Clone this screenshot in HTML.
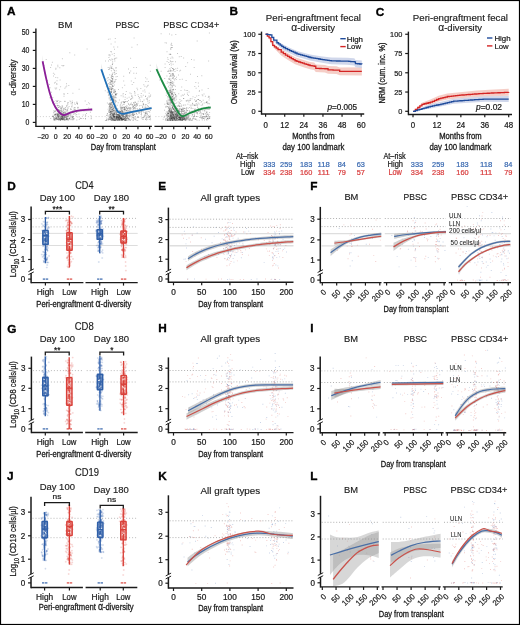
<!DOCTYPE html>
<html><head><meta charset="utf-8"><style>
html,body{margin:0;padding:0;background:#fff;width:520px;height:625px;overflow:hidden}
svg{display:block;will-change:transform}
text{font-family:"Liberation Sans", sans-serif}
</style></head><body>
<svg xmlns="http://www.w3.org/2000/svg" width="520" height="625" viewBox="0 0 520 625">
<rect x="0.5" y="0.5" width="519" height="624" fill="none" stroke="#000" stroke-width="1.2"/>
<text x="6.90" y="15.20" font-size="11.8" font-weight="bold" fill="#000" stroke="#000" stroke-width="0.35">A</text>
<text x="229.50" y="15.20" font-size="11.8" font-weight="bold" fill="#000" stroke="#000" stroke-width="0.35">B</text>
<text x="375.70" y="15.90" font-size="11.8" font-weight="bold" fill="#000" stroke="#000" stroke-width="0.35">C</text>
<text x="7.30" y="190.00" font-size="11.8" font-weight="bold" fill="#000" stroke="#000" stroke-width="0.35">D</text>
<text x="158.30" y="189.60" font-size="11.8" font-weight="bold" fill="#000" stroke="#000" stroke-width="0.35">E</text>
<text x="310.20" y="189.60" font-size="11.8" font-weight="bold" fill="#000" stroke="#000" stroke-width="0.35">F</text>
<text x="7.30" y="332.50" font-size="11.8" font-weight="bold" fill="#000" stroke="#000" stroke-width="0.35">G</text>
<text x="158.30" y="332.20" font-size="11.8" font-weight="bold" fill="#000" stroke="#000" stroke-width="0.35">H</text>
<text x="310.30" y="332.20" font-size="11.8" font-weight="bold" fill="#000" stroke="#000" stroke-width="0.35">I</text>
<text x="7.10" y="479.80" font-size="11.8" font-weight="bold" fill="#000" stroke="#000" stroke-width="0.35">J</text>
<text x="158.30" y="479.60" font-size="11.8" font-weight="bold" fill="#000" stroke="#000" stroke-width="0.35">K</text>
<text x="310.30" y="479.60" font-size="11.8" font-weight="bold" fill="#000" stroke="#000" stroke-width="0.35">L</text>
<line x1="35.90" y1="28.50" x2="35.90" y2="127.10" stroke="#1a1a1a" stroke-width="1.4"/>
<line x1="32.80" y1="122.40" x2="35.90" y2="122.40" stroke="#1a1a1a" stroke-width="1.2"/>
<text x="29.40" y="125.35" font-size="8.3" text-anchor="end" fill="#1a1a1a" textLength="3.85" lengthAdjust="spacingAndGlyphs" stroke="#1a1a1a" stroke-width="0.22">0</text>
<line x1="32.80" y1="104.40" x2="35.90" y2="104.40" stroke="#1a1a1a" stroke-width="1.2"/>
<text x="29.40" y="107.35" font-size="8.3" text-anchor="end" fill="#1a1a1a" textLength="7.7" lengthAdjust="spacingAndGlyphs" stroke="#1a1a1a" stroke-width="0.22">10</text>
<line x1="32.80" y1="86.40" x2="35.90" y2="86.40" stroke="#1a1a1a" stroke-width="1.2"/>
<text x="29.40" y="89.35" font-size="8.3" text-anchor="end" fill="#1a1a1a" textLength="7.7" lengthAdjust="spacingAndGlyphs" stroke="#1a1a1a" stroke-width="0.22">20</text>
<line x1="32.80" y1="68.40" x2="35.90" y2="68.40" stroke="#1a1a1a" stroke-width="1.2"/>
<text x="29.40" y="71.35" font-size="8.3" text-anchor="end" fill="#1a1a1a" textLength="7.7" lengthAdjust="spacingAndGlyphs" stroke="#1a1a1a" stroke-width="0.22">30</text>
<line x1="32.80" y1="50.40" x2="35.90" y2="50.40" stroke="#1a1a1a" stroke-width="1.2"/>
<text x="29.40" y="53.35" font-size="8.3" text-anchor="end" fill="#1a1a1a" textLength="7.7" lengthAdjust="spacingAndGlyphs" stroke="#1a1a1a" stroke-width="0.22">40</text>
<line x1="32.80" y1="32.40" x2="35.90" y2="32.40" stroke="#1a1a1a" stroke-width="1.2"/>
<text x="29.40" y="35.35" font-size="8.3" text-anchor="end" fill="#1a1a1a" textLength="7.7" lengthAdjust="spacingAndGlyphs" stroke="#1a1a1a" stroke-width="0.22">50</text>
<text x="16.40" y="77.50" font-size="8.6" text-anchor="middle" fill="#1a1a1a" textLength="36" lengthAdjust="spacingAndGlyphs" stroke="#1a1a1a" stroke-width="0.22" transform="rotate(-90 16.40 77.50)"><tspan font-family="Liberation Sans">α</tspan>-diversity</text>
<text x="65.20" y="27.90" font-size="9.6" text-anchor="middle" fill="#1a1a1a" textLength="14.3" lengthAdjust="spacingAndGlyphs" stroke="#1a1a1a" stroke-width="0.15">BM</text>
<line x1="36.90" y1="116.60" x2="92.70" y2="116.60" stroke="#c4c4c4" stroke-width="0.8" stroke-dasharray="1,2"/>
<path fill="#2a2a2a" fill-opacity="0.26" d="M68.1 114.4h1v1h-1zM61.6 117.0h1v1h-1zM59.5 109.9h1v1h-1zM57.3 64.7h1v1h-1zM77.5 107.2h1v1h-1zM73.5 107.8h1v1h-1zM61.0 116.2h1v1h-1zM72.6 116.5h1v1h-1zM76.2 113.9h1v1h-1zM64.8 112.8h1v1h-1zM77.3 116.6h1v1h-1zM63.0 112.4h1v1h-1zM57.7 114.0h1v1h-1zM57.4 115.5h1v1h-1zM51.9 61.8h1v1h-1zM57.8 116.0h1v1h-1zM58.3 111.1h1v1h-1zM61.8 118.6h1v1h-1zM72.6 118.6h1v1h-1zM61.6 115.5h1v1h-1z"/>
<path fill="#2a2a2a" fill-opacity="0.26" d="M88.2 107.6h1v1h-1zM61.0 112.2h1v1h-1zM61.8 116.6h1v1h-1zM66.0 83.2h1v1h-1zM63.1 114.3h1v1h-1zM63.1 116.7h1v1h-1zM62.8 119.0h1v1h-1zM79.8 109.2h1v1h-1zM77.0 103.8h1v1h-1zM43.4 65.0h1v1h-1zM69.4 115.2h1v1h-1zM55.8 107.3h1v1h-1zM66.2 105.0h1v1h-1zM51.9 115.7h1v1h-1zM85.2 115.3h1v1h-1zM66.1 118.6h1v1h-1zM68.7 117.8h1v1h-1zM73.5 112.8h1v1h-1zM62.9 114.7h1v1h-1zM63.3 112.8h1v1h-1z"/>
<path fill="#2a2a2a" fill-opacity="0.26" d="M66.2 106.0h1v1h-1zM58.8 113.1h1v1h-1zM63.3 108.5h1v1h-1zM64.3 117.0h1v1h-1zM60.3 106.9h1v1h-1zM65.3 119.4h1v1h-1zM56.3 101.2h1v1h-1zM53.6 118.8h1v1h-1zM61.5 114.3h1v1h-1zM65.0 109.1h1v1h-1zM86.6 48.4h1v1h-1zM66.9 118.3h1v1h-1zM73.9 106.9h1v1h-1zM57.4 114.7h1v1h-1zM59.1 111.3h1v1h-1zM77.3 107.4h1v1h-1zM59.5 118.0h1v1h-1zM59.2 116.8h1v1h-1zM57.4 66.3h1v1h-1zM56.8 117.0h1v1h-1z"/>
<path fill="#2a2a2a" fill-opacity="0.26" d="M52.6 103.3h1v1h-1zM60.8 111.4h1v1h-1zM80.3 118.1h1v1h-1zM61.5 111.1h1v1h-1zM71.8 103.5h1v1h-1zM57.0 113.8h1v1h-1zM68.4 112.3h1v1h-1zM70.5 119.3h1v1h-1zM54.8 119.4h1v1h-1zM56.0 117.3h1v1h-1zM85.0 118.2h1v1h-1zM59.0 109.7h1v1h-1zM64.9 112.6h1v1h-1zM64.5 115.0h1v1h-1zM65.0 113.6h1v1h-1zM56.7 114.8h1v1h-1zM53.8 111.3h1v1h-1zM53.2 111.7h1v1h-1zM45.7 59.0h1v1h-1zM59.3 114.8h1v1h-1z"/>
<path fill="#2a2a2a" fill-opacity="0.26" d="M61.7 117.7h1v1h-1zM55.3 88.6h1v1h-1zM66.1 118.2h1v1h-1zM55.4 67.7h1v1h-1zM66.8 116.4h1v1h-1zM60.7 117.7h1v1h-1zM54.2 114.1h1v1h-1zM63.7 111.6h1v1h-1zM62.1 114.5h1v1h-1zM61.3 112.4h1v1h-1zM60.6 109.7h1v1h-1zM60.5 118.3h1v1h-1zM60.5 107.9h1v1h-1zM57.5 115.5h1v1h-1zM61.6 117.8h1v1h-1zM90.8 117.6h1v1h-1zM59.4 119.4h1v1h-1zM62.3 118.6h1v1h-1zM56.5 116.0h1v1h-1zM55.6 118.3h1v1h-1z"/>
<path fill="#2a2a2a" fill-opacity="0.26" d="M62.9 113.4h1v1h-1zM57.7 119.3h1v1h-1zM61.2 109.2h1v1h-1zM64.5 108.5h1v1h-1zM72.5 115.9h1v1h-1zM57.8 111.4h1v1h-1zM64.4 113.8h1v1h-1zM64.3 100.8h1v1h-1zM56.6 109.0h1v1h-1zM63.7 108.2h1v1h-1zM63.6 94.1h1v1h-1zM79.5 117.4h1v1h-1zM67.5 113.7h1v1h-1zM64.3 114.0h1v1h-1zM71.9 101.9h1v1h-1zM53.5 109.9h1v1h-1zM60.8 118.9h1v1h-1zM62.2 117.8h1v1h-1zM60.8 109.2h1v1h-1zM58.9 105.9h1v1h-1z"/>
<path fill="#2a2a2a" fill-opacity="0.26" d="M64.5 111.3h1v1h-1zM57.8 113.8h1v1h-1zM58.2 118.1h1v1h-1zM61.0 118.1h1v1h-1zM62.4 110.6h1v1h-1zM64.1 119.3h1v1h-1zM72.0 117.0h1v1h-1zM60.4 114.4h1v1h-1zM63.6 117.2h1v1h-1zM48.9 83.9h1v1h-1zM71.6 102.3h1v1h-1zM67.8 102.1h1v1h-1zM77.5 106.8h1v1h-1zM65.8 117.7h1v1h-1zM56.5 118.6h1v1h-1zM70.2 101.2h1v1h-1zM60.4 114.8h1v1h-1zM63.0 115.1h1v1h-1zM62.6 65.6h1v1h-1zM69.5 100.5h1v1h-1z"/>
<path fill="#2a2a2a" fill-opacity="0.26" d="M62.0 113.2h1v1h-1zM70.0 108.3h1v1h-1zM53.5 118.8h1v1h-1zM52.6 115.9h1v1h-1zM89.1 103.2h1v1h-1zM63.9 118.6h1v1h-1zM61.8 116.5h1v1h-1zM80.7 118.1h1v1h-1zM57.7 115.7h1v1h-1zM62.5 114.3h1v1h-1zM60.3 106.0h1v1h-1zM67.5 118.7h1v1h-1zM62.1 116.9h1v1h-1zM66.2 85.6h1v1h-1zM71.8 100.5h1v1h-1zM57.5 100.1h1v1h-1zM59.4 115.3h1v1h-1zM64.6 116.0h1v1h-1zM66.1 115.9h1v1h-1zM61.4 119.0h1v1h-1z"/>
<path fill="#2a2a2a" fill-opacity="0.26" d="M54.6 116.9h1v1h-1zM62.8 112.4h1v1h-1zM65.3 116.8h1v1h-1zM74.2 54.5h1v1h-1zM61.5 64.9h1v1h-1zM60.4 117.9h1v1h-1zM76.9 102.9h1v1h-1zM69.4 118.4h1v1h-1zM60.2 108.2h1v1h-1zM61.4 114.3h1v1h-1zM59.2 118.1h1v1h-1zM88.1 102.2h1v1h-1zM62.8 118.7h1v1h-1zM66.2 116.6h1v1h-1zM64.3 117.2h1v1h-1zM57.3 105.1h1v1h-1zM84.9 114.2h1v1h-1zM56.3 117.6h1v1h-1zM56.9 111.1h1v1h-1zM82.8 117.9h1v1h-1z"/>
<path fill="#2a2a2a" fill-opacity="0.26" d="M52.3 96.9h1v1h-1zM57.6 115.8h1v1h-1zM70.9 108.8h1v1h-1zM50.2 117.9h1v1h-1zM62.0 105.7h1v1h-1zM60.4 113.7h1v1h-1zM58.9 115.5h1v1h-1zM74.6 104.1h1v1h-1zM58.5 104.9h1v1h-1zM75.3 114.5h1v1h-1zM86.0 112.9h1v1h-1zM61.2 118.6h1v1h-1zM62.9 117.9h1v1h-1zM74.2 109.0h1v1h-1zM55.4 112.8h1v1h-1zM52.9 72.8h1v1h-1zM58.3 119.2h1v1h-1zM63.5 95.8h1v1h-1zM59.4 119.1h1v1h-1zM67.2 92.9h1v1h-1z"/>
<path fill="#2a2a2a" fill-opacity="0.26" d="M58.3 109.8h1v1h-1zM89.9 111.8h1v1h-1zM56.1 119.2h1v1h-1zM64.4 87.8h1v1h-1zM55.1 113.8h1v1h-1zM62.0 118.8h1v1h-1zM58.0 110.8h1v1h-1zM72.2 117.6h1v1h-1zM66.5 118.4h1v1h-1zM72.4 92.8h1v1h-1zM64.5 101.0h1v1h-1zM69.6 112.6h1v1h-1zM57.4 105.1h1v1h-1zM57.4 106.5h1v1h-1zM65.0 115.2h1v1h-1zM57.5 110.3h1v1h-1zM58.5 116.4h1v1h-1zM60.2 119.7h1v1h-1zM61.0 118.9h1v1h-1zM52.7 114.8h1v1h-1z"/>
<path fill="#2a2a2a" fill-opacity="0.26" d="M61.9 118.6h1v1h-1zM54.8 117.7h1v1h-1zM56.8 108.5h1v1h-1zM55.9 114.4h1v1h-1zM60.5 109.9h1v1h-1zM60.5 117.7h1v1h-1zM57.8 117.2h1v1h-1zM65.3 86.5h1v1h-1zM57.8 112.7h1v1h-1zM61.0 116.2h1v1h-1zM62.2 116.0h1v1h-1zM57.3 114.7h1v1h-1zM52.8 116.0h1v1h-1zM67.5 103.6h1v1h-1zM53.0 75.6h1v1h-1zM90.4 115.3h1v1h-1zM67.0 102.5h1v1h-1zM55.7 117.7h1v1h-1zM49.5 97.3h1v1h-1zM61.9 58.2h1v1h-1z"/>
<path fill="#2a2a2a" fill-opacity="0.26" d="M68.6 113.0h1v1h-1zM55.7 117.8h1v1h-1zM70.0 114.5h1v1h-1zM50.1 67.0h1v1h-1zM58.6 118.5h1v1h-1zM56.2 117.1h1v1h-1zM66.5 118.5h1v1h-1zM63.1 115.9h1v1h-1zM76.3 101.5h1v1h-1zM63.2 118.5h1v1h-1zM68.0 115.7h1v1h-1zM71.3 106.4h1v1h-1zM71.2 106.1h1v1h-1zM65.9 113.6h1v1h-1zM57.8 109.2h1v1h-1zM72.1 118.8h1v1h-1zM57.5 117.4h1v1h-1zM63.3 109.6h1v1h-1zM61.6 117.9h1v1h-1zM61.4 118.0h1v1h-1z"/>
<path fill="#2a2a2a" fill-opacity="0.26" d="M57.4 118.4h1v1h-1zM69.0 112.9h1v1h-1zM54.5 111.0h1v1h-1zM56.8 108.9h1v1h-1zM53.4 112.4h1v1h-1zM72.5 116.4h1v1h-1zM57.5 115.5h1v1h-1zM55.6 99.9h1v1h-1zM66.4 117.6h1v1h-1zM53.8 117.9h1v1h-1zM84.7 100.4h1v1h-1zM55.1 106.7h1v1h-1zM55.3 68.7h1v1h-1zM53.0 117.5h1v1h-1zM64.8 113.8h1v1h-1zM85.0 118.2h1v1h-1zM78.6 88.8h1v1h-1zM60.8 113.9h1v1h-1zM60.9 117.3h1v1h-1zM59.4 113.0h1v1h-1z"/>
<path fill="#2a2a2a" fill-opacity="0.26" d="M54.4 114.0h1v1h-1zM59.7 116.2h1v1h-1zM71.2 116.3h1v1h-1zM61.9 116.7h1v1h-1zM58.2 113.3h1v1h-1zM63.7 117.9h1v1h-1zM73.2 109.4h1v1h-1zM64.0 118.1h1v1h-1zM66.7 118.7h1v1h-1zM64.3 116.1h1v1h-1zM57.0 119.0h1v1h-1zM69.3 118.7h1v1h-1zM63.4 114.8h1v1h-1zM68.3 85.0h1v1h-1zM68.6 117.7h1v1h-1zM63.5 93.0h1v1h-1zM67.2 110.5h1v1h-1zM53.5 100.9h1v1h-1zM62.6 116.3h1v1h-1zM56.4 114.0h1v1h-1z"/>
<path fill="#2a2a2a" fill-opacity="0.26" d="M66.9 114.4h1v1h-1zM68.6 113.4h1v1h-1zM60.9 108.0h1v1h-1zM61.8 115.7h1v1h-1zM62.6 118.2h1v1h-1zM70.3 108.9h1v1h-1zM60.3 116.4h1v1h-1zM63.6 114.2h1v1h-1zM78.5 110.6h1v1h-1zM60.6 117.7h1v1h-1zM53.9 119.6h1v1h-1zM61.9 116.6h1v1h-1zM65.6 119.1h1v1h-1zM67.7 118.8h1v1h-1zM62.0 119.1h1v1h-1zM72.4 119.5h1v1h-1zM57.8 108.9h1v1h-1zM74.1 110.6h1v1h-1zM73.7 110.6h1v1h-1zM65.6 114.8h1v1h-1z"/>
<path fill="#2a2a2a" fill-opacity="0.26" d="M70.6 103.2h1v1h-1zM50.9 91.8h1v1h-1zM66.2 119.3h1v1h-1zM53.3 117.6h1v1h-1zM55.3 113.9h1v1h-1zM62.2 116.4h1v1h-1zM67.6 119.7h1v1h-1zM58.3 107.0h1v1h-1zM57.4 113.6h1v1h-1zM59.3 67.2h1v1h-1zM57.6 115.8h1v1h-1zM54.0 82.6h1v1h-1zM62.4 116.8h1v1h-1zM60.4 119.2h1v1h-1zM57.5 118.6h1v1h-1zM65.4 116.5h1v1h-1zM76.2 102.7h1v1h-1zM56.5 101.0h1v1h-1zM76.3 119.5h1v1h-1zM58.1 119.2h1v1h-1z"/>
<path fill="#2a2a2a" fill-opacity="0.26" d="M60.3 100.9h1v1h-1zM68.8 118.1h1v1h-1zM60.6 115.8h1v1h-1zM65.7 110.8h1v1h-1zM65.3 112.2h1v1h-1zM62.2 106.8h1v1h-1zM59.8 116.4h1v1h-1zM73.4 118.8h1v1h-1zM65.1 107.0h1v1h-1zM74.8 107.3h1v1h-1zM55.2 110.1h1v1h-1zM62.2 112.9h1v1h-1zM74.6 109.0h1v1h-1zM68.6 105.9h1v1h-1zM66.9 107.6h1v1h-1zM64.7 107.3h1v1h-1zM57.0 100.8h1v1h-1zM59.2 100.7h1v1h-1zM64.9 114.4h1v1h-1zM56.5 108.9h1v1h-1z"/>
<path fill="#2a2a2a" fill-opacity="0.26" d="M54.6 114.5h1v1h-1zM66.7 108.9h1v1h-1zM55.4 102.8h1v1h-1zM60.8 114.3h1v1h-1zM56.4 113.1h1v1h-1zM66.2 115.2h1v1h-1zM54.2 119.7h1v1h-1zM58.1 114.6h1v1h-1zM76.1 111.4h1v1h-1zM66.1 117.6h1v1h-1zM64.4 115.6h1v1h-1zM55.0 114.1h1v1h-1zM64.4 119.1h1v1h-1zM63.6 117.0h1v1h-1zM59.0 109.9h1v1h-1zM56.1 109.2h1v1h-1zM56.4 83.7h1v1h-1zM65.6 117.0h1v1h-1zM56.1 118.6h1v1h-1zM62.8 110.2h1v1h-1z"/>
<path fill="#2a2a2a" fill-opacity="0.26" d="M58.2 117.1h1v1h-1zM63.7 115.0h1v1h-1zM57.4 118.6h1v1h-1zM71.1 118.4h1v1h-1zM60.4 112.6h1v1h-1zM52.7 116.0h1v1h-1zM61.0 118.0h1v1h-1zM58.1 111.7h1v1h-1zM64.5 115.4h1v1h-1zM55.5 116.1h1v1h-1zM63.5 119.4h1v1h-1zM67.6 115.2h1v1h-1zM57.6 114.5h1v1h-1zM68.5 114.3h1v1h-1zM60.4 111.3h1v1h-1zM72.2 110.2h1v1h-1zM58.6 119.3h1v1h-1zM53.2 119.4h1v1h-1zM61.9 118.4h1v1h-1zM59.4 111.4h1v1h-1z"/>
<path fill="#2a2a2a" fill-opacity="0.26" d="M67.0 113.1h1v1h-1zM62.0 114.7h1v1h-1zM59.8 111.7h1v1h-1zM63.2 113.8h1v1h-1zM54.6 87.4h1v1h-1zM65.5 117.8h1v1h-1zM65.5 114.1h1v1h-1zM59.8 118.5h1v1h-1zM71.5 114.7h1v1h-1zM61.8 115.6h1v1h-1zM58.4 109.4h1v1h-1zM61.6 115.0h1v1h-1zM62.7 108.3h1v1h-1zM70.3 114.2h1v1h-1zM58.2 116.9h1v1h-1zM67.7 116.2h1v1h-1zM60.5 116.5h1v1h-1zM59.2 112.9h1v1h-1zM79.1 110.0h1v1h-1zM63.6 115.8h1v1h-1z"/>
<path fill="#2a2a2a" fill-opacity="0.26" d="M62.1 114.3h1v1h-1zM67.6 119.5h1v1h-1zM67.9 107.6h1v1h-1zM59.1 118.5h1v1h-1zM63.8 114.6h1v1h-1zM73.3 114.1h1v1h-1zM58.7 102.2h1v1h-1zM62.1 116.1h1v1h-1zM54.6 113.8h1v1h-1zM86.4 103.9h1v1h-1zM54.1 73.8h1v1h-1zM76.7 102.4h1v1h-1zM62.0 119.6h1v1h-1zM56.8 103.3h1v1h-1zM74.1 102.5h1v1h-1zM66.8 116.0h1v1h-1zM59.2 113.5h1v1h-1zM60.1 86.3h1v1h-1zM66.8 104.5h1v1h-1zM65.5 109.5h1v1h-1z"/>
<path fill="#2a2a2a" fill-opacity="0.26" d="M61.5 111.3h1v1h-1zM59.6 79.4h1v1h-1zM58.6 115.9h1v1h-1zM58.3 106.9h1v1h-1zM56.8 113.2h1v1h-1zM69.2 118.0h1v1h-1zM55.2 115.0h1v1h-1zM58.6 114.4h1v1h-1zM78.8 119.1h1v1h-1zM55.0 107.5h1v1h-1zM66.6 110.2h1v1h-1zM64.6 119.3h1v1h-1zM69.3 52.2h1v1h-1zM76.2 112.0h1v1h-1zM63.2 119.2h1v1h-1zM63.3 116.6h1v1h-1zM62.6 118.5h1v1h-1zM59.1 89.3h1v1h-1zM74.7 113.0h1v1h-1zM73.3 111.8h1v1h-1z"/>
<path fill="#2a2a2a" fill-opacity="0.26" d="M49.5 87.3h1v1h-1zM68.2 114.3h1v1h-1zM56.2 83.3h1v1h-1zM64.2 119.7h1v1h-1zM56.5 80.3h1v1h-1zM67.2 118.4h1v1h-1zM66.0 119.1h1v1h-1zM63.8 112.8h1v1h-1zM54.8 118.5h1v1h-1zM62.9 112.1h1v1h-1zM60.1 113.8h1v1h-1zM56.5 105.3h1v1h-1zM82.7 114.6h1v1h-1zM54.9 118.5h1v1h-1zM53.9 115.0h1v1h-1zM72.9 118.2h1v1h-1zM56.1 87.6h1v1h-1zM51.0 64.6h1v1h-1zM56.3 118.4h1v1h-1zM55.3 77.0h1v1h-1z"/>
<path fill="#2a2a2a" fill-opacity="0.26" d="M71.6 105.3h1v1h-1zM62.7 117.4h1v1h-1zM59.3 113.7h1v1h-1zM64.5 117.2h1v1h-1zM83.5 110.2h1v1h-1zM57.2 77.3h1v1h-1zM55.4 106.9h1v1h-1zM67.1 112.5h1v1h-1zM73.6 117.9h1v1h-1zM58.8 112.0h1v1h-1zM66.6 115.3h1v1h-1zM78.4 113.5h1v1h-1zM60.7 110.4h1v1h-1zM54.9 81.7h1v1h-1zM90.7 118.3h1v1h-1zM61.3 106.9h1v1h-1zM54.7 111.1h1v1h-1zM58.6 111.0h1v1h-1zM62.0 113.2h1v1h-1zM59.9 119.6h1v1h-1z"/>
<path fill="#2a2a2a" fill-opacity="0.26" d="M56.8 111.6h1v1h-1zM47.0 80.1h1v1h-1zM60.7 114.2h1v1h-1zM54.4 118.8h1v1h-1zM53.5 116.9h1v1h-1zM63.6 115.4h1v1h-1zM57.2 115.3h1v1h-1zM62.4 112.4h1v1h-1zM55.0 118.5h1v1h-1zM71.1 116.5h1v1h-1zM58.8 118.5h1v1h-1zM64.8 113.2h1v1h-1zM61.6 105.2h1v1h-1zM67.1 109.6h1v1h-1zM64.3 112.0h1v1h-1zM60.1 119.0h1v1h-1zM60.1 117.3h1v1h-1zM69.6 117.0h1v1h-1zM53.9 118.9h1v1h-1zM56.8 114.0h1v1h-1z"/>
<path fill="#2a2a2a" fill-opacity="0.26" d="M72.1 116.3h1v1h-1zM55.3 117.7h1v1h-1zM63.3 64.9h1v1h-1zM60.0 119.4h1v1h-1z"/>
<path d="M42.30,55.30 L46.10,76.70 L49.50,90.50 L53.00,100.90 L57.60,109.00 L63.40,113.60 L70.30,111.30 L78.40,109.20 L92.20,108.10 L92.20,110.90 L78.40,112.00 L70.30,114.10 L63.40,116.40 L57.60,111.80 L53.00,103.70 L49.50,93.30 L46.10,79.50 L42.60,62.70Z" fill="#d4d4d4" fill-opacity="0.55"/>
<path d="M42.60,61.30 C43.18,64.10 44.95,73.00 46.10,78.10 C47.25,83.20 48.35,87.87 49.50,91.90 C50.65,95.93 51.65,99.22 53.00,102.30 C54.35,105.38 55.87,108.28 57.60,110.40 C59.33,112.52 61.28,114.62 63.40,115.00 C65.52,115.38 67.80,113.43 70.30,112.70 C72.80,111.97 74.75,111.13 78.40,110.60 C82.05,110.07 89.90,109.68 92.20,109.50" stroke="#8b1e98" stroke-width="1.8" fill="none" stroke-linejoin="round"/>
<line x1="35.90" y1="126.40" x2="92.70" y2="126.40" stroke="#1a1a1a" stroke-width="1.4"/>
<line x1="44.13" y1="126.40" x2="44.13" y2="129.30" stroke="#1a1a1a" stroke-width="1.2"/>
<text x="43.23" y="139.00" font-size="7.8" text-anchor="middle" fill="#1a1a1a" textLength="11.2" lengthAdjust="spacingAndGlyphs" stroke="#1a1a1a" stroke-width="0.22">–20</text>
<line x1="55.70" y1="126.40" x2="55.70" y2="129.30" stroke="#1a1a1a" stroke-width="1.2"/>
<text x="55.70" y="139.00" font-size="7.8" text-anchor="middle" fill="#1a1a1a" textLength="3.9" lengthAdjust="spacingAndGlyphs" stroke="#1a1a1a" stroke-width="0.22">0</text>
<line x1="67.27" y1="126.40" x2="67.27" y2="129.30" stroke="#1a1a1a" stroke-width="1.2"/>
<text x="67.27" y="139.00" font-size="7.8" text-anchor="middle" fill="#1a1a1a" textLength="7.8" lengthAdjust="spacingAndGlyphs" stroke="#1a1a1a" stroke-width="0.22">20</text>
<line x1="78.84" y1="126.40" x2="78.84" y2="129.30" stroke="#1a1a1a" stroke-width="1.2"/>
<text x="78.84" y="139.00" font-size="7.8" text-anchor="middle" fill="#1a1a1a" textLength="7.8" lengthAdjust="spacingAndGlyphs" stroke="#1a1a1a" stroke-width="0.22">40</text>
<line x1="90.41" y1="126.40" x2="90.41" y2="129.30" stroke="#1a1a1a" stroke-width="1.2"/>
<text x="90.41" y="139.00" font-size="7.8" text-anchor="middle" fill="#1a1a1a" textLength="7.8" lengthAdjust="spacingAndGlyphs" stroke="#1a1a1a" stroke-width="0.22">60</text>
<text x="127.40" y="27.90" font-size="9.6" text-anchor="middle" fill="#1a1a1a" textLength="23.8" lengthAdjust="spacingAndGlyphs" stroke="#1a1a1a" stroke-width="0.15">PBSC</text>
<line x1="95.60" y1="116.60" x2="151.90" y2="116.60" stroke="#c4c4c4" stroke-width="0.8" stroke-dasharray="1,2"/>
<path fill="#2a2a2a" fill-opacity="0.26" d="M107.3 80.2h1v1h-1zM143.0 111.4h1v1h-1zM122.9 118.9h1v1h-1zM113.0 116.0h1v1h-1zM121.0 112.4h1v1h-1zM108.9 115.7h1v1h-1zM111.4 103.6h1v1h-1zM117.4 114.2h1v1h-1zM122.0 107.5h1v1h-1zM134.3 102.3h1v1h-1zM128.2 112.2h1v1h-1zM124.5 109.1h1v1h-1zM108.6 107.6h1v1h-1zM122.6 114.1h1v1h-1zM120.4 117.9h1v1h-1zM130.4 111.4h1v1h-1zM114.8 97.3h1v1h-1zM122.7 93.0h1v1h-1zM123.7 118.1h1v1h-1zM116.3 110.3h1v1h-1z"/>
<path fill="#2a2a2a" fill-opacity="0.26" d="M130.8 80.5h1v1h-1zM110.8 118.5h1v1h-1zM120.9 118.2h1v1h-1zM147.8 115.8h1v1h-1zM112.1 98.8h1v1h-1zM115.9 118.6h1v1h-1zM115.7 67.3h1v1h-1zM112.4 88.0h1v1h-1zM109.5 55.3h1v1h-1zM116.2 116.1h1v1h-1zM126.5 111.2h1v1h-1zM118.8 114.4h1v1h-1zM118.4 111.4h1v1h-1zM113.4 69.5h1v1h-1zM140.6 114.0h1v1h-1zM109.0 102.7h1v1h-1zM107.4 118.5h1v1h-1zM113.5 92.4h1v1h-1zM119.4 110.8h1v1h-1zM122.4 106.9h1v1h-1z"/>
<path fill="#2a2a2a" fill-opacity="0.26" d="M114.8 118.9h1v1h-1zM113.7 109.4h1v1h-1zM135.9 72.7h1v1h-1zM115.0 111.1h1v1h-1zM124.9 117.4h1v1h-1zM108.7 118.2h1v1h-1zM122.4 113.8h1v1h-1zM109.6 114.2h1v1h-1zM126.9 101.3h1v1h-1zM139.1 112.6h1v1h-1zM113.6 98.3h1v1h-1zM120.0 117.9h1v1h-1zM120.3 116.7h1v1h-1zM133.1 115.1h1v1h-1zM115.5 76.3h1v1h-1zM117.0 117.4h1v1h-1zM131.2 96.1h1v1h-1zM115.6 111.6h1v1h-1zM120.7 111.8h1v1h-1zM113.0 95.2h1v1h-1z"/>
<path fill="#2a2a2a" fill-opacity="0.26" d="M117.3 118.6h1v1h-1zM132.1 117.1h1v1h-1zM113.8 55.2h1v1h-1zM125.4 119.5h1v1h-1zM117.5 119.2h1v1h-1zM122.0 118.6h1v1h-1zM119.0 114.7h1v1h-1zM110.6 103.9h1v1h-1zM134.9 116.2h1v1h-1zM118.0 89.0h1v1h-1zM112.6 113.9h1v1h-1zM112.7 76.6h1v1h-1zM115.1 93.7h1v1h-1zM112.0 112.7h1v1h-1zM110.5 105.5h1v1h-1zM122.7 116.4h1v1h-1zM112.0 112.6h1v1h-1zM145.1 113.0h1v1h-1zM135.9 112.5h1v1h-1zM127.0 114.1h1v1h-1z"/>
<path fill="#2a2a2a" fill-opacity="0.26" d="M112.3 117.7h1v1h-1zM115.7 117.7h1v1h-1zM143.9 114.8h1v1h-1zM122.8 101.4h1v1h-1zM111.3 113.1h1v1h-1zM123.9 108.8h1v1h-1zM146.6 98.3h1v1h-1zM132.2 97.5h1v1h-1zM134.5 118.2h1v1h-1zM116.7 113.8h1v1h-1zM123.2 80.4h1v1h-1zM121.4 112.9h1v1h-1zM112.9 115.0h1v1h-1zM121.1 116.8h1v1h-1zM111.5 82.2h1v1h-1zM137.6 116.2h1v1h-1zM118.0 119.1h1v1h-1zM118.1 116.8h1v1h-1zM113.5 116.0h1v1h-1zM113.3 46.4h1v1h-1z"/>
<path fill="#2a2a2a" fill-opacity="0.26" d="M109.6 87.7h1v1h-1zM115.8 116.5h1v1h-1zM116.2 114.7h1v1h-1zM114.7 79.3h1v1h-1zM116.7 118.9h1v1h-1zM121.9 115.6h1v1h-1zM142.2 101.2h1v1h-1zM124.8 119.2h1v1h-1zM126.0 115.1h1v1h-1zM121.7 111.0h1v1h-1zM150.1 119.3h1v1h-1zM136.4 104.2h1v1h-1zM111.4 58.5h1v1h-1zM149.2 111.8h1v1h-1zM117.6 119.4h1v1h-1zM112.9 114.6h1v1h-1zM118.2 119.3h1v1h-1zM118.4 117.9h1v1h-1zM114.7 114.9h1v1h-1zM139.4 111.5h1v1h-1z"/>
<path fill="#2a2a2a" fill-opacity="0.26" d="M109.8 65.4h1v1h-1zM119.6 117.3h1v1h-1zM113.3 116.4h1v1h-1zM114.1 113.6h1v1h-1zM121.2 118.3h1v1h-1zM124.1 112.0h1v1h-1zM120.6 116.7h1v1h-1zM122.0 114.0h1v1h-1zM122.2 118.7h1v1h-1zM115.6 119.9h1v1h-1zM106.0 119.8h1v1h-1zM120.8 118.5h1v1h-1zM124.4 111.1h1v1h-1zM113.3 114.9h1v1h-1zM115.3 67.4h1v1h-1zM110.3 91.2h1v1h-1zM110.4 51.0h1v1h-1zM123.2 75.7h1v1h-1zM124.0 117.9h1v1h-1zM111.4 118.5h1v1h-1z"/>
<path fill="#2a2a2a" fill-opacity="0.26" d="M111.9 113.6h1v1h-1zM129.7 114.5h1v1h-1zM117.2 108.3h1v1h-1zM117.7 116.4h1v1h-1zM109.6 116.7h1v1h-1zM124.5 119.9h1v1h-1zM120.9 112.8h1v1h-1zM113.0 96.2h1v1h-1zM113.9 116.0h1v1h-1zM109.5 115.6h1v1h-1zM125.5 112.7h1v1h-1zM109.5 109.4h1v1h-1zM106.2 117.4h1v1h-1zM121.7 118.7h1v1h-1zM141.0 114.4h1v1h-1zM128.8 115.5h1v1h-1zM112.7 111.7h1v1h-1zM109.5 106.8h1v1h-1zM111.7 74.6h1v1h-1zM115.8 110.1h1v1h-1z"/>
<path fill="#2a2a2a" fill-opacity="0.26" d="M129.0 119.4h1v1h-1zM117.0 114.1h1v1h-1zM148.9 102.2h1v1h-1zM113.0 119.2h1v1h-1zM107.9 38.8h1v1h-1zM127.7 115.0h1v1h-1zM123.5 115.9h1v1h-1zM119.0 118.3h1v1h-1zM114.0 113.0h1v1h-1zM111.9 109.2h1v1h-1zM145.0 111.9h1v1h-1zM115.6 112.9h1v1h-1zM119.1 111.8h1v1h-1zM125.7 110.0h1v1h-1zM129.1 72.5h1v1h-1zM115.6 79.1h1v1h-1zM136.8 44.3h1v1h-1zM133.4 107.8h1v1h-1zM111.6 110.6h1v1h-1zM122.5 110.9h1v1h-1z"/>
<path fill="#2a2a2a" fill-opacity="0.26" d="M119.2 117.5h1v1h-1zM132.8 108.0h1v1h-1zM130.0 110.7h1v1h-1zM115.6 94.6h1v1h-1zM120.6 109.6h1v1h-1zM110.3 96.7h1v1h-1zM118.9 119.2h1v1h-1zM114.8 38.1h1v1h-1zM114.8 105.8h1v1h-1zM116.4 93.0h1v1h-1zM131.9 106.9h1v1h-1zM125.5 108.3h1v1h-1zM122.2 112.5h1v1h-1zM121.6 110.3h1v1h-1zM116.3 115.5h1v1h-1zM106.9 84.8h1v1h-1zM109.5 119.1h1v1h-1zM121.7 109.9h1v1h-1zM147.0 113.2h1v1h-1zM140.5 105.1h1v1h-1z"/>
<path fill="#2a2a2a" fill-opacity="0.26" d="M122.0 112.5h1v1h-1zM120.6 110.6h1v1h-1zM119.2 119.4h1v1h-1zM110.7 98.2h1v1h-1zM124.5 118.4h1v1h-1zM117.7 102.3h1v1h-1zM129.1 111.5h1v1h-1zM106.8 83.8h1v1h-1zM124.9 112.0h1v1h-1zM111.7 86.4h1v1h-1zM115.5 118.1h1v1h-1zM124.5 99.0h1v1h-1zM105.9 86.2h1v1h-1zM144.2 89.6h1v1h-1zM131.4 46.7h1v1h-1zM112.1 114.5h1v1h-1zM109.6 79.2h1v1h-1zM113.8 58.7h1v1h-1zM114.3 116.0h1v1h-1zM123.5 118.0h1v1h-1z"/>
<path fill="#2a2a2a" fill-opacity="0.26" d="M122.5 118.8h1v1h-1zM131.6 114.0h1v1h-1zM121.6 113.6h1v1h-1zM109.5 107.9h1v1h-1zM110.5 101.8h1v1h-1zM109.6 108.4h1v1h-1zM132.6 114.0h1v1h-1zM122.7 116.5h1v1h-1zM147.8 81.0h1v1h-1zM128.9 116.6h1v1h-1zM135.7 119.8h1v1h-1zM118.0 114.1h1v1h-1zM108.5 109.9h1v1h-1zM113.6 110.4h1v1h-1zM120.9 107.5h1v1h-1zM114.8 119.8h1v1h-1zM112.3 119.5h1v1h-1zM113.7 119.0h1v1h-1zM113.9 115.9h1v1h-1zM111.3 111.7h1v1h-1z"/>
<path fill="#2a2a2a" fill-opacity="0.26" d="M114.4 95.2h1v1h-1zM123.8 119.4h1v1h-1zM128.0 118.1h1v1h-1zM128.7 113.1h1v1h-1zM142.9 109.8h1v1h-1zM119.2 118.8h1v1h-1zM119.2 111.7h1v1h-1zM112.9 117.2h1v1h-1zM119.9 118.6h1v1h-1zM108.8 104.0h1v1h-1zM110.6 112.1h1v1h-1zM119.5 112.8h1v1h-1zM109.6 114.0h1v1h-1zM115.2 100.6h1v1h-1zM116.9 119.4h1v1h-1zM124.0 119.2h1v1h-1zM113.2 99.1h1v1h-1zM121.9 111.3h1v1h-1zM117.2 116.7h1v1h-1zM146.9 108.6h1v1h-1z"/>
<path fill="#2a2a2a" fill-opacity="0.26" d="M109.7 119.2h1v1h-1zM113.4 113.3h1v1h-1zM115.2 118.8h1v1h-1zM119.1 115.4h1v1h-1zM111.9 74.3h1v1h-1zM112.5 88.7h1v1h-1zM143.2 103.9h1v1h-1zM126.5 112.6h1v1h-1zM128.0 99.9h1v1h-1zM114.1 119.7h1v1h-1zM125.2 106.5h1v1h-1zM119.9 111.4h1v1h-1zM119.1 117.3h1v1h-1zM112.3 78.8h1v1h-1zM121.3 120.0h1v1h-1zM124.8 113.8h1v1h-1zM134.7 94.9h1v1h-1zM123.7 118.3h1v1h-1zM112.9 68.6h1v1h-1zM107.1 87.0h1v1h-1z"/>
<path fill="#2a2a2a" fill-opacity="0.26" d="M129.8 115.4h1v1h-1zM110.7 119.2h1v1h-1zM124.2 84.8h1v1h-1zM122.3 119.4h1v1h-1zM119.9 111.7h1v1h-1zM122.8 118.5h1v1h-1zM123.7 114.0h1v1h-1zM115.0 118.5h1v1h-1zM112.8 86.1h1v1h-1zM111.4 110.9h1v1h-1zM111.9 63.8h1v1h-1zM114.4 89.3h1v1h-1zM124.2 109.1h1v1h-1zM110.5 116.3h1v1h-1zM127.3 117.7h1v1h-1zM145.1 95.5h1v1h-1zM120.0 115.6h1v1h-1zM125.8 107.0h1v1h-1zM117.3 118.6h1v1h-1zM129.7 103.9h1v1h-1z"/>
<path fill="#2a2a2a" fill-opacity="0.26" d="M120.6 120.0h1v1h-1zM143.3 84.3h1v1h-1zM117.0 116.5h1v1h-1zM124.6 119.3h1v1h-1zM111.2 88.8h1v1h-1zM137.2 109.2h1v1h-1zM111.9 63.9h1v1h-1zM140.2 109.3h1v1h-1zM119.3 115.5h1v1h-1zM113.4 92.0h1v1h-1zM117.9 117.7h1v1h-1zM119.7 106.6h1v1h-1zM109.3 91.5h1v1h-1zM150.2 107.7h1v1h-1zM109.1 108.9h1v1h-1zM126.0 118.7h1v1h-1zM113.2 100.7h1v1h-1zM123.8 106.8h1v1h-1zM120.9 118.6h1v1h-1zM110.5 80.4h1v1h-1z"/>
<path fill="#2a2a2a" fill-opacity="0.26" d="M122.7 116.7h1v1h-1zM119.3 111.3h1v1h-1zM111.2 103.7h1v1h-1zM112.3 108.4h1v1h-1zM115.3 94.8h1v1h-1zM110.3 59.8h1v1h-1zM114.5 102.4h1v1h-1zM125.1 116.5h1v1h-1zM134.0 91.0h1v1h-1zM126.8 117.0h1v1h-1zM114.4 116.5h1v1h-1zM115.9 72.9h1v1h-1zM126.5 119.5h1v1h-1zM112.2 97.9h1v1h-1zM112.2 78.8h1v1h-1zM110.9 92.2h1v1h-1zM148.9 107.1h1v1h-1zM123.1 118.5h1v1h-1zM112.6 81.6h1v1h-1zM111.6 108.2h1v1h-1z"/>
<path fill="#2a2a2a" fill-opacity="0.26" d="M129.8 111.6h1v1h-1zM142.2 106.8h1v1h-1zM111.2 107.0h1v1h-1zM121.6 117.1h1v1h-1zM112.8 117.7h1v1h-1zM104.8 90.2h1v1h-1zM112.9 89.8h1v1h-1zM110.0 112.8h1v1h-1zM127.7 114.4h1v1h-1zM108.5 88.7h1v1h-1zM134.8 77.7h1v1h-1zM109.4 67.1h1v1h-1zM118.6 120.0h1v1h-1zM110.3 111.3h1v1h-1zM110.1 96.2h1v1h-1zM122.2 119.9h1v1h-1zM108.0 60.4h1v1h-1zM109.6 92.6h1v1h-1zM119.7 111.2h1v1h-1zM120.5 119.4h1v1h-1z"/>
<path fill="#2a2a2a" fill-opacity="0.26" d="M110.1 82.6h1v1h-1zM107.9 94.9h1v1h-1zM115.4 116.9h1v1h-1zM123.2 108.7h1v1h-1zM126.8 115.3h1v1h-1zM120.3 113.4h1v1h-1zM113.3 119.7h1v1h-1zM120.3 118.3h1v1h-1zM148.8 115.9h1v1h-1zM113.9 84.6h1v1h-1zM147.7 102.7h1v1h-1zM121.2 113.3h1v1h-1zM121.2 117.8h1v1h-1zM132.6 112.5h1v1h-1zM111.7 78.1h1v1h-1zM147.0 85.6h1v1h-1zM109.4 112.5h1v1h-1zM107.8 119.6h1v1h-1zM116.0 110.2h1v1h-1zM117.1 111.4h1v1h-1z"/>
<path fill="#2a2a2a" fill-opacity="0.26" d="M118.8 114.4h1v1h-1zM142.8 103.6h1v1h-1zM112.0 76.0h1v1h-1zM123.8 107.1h1v1h-1zM149.7 114.8h1v1h-1zM113.2 116.6h1v1h-1zM108.8 106.4h1v1h-1zM111.6 118.4h1v1h-1zM120.0 110.9h1v1h-1zM123.3 102.3h1v1h-1zM141.9 118.4h1v1h-1zM147.9 106.1h1v1h-1zM129.6 108.8h1v1h-1zM130.0 119.9h1v1h-1zM112.4 72.5h1v1h-1zM117.3 116.8h1v1h-1zM136.1 103.2h1v1h-1zM116.3 117.5h1v1h-1zM111.6 116.6h1v1h-1zM113.0 97.3h1v1h-1z"/>
<path fill="#2a2a2a" fill-opacity="0.26" d="M110.2 106.7h1v1h-1zM112.0 85.6h1v1h-1zM124.3 100.9h1v1h-1zM139.6 99.2h1v1h-1zM110.5 95.5h1v1h-1zM111.6 110.4h1v1h-1zM128.8 118.8h1v1h-1zM118.6 112.1h1v1h-1zM129.7 107.7h1v1h-1zM110.7 76.8h1v1h-1zM125.1 117.5h1v1h-1zM117.6 117.5h1v1h-1zM111.8 119.0h1v1h-1zM112.5 103.4h1v1h-1zM110.2 117.5h1v1h-1zM120.1 116.9h1v1h-1zM120.1 107.5h1v1h-1zM134.3 113.8h1v1h-1zM125.6 112.0h1v1h-1zM125.4 120.0h1v1h-1z"/>
<path fill="#2a2a2a" fill-opacity="0.26" d="M109.8 100.0h1v1h-1zM114.8 80.7h1v1h-1zM148.5 95.6h1v1h-1zM111.6 111.1h1v1h-1zM117.5 117.3h1v1h-1zM110.0 103.5h1v1h-1zM113.2 111.3h1v1h-1zM109.0 117.0h1v1h-1zM116.1 112.7h1v1h-1zM112.1 61.2h1v1h-1zM121.3 117.4h1v1h-1zM124.8 119.6h1v1h-1zM116.6 116.2h1v1h-1zM114.0 48.7h1v1h-1zM117.4 118.2h1v1h-1zM113.6 118.3h1v1h-1zM121.8 105.3h1v1h-1zM116.3 112.5h1v1h-1zM123.0 118.4h1v1h-1zM111.4 80.7h1v1h-1z"/>
<path fill="#2a2a2a" fill-opacity="0.26" d="M106.5 114.8h1v1h-1zM120.6 95.2h1v1h-1zM116.5 118.9h1v1h-1zM108.1 83.1h1v1h-1zM119.6 115.8h1v1h-1zM137.1 89.2h1v1h-1zM137.1 111.0h1v1h-1zM111.3 106.4h1v1h-1zM112.6 117.4h1v1h-1zM130.8 114.4h1v1h-1zM128.8 112.0h1v1h-1zM122.7 111.7h1v1h-1zM146.3 111.9h1v1h-1zM132.6 109.0h1v1h-1zM121.0 114.7h1v1h-1zM121.5 118.6h1v1h-1zM133.2 115.4h1v1h-1zM112.8 108.2h1v1h-1zM126.5 113.5h1v1h-1zM110.5 106.7h1v1h-1z"/>
<path fill="#2a2a2a" fill-opacity="0.26" d="M111.7 117.9h1v1h-1zM141.0 112.9h1v1h-1zM113.6 116.1h1v1h-1zM113.7 119.7h1v1h-1zM110.9 84.0h1v1h-1zM117.7 119.5h1v1h-1zM125.2 112.7h1v1h-1zM111.0 76.0h1v1h-1zM121.2 116.7h1v1h-1zM110.9 113.0h1v1h-1zM113.9 119.2h1v1h-1zM115.1 104.5h1v1h-1zM123.4 118.9h1v1h-1zM114.6 41.4h1v1h-1zM132.9 117.6h1v1h-1zM133.3 67.0h1v1h-1zM120.8 106.7h1v1h-1zM115.9 114.1h1v1h-1zM110.7 111.9h1v1h-1zM104.9 120.0h1v1h-1z"/>
<path fill="#2a2a2a" fill-opacity="0.26" d="M112.8 119.1h1v1h-1zM115.4 116.0h1v1h-1zM115.1 119.9h1v1h-1zM119.7 104.8h1v1h-1zM133.4 110.8h1v1h-1zM120.1 116.5h1v1h-1zM126.3 110.0h1v1h-1zM108.7 93.0h1v1h-1zM124.1 102.1h1v1h-1zM115.9 117.5h1v1h-1zM108.7 97.5h1v1h-1zM125.1 108.4h1v1h-1zM128.5 118.7h1v1h-1zM118.7 118.5h1v1h-1zM133.1 114.5h1v1h-1zM146.1 86.6h1v1h-1zM114.4 107.2h1v1h-1zM132.8 110.2h1v1h-1zM110.3 88.9h1v1h-1zM137.3 116.9h1v1h-1z"/>
<path fill="#2a2a2a" fill-opacity="0.26" d="M111.2 108.8h1v1h-1zM123.2 119.1h1v1h-1zM144.6 106.8h1v1h-1zM119.4 118.9h1v1h-1zM111.4 113.2h1v1h-1zM110.6 117.1h1v1h-1zM130.6 98.2h1v1h-1zM114.3 118.7h1v1h-1zM114.0 113.5h1v1h-1zM136.5 87.8h1v1h-1zM113.3 108.3h1v1h-1zM132.2 114.8h1v1h-1zM107.6 108.8h1v1h-1zM110.9 115.5h1v1h-1zM108.1 94.1h1v1h-1zM137.5 94.2h1v1h-1zM115.5 114.2h1v1h-1zM114.9 112.1h1v1h-1zM134.0 114.0h1v1h-1zM145.6 113.0h1v1h-1z"/>
<path fill="#2a2a2a" fill-opacity="0.26" d="M134.7 106.8h1v1h-1zM133.3 72.8h1v1h-1zM119.1 116.1h1v1h-1zM122.9 119.0h1v1h-1zM108.3 104.0h1v1h-1zM108.6 111.8h1v1h-1zM112.8 114.6h1v1h-1zM137.7 100.8h1v1h-1zM108.4 118.5h1v1h-1zM116.1 117.0h1v1h-1zM111.4 114.7h1v1h-1zM118.6 114.2h1v1h-1zM148.8 100.3h1v1h-1zM108.1 103.4h1v1h-1zM115.7 106.2h1v1h-1zM107.1 77.4h1v1h-1zM111.1 67.5h1v1h-1zM123.6 114.0h1v1h-1zM111.8 73.4h1v1h-1zM121.6 119.2h1v1h-1z"/>
<path fill="#2a2a2a" fill-opacity="0.26" d="M120.8 119.1h1v1h-1zM115.2 93.6h1v1h-1zM138.0 111.0h1v1h-1zM117.2 108.4h1v1h-1zM107.7 66.9h1v1h-1zM114.5 119.4h1v1h-1zM113.4 114.2h1v1h-1zM119.1 119.6h1v1h-1zM111.0 89.2h1v1h-1zM119.6 117.7h1v1h-1zM111.7 104.8h1v1h-1zM146.7 106.4h1v1h-1zM113.0 115.6h1v1h-1zM109.9 113.8h1v1h-1zM136.6 103.9h1v1h-1zM113.3 119.7h1v1h-1zM140.8 110.9h1v1h-1zM112.4 114.5h1v1h-1zM127.9 102.9h1v1h-1zM112.2 62.8h1v1h-1z"/>
<path fill="#2a2a2a" fill-opacity="0.26" d="M121.5 107.0h1v1h-1zM107.0 112.9h1v1h-1zM112.8 119.2h1v1h-1zM145.5 115.6h1v1h-1zM141.8 101.1h1v1h-1zM131.3 95.0h1v1h-1zM126.4 118.1h1v1h-1zM127.2 115.2h1v1h-1zM128.6 109.9h1v1h-1zM128.0 107.7h1v1h-1zM113.0 98.4h1v1h-1zM143.5 99.6h1v1h-1zM113.4 108.5h1v1h-1zM114.3 90.4h1v1h-1zM112.1 59.2h1v1h-1zM115.0 90.8h1v1h-1zM144.2 109.2h1v1h-1zM123.9 107.7h1v1h-1zM109.6 81.9h1v1h-1zM109.8 117.6h1v1h-1z"/>
<path fill="#2a2a2a" fill-opacity="0.26" d="M111.6 119.5h1v1h-1zM144.6 114.2h1v1h-1zM117.8 118.0h1v1h-1zM136.2 103.2h1v1h-1zM122.3 113.9h1v1h-1zM112.0 101.9h1v1h-1zM145.5 112.7h1v1h-1zM113.1 115.3h1v1h-1zM110.1 108.6h1v1h-1zM144.3 112.3h1v1h-1zM122.4 118.6h1v1h-1zM111.7 81.0h1v1h-1zM110.0 96.8h1v1h-1zM111.5 110.7h1v1h-1zM110.6 43.5h1v1h-1zM122.7 112.4h1v1h-1zM126.6 97.8h1v1h-1zM116.2 57.5h1v1h-1zM110.8 51.6h1v1h-1zM116.0 109.7h1v1h-1z"/>
<path fill="#2a2a2a" fill-opacity="0.26" d="M149.1 118.9h1v1h-1zM112.0 93.5h1v1h-1zM111.6 94.5h1v1h-1zM144.4 85.8h1v1h-1zM114.1 96.6h1v1h-1zM144.7 105.6h1v1h-1zM119.7 116.7h1v1h-1zM118.7 110.3h1v1h-1zM111.7 97.3h1v1h-1zM113.2 98.7h1v1h-1zM116.1 117.0h1v1h-1zM109.1 112.1h1v1h-1zM120.2 104.3h1v1h-1zM150.0 116.4h1v1h-1zM134.6 108.6h1v1h-1zM110.0 116.1h1v1h-1zM122.0 119.2h1v1h-1zM121.6 108.9h1v1h-1zM117.2 115.9h1v1h-1zM111.7 118.4h1v1h-1z"/>
<path fill="#2a2a2a" fill-opacity="0.26" d="M111.3 65.8h1v1h-1zM117.9 117.3h1v1h-1zM113.9 80.9h1v1h-1zM116.2 116.2h1v1h-1zM111.5 108.9h1v1h-1zM127.1 107.7h1v1h-1zM113.8 116.3h1v1h-1zM112.7 105.9h1v1h-1zM113.4 114.1h1v1h-1zM108.0 68.9h1v1h-1zM110.7 94.5h1v1h-1zM149.9 70.7h1v1h-1zM132.6 119.7h1v1h-1zM113.8 52.9h1v1h-1zM146.5 78.6h1v1h-1zM111.9 118.1h1v1h-1zM110.5 90.7h1v1h-1zM116.9 114.0h1v1h-1zM122.3 110.5h1v1h-1zM123.4 115.8h1v1h-1z"/>
<path fill="#2a2a2a" fill-opacity="0.26" d="M113.8 96.7h1v1h-1zM110.8 87.2h1v1h-1zM118.1 111.3h1v1h-1zM110.3 104.6h1v1h-1zM109.5 84.0h1v1h-1zM129.1 72.3h1v1h-1zM121.1 118.2h1v1h-1zM113.1 82.7h1v1h-1zM110.1 109.7h1v1h-1zM133.3 102.7h1v1h-1zM113.3 110.1h1v1h-1zM119.2 115.9h1v1h-1zM117.6 117.7h1v1h-1zM138.7 109.8h1v1h-1zM146.5 116.9h1v1h-1zM115.4 110.7h1v1h-1zM128.6 96.8h1v1h-1zM118.2 117.2h1v1h-1zM144.6 91.4h1v1h-1zM119.4 118.2h1v1h-1z"/>
<path fill="#2a2a2a" fill-opacity="0.26" d="M121.8 118.5h1v1h-1zM114.1 73.7h1v1h-1zM123.9 107.3h1v1h-1zM125.2 118.8h1v1h-1zM118.8 119.2h1v1h-1zM116.2 116.1h1v1h-1zM119.8 111.1h1v1h-1zM123.6 101.8h1v1h-1zM129.0 111.8h1v1h-1zM133.5 107.3h1v1h-1zM135.0 104.3h1v1h-1zM122.6 113.2h1v1h-1zM116.1 116.6h1v1h-1zM120.7 114.4h1v1h-1zM118.9 118.7h1v1h-1zM108.8 118.8h1v1h-1zM122.2 113.4h1v1h-1zM116.3 119.4h1v1h-1zM114.5 92.2h1v1h-1zM130.7 111.9h1v1h-1z"/>
<path fill="#2a2a2a" fill-opacity="0.26" d="M113.6 113.2h1v1h-1zM119.7 116.8h1v1h-1zM105.5 78.6h1v1h-1zM140.9 117.5h1v1h-1zM126.3 116.6h1v1h-1zM109.6 86.4h1v1h-1zM121.2 119.1h1v1h-1zM131.7 104.1h1v1h-1zM124.5 114.6h1v1h-1zM116.5 115.8h1v1h-1zM119.2 119.7h1v1h-1zM121.0 118.1h1v1h-1zM126.6 105.4h1v1h-1zM108.6 88.1h1v1h-1zM142.2 117.1h1v1h-1zM111.9 114.2h1v1h-1zM117.6 120.1h1v1h-1zM131.8 96.5h1v1h-1zM142.8 94.8h1v1h-1zM145.1 77.2h1v1h-1z"/>
<path fill="#2a2a2a" fill-opacity="0.26" d="M113.6 117.1h1v1h-1zM129.7 107.7h1v1h-1zM120.7 113.8h1v1h-1zM134.6 101.3h1v1h-1zM120.5 118.2h1v1h-1zM145.9 98.4h1v1h-1zM117.1 119.9h1v1h-1zM125.2 114.3h1v1h-1zM118.9 116.8h1v1h-1zM111.0 91.9h1v1h-1zM125.0 101.1h1v1h-1zM120.3 118.1h1v1h-1zM110.1 110.8h1v1h-1zM119.8 117.6h1v1h-1zM111.0 117.7h1v1h-1zM115.6 113.4h1v1h-1zM115.9 109.4h1v1h-1zM121.8 116.1h1v1h-1zM122.7 100.9h1v1h-1zM112.1 118.8h1v1h-1z"/>
<path fill="#2a2a2a" fill-opacity="0.26" d="M124.9 119.5h1v1h-1zM109.4 68.1h1v1h-1zM110.0 95.5h1v1h-1zM147.5 110.9h1v1h-1zM116.2 116.6h1v1h-1zM137.0 108.3h1v1h-1zM117.5 115.1h1v1h-1zM118.4 114.1h1v1h-1zM116.2 111.0h1v1h-1zM130.7 93.2h1v1h-1zM147.3 118.8h1v1h-1zM129.4 92.5h1v1h-1zM111.5 84.5h1v1h-1zM134.3 107.2h1v1h-1zM124.7 96.8h1v1h-1zM142.6 117.1h1v1h-1zM124.4 119.6h1v1h-1zM110.8 80.5h1v1h-1zM105.0 60.6h1v1h-1zM111.5 98.1h1v1h-1z"/>
<path fill="#2a2a2a" fill-opacity="0.26" d="M113.6 110.0h1v1h-1zM123.7 117.2h1v1h-1zM135.1 102.1h1v1h-1zM113.7 113.0h1v1h-1zM115.8 113.2h1v1h-1zM115.3 116.9h1v1h-1zM108.9 110.0h1v1h-1zM130.1 103.5h1v1h-1zM109.2 102.7h1v1h-1zM111.2 110.8h1v1h-1zM130.9 102.6h1v1h-1zM121.6 110.3h1v1h-1zM115.9 117.7h1v1h-1zM129.0 108.5h1v1h-1zM136.0 105.8h1v1h-1zM112.2 106.2h1v1h-1zM118.5 114.1h1v1h-1zM122.4 115.3h1v1h-1zM138.2 116.9h1v1h-1zM127.4 118.0h1v1h-1z"/>
<path fill="#2a2a2a" fill-opacity="0.26" d="M120.2 111.3h1v1h-1zM117.6 117.3h1v1h-1zM110.0 111.1h1v1h-1zM118.5 111.4h1v1h-1zM110.3 80.1h1v1h-1zM115.6 94.1h1v1h-1zM111.0 117.1h1v1h-1zM111.6 115.0h1v1h-1zM127.1 115.7h1v1h-1zM122.7 104.0h1v1h-1zM129.4 114.8h1v1h-1zM120.4 106.5h1v1h-1zM111.1 90.9h1v1h-1zM127.3 111.9h1v1h-1zM121.2 114.0h1v1h-1zM110.3 106.2h1v1h-1zM119.8 115.5h1v1h-1zM108.6 117.5h1v1h-1zM119.5 117.3h1v1h-1zM121.4 111.6h1v1h-1z"/>
<path fill="#2a2a2a" fill-opacity="0.26" d="M118.9 99.4h1v1h-1zM116.2 119.3h1v1h-1zM118.2 117.1h1v1h-1zM131.9 104.5h1v1h-1zM126.1 114.3h1v1h-1zM140.3 88.0h1v1h-1zM148.7 92.8h1v1h-1zM144.2 116.6h1v1h-1zM130.0 98.9h1v1h-1zM114.1 111.8h1v1h-1zM112.1 110.3h1v1h-1zM115.1 96.5h1v1h-1zM122.2 115.4h1v1h-1zM110.6 102.7h1v1h-1zM132.9 112.6h1v1h-1zM108.8 106.3h1v1h-1zM111.9 82.7h1v1h-1zM140.8 112.0h1v1h-1zM133.0 106.0h1v1h-1zM149.8 118.1h1v1h-1z"/>
<path fill="#2a2a2a" fill-opacity="0.26" d="M107.7 114.7h1v1h-1zM134.4 112.2h1v1h-1zM114.1 81.9h1v1h-1zM116.4 112.1h1v1h-1zM111.2 119.8h1v1h-1zM116.4 115.1h1v1h-1zM112.4 76.1h1v1h-1zM108.3 91.4h1v1h-1zM110.3 93.3h1v1h-1zM116.8 75.9h1v1h-1zM119.3 116.3h1v1h-1zM117.8 115.9h1v1h-1zM109.3 105.7h1v1h-1zM137.2 120.1h1v1h-1zM123.7 118.3h1v1h-1zM131.8 114.8h1v1h-1zM111.1 116.4h1v1h-1zM140.8 93.1h1v1h-1zM109.1 91.4h1v1h-1zM124.5 116.4h1v1h-1z"/>
<path fill="#2a2a2a" fill-opacity="0.26" d="M126.0 116.0h1v1h-1zM125.4 115.3h1v1h-1zM147.0 99.3h1v1h-1zM122.8 115.4h1v1h-1zM117.1 109.4h1v1h-1zM122.2 119.3h1v1h-1zM111.3 77.9h1v1h-1zM114.0 106.5h1v1h-1zM110.4 99.6h1v1h-1zM114.2 111.7h1v1h-1zM131.1 98.3h1v1h-1zM106.8 113.5h1v1h-1zM114.2 100.7h1v1h-1zM135.5 117.6h1v1h-1zM116.8 114.0h1v1h-1zM149.8 64.7h1v1h-1zM133.8 103.7h1v1h-1zM105.8 120.1h1v1h-1zM109.2 91.8h1v1h-1zM114.4 91.3h1v1h-1z"/>
<path fill="#2a2a2a" fill-opacity="0.26" d="M145.3 104.0h1v1h-1zM125.3 115.2h1v1h-1zM125.1 117.1h1v1h-1zM118.9 116.7h1v1h-1zM110.6 107.2h1v1h-1zM147.2 97.2h1v1h-1zM116.6 118.5h1v1h-1zM114.9 100.4h1v1h-1zM111.1 102.3h1v1h-1zM109.1 105.5h1v1h-1zM109.8 81.3h1v1h-1zM113.3 91.8h1v1h-1zM109.4 94.5h1v1h-1zM134.0 104.6h1v1h-1zM114.6 113.6h1v1h-1zM112.1 96.6h1v1h-1zM128.2 106.7h1v1h-1zM107.7 89.2h1v1h-1zM113.4 91.1h1v1h-1zM118.1 117.2h1v1h-1z"/>
<path fill="#2a2a2a" fill-opacity="0.26" d="M112.5 115.2h1v1h-1zM112.3 101.9h1v1h-1zM114.3 60.4h1v1h-1zM122.7 112.8h1v1h-1zM112.1 108.5h1v1h-1zM110.1 115.9h1v1h-1zM138.3 112.2h1v1h-1zM121.9 112.8h1v1h-1zM108.2 89.7h1v1h-1zM110.1 114.2h1v1h-1zM113.0 110.5h1v1h-1zM115.6 109.4h1v1h-1zM111.3 67.8h1v1h-1zM123.2 113.8h1v1h-1zM118.2 116.2h1v1h-1zM112.8 112.7h1v1h-1zM109.6 38.5h1v1h-1zM112.2 77.9h1v1h-1zM107.6 92.2h1v1h-1zM114.2 116.5h1v1h-1z"/>
<path fill="#2a2a2a" fill-opacity="0.26" d="M120.2 114.3h1v1h-1zM115.1 116.0h1v1h-1zM139.9 100.7h1v1h-1zM136.9 105.0h1v1h-1zM124.1 116.2h1v1h-1zM108.8 86.3h1v1h-1zM117.1 116.7h1v1h-1zM142.5 90.5h1v1h-1zM109.0 68.8h1v1h-1zM110.8 77.3h1v1h-1zM111.7 106.3h1v1h-1zM150.1 94.5h1v1h-1zM145.6 111.1h1v1h-1zM110.3 107.9h1v1h-1zM122.5 114.9h1v1h-1zM117.8 114.4h1v1h-1zM126.4 101.1h1v1h-1zM106.0 119.1h1v1h-1zM123.5 109.4h1v1h-1zM110.4 82.7h1v1h-1z"/>
<path fill="#2a2a2a" fill-opacity="0.26" d="M121.4 118.4h1v1h-1zM129.8 111.2h1v1h-1zM126.6 110.4h1v1h-1zM125.1 117.3h1v1h-1zM130.7 116.6h1v1h-1zM111.6 67.9h1v1h-1zM111.3 81.1h1v1h-1zM117.4 116.7h1v1h-1zM139.3 97.1h1v1h-1zM108.3 54.5h1v1h-1zM114.8 119.9h1v1h-1zM137.4 102.8h1v1h-1zM108.7 111.1h1v1h-1zM132.0 112.5h1v1h-1zM112.6 112.6h1v1h-1zM110.7 119.8h1v1h-1zM130.3 109.5h1v1h-1zM108.5 78.7h1v1h-1zM124.1 102.0h1v1h-1zM112.8 100.1h1v1h-1z"/>
<path fill="#2a2a2a" fill-opacity="0.26" d="M120.1 118.0h1v1h-1zM114.3 58.3h1v1h-1zM147.1 105.0h1v1h-1zM121.3 112.3h1v1h-1zM122.7 96.3h1v1h-1zM113.7 113.5h1v1h-1zM109.8 118.6h1v1h-1zM117.2 46.4h1v1h-1zM113.3 117.2h1v1h-1zM109.6 86.3h1v1h-1zM128.0 68.5h1v1h-1zM114.8 73.6h1v1h-1zM111.1 88.6h1v1h-1zM129.7 119.1h1v1h-1zM122.6 112.0h1v1h-1zM111.5 119.4h1v1h-1zM112.5 115.8h1v1h-1zM129.5 113.3h1v1h-1zM130.4 112.0h1v1h-1zM109.9 116.9h1v1h-1z"/>
<path fill="#2a2a2a" fill-opacity="0.26" d="M113.8 72.0h1v1h-1zM114.3 118.1h1v1h-1zM134.0 105.1h1v1h-1zM148.5 111.0h1v1h-1zM129.7 107.1h1v1h-1zM114.4 116.6h1v1h-1zM113.0 103.5h1v1h-1zM114.9 93.8h1v1h-1zM120.7 114.3h1v1h-1zM141.9 110.3h1v1h-1zM110.1 111.5h1v1h-1zM145.8 117.3h1v1h-1zM122.5 111.9h1v1h-1zM138.0 96.1h1v1h-1zM134.4 93.3h1v1h-1zM108.7 116.5h1v1h-1zM109.3 105.2h1v1h-1zM121.7 112.8h1v1h-1zM124.3 120.0h1v1h-1zM132.3 113.4h1v1h-1z"/>
<path fill="#2a2a2a" fill-opacity="0.26" d="M110.8 67.2h1v1h-1zM121.9 112.5h1v1h-1zM145.5 107.2h1v1h-1zM110.9 98.7h1v1h-1zM109.2 108.2h1v1h-1zM121.2 101.6h1v1h-1zM121.6 113.9h1v1h-1zM123.7 116.7h1v1h-1zM113.7 120.0h1v1h-1zM111.2 90.5h1v1h-1zM117.9 114.2h1v1h-1zM147.3 100.7h1v1h-1zM125.9 113.3h1v1h-1zM125.2 117.9h1v1h-1zM117.3 115.6h1v1h-1zM128.2 110.3h1v1h-1zM109.8 104.1h1v1h-1zM115.1 94.1h1v1h-1zM127.7 116.7h1v1h-1zM108.3 118.8h1v1h-1z"/>
<path fill="#2a2a2a" fill-opacity="0.26" d="M128.8 115.4h1v1h-1zM120.8 113.5h1v1h-1zM147.7 115.0h1v1h-1zM117.4 111.1h1v1h-1zM117.5 114.9h1v1h-1zM114.1 89.5h1v1h-1zM141.1 110.8h1v1h-1zM142.2 105.7h1v1h-1zM123.5 114.1h1v1h-1zM111.6 113.4h1v1h-1zM122.2 115.0h1v1h-1zM124.0 107.7h1v1h-1zM110.9 75.1h1v1h-1zM121.4 107.9h1v1h-1zM113.2 107.3h1v1h-1zM110.2 114.4h1v1h-1zM126.4 118.0h1v1h-1zM119.0 118.6h1v1h-1zM123.0 114.9h1v1h-1zM114.8 57.8h1v1h-1z"/>
<path fill="#2a2a2a" fill-opacity="0.26" d="M126.6 116.5h1v1h-1zM111.5 101.8h1v1h-1zM110.3 84.1h1v1h-1zM115.1 102.3h1v1h-1zM114.2 111.4h1v1h-1zM133.2 81.9h1v1h-1zM113.0 116.1h1v1h-1zM117.6 117.1h1v1h-1zM110.8 117.4h1v1h-1zM112.9 107.7h1v1h-1zM111.2 80.6h1v1h-1zM108.8 96.4h1v1h-1zM111.5 116.9h1v1h-1zM126.0 113.7h1v1h-1zM118.4 119.1h1v1h-1zM136.0 112.9h1v1h-1zM123.2 113.9h1v1h-1zM108.4 57.0h1v1h-1zM110.0 93.4h1v1h-1zM142.1 106.7h1v1h-1z"/>
<path fill="#2a2a2a" fill-opacity="0.26" d="M125.1 116.0h1v1h-1zM142.9 103.3h1v1h-1zM115.9 118.4h1v1h-1zM125.4 115.9h1v1h-1zM126.7 119.7h1v1h-1zM124.6 116.1h1v1h-1zM126.3 119.6h1v1h-1zM120.9 119.4h1v1h-1zM125.8 115.2h1v1h-1zM114.0 116.7h1v1h-1zM116.7 104.7h1v1h-1zM133.4 117.5h1v1h-1zM113.9 115.0h1v1h-1zM149.1 116.0h1v1h-1zM121.7 118.8h1v1h-1zM132.6 106.3h1v1h-1zM113.7 114.0h1v1h-1zM115.3 114.0h1v1h-1zM108.8 98.4h1v1h-1zM118.8 111.0h1v1h-1z"/>
<path fill="#2a2a2a" fill-opacity="0.26" d="M125.3 114.6h1v1h-1zM132.6 119.8h1v1h-1zM114.6 107.5h1v1h-1zM122.5 94.5h1v1h-1zM112.2 80.2h1v1h-1zM118.0 115.3h1v1h-1zM120.9 119.0h1v1h-1zM111.5 95.8h1v1h-1zM128.0 112.8h1v1h-1zM113.9 117.5h1v1h-1zM116.3 112.0h1v1h-1zM110.1 111.1h1v1h-1zM114.2 71.4h1v1h-1zM119.0 115.6h1v1h-1zM106.2 114.9h1v1h-1zM124.4 113.4h1v1h-1zM119.2 116.5h1v1h-1zM142.7 118.9h1v1h-1zM112.0 104.7h1v1h-1zM113.1 109.9h1v1h-1z"/>
<path fill="#2a2a2a" fill-opacity="0.26" d="M120.5 117.7h1v1h-1zM127.3 107.9h1v1h-1zM138.7 97.8h1v1h-1zM148.8 96.6h1v1h-1zM128.8 107.4h1v1h-1zM124.3 109.2h1v1h-1zM118.3 115.7h1v1h-1zM135.4 107.9h1v1h-1zM110.8 89.2h1v1h-1zM146.8 113.9h1v1h-1zM125.8 90.9h1v1h-1zM109.3 54.2h1v1h-1zM113.0 113.3h1v1h-1zM126.0 113.1h1v1h-1zM121.2 112.8h1v1h-1zM112.9 99.4h1v1h-1zM145.6 118.0h1v1h-1zM121.1 114.9h1v1h-1zM149.0 117.0h1v1h-1zM121.2 118.2h1v1h-1z"/>
<path fill="#2a2a2a" fill-opacity="0.26" d="M123.8 103.8h1v1h-1zM126.7 117.3h1v1h-1zM128.2 119.7h1v1h-1zM115.7 70.3h1v1h-1zM110.2 111.6h1v1h-1zM120.7 108.4h1v1h-1zM116.2 116.7h1v1h-1zM102.9 75.6h1v1h-1zM145.0 119.1h1v1h-1zM116.2 114.6h1v1h-1zM116.3 118.1h1v1h-1zM116.1 116.0h1v1h-1zM118.1 118.5h1v1h-1zM115.8 97.3h1v1h-1zM149.9 109.9h1v1h-1zM122.2 119.0h1v1h-1zM111.9 88.1h1v1h-1zM110.3 97.5h1v1h-1zM110.6 118.0h1v1h-1zM133.5 107.5h1v1h-1z"/>
<path fill="#2a2a2a" fill-opacity="0.26" d="M111.6 105.0h1v1h-1zM109.6 103.6h1v1h-1zM110.9 87.8h1v1h-1zM121.2 109.9h1v1h-1zM114.3 117.7h1v1h-1zM115.9 100.7h1v1h-1zM113.5 103.6h1v1h-1zM113.4 100.0h1v1h-1zM110.9 70.3h1v1h-1zM111.0 109.5h1v1h-1zM146.1 119.6h1v1h-1zM145.6 104.3h1v1h-1zM122.4 115.1h1v1h-1zM108.5 110.8h1v1h-1zM111.6 99.8h1v1h-1zM110.0 118.8h1v1h-1zM125.4 120.0h1v1h-1zM110.0 112.5h1v1h-1zM130.1 57.8h1v1h-1zM121.7 111.9h1v1h-1z"/>
<path fill="#2a2a2a" fill-opacity="0.26" d="M128.1 118.5h1v1h-1zM119.4 116.6h1v1h-1zM132.4 105.7h1v1h-1zM113.8 104.0h1v1h-1zM109.1 82.6h1v1h-1zM143.6 115.7h1v1h-1zM116.1 93.4h1v1h-1zM118.2 116.3h1v1h-1zM125.0 94.0h1v1h-1zM137.2 116.6h1v1h-1zM111.2 102.4h1v1h-1zM107.5 119.5h1v1h-1zM121.3 117.0h1v1h-1zM106.9 102.5h1v1h-1zM111.8 106.8h1v1h-1zM121.3 116.9h1v1h-1zM130.2 70.6h1v1h-1zM120.8 102.5h1v1h-1zM135.6 104.6h1v1h-1zM126.0 113.9h1v1h-1z"/>
<path fill="#2a2a2a" fill-opacity="0.26" d="M114.6 99.4h1v1h-1zM138.6 110.7h1v1h-1zM113.0 99.8h1v1h-1zM115.1 104.7h1v1h-1zM123.2 116.5h1v1h-1zM145.3 114.8h1v1h-1zM126.5 108.2h1v1h-1zM123.2 113.1h1v1h-1zM125.8 118.0h1v1h-1zM133.2 105.2h1v1h-1zM111.8 120.0h1v1h-1zM139.2 108.0h1v1h-1zM112.7 115.7h1v1h-1zM110.7 91.7h1v1h-1zM120.4 119.6h1v1h-1zM131.5 104.3h1v1h-1zM120.8 111.6h1v1h-1zM128.9 113.3h1v1h-1zM126.4 110.1h1v1h-1zM119.2 115.7h1v1h-1z"/>
<path fill="#2a2a2a" fill-opacity="0.26" d="M118.5 112.5h1v1h-1zM115.5 118.4h1v1h-1zM111.3 117.7h1v1h-1zM114.7 109.9h1v1h-1zM131.7 112.8h1v1h-1zM110.9 99.0h1v1h-1zM122.8 106.4h1v1h-1zM133.1 101.9h1v1h-1zM135.9 67.1h1v1h-1zM111.8 85.8h1v1h-1zM120.2 118.1h1v1h-1zM145.4 113.3h1v1h-1zM110.6 113.5h1v1h-1zM113.3 114.1h1v1h-1zM132.3 111.4h1v1h-1zM107.9 77.0h1v1h-1zM143.0 117.2h1v1h-1zM139.4 108.4h1v1h-1zM112.3 84.8h1v1h-1zM117.9 114.9h1v1h-1z"/>
<path fill="#2a2a2a" fill-opacity="0.26" d="M108.5 84.6h1v1h-1zM118.9 115.4h1v1h-1zM131.3 118.5h1v1h-1zM121.1 114.3h1v1h-1zM135.0 119.1h1v1h-1zM106.8 91.4h1v1h-1zM129.1 104.8h1v1h-1zM109.2 74.3h1v1h-1zM147.7 84.8h1v1h-1zM131.7 84.0h1v1h-1zM150.0 95.8h1v1h-1zM113.7 119.9h1v1h-1zM110.5 107.1h1v1h-1zM109.2 114.6h1v1h-1zM145.3 81.1h1v1h-1zM142.7 104.6h1v1h-1zM108.4 111.8h1v1h-1zM115.0 91.0h1v1h-1zM112.2 95.9h1v1h-1zM113.1 100.6h1v1h-1z"/>
<path fill="#2a2a2a" fill-opacity="0.26" d="M120.2 108.6h1v1h-1zM134.4 91.8h1v1h-1zM111.7 53.8h1v1h-1zM110.3 114.8h1v1h-1zM145.0 96.0h1v1h-1zM114.0 116.6h1v1h-1zM110.3 99.0h1v1h-1zM124.7 105.9h1v1h-1zM124.1 113.0h1v1h-1zM133.3 116.9h1v1h-1zM148.0 117.1h1v1h-1zM132.8 114.6h1v1h-1zM112.5 85.7h1v1h-1zM126.1 107.3h1v1h-1zM121.6 115.5h1v1h-1zM128.0 104.1h1v1h-1zM114.0 70.0h1v1h-1zM118.3 110.6h1v1h-1zM133.5 118.7h1v1h-1zM126.3 115.4h1v1h-1z"/>
<path fill="#2a2a2a" fill-opacity="0.26" d="M119.1 114.7h1v1h-1zM112.3 108.9h1v1h-1zM130.7 107.7h1v1h-1zM122.4 107.6h1v1h-1zM113.4 106.8h1v1h-1zM112.7 118.6h1v1h-1zM121.3 118.0h1v1h-1zM112.0 116.6h1v1h-1zM121.9 87.2h1v1h-1zM120.6 102.4h1v1h-1zM141.3 96.5h1v1h-1zM109.3 88.3h1v1h-1zM126.2 105.5h1v1h-1zM124.5 110.0h1v1h-1zM111.8 79.5h1v1h-1zM128.3 118.5h1v1h-1zM110.0 102.8h1v1h-1zM138.4 112.4h1v1h-1zM136.5 114.0h1v1h-1zM115.9 116.6h1v1h-1z"/>
<path fill="#2a2a2a" fill-opacity="0.26" d="M112.1 114.3h1v1h-1zM109.6 104.7h1v1h-1zM139.0 105.3h1v1h-1zM135.0 105.5h1v1h-1zM145.5 118.7h1v1h-1zM120.9 111.8h1v1h-1zM127.2 108.9h1v1h-1zM140.5 95.3h1v1h-1zM133.6 37.5h1v1h-1zM144.7 107.5h1v1h-1zM109.2 58.9h1v1h-1zM141.5 110.6h1v1h-1z"/>
<path d="M101.00,63.20 L105.00,78.60 L109.00,89.60 L113.00,100.10 L117.20,109.40 L120.00,111.60 L123.30,112.50 L130.00,110.90 L140.00,108.90 L151.60,106.80 L151.60,109.60 L140.00,111.70 L130.00,113.70 L123.30,115.30 L120.00,114.40 L117.20,112.20 L113.00,102.90 L109.00,92.40 L105.00,81.40 L101.30,70.60Z" fill="#d4d4d4" fill-opacity="0.55"/>
<path d="M101.30,69.20 C101.92,71.00 103.72,76.37 105.00,80.00 C106.28,83.63 107.67,87.42 109.00,91.00 C110.33,94.58 111.63,98.20 113.00,101.50 C114.37,104.80 116.03,108.88 117.20,110.80 C118.37,112.72 118.98,112.48 120.00,113.00 C121.02,113.52 121.63,114.02 123.30,113.90 C124.97,113.78 127.22,112.90 130.00,112.30 C132.78,111.70 136.40,110.98 140.00,110.30 C143.60,109.62 149.67,108.55 151.60,108.20" stroke="#1f70b8" stroke-width="1.8" fill="none" stroke-linejoin="round"/>
<line x1="94.60" y1="126.40" x2="151.90" y2="126.40" stroke="#1a1a1a" stroke-width="1.4"/>
<line x1="102.93" y1="126.40" x2="102.93" y2="129.30" stroke="#1a1a1a" stroke-width="1.2"/>
<text x="102.03" y="139.00" font-size="7.8" text-anchor="middle" fill="#1a1a1a" textLength="11.2" lengthAdjust="spacingAndGlyphs" stroke="#1a1a1a" stroke-width="0.22">–20</text>
<line x1="114.60" y1="126.40" x2="114.60" y2="129.30" stroke="#1a1a1a" stroke-width="1.2"/>
<text x="114.60" y="139.00" font-size="7.8" text-anchor="middle" fill="#1a1a1a" textLength="3.9" lengthAdjust="spacingAndGlyphs" stroke="#1a1a1a" stroke-width="0.22">0</text>
<line x1="126.27" y1="126.40" x2="126.27" y2="129.30" stroke="#1a1a1a" stroke-width="1.2"/>
<text x="126.27" y="139.00" font-size="7.8" text-anchor="middle" fill="#1a1a1a" textLength="7.8" lengthAdjust="spacingAndGlyphs" stroke="#1a1a1a" stroke-width="0.22">20</text>
<line x1="137.94" y1="126.40" x2="137.94" y2="129.30" stroke="#1a1a1a" stroke-width="1.2"/>
<text x="137.94" y="139.00" font-size="7.8" text-anchor="middle" fill="#1a1a1a" textLength="7.8" lengthAdjust="spacingAndGlyphs" stroke="#1a1a1a" stroke-width="0.22">40</text>
<line x1="149.61" y1="126.40" x2="149.61" y2="129.30" stroke="#1a1a1a" stroke-width="1.2"/>
<text x="149.61" y="139.00" font-size="7.8" text-anchor="middle" fill="#1a1a1a" textLength="7.8" lengthAdjust="spacingAndGlyphs" stroke="#1a1a1a" stroke-width="0.22">60</text>
<text x="191.25" y="27.90" font-size="9.6" text-anchor="middle" fill="#1a1a1a" textLength="56" lengthAdjust="spacingAndGlyphs" stroke="#1a1a1a" stroke-width="0.15">PBSC CD34+</text>
<line x1="155.40" y1="116.60" x2="211.20" y2="116.60" stroke="#c4c4c4" stroke-width="0.8" stroke-dasharray="1,2"/>
<path fill="#2a2a2a" fill-opacity="0.26" d="M170.5 117.5h1v1h-1zM176.9 114.8h1v1h-1zM159.2 79.5h1v1h-1zM168.4 110.4h1v1h-1zM192.0 103.3h1v1h-1zM197.6 102.4h1v1h-1zM169.4 99.8h1v1h-1zM171.4 99.8h1v1h-1zM178.2 110.2h1v1h-1zM175.0 107.9h1v1h-1zM181.4 116.9h1v1h-1zM198.6 103.4h1v1h-1zM195.8 102.9h1v1h-1zM173.3 102.1h1v1h-1zM180.1 69.7h1v1h-1zM204.9 95.8h1v1h-1zM173.5 115.3h1v1h-1zM172.4 117.8h1v1h-1zM175.5 116.4h1v1h-1zM179.8 100.7h1v1h-1z"/>
<path fill="#2a2a2a" fill-opacity="0.26" d="M194.1 109.1h1v1h-1zM170.5 87.3h1v1h-1zM170.2 115.1h1v1h-1zM182.6 117.8h1v1h-1zM171.6 104.7h1v1h-1zM184.0 110.3h1v1h-1zM170.1 96.2h1v1h-1zM183.8 115.1h1v1h-1zM185.6 111.2h1v1h-1zM191.9 110.5h1v1h-1zM170.3 57.7h1v1h-1zM183.7 118.8h1v1h-1zM205.8 108.6h1v1h-1zM170.3 80.2h1v1h-1zM185.7 89.9h1v1h-1zM183.1 57.4h1v1h-1zM181.6 119.2h1v1h-1zM176.7 114.5h1v1h-1zM168.4 117.6h1v1h-1zM165.8 111.6h1v1h-1z"/>
<path fill="#2a2a2a" fill-opacity="0.26" d="M171.0 101.0h1v1h-1zM179.3 117.2h1v1h-1zM200.7 104.8h1v1h-1zM172.1 117.2h1v1h-1zM172.0 119.9h1v1h-1zM176.0 116.9h1v1h-1zM168.8 72.9h1v1h-1zM166.9 118.7h1v1h-1zM179.2 111.4h1v1h-1zM167.5 102.3h1v1h-1zM186.4 117.5h1v1h-1zM201.4 117.8h1v1h-1zM169.2 112.2h1v1h-1zM171.0 117.3h1v1h-1zM169.1 91.5h1v1h-1zM171.9 96.6h1v1h-1zM165.8 94.8h1v1h-1zM178.8 111.0h1v1h-1zM171.0 75.6h1v1h-1zM169.9 111.9h1v1h-1z"/>
<path fill="#2a2a2a" fill-opacity="0.26" d="M201.3 108.2h1v1h-1zM168.9 102.6h1v1h-1zM205.3 109.3h1v1h-1zM171.2 119.5h1v1h-1zM168.9 119.3h1v1h-1zM170.2 70.0h1v1h-1zM184.9 116.0h1v1h-1zM175.1 117.5h1v1h-1zM205.1 115.7h1v1h-1zM171.4 118.5h1v1h-1zM164.9 119.4h1v1h-1zM183.5 110.0h1v1h-1zM174.1 79.5h1v1h-1zM208.1 60.4h1v1h-1zM196.2 95.6h1v1h-1zM179.0 105.7h1v1h-1zM170.2 114.6h1v1h-1zM169.4 110.9h1v1h-1zM199.6 111.2h1v1h-1zM179.4 99.1h1v1h-1z"/>
<path fill="#2a2a2a" fill-opacity="0.26" d="M181.4 119.6h1v1h-1zM181.0 116.2h1v1h-1zM171.4 61.2h1v1h-1zM166.1 90.3h1v1h-1zM184.5 117.8h1v1h-1zM188.5 101.4h1v1h-1zM160.6 70.7h1v1h-1zM206.8 118.1h1v1h-1zM179.9 118.0h1v1h-1zM176.1 107.2h1v1h-1zM182.7 118.2h1v1h-1zM174.1 117.2h1v1h-1zM189.5 118.1h1v1h-1zM179.3 117.1h1v1h-1zM167.2 113.2h1v1h-1zM169.7 75.4h1v1h-1zM169.7 115.0h1v1h-1zM185.6 79.9h1v1h-1zM171.1 117.9h1v1h-1zM175.5 95.5h1v1h-1z"/>
<path fill="#2a2a2a" fill-opacity="0.26" d="M189.8 98.1h1v1h-1zM177.0 114.6h1v1h-1zM177.1 112.6h1v1h-1zM171.9 85.2h1v1h-1zM179.5 107.7h1v1h-1zM176.2 95.6h1v1h-1zM172.6 116.6h1v1h-1zM166.7 103.3h1v1h-1zM179.8 119.1h1v1h-1zM177.3 115.3h1v1h-1zM182.7 107.4h1v1h-1zM180.6 117.0h1v1h-1zM184.1 116.4h1v1h-1zM204.1 116.2h1v1h-1zM170.8 64.6h1v1h-1zM184.1 89.5h1v1h-1zM208.7 108.8h1v1h-1zM171.7 44.9h1v1h-1zM169.7 117.5h1v1h-1zM179.3 118.7h1v1h-1z"/>
<path fill="#2a2a2a" fill-opacity="0.26" d="M169.7 98.1h1v1h-1zM182.3 118.4h1v1h-1zM172.8 113.7h1v1h-1zM170.9 91.3h1v1h-1zM170.1 119.5h1v1h-1zM171.9 86.8h1v1h-1zM167.9 119.7h1v1h-1zM197.1 105.6h1v1h-1zM177.6 110.8h1v1h-1zM170.1 91.9h1v1h-1zM168.8 53.8h1v1h-1zM171.6 56.4h1v1h-1zM175.9 116.0h1v1h-1zM197.9 82.6h1v1h-1zM180.7 56.0h1v1h-1zM183.7 113.0h1v1h-1zM174.6 113.8h1v1h-1zM206.1 115.4h1v1h-1zM188.9 119.4h1v1h-1zM198.8 90.7h1v1h-1z"/>
<path fill="#2a2a2a" fill-opacity="0.26" d="M171.9 119.9h1v1h-1zM169.9 116.3h1v1h-1zM172.4 114.3h1v1h-1zM176.1 117.9h1v1h-1zM189.0 110.5h1v1h-1zM171.9 113.6h1v1h-1zM165.1 87.2h1v1h-1zM169.7 115.2h1v1h-1zM180.2 116.1h1v1h-1zM171.1 42.7h1v1h-1zM173.1 88.9h1v1h-1zM180.8 119.2h1v1h-1zM171.0 114.1h1v1h-1zM183.7 108.1h1v1h-1zM179.5 111.0h1v1h-1zM186.1 116.4h1v1h-1zM182.9 94.8h1v1h-1zM171.0 116.7h1v1h-1zM191.9 119.4h1v1h-1zM198.2 109.2h1v1h-1z"/>
<path fill="#2a2a2a" fill-opacity="0.26" d="M177.9 110.4h1v1h-1zM171.3 116.6h1v1h-1zM169.3 87.5h1v1h-1zM169.6 115.9h1v1h-1zM181.1 118.4h1v1h-1zM167.1 106.3h1v1h-1zM172.1 100.0h1v1h-1zM169.1 89.5h1v1h-1zM207.3 109.1h1v1h-1zM176.1 112.8h1v1h-1zM178.4 119.9h1v1h-1zM181.8 110.7h1v1h-1zM166.6 102.4h1v1h-1zM172.9 74.0h1v1h-1zM190.4 105.5h1v1h-1zM177.5 117.5h1v1h-1zM169.9 104.4h1v1h-1zM168.5 120.0h1v1h-1zM181.5 116.3h1v1h-1zM170.3 73.8h1v1h-1z"/>
<path fill="#2a2a2a" fill-opacity="0.26" d="M173.4 100.6h1v1h-1zM201.8 119.5h1v1h-1zM196.5 119.8h1v1h-1zM175.3 119.2h1v1h-1zM168.4 107.2h1v1h-1zM176.4 116.1h1v1h-1zM167.8 115.9h1v1h-1zM178.5 111.0h1v1h-1zM170.2 85.2h1v1h-1zM182.0 115.5h1v1h-1zM208.3 108.6h1v1h-1zM201.9 116.6h1v1h-1zM174.2 104.3h1v1h-1zM171.2 104.7h1v1h-1zM205.8 102.1h1v1h-1zM185.0 117.4h1v1h-1zM177.7 114.4h1v1h-1zM169.9 119.9h1v1h-1zM199.8 114.7h1v1h-1zM176.5 111.8h1v1h-1z"/>
<path fill="#2a2a2a" fill-opacity="0.26" d="M173.4 113.5h1v1h-1zM170.2 116.8h1v1h-1zM184.2 115.6h1v1h-1zM166.4 100.9h1v1h-1zM181.8 115.0h1v1h-1zM173.8 117.9h1v1h-1zM177.3 117.8h1v1h-1zM171.9 119.0h1v1h-1zM191.5 104.6h1v1h-1zM189.8 99.4h1v1h-1zM173.6 113.1h1v1h-1zM195.2 100.7h1v1h-1zM172.5 77.6h1v1h-1zM170.9 118.2h1v1h-1zM176.9 116.3h1v1h-1zM169.1 103.8h1v1h-1zM186.5 115.7h1v1h-1zM173.4 103.0h1v1h-1zM203.2 113.5h1v1h-1zM170.5 113.2h1v1h-1z"/>
<path fill="#2a2a2a" fill-opacity="0.26" d="M166.9 112.3h1v1h-1zM169.1 78.9h1v1h-1zM181.2 100.2h1v1h-1zM165.8 114.6h1v1h-1zM167.9 103.8h1v1h-1zM168.3 100.0h1v1h-1zM183.2 116.9h1v1h-1zM172.8 116.9h1v1h-1zM167.0 96.2h1v1h-1zM170.6 114.7h1v1h-1zM169.6 89.9h1v1h-1zM170.6 117.2h1v1h-1zM185.1 104.4h1v1h-1zM205.3 117.1h1v1h-1zM173.9 116.9h1v1h-1zM171.5 115.6h1v1h-1zM174.0 118.7h1v1h-1zM171.3 34.6h1v1h-1zM169.3 73.0h1v1h-1zM183.3 118.5h1v1h-1z"/>
<path fill="#2a2a2a" fill-opacity="0.26" d="M171.0 118.0h1v1h-1zM185.0 113.7h1v1h-1zM183.0 108.3h1v1h-1zM170.1 47.8h1v1h-1zM171.7 112.4h1v1h-1zM195.6 110.6h1v1h-1zM178.0 118.9h1v1h-1zM177.8 118.9h1v1h-1zM194.3 86.0h1v1h-1zM173.1 111.8h1v1h-1zM198.5 110.9h1v1h-1zM163.8 115.7h1v1h-1zM179.3 114.5h1v1h-1zM182.1 117.8h1v1h-1zM169.1 109.1h1v1h-1zM170.4 108.0h1v1h-1zM168.5 111.7h1v1h-1zM181.5 116.9h1v1h-1zM195.0 110.8h1v1h-1zM172.1 113.5h1v1h-1z"/>
<path fill="#2a2a2a" fill-opacity="0.26" d="M170.0 119.3h1v1h-1zM180.0 116.6h1v1h-1zM169.7 100.3h1v1h-1zM206.8 101.5h1v1h-1zM171.1 115.2h1v1h-1zM173.9 118.6h1v1h-1zM209.4 117.6h1v1h-1zM168.2 90.2h1v1h-1zM175.4 110.9h1v1h-1zM170.4 96.6h1v1h-1zM184.4 117.7h1v1h-1zM196.3 116.1h1v1h-1zM172.2 111.5h1v1h-1zM180.5 108.2h1v1h-1zM165.2 106.5h1v1h-1zM184.5 112.2h1v1h-1zM171.6 99.1h1v1h-1zM172.2 72.9h1v1h-1zM166.0 114.3h1v1h-1zM169.0 94.0h1v1h-1z"/>
<path fill="#2a2a2a" fill-opacity="0.26" d="M183.0 116.4h1v1h-1zM170.4 90.2h1v1h-1zM178.2 104.7h1v1h-1zM171.3 119.6h1v1h-1zM175.5 114.5h1v1h-1zM171.3 117.4h1v1h-1zM186.7 118.1h1v1h-1zM179.0 102.2h1v1h-1zM179.9 116.9h1v1h-1zM169.9 111.0h1v1h-1zM179.0 117.0h1v1h-1zM186.7 118.9h1v1h-1zM170.5 119.2h1v1h-1zM173.0 73.3h1v1h-1zM180.2 116.3h1v1h-1zM168.5 110.3h1v1h-1zM169.1 108.2h1v1h-1zM180.2 116.9h1v1h-1zM173.8 111.6h1v1h-1zM179.7 117.8h1v1h-1z"/>
<path fill="#2a2a2a" fill-opacity="0.26" d="M167.1 117.3h1v1h-1zM200.4 117.2h1v1h-1zM182.7 119.0h1v1h-1zM176.6 113.9h1v1h-1zM192.9 111.7h1v1h-1zM179.5 116.9h1v1h-1zM180.6 105.7h1v1h-1zM167.2 81.2h1v1h-1zM182.1 117.4h1v1h-1zM174.5 119.8h1v1h-1zM203.6 116.5h1v1h-1zM181.3 114.8h1v1h-1zM170.8 94.5h1v1h-1zM173.7 117.5h1v1h-1zM176.1 102.5h1v1h-1zM166.2 116.2h1v1h-1zM169.4 117.7h1v1h-1zM203.0 118.1h1v1h-1zM172.2 119.4h1v1h-1zM176.2 115.1h1v1h-1z"/>
<path fill="#2a2a2a" fill-opacity="0.26" d="M171.3 97.8h1v1h-1zM169.2 116.2h1v1h-1zM169.9 83.7h1v1h-1zM166.6 60.9h1v1h-1zM178.1 114.8h1v1h-1zM181.7 118.5h1v1h-1zM173.7 119.5h1v1h-1zM171.6 112.1h1v1h-1zM194.9 118.8h1v1h-1zM170.1 91.5h1v1h-1zM167.8 96.7h1v1h-1zM176.7 109.5h1v1h-1zM169.5 116.6h1v1h-1zM201.1 107.4h1v1h-1zM175.8 117.5h1v1h-1zM182.4 118.4h1v1h-1zM208.6 99.4h1v1h-1zM189.6 100.1h1v1h-1zM170.8 112.0h1v1h-1zM174.6 118.7h1v1h-1z"/>
<path fill="#2a2a2a" fill-opacity="0.26" d="M170.4 82.1h1v1h-1zM172.2 105.4h1v1h-1zM178.7 114.8h1v1h-1zM179.7 119.1h1v1h-1zM170.9 102.7h1v1h-1zM169.5 101.4h1v1h-1zM176.7 70.0h1v1h-1zM172.1 112.2h1v1h-1zM195.5 104.6h1v1h-1zM191.7 112.1h1v1h-1zM175.1 94.1h1v1h-1zM182.4 110.7h1v1h-1zM183.0 110.7h1v1h-1zM172.3 99.2h1v1h-1zM177.0 114.7h1v1h-1zM166.7 120.1h1v1h-1zM196.6 112.0h1v1h-1zM171.2 93.2h1v1h-1zM173.9 108.3h1v1h-1zM183.3 97.9h1v1h-1z"/>
<path fill="#2a2a2a" fill-opacity="0.26" d="M170.3 54.0h1v1h-1zM172.9 97.7h1v1h-1zM172.3 119.1h1v1h-1zM190.9 107.4h1v1h-1zM188.8 119.5h1v1h-1zM174.9 119.1h1v1h-1zM164.6 42.3h1v1h-1zM172.7 118.9h1v1h-1zM170.6 115.5h1v1h-1zM187.1 94.1h1v1h-1zM168.8 105.6h1v1h-1zM206.1 112.0h1v1h-1zM182.4 116.8h1v1h-1zM186.9 114.4h1v1h-1zM184.4 119.2h1v1h-1zM173.2 106.4h1v1h-1zM203.5 93.5h1v1h-1zM167.0 103.5h1v1h-1zM207.1 117.9h1v1h-1zM173.6 99.5h1v1h-1z"/>
<path fill="#2a2a2a" fill-opacity="0.26" d="M170.2 110.8h1v1h-1zM170.7 97.0h1v1h-1zM171.6 119.7h1v1h-1zM178.4 109.0h1v1h-1zM173.7 68.9h1v1h-1zM172.2 116.9h1v1h-1zM172.6 95.3h1v1h-1zM208.9 106.4h1v1h-1zM173.2 116.4h1v1h-1zM199.2 116.9h1v1h-1zM195.3 82.1h1v1h-1zM166.7 82.8h1v1h-1zM172.4 94.1h1v1h-1zM171.4 119.3h1v1h-1zM180.2 118.2h1v1h-1zM163.6 117.1h1v1h-1zM174.4 106.9h1v1h-1zM199.0 112.8h1v1h-1zM184.8 119.8h1v1h-1zM189.7 117.8h1v1h-1z"/>
<path fill="#2a2a2a" fill-opacity="0.26" d="M204.0 119.4h1v1h-1zM174.9 117.2h1v1h-1zM177.4 117.7h1v1h-1zM168.4 69.7h1v1h-1zM207.7 116.1h1v1h-1zM167.6 59.1h1v1h-1zM174.1 118.3h1v1h-1zM191.3 119.6h1v1h-1zM180.3 119.8h1v1h-1zM175.3 112.3h1v1h-1zM172.6 117.1h1v1h-1zM180.4 113.0h1v1h-1zM189.3 114.9h1v1h-1zM178.6 112.4h1v1h-1zM168.6 99.0h1v1h-1zM169.4 117.0h1v1h-1zM186.5 119.5h1v1h-1zM205.4 113.1h1v1h-1zM196.1 115.9h1v1h-1zM166.5 100.0h1v1h-1z"/>
<path fill="#2a2a2a" fill-opacity="0.26" d="M178.6 116.1h1v1h-1zM172.8 112.4h1v1h-1zM201.5 89.4h1v1h-1zM180.2 114.8h1v1h-1zM171.4 93.6h1v1h-1zM174.9 118.7h1v1h-1zM179.9 117.6h1v1h-1zM173.4 99.3h1v1h-1zM176.4 108.7h1v1h-1zM182.8 113.4h1v1h-1zM169.9 99.3h1v1h-1zM178.4 116.6h1v1h-1zM188.1 117.5h1v1h-1zM176.1 116.3h1v1h-1zM195.2 112.2h1v1h-1zM184.6 118.3h1v1h-1zM170.2 115.9h1v1h-1zM179.7 118.7h1v1h-1zM169.3 98.2h1v1h-1zM167.5 98.6h1v1h-1z"/>
<path fill="#2a2a2a" fill-opacity="0.26" d="M170.5 109.3h1v1h-1zM191.2 119.9h1v1h-1zM187.1 110.3h1v1h-1zM193.2 117.9h1v1h-1zM186.4 113.4h1v1h-1zM179.8 118.5h1v1h-1zM167.9 107.7h1v1h-1zM171.6 82.9h1v1h-1zM171.5 101.3h1v1h-1zM197.1 107.0h1v1h-1zM203.0 117.7h1v1h-1zM176.3 118.2h1v1h-1zM181.1 117.3h1v1h-1zM201.7 94.3h1v1h-1zM197.8 108.1h1v1h-1zM170.3 110.5h1v1h-1zM179.6 119.0h1v1h-1zM172.6 116.8h1v1h-1zM209.1 111.9h1v1h-1zM188.6 91.4h1v1h-1z"/>
<path fill="#2a2a2a" fill-opacity="0.26" d="M201.2 101.0h1v1h-1zM178.9 113.3h1v1h-1zM170.8 100.8h1v1h-1zM169.9 53.4h1v1h-1zM201.3 75.3h1v1h-1zM174.3 92.6h1v1h-1zM170.5 62.8h1v1h-1zM187.2 109.9h1v1h-1zM181.8 115.0h1v1h-1zM196.9 109.5h1v1h-1zM172.6 63.8h1v1h-1zM173.0 111.5h1v1h-1zM194.6 108.2h1v1h-1zM179.6 114.1h1v1h-1zM199.7 109.0h1v1h-1zM187.1 99.8h1v1h-1zM165.3 113.0h1v1h-1zM198.0 85.8h1v1h-1zM168.8 93.0h1v1h-1zM180.9 116.1h1v1h-1z"/>
<path fill="#2a2a2a" fill-opacity="0.26" d="M189.8 118.4h1v1h-1zM171.1 92.6h1v1h-1zM183.3 113.9h1v1h-1zM178.0 74.5h1v1h-1zM169.1 77.8h1v1h-1zM174.2 107.1h1v1h-1zM196.7 112.6h1v1h-1zM205.9 106.7h1v1h-1zM189.6 104.4h1v1h-1zM174.3 97.3h1v1h-1zM167.0 113.3h1v1h-1zM173.7 116.5h1v1h-1zM182.0 107.8h1v1h-1zM178.7 103.3h1v1h-1zM178.0 118.9h1v1h-1zM178.9 116.2h1v1h-1zM172.3 103.1h1v1h-1zM195.0 100.7h1v1h-1zM169.3 112.6h1v1h-1zM176.1 108.9h1v1h-1z"/>
<path fill="#2a2a2a" fill-opacity="0.26" d="M170.8 67.0h1v1h-1zM177.3 119.7h1v1h-1zM180.6 105.7h1v1h-1zM171.9 107.2h1v1h-1zM183.8 119.1h1v1h-1zM171.5 111.8h1v1h-1zM199.0 90.2h1v1h-1zM170.0 74.9h1v1h-1zM175.5 111.1h1v1h-1zM179.9 119.5h1v1h-1zM170.3 89.4h1v1h-1zM171.6 112.2h1v1h-1zM209.1 115.9h1v1h-1zM172.9 108.0h1v1h-1zM176.5 119.1h1v1h-1zM206.2 100.9h1v1h-1zM167.1 92.1h1v1h-1zM176.7 119.6h1v1h-1zM168.2 112.9h1v1h-1zM176.0 119.3h1v1h-1z"/>
<path fill="#2a2a2a" fill-opacity="0.26" d="M167.0 119.8h1v1h-1zM174.1 110.3h1v1h-1zM201.6 112.9h1v1h-1zM169.0 110.9h1v1h-1zM187.3 116.6h1v1h-1zM176.9 112.6h1v1h-1zM172.0 118.7h1v1h-1zM170.4 117.8h1v1h-1zM172.4 108.6h1v1h-1zM168.4 119.8h1v1h-1zM181.9 116.9h1v1h-1zM168.4 82.1h1v1h-1zM177.6 118.3h1v1h-1zM169.7 54.0h1v1h-1zM179.8 119.8h1v1h-1zM186.0 116.8h1v1h-1zM175.9 115.5h1v1h-1zM177.2 117.8h1v1h-1zM175.7 114.9h1v1h-1zM173.6 116.1h1v1h-1z"/>
<path fill="#2a2a2a" fill-opacity="0.26" d="M179.5 118.8h1v1h-1zM174.7 110.6h1v1h-1zM167.8 111.4h1v1h-1zM170.1 113.7h1v1h-1zM207.7 87.9h1v1h-1zM175.5 115.4h1v1h-1zM170.7 47.2h1v1h-1zM188.2 119.1h1v1h-1zM176.1 118.0h1v1h-1zM173.9 97.8h1v1h-1zM174.2 109.0h1v1h-1zM209.0 103.3h1v1h-1zM166.9 111.2h1v1h-1zM181.9 108.7h1v1h-1zM179.9 117.3h1v1h-1zM169.6 110.1h1v1h-1zM171.9 73.5h1v1h-1zM168.5 115.4h1v1h-1zM173.7 105.9h1v1h-1zM171.8 46.9h1v1h-1z"/>
<path fill="#2a2a2a" fill-opacity="0.26" d="M208.0 118.4h1v1h-1zM164.2 78.1h1v1h-1zM198.7 119.8h1v1h-1zM179.0 113.5h1v1h-1zM173.6 116.4h1v1h-1zM200.6 101.8h1v1h-1zM173.4 117.8h1v1h-1zM172.3 118.0h1v1h-1zM183.3 114.2h1v1h-1zM186.1 118.3h1v1h-1zM171.9 111.8h1v1h-1zM195.6 104.4h1v1h-1zM176.5 105.7h1v1h-1zM190.0 73.7h1v1h-1zM196.7 40.5h1v1h-1zM174.0 109.7h1v1h-1zM178.8 116.9h1v1h-1zM186.8 116.9h1v1h-1zM183.0 113.5h1v1h-1zM167.5 118.9h1v1h-1z"/>
<path fill="#2a2a2a" fill-opacity="0.26" d="M190.5 107.8h1v1h-1zM178.9 116.2h1v1h-1zM174.9 113.8h1v1h-1zM185.8 109.4h1v1h-1zM171.6 106.7h1v1h-1zM208.9 107.8h1v1h-1zM174.0 116.0h1v1h-1zM196.0 100.5h1v1h-1zM200.0 110.5h1v1h-1zM175.3 34.0h1v1h-1zM169.5 108.8h1v1h-1zM209.1 97.5h1v1h-1zM168.4 116.1h1v1h-1zM174.8 120.0h1v1h-1zM169.9 107.3h1v1h-1zM173.4 120.0h1v1h-1zM169.0 33.5h1v1h-1zM170.1 89.6h1v1h-1zM171.1 108.4h1v1h-1zM169.8 117.9h1v1h-1z"/>
<path fill="#2a2a2a" fill-opacity="0.26" d="M175.9 116.7h1v1h-1zM171.7 73.4h1v1h-1zM178.3 112.5h1v1h-1zM169.0 118.5h1v1h-1zM170.2 71.1h1v1h-1zM171.5 91.6h1v1h-1zM171.1 109.9h1v1h-1zM175.2 96.2h1v1h-1zM196.5 113.1h1v1h-1zM193.4 116.3h1v1h-1zM179.6 117.3h1v1h-1zM171.5 118.3h1v1h-1zM179.4 118.1h1v1h-1zM171.1 92.9h1v1h-1zM175.0 116.2h1v1h-1zM179.6 116.5h1v1h-1zM173.4 84.4h1v1h-1zM181.0 110.9h1v1h-1zM181.4 115.7h1v1h-1zM178.5 109.6h1v1h-1z"/>
<path fill="#2a2a2a" fill-opacity="0.26" d="M172.1 106.9h1v1h-1zM173.1 117.6h1v1h-1zM172.4 76.6h1v1h-1zM174.6 109.7h1v1h-1zM192.6 118.3h1v1h-1zM164.0 109.8h1v1h-1zM196.0 100.2h1v1h-1zM187.7 117.6h1v1h-1zM207.6 102.7h1v1h-1zM172.9 77.2h1v1h-1zM178.8 119.0h1v1h-1zM170.3 111.2h1v1h-1zM191.0 58.9h1v1h-1zM189.7 119.5h1v1h-1zM174.3 118.0h1v1h-1zM171.6 100.7h1v1h-1zM171.7 81.0h1v1h-1zM169.8 114.2h1v1h-1zM172.0 68.0h1v1h-1zM183.3 118.1h1v1h-1z"/>
<path fill="#2a2a2a" fill-opacity="0.26" d="M174.3 113.3h1v1h-1zM172.3 89.1h1v1h-1zM168.2 78.2h1v1h-1zM172.0 99.0h1v1h-1zM181.2 111.7h1v1h-1zM173.9 118.6h1v1h-1zM172.2 90.7h1v1h-1zM178.4 117.4h1v1h-1zM184.4 117.5h1v1h-1zM172.4 97.3h1v1h-1zM174.9 85.7h1v1h-1zM181.9 116.7h1v1h-1zM172.8 88.7h1v1h-1zM172.6 75.2h1v1h-1zM171.6 116.3h1v1h-1zM170.4 97.8h1v1h-1zM170.7 70.2h1v1h-1zM169.5 117.0h1v1h-1zM182.3 117.0h1v1h-1zM167.6 101.6h1v1h-1z"/>
<path fill="#2a2a2a" fill-opacity="0.26" d="M182.3 116.9h1v1h-1zM172.5 98.2h1v1h-1zM170.6 118.0h1v1h-1zM170.2 83.8h1v1h-1zM181.0 115.1h1v1h-1zM170.3 48.9h1v1h-1zM167.7 115.5h1v1h-1zM175.6 113.4h1v1h-1zM170.2 80.3h1v1h-1zM171.8 99.1h1v1h-1zM178.7 106.0h1v1h-1zM180.7 118.9h1v1h-1zM185.9 107.6h1v1h-1zM193.6 112.2h1v1h-1zM170.5 116.4h1v1h-1zM176.4 112.9h1v1h-1zM176.0 119.1h1v1h-1zM171.2 102.1h1v1h-1zM176.8 105.4h1v1h-1zM195.8 118.8h1v1h-1z"/>
<path fill="#2a2a2a" fill-opacity="0.26" d="M167.4 113.9h1v1h-1zM187.6 100.4h1v1h-1zM205.7 102.3h1v1h-1zM181.9 119.7h1v1h-1zM167.9 109.5h1v1h-1zM175.8 113.9h1v1h-1zM174.6 116.0h1v1h-1zM178.7 118.6h1v1h-1zM174.3 110.4h1v1h-1zM175.5 119.9h1v1h-1zM181.5 110.2h1v1h-1zM208.4 113.9h1v1h-1zM200.6 112.6h1v1h-1zM172.5 89.8h1v1h-1zM190.8 110.8h1v1h-1zM175.7 113.4h1v1h-1zM172.0 111.5h1v1h-1zM168.9 90.3h1v1h-1zM196.5 112.0h1v1h-1zM169.3 108.1h1v1h-1z"/>
<path fill="#2a2a2a" fill-opacity="0.26" d="M173.3 115.1h1v1h-1zM172.8 83.6h1v1h-1zM174.3 111.4h1v1h-1zM173.5 97.5h1v1h-1zM182.8 104.7h1v1h-1zM174.9 78.1h1v1h-1zM208.9 117.3h1v1h-1zM171.0 85.2h1v1h-1zM169.0 108.9h1v1h-1zM178.3 112.7h1v1h-1zM183.3 117.0h1v1h-1zM171.3 111.6h1v1h-1zM192.5 96.2h1v1h-1zM206.5 113.9h1v1h-1zM173.5 115.0h1v1h-1zM180.4 117.9h1v1h-1zM180.5 90.0h1v1h-1zM172.3 74.5h1v1h-1zM168.0 113.0h1v1h-1zM205.9 115.8h1v1h-1z"/>
<path fill="#2a2a2a" fill-opacity="0.26" d="M175.7 117.1h1v1h-1zM182.7 114.7h1v1h-1zM171.0 111.1h1v1h-1zM172.4 113.7h1v1h-1zM175.8 115.0h1v1h-1zM192.0 118.2h1v1h-1zM204.2 118.1h1v1h-1zM170.3 61.1h1v1h-1zM177.9 110.7h1v1h-1zM171.0 118.5h1v1h-1zM174.6 114.1h1v1h-1zM170.7 110.8h1v1h-1zM168.8 82.6h1v1h-1zM175.9 111.9h1v1h-1zM177.6 118.9h1v1h-1zM168.2 118.0h1v1h-1zM207.4 103.3h1v1h-1zM177.5 116.7h1v1h-1zM203.5 116.2h1v1h-1zM188.9 111.8h1v1h-1z"/>
<path fill="#2a2a2a" fill-opacity="0.26" d="M177.1 108.1h1v1h-1zM193.6 111.7h1v1h-1zM201.0 114.6h1v1h-1zM165.7 118.0h1v1h-1zM184.5 119.3h1v1h-1zM194.6 118.9h1v1h-1zM167.6 103.3h1v1h-1zM171.6 118.1h1v1h-1zM171.9 81.8h1v1h-1zM176.0 76.7h1v1h-1zM170.7 94.1h1v1h-1zM185.9 108.4h1v1h-1zM205.5 115.9h1v1h-1zM201.4 117.1h1v1h-1zM186.5 114.1h1v1h-1zM191.5 98.3h1v1h-1zM171.8 103.3h1v1h-1zM169.3 114.6h1v1h-1zM170.1 82.0h1v1h-1zM166.5 51.2h1v1h-1z"/>
<path fill="#2a2a2a" fill-opacity="0.26" d="M171.9 93.3h1v1h-1zM173.1 94.5h1v1h-1zM178.2 93.2h1v1h-1zM183.7 117.9h1v1h-1zM187.8 107.8h1v1h-1zM185.7 119.0h1v1h-1zM180.8 109.1h1v1h-1zM185.9 110.2h1v1h-1zM170.5 94.8h1v1h-1zM185.7 119.6h1v1h-1zM169.9 112.5h1v1h-1zM167.5 71.1h1v1h-1zM202.3 95.2h1v1h-1zM173.0 95.6h1v1h-1zM208.4 95.8h1v1h-1zM178.8 117.8h1v1h-1zM183.5 116.9h1v1h-1zM206.2 102.0h1v1h-1zM165.6 106.6h1v1h-1zM175.6 97.5h1v1h-1z"/>
<path fill="#2a2a2a" fill-opacity="0.26" d="M172.4 61.1h1v1h-1zM199.2 100.0h1v1h-1zM176.7 108.1h1v1h-1zM169.0 91.7h1v1h-1zM174.6 117.2h1v1h-1zM178.1 116.9h1v1h-1zM179.4 79.1h1v1h-1zM193.6 59.6h1v1h-1zM170.4 102.0h1v1h-1zM194.2 111.0h1v1h-1zM176.0 117.2h1v1h-1zM171.2 114.7h1v1h-1zM172.2 120.1h1v1h-1zM194.1 104.9h1v1h-1zM188.0 115.0h1v1h-1zM167.9 113.0h1v1h-1zM180.6 108.8h1v1h-1zM173.7 98.4h1v1h-1zM175.2 114.6h1v1h-1zM175.9 119.7h1v1h-1z"/>
<path fill="#2a2a2a" fill-opacity="0.26" d="M184.2 118.3h1v1h-1zM180.0 115.1h1v1h-1zM167.4 119.5h1v1h-1zM169.9 96.1h1v1h-1zM171.6 96.2h1v1h-1zM184.3 115.0h1v1h-1zM170.5 88.4h1v1h-1zM170.5 109.9h1v1h-1zM169.6 96.8h1v1h-1zM186.4 107.3h1v1h-1zM206.4 119.8h1v1h-1zM172.1 83.2h1v1h-1zM198.3 95.0h1v1h-1zM189.2 110.8h1v1h-1zM185.8 100.3h1v1h-1zM172.8 70.1h1v1h-1zM199.0 109.5h1v1h-1zM187.7 115.3h1v1h-1zM175.0 89.1h1v1h-1zM170.9 118.1h1v1h-1z"/>
<path fill="#2a2a2a" fill-opacity="0.26" d="M198.0 98.9h1v1h-1zM204.8 113.4h1v1h-1zM184.8 119.7h1v1h-1zM201.9 117.6h1v1h-1zM176.7 118.1h1v1h-1zM170.1 113.1h1v1h-1zM174.6 94.3h1v1h-1zM176.3 118.9h1v1h-1zM171.8 100.8h1v1h-1zM171.8 95.8h1v1h-1zM179.8 114.1h1v1h-1zM170.1 102.7h1v1h-1zM184.3 111.5h1v1h-1zM174.5 70.9h1v1h-1zM167.5 70.7h1v1h-1zM198.0 108.2h1v1h-1zM172.7 115.7h1v1h-1zM169.4 118.2h1v1h-1zM171.9 106.3h1v1h-1zM173.6 117.5h1v1h-1z"/>
<path fill="#2a2a2a" fill-opacity="0.26" d="M171.3 98.6h1v1h-1zM170.7 82.0h1v1h-1zM178.4 109.9h1v1h-1zM187.7 116.3h1v1h-1zM177.7 114.2h1v1h-1zM170.9 112.8h1v1h-1zM192.4 108.0h1v1h-1zM201.7 116.2h1v1h-1zM168.2 107.2h1v1h-1zM184.9 119.4h1v1h-1zM193.8 113.5h1v1h-1zM173.3 118.1h1v1h-1zM168.3 61.9h1v1h-1zM169.3 94.9h1v1h-1zM171.0 114.3h1v1h-1zM171.1 115.5h1v1h-1zM178.1 113.3h1v1h-1zM193.6 116.1h1v1h-1zM167.5 112.8h1v1h-1zM168.5 107.6h1v1h-1z"/>
<path fill="#2a2a2a" fill-opacity="0.26" d="M206.0 111.5h1v1h-1zM184.5 113.9h1v1h-1zM181.2 109.5h1v1h-1zM166.2 87.7h1v1h-1zM173.4 118.6h1v1h-1zM181.9 119.8h1v1h-1zM174.6 113.2h1v1h-1zM194.7 109.3h1v1h-1zM175.3 68.3h1v1h-1zM187.9 95.1h1v1h-1zM198.0 110.7h1v1h-1zM181.1 114.7h1v1h-1zM167.2 106.1h1v1h-1zM207.8 106.0h1v1h-1zM174.0 112.2h1v1h-1zM178.4 111.8h1v1h-1zM167.3 103.8h1v1h-1zM182.2 117.7h1v1h-1zM179.3 119.2h1v1h-1zM182.5 116.2h1v1h-1z"/>
<path fill="#2a2a2a" fill-opacity="0.26" d="M162.7 118.7h1v1h-1zM172.3 110.8h1v1h-1zM169.7 111.7h1v1h-1zM173.2 81.7h1v1h-1zM181.7 113.3h1v1h-1zM175.1 111.1h1v1h-1zM171.1 110.7h1v1h-1zM175.7 117.7h1v1h-1zM183.1 119.2h1v1h-1zM175.1 117.7h1v1h-1zM180.6 118.2h1v1h-1zM177.1 67.7h1v1h-1zM181.8 78.8h1v1h-1zM166.7 119.5h1v1h-1zM168.6 91.8h1v1h-1zM166.8 118.8h1v1h-1zM181.1 111.7h1v1h-1zM169.4 97.3h1v1h-1zM181.5 109.1h1v1h-1zM181.7 110.5h1v1h-1z"/>
<path fill="#2a2a2a" fill-opacity="0.26" d="M194.1 99.2h1v1h-1zM180.9 120.1h1v1h-1zM170.3 112.2h1v1h-1zM207.2 118.1h1v1h-1zM172.5 107.4h1v1h-1zM168.5 78.7h1v1h-1zM174.9 119.9h1v1h-1zM172.0 78.0h1v1h-1zM170.0 118.6h1v1h-1zM181.4 113.7h1v1h-1zM174.7 103.1h1v1h-1zM180.4 119.3h1v1h-1zM170.2 120.1h1v1h-1zM166.0 42.4h1v1h-1zM170.0 92.6h1v1h-1zM183.0 97.9h1v1h-1zM173.2 114.6h1v1h-1zM189.8 119.4h1v1h-1zM176.8 116.2h1v1h-1zM202.9 114.1h1v1h-1z"/>
<path fill="#2a2a2a" fill-opacity="0.26" d="M174.4 117.3h1v1h-1zM168.4 106.6h1v1h-1zM167.6 118.8h1v1h-1zM186.8 92.6h1v1h-1zM183.0 119.1h1v1h-1zM172.8 105.9h1v1h-1zM207.3 113.5h1v1h-1zM177.1 113.3h1v1h-1zM174.0 103.6h1v1h-1zM205.9 118.9h1v1h-1zM178.0 119.3h1v1h-1zM181.1 109.7h1v1h-1zM171.2 101.9h1v1h-1zM172.0 96.1h1v1h-1zM169.9 99.9h1v1h-1zM171.3 98.7h1v1h-1zM179.0 117.0h1v1h-1zM173.8 114.8h1v1h-1zM169.4 68.0h1v1h-1zM164.6 66.9h1v1h-1z"/>
<path fill="#2a2a2a" fill-opacity="0.26" d="M194.6 97.1h1v1h-1zM170.2 114.2h1v1h-1zM177.6 115.6h1v1h-1zM192.7 104.6h1v1h-1zM171.9 106.6h1v1h-1zM206.7 113.7h1v1h-1zM170.2 120.0h1v1h-1zM181.0 117.1h1v1h-1zM169.2 110.4h1v1h-1zM172.4 116.2h1v1h-1zM176.5 119.9h1v1h-1zM177.2 114.2h1v1h-1zM185.9 100.6h1v1h-1zM166.4 75.5h1v1h-1zM198.1 99.0h1v1h-1zM165.8 105.7h1v1h-1zM173.4 85.1h1v1h-1zM195.6 87.7h1v1h-1zM173.9 118.9h1v1h-1zM168.7 113.7h1v1h-1z"/>
<path fill="#2a2a2a" fill-opacity="0.26" d="M186.3 117.9h1v1h-1zM170.5 91.4h1v1h-1zM173.0 119.8h1v1h-1zM208.9 32.5h1v1h-1zM172.3 67.9h1v1h-1zM181.7 113.1h1v1h-1zM173.3 108.5h1v1h-1zM167.8 103.9h1v1h-1zM176.5 110.7h1v1h-1zM172.3 92.0h1v1h-1zM177.0 114.5h1v1h-1zM171.2 108.9h1v1h-1zM181.8 117.4h1v1h-1zM175.5 116.8h1v1h-1zM176.9 111.6h1v1h-1zM183.9 107.8h1v1h-1zM181.1 118.4h1v1h-1zM179.2 70.6h1v1h-1zM207.8 96.9h1v1h-1zM187.4 117.8h1v1h-1z"/>
<path fill="#2a2a2a" fill-opacity="0.26" d="M172.8 119.1h1v1h-1zM174.8 114.7h1v1h-1zM165.8 114.8h1v1h-1zM208.4 96.1h1v1h-1zM171.2 46.9h1v1h-1zM175.0 61.3h1v1h-1zM173.2 69.1h1v1h-1zM170.5 115.3h1v1h-1zM173.3 117.3h1v1h-1zM168.0 86.3h1v1h-1zM169.5 99.2h1v1h-1zM183.3 111.4h1v1h-1zM182.4 119.6h1v1h-1zM175.8 79.0h1v1h-1zM165.3 119.4h1v1h-1zM179.2 109.6h1v1h-1zM207.4 116.8h1v1h-1zM171.0 99.4h1v1h-1zM190.6 111.9h1v1h-1zM186.4 115.1h1v1h-1z"/>
<path fill="#2a2a2a" fill-opacity="0.26" d="M171.2 101.7h1v1h-1zM168.4 96.3h1v1h-1zM191.8 114.9h1v1h-1zM173.1 113.9h1v1h-1zM186.0 116.6h1v1h-1zM177.9 110.6h1v1h-1zM170.7 44.8h1v1h-1zM192.8 116.8h1v1h-1zM171.9 118.3h1v1h-1zM172.2 116.5h1v1h-1zM202.7 99.8h1v1h-1zM172.8 115.0h1v1h-1zM188.4 116.4h1v1h-1zM193.5 116.1h1v1h-1zM181.3 109.0h1v1h-1zM194.5 118.0h1v1h-1zM203.7 102.5h1v1h-1zM172.8 109.1h1v1h-1zM188.5 99.7h1v1h-1zM180.8 104.6h1v1h-1z"/>
<path fill="#2a2a2a" fill-opacity="0.26" d="M176.8 119.8h1v1h-1zM208.0 115.1h1v1h-1zM183.3 110.7h1v1h-1zM172.6 113.8h1v1h-1zM197.2 113.6h1v1h-1zM170.6 111.9h1v1h-1zM172.3 114.9h1v1h-1zM160.6 33.3h1v1h-1zM194.0 114.9h1v1h-1zM167.1 115.2h1v1h-1zM208.5 117.8h1v1h-1zM164.6 63.4h1v1h-1zM181.4 119.9h1v1h-1zM169.9 69.5h1v1h-1zM172.0 93.4h1v1h-1zM171.2 111.2h1v1h-1zM170.4 78.5h1v1h-1zM178.0 116.6h1v1h-1zM204.3 111.3h1v1h-1zM170.4 101.7h1v1h-1z"/>
<path fill="#2a2a2a" fill-opacity="0.26" d="M170.1 114.6h1v1h-1zM165.9 92.6h1v1h-1zM173.3 114.8h1v1h-1zM176.6 117.8h1v1h-1zM180.9 117.5h1v1h-1zM174.1 119.4h1v1h-1zM184.8 119.0h1v1h-1zM183.7 119.3h1v1h-1zM193.7 114.3h1v1h-1zM169.0 117.7h1v1h-1zM171.3 113.1h1v1h-1zM178.3 105.3h1v1h-1zM184.6 112.2h1v1h-1zM199.7 109.7h1v1h-1zM172.3 117.6h1v1h-1zM169.5 76.0h1v1h-1zM178.0 115.3h1v1h-1zM173.4 78.4h1v1h-1zM202.8 113.8h1v1h-1zM173.4 107.9h1v1h-1z"/>
<path fill="#2a2a2a" fill-opacity="0.26" d="M171.0 96.5h1v1h-1zM175.8 113.9h1v1h-1zM178.0 113.3h1v1h-1zM192.1 102.8h1v1h-1zM180.2 114.7h1v1h-1zM192.0 114.0h1v1h-1zM170.0 91.2h1v1h-1zM166.7 119.7h1v1h-1zM175.8 99.2h1v1h-1zM169.5 119.0h1v1h-1zM181.2 86.4h1v1h-1zM187.4 103.7h1v1h-1zM178.6 105.6h1v1h-1zM185.9 112.1h1v1h-1zM170.9 99.2h1v1h-1zM193.9 104.2h1v1h-1zM179.5 117.6h1v1h-1zM181.7 114.8h1v1h-1zM179.1 119.6h1v1h-1zM174.7 115.9h1v1h-1z"/>
<path fill="#2a2a2a" fill-opacity="0.26" d="M171.8 107.2h1v1h-1zM177.3 115.4h1v1h-1zM169.7 103.4h1v1h-1zM191.8 112.0h1v1h-1zM179.7 118.6h1v1h-1zM173.1 109.0h1v1h-1zM169.8 98.5h1v1h-1zM183.1 117.1h1v1h-1zM202.1 103.5h1v1h-1zM180.7 95.4h1v1h-1zM204.0 109.9h1v1h-1zM177.7 101.5h1v1h-1zM168.7 110.5h1v1h-1zM177.8 117.1h1v1h-1zM178.4 117.1h1v1h-1zM167.2 113.4h1v1h-1zM193.5 112.1h1v1h-1zM180.7 113.8h1v1h-1zM180.3 112.9h1v1h-1zM187.1 62.2h1v1h-1z"/>
<path fill="#2a2a2a" fill-opacity="0.26" d="M177.0 52.9h1v1h-1zM172.6 115.3h1v1h-1zM171.9 85.7h1v1h-1zM180.1 119.2h1v1h-1zM170.7 115.4h1v1h-1zM184.3 117.5h1v1h-1zM172.4 115.2h1v1h-1zM173.7 75.5h1v1h-1zM177.0 112.1h1v1h-1zM173.5 111.1h1v1h-1zM184.1 113.0h1v1h-1zM172.5 74.9h1v1h-1zM172.9 117.2h1v1h-1zM209.0 118.0h1v1h-1zM202.8 113.1h1v1h-1zM170.6 43.8h1v1h-1zM172.1 107.8h1v1h-1zM182.8 108.9h1v1h-1zM172.5 113.7h1v1h-1zM169.4 99.5h1v1h-1z"/>
<path fill="#2a2a2a" fill-opacity="0.26" d="M197.0 104.2h1v1h-1zM186.1 114.1h1v1h-1zM178.8 108.3h1v1h-1zM172.3 89.2h1v1h-1zM171.8 103.4h1v1h-1zM164.3 103.8h1v1h-1zM187.0 114.3h1v1h-1zM181.1 115.6h1v1h-1zM179.0 118.7h1v1h-1zM179.2 119.4h1v1h-1zM167.6 115.3h1v1h-1zM185.5 112.5h1v1h-1zM180.7 117.3h1v1h-1zM181.9 94.5h1v1h-1zM168.6 70.7h1v1h-1zM169.8 60.3h1v1h-1zM167.2 57.3h1v1h-1zM170.2 108.5h1v1h-1zM173.4 109.5h1v1h-1zM188.3 119.5h1v1h-1z"/>
<path fill="#2a2a2a" fill-opacity="0.26" d="M172.6 112.3h1v1h-1zM172.5 70.6h1v1h-1zM168.1 115.5h1v1h-1zM177.7 119.7h1v1h-1zM172.2 113.9h1v1h-1zM185.2 66.1h1v1h-1zM187.1 89.9h1v1h-1zM171.9 98.6h1v1h-1zM173.0 68.6h1v1h-1zM184.0 93.8h1v1h-1zM166.7 114.9h1v1h-1zM179.7 110.8h1v1h-1zM171.7 116.7h1v1h-1zM206.7 111.5h1v1h-1zM200.0 112.3h1v1h-1zM174.8 115.5h1v1h-1zM175.4 114.7h1v1h-1zM176.7 115.5h1v1h-1zM182.6 118.5h1v1h-1zM167.8 113.3h1v1h-1z"/>
<path fill="#2a2a2a" fill-opacity="0.26" d="M175.3 113.6h1v1h-1zM171.6 116.8h1v1h-1zM184.4 116.1h1v1h-1zM202.5 116.1h1v1h-1zM171.7 113.0h1v1h-1zM182.0 119.2h1v1h-1zM171.6 111.9h1v1h-1zM197.0 76.1h1v1h-1zM179.9 102.9h1v1h-1zM170.8 116.9h1v1h-1zM169.9 101.1h1v1h-1zM165.2 118.6h1v1h-1zM169.8 106.3h1v1h-1zM171.3 111.2h1v1h-1zM184.6 107.9h1v1h-1zM171.6 105.2h1v1h-1zM174.0 75.8h1v1h-1zM175.6 111.8h1v1h-1zM170.1 115.4h1v1h-1zM194.5 105.1h1v1h-1z"/>
<path fill="#2a2a2a" fill-opacity="0.26" d="M173.1 101.6h1v1h-1zM179.5 115.9h1v1h-1zM170.5 83.4h1v1h-1zM209.2 107.1h1v1h-1zM169.0 109.7h1v1h-1zM174.8 109.9h1v1h-1zM175.3 113.9h1v1h-1zM173.6 92.3h1v1h-1zM199.8 116.4h1v1h-1zM172.6 118.0h1v1h-1zM206.8 118.6h1v1h-1zM175.8 113.6h1v1h-1zM170.9 112.4h1v1h-1zM172.1 116.0h1v1h-1zM179.0 118.6h1v1h-1zM175.0 94.2h1v1h-1zM172.7 113.9h1v1h-1zM172.5 115.0h1v1h-1zM171.4 113.6h1v1h-1zM182.2 119.1h1v1h-1z"/>
<path fill="#2a2a2a" fill-opacity="0.26" d="M178.8 56.3h1v1h-1zM171.2 100.1h1v1h-1zM204.4 109.3h1v1h-1zM182.2 115.1h1v1h-1zM184.2 117.4h1v1h-1zM176.3 113.0h1v1h-1zM169.7 118.5h1v1h-1zM171.3 111.1h1v1h-1zM172.4 57.6h1v1h-1zM201.6 118.3h1v1h-1zM175.2 111.2h1v1h-1zM181.9 117.2h1v1h-1zM186.0 118.4h1v1h-1zM167.9 111.5h1v1h-1zM171.8 112.8h1v1h-1zM168.8 120.0h1v1h-1zM171.1 110.6h1v1h-1zM202.3 110.3h1v1h-1zM199.8 99.9h1v1h-1zM183.9 118.1h1v1h-1z"/>
<path fill="#2a2a2a" fill-opacity="0.26" d="M180.9 116.9h1v1h-1zM179.1 117.1h1v1h-1zM189.1 107.0h1v1h-1zM170.3 112.1h1v1h-1zM169.7 119.1h1v1h-1zM167.2 116.7h1v1h-1zM173.9 118.1h1v1h-1zM170.3 82.2h1v1h-1zM174.6 100.3h1v1h-1zM168.7 84.8h1v1h-1zM182.0 119.6h1v1h-1zM191.6 113.7h1v1h-1zM183.5 104.6h1v1h-1zM194.1 110.3h1v1h-1zM170.7 115.9h1v1h-1zM166.7 117.5h1v1h-1zM176.7 111.9h1v1h-1zM173.1 108.5h1v1h-1zM172.3 99.0h1v1h-1zM177.5 116.0h1v1h-1z"/>
<path fill="#2a2a2a" fill-opacity="0.26" d="M206.3 115.5h1v1h-1zM207.1 107.9h1v1h-1zM169.0 64.1h1v1h-1zM193.7 67.0h1v1h-1zM202.1 104.6h1v1h-1zM166.6 102.4h1v1h-1zM196.9 98.9h1v1h-1zM180.8 116.5h1v1h-1zM171.6 93.1h1v1h-1zM168.4 110.1h1v1h-1z"/>
<path d="M156.20,63.20 L162.00,79.60 L168.00,91.60 L174.00,103.60 L179.00,112.10 L181.50,114.60 L184.30,114.40 L190.00,111.60 L200.00,107.90 L210.70,106.00 L210.70,108.80 L200.00,110.70 L190.00,114.40 L184.30,117.20 L181.50,117.40 L179.00,114.90 L174.00,106.40 L168.00,94.40 L162.00,82.40 L156.50,70.60Z" fill="#d4d4d4" fill-opacity="0.55"/>
<path d="M156.50,69.20 C157.42,71.17 160.08,77.03 162.00,81.00 C163.92,84.97 166.00,89.00 168.00,93.00 C170.00,97.00 172.17,101.58 174.00,105.00 C175.83,108.42 177.75,111.67 179.00,113.50 C180.25,115.33 180.62,115.62 181.50,116.00 C182.38,116.38 182.88,116.30 184.30,115.80 C185.72,115.30 187.38,114.08 190.00,113.00 C192.62,111.92 196.55,110.23 200.00,109.30 C203.45,108.37 208.92,107.72 210.70,107.40" stroke="#1c8c45" stroke-width="1.8" fill="none" stroke-linejoin="round"/>
<line x1="154.40" y1="126.40" x2="211.20" y2="126.40" stroke="#1a1a1a" stroke-width="1.4"/>
<line x1="162.08" y1="126.40" x2="162.08" y2="129.30" stroke="#1a1a1a" stroke-width="1.2"/>
<text x="161.18" y="139.00" font-size="7.8" text-anchor="middle" fill="#1a1a1a" textLength="11.2" lengthAdjust="spacingAndGlyphs" stroke="#1a1a1a" stroke-width="0.22">–20</text>
<line x1="173.75" y1="126.40" x2="173.75" y2="129.30" stroke="#1a1a1a" stroke-width="1.2"/>
<text x="173.75" y="139.00" font-size="7.8" text-anchor="middle" fill="#1a1a1a" textLength="3.9" lengthAdjust="spacingAndGlyphs" stroke="#1a1a1a" stroke-width="0.22">0</text>
<line x1="185.42" y1="126.40" x2="185.42" y2="129.30" stroke="#1a1a1a" stroke-width="1.2"/>
<text x="185.42" y="139.00" font-size="7.8" text-anchor="middle" fill="#1a1a1a" textLength="7.8" lengthAdjust="spacingAndGlyphs" stroke="#1a1a1a" stroke-width="0.22">20</text>
<line x1="197.09" y1="126.40" x2="197.09" y2="129.30" stroke="#1a1a1a" stroke-width="1.2"/>
<text x="197.09" y="139.00" font-size="7.8" text-anchor="middle" fill="#1a1a1a" textLength="7.8" lengthAdjust="spacingAndGlyphs" stroke="#1a1a1a" stroke-width="0.22">40</text>
<line x1="208.76" y1="126.40" x2="208.76" y2="129.30" stroke="#1a1a1a" stroke-width="1.2"/>
<text x="208.76" y="139.00" font-size="7.8" text-anchor="middle" fill="#1a1a1a" textLength="7.8" lengthAdjust="spacingAndGlyphs" stroke="#1a1a1a" stroke-width="0.22">60</text>
<text x="123.30" y="150.30" font-size="8.8" text-anchor="middle" fill="#1a1a1a" textLength="65" lengthAdjust="spacingAndGlyphs" stroke="#1a1a1a" stroke-width="0.3">Day from transplant</text>
<text x="313.40" y="21.10" font-size="9.6" text-anchor="middle" fill="#1a1a1a" textLength="95.2" lengthAdjust="spacingAndGlyphs" stroke="#1a1a1a" stroke-width="0.15">Peri-engraftment fecal</text>
<text x="313.20" y="30.80" font-size="9.6" text-anchor="middle" fill="#1a1a1a" textLength="43.8" lengthAdjust="spacingAndGlyphs" stroke="#1a1a1a" stroke-width="0.15"><tspan font-size="10.4">α</tspan>-diversity</text>
<line x1="261.50" y1="31.60" x2="261.50" y2="114.70" stroke="#1a1a1a" stroke-width="1.4"/>
<line x1="261.50" y1="114.00" x2="364.20" y2="114.00" stroke="#1a1a1a" stroke-width="1.4"/>
<line x1="258.30" y1="111.30" x2="261.50" y2="111.30" stroke="#1a1a1a" stroke-width="1.2"/>
<text x="255.50" y="114.20" font-size="8.0" text-anchor="end" fill="#1a1a1a" textLength="4.1" lengthAdjust="spacingAndGlyphs" stroke="#1a1a1a" stroke-width="0.22">0</text>
<line x1="258.30" y1="92.04" x2="261.50" y2="92.04" stroke="#1a1a1a" stroke-width="1.2"/>
<text x="255.50" y="94.94" font-size="8.0" text-anchor="end" fill="#1a1a1a" textLength="8.2" lengthAdjust="spacingAndGlyphs" stroke="#1a1a1a" stroke-width="0.22">25</text>
<line x1="258.30" y1="72.78" x2="261.50" y2="72.78" stroke="#1a1a1a" stroke-width="1.2"/>
<text x="255.50" y="75.68" font-size="8.0" text-anchor="end" fill="#1a1a1a" textLength="8.2" lengthAdjust="spacingAndGlyphs" stroke="#1a1a1a" stroke-width="0.22">50</text>
<line x1="258.30" y1="53.51" x2="261.50" y2="53.51" stroke="#1a1a1a" stroke-width="1.2"/>
<text x="255.50" y="56.41" font-size="8.0" text-anchor="end" fill="#1a1a1a" textLength="8.2" lengthAdjust="spacingAndGlyphs" stroke="#1a1a1a" stroke-width="0.22">75</text>
<line x1="258.30" y1="34.25" x2="261.50" y2="34.25" stroke="#1a1a1a" stroke-width="1.2"/>
<text x="255.50" y="37.15" font-size="8.0" text-anchor="end" fill="#1a1a1a" textLength="12.299999999999999" lengthAdjust="spacingAndGlyphs" stroke="#1a1a1a" stroke-width="0.22">100</text>
<line x1="265.60" y1="114.00" x2="265.60" y2="116.80" stroke="#1a1a1a" stroke-width="1.2"/>
<text x="265.60" y="127.50" font-size="8.4" text-anchor="middle" fill="#1a1a1a" textLength="4.4" lengthAdjust="spacingAndGlyphs" stroke="#1a1a1a" stroke-width="0.22">0</text>
<line x1="284.72" y1="114.00" x2="284.72" y2="116.80" stroke="#1a1a1a" stroke-width="1.2"/>
<text x="284.72" y="127.50" font-size="8.4" text-anchor="middle" fill="#1a1a1a" textLength="8.8" lengthAdjust="spacingAndGlyphs" stroke="#1a1a1a" stroke-width="0.22">12</text>
<line x1="303.83" y1="114.00" x2="303.83" y2="116.80" stroke="#1a1a1a" stroke-width="1.2"/>
<text x="303.83" y="127.50" font-size="8.4" text-anchor="middle" fill="#1a1a1a" textLength="8.8" lengthAdjust="spacingAndGlyphs" stroke="#1a1a1a" stroke-width="0.22">24</text>
<line x1="322.95" y1="114.00" x2="322.95" y2="116.80" stroke="#1a1a1a" stroke-width="1.2"/>
<text x="322.95" y="127.50" font-size="8.4" text-anchor="middle" fill="#1a1a1a" textLength="8.8" lengthAdjust="spacingAndGlyphs" stroke="#1a1a1a" stroke-width="0.22">36</text>
<line x1="342.06" y1="114.00" x2="342.06" y2="116.80" stroke="#1a1a1a" stroke-width="1.2"/>
<text x="342.06" y="127.50" font-size="8.4" text-anchor="middle" fill="#1a1a1a" textLength="8.8" lengthAdjust="spacingAndGlyphs" stroke="#1a1a1a" stroke-width="0.22">48</text>
<line x1="361.18" y1="114.00" x2="361.18" y2="116.80" stroke="#1a1a1a" stroke-width="1.2"/>
<text x="361.18" y="127.50" font-size="8.4" text-anchor="middle" fill="#1a1a1a" textLength="8.8" lengthAdjust="spacingAndGlyphs" stroke="#1a1a1a" stroke-width="0.22">60</text>
<text x="313.40" y="139.20" font-size="9.0" text-anchor="middle" fill="#1a1a1a" textLength="42.4" lengthAdjust="spacingAndGlyphs" stroke="#1a1a1a" stroke-width="0.3">Months from</text>
<text x="313.40" y="150.00" font-size="9.0" text-anchor="middle" fill="#1a1a1a" textLength="62" lengthAdjust="spacingAndGlyphs" stroke="#1a1a1a" stroke-width="0.3">day 100 landmark</text>
<text x="460.40" y="21.10" font-size="9.6" text-anchor="middle" fill="#1a1a1a" textLength="95.2" lengthAdjust="spacingAndGlyphs" stroke="#1a1a1a" stroke-width="0.15">Peri-engraftment fecal</text>
<text x="460.20" y="30.80" font-size="9.6" text-anchor="middle" fill="#1a1a1a" textLength="43.8" lengthAdjust="spacingAndGlyphs" stroke="#1a1a1a" stroke-width="0.15"><tspan font-size="10.4">α</tspan>-diversity</text>
<line x1="408.40" y1="31.60" x2="408.40" y2="115.20" stroke="#1a1a1a" stroke-width="1.4"/>
<line x1="408.40" y1="114.50" x2="512.00" y2="114.50" stroke="#1a1a1a" stroke-width="1.4"/>
<line x1="405.20" y1="111.30" x2="408.40" y2="111.30" stroke="#1a1a1a" stroke-width="1.2"/>
<text x="402.40" y="114.20" font-size="8.0" text-anchor="end" fill="#1a1a1a" textLength="4.1" lengthAdjust="spacingAndGlyphs" stroke="#1a1a1a" stroke-width="0.22">0</text>
<line x1="405.20" y1="92.04" x2="408.40" y2="92.04" stroke="#1a1a1a" stroke-width="1.2"/>
<text x="402.40" y="94.94" font-size="8.0" text-anchor="end" fill="#1a1a1a" textLength="8.2" lengthAdjust="spacingAndGlyphs" stroke="#1a1a1a" stroke-width="0.22">25</text>
<line x1="405.20" y1="72.78" x2="408.40" y2="72.78" stroke="#1a1a1a" stroke-width="1.2"/>
<text x="402.40" y="75.68" font-size="8.0" text-anchor="end" fill="#1a1a1a" textLength="8.2" lengthAdjust="spacingAndGlyphs" stroke="#1a1a1a" stroke-width="0.22">50</text>
<line x1="405.20" y1="53.51" x2="408.40" y2="53.51" stroke="#1a1a1a" stroke-width="1.2"/>
<text x="402.40" y="56.41" font-size="8.0" text-anchor="end" fill="#1a1a1a" textLength="8.2" lengthAdjust="spacingAndGlyphs" stroke="#1a1a1a" stroke-width="0.22">75</text>
<line x1="405.20" y1="34.25" x2="408.40" y2="34.25" stroke="#1a1a1a" stroke-width="1.2"/>
<text x="402.40" y="37.15" font-size="8.0" text-anchor="end" fill="#1a1a1a" textLength="12.299999999999999" lengthAdjust="spacingAndGlyphs" stroke="#1a1a1a" stroke-width="0.22">100</text>
<line x1="413.00" y1="114.50" x2="413.00" y2="117.30" stroke="#1a1a1a" stroke-width="1.2"/>
<text x="413.00" y="127.50" font-size="8.4" text-anchor="middle" fill="#1a1a1a" textLength="4.4" lengthAdjust="spacingAndGlyphs" stroke="#1a1a1a" stroke-width="0.22">0</text>
<line x1="436.93" y1="114.50" x2="436.93" y2="117.30" stroke="#1a1a1a" stroke-width="1.2"/>
<text x="436.93" y="127.50" font-size="8.4" text-anchor="middle" fill="#1a1a1a" textLength="8.8" lengthAdjust="spacingAndGlyphs" stroke="#1a1a1a" stroke-width="0.22">12</text>
<line x1="460.86" y1="114.50" x2="460.86" y2="117.30" stroke="#1a1a1a" stroke-width="1.2"/>
<text x="460.86" y="127.50" font-size="8.4" text-anchor="middle" fill="#1a1a1a" textLength="8.8" lengthAdjust="spacingAndGlyphs" stroke="#1a1a1a" stroke-width="0.22">24</text>
<line x1="484.78" y1="114.50" x2="484.78" y2="117.30" stroke="#1a1a1a" stroke-width="1.2"/>
<text x="484.78" y="127.50" font-size="8.4" text-anchor="middle" fill="#1a1a1a" textLength="8.8" lengthAdjust="spacingAndGlyphs" stroke="#1a1a1a" stroke-width="0.22">36</text>
<line x1="508.71" y1="114.50" x2="508.71" y2="117.30" stroke="#1a1a1a" stroke-width="1.2"/>
<text x="508.71" y="127.50" font-size="8.4" text-anchor="middle" fill="#1a1a1a" textLength="8.8" lengthAdjust="spacingAndGlyphs" stroke="#1a1a1a" stroke-width="0.22">48</text>
<text x="460.40" y="139.20" font-size="9.0" text-anchor="middle" fill="#1a1a1a" textLength="42.4" lengthAdjust="spacingAndGlyphs" stroke="#1a1a1a" stroke-width="0.3">Months from</text>
<text x="460.40" y="150.00" font-size="9.0" text-anchor="middle" fill="#1a1a1a" textLength="62" lengthAdjust="spacingAndGlyphs" stroke="#1a1a1a" stroke-width="0.3">day 100 landmark</text>
<text x="237.20" y="72.30" font-size="8.8" text-anchor="middle" fill="#1a1a1a" textLength="64" lengthAdjust="spacingAndGlyphs" stroke="#1a1a1a" stroke-width="0.3" transform="rotate(-90 237.20 72.30)">Overall survival (%)</text>
<text x="384.60" y="73.00" font-size="8.8" text-anchor="middle" fill="#1a1a1a" textLength="61" lengthAdjust="spacingAndGlyphs" stroke="#1a1a1a" stroke-width="0.3" transform="rotate(-90 384.60 73.00)">NRM (cum. inc. %)</text>
<text x="327.40" y="109.60" font-size="8.2" text-anchor="start" fill="#1a1a1a" textLength="29.7" lengthAdjust="spacingAndGlyphs" stroke="#1a1a1a" stroke-width="0.22"><tspan font-style="italic">p</tspan>=0.005</text>
<text x="476.00" y="110.30" font-size="8.2" text-anchor="start" fill="#1a1a1a" textLength="26" lengthAdjust="spacingAndGlyphs" stroke="#1a1a1a" stroke-width="0.22"><tspan font-style="italic">p</tspan>=0.02</text>
<line x1="340.30" y1="38.70" x2="345.70" y2="38.70" stroke="#1f4b9b" stroke-width="1.4"/>
<text x="346.80" y="41.50" font-size="8.0" text-anchor="start" fill="#1a1a1a" textLength="16.2" lengthAdjust="spacingAndGlyphs" stroke="#1a1a1a" stroke-width="0.22">High</text>
<line x1="340.30" y1="46.60" x2="345.70" y2="46.60" stroke="#d42424" stroke-width="1.4"/>
<text x="346.80" y="49.40" font-size="8.0" text-anchor="start" fill="#1a1a1a" textLength="14.2" lengthAdjust="spacingAndGlyphs" stroke="#1a1a1a" stroke-width="0.22">Low</text>
<line x1="487.00" y1="38.00" x2="492.40" y2="38.00" stroke="#1f4b9b" stroke-width="1.4"/>
<text x="494.40" y="40.80" font-size="8.0" text-anchor="start" fill="#1a1a1a" textLength="16.2" lengthAdjust="spacingAndGlyphs" stroke="#1a1a1a" stroke-width="0.22">High</text>
<line x1="487.00" y1="45.90" x2="492.40" y2="45.90" stroke="#d42424" stroke-width="1.4"/>
<text x="494.40" y="48.70" font-size="8.0" text-anchor="start" fill="#1a1a1a" textLength="14.2" lengthAdjust="spacingAndGlyphs" stroke="#1a1a1a" stroke-width="0.22">Low</text>
<path d="M265.60,34.25 L269.10,37.24 L272.77,43.88 L278.03,47.08 L281.21,48.93 L287.58,53.01 L295.07,57.25 L304.31,60.23 L310.04,61.95 L314.19,62.52 L315.78,64.58 L324.86,64.95 L328.05,66.00 L336.49,66.22 L339.67,67.42 L361.82,67.19 L361.82,75.59 L339.67,75.36 L336.49,74.09 L328.05,73.70 L324.86,72.58 L315.78,72.03 L314.19,69.93 L310.04,69.27 L304.31,67.44 L295.07,64.26 L287.58,59.87 L281.21,55.48 L278.03,52.24 L272.77,46.81 L269.10,38.66 L265.60,34.25Z" fill="#f3c6bd" fill-opacity="0.85"/>
<path d="M265.60,34.25 L270.06,34.18 L273.72,38.76 L276.91,40.92 L283.44,44.86 L289.65,47.86 L296.98,51.00 L304.31,52.98 L310.04,54.52 L320.56,56.15 L331.23,57.62 L347.00,57.64 L354.33,58.31 L355.45,59.91 L361.82,60.52 L361.82,67.92 L355.45,67.14 L354.33,65.51 L347.00,64.64 L331.23,64.20 L320.56,62.43 L310.04,60.52 L304.31,58.82 L296.98,56.64 L289.65,53.31 L283.44,50.14 L276.91,44.53 L273.72,41.30 L270.06,35.55 L265.60,34.25Z" fill="#c4cde6" fill-opacity="0.8"/>
<path d="M265.60,34.25 L267.35,34.25 L267.35,36.10 L269.10,36.10 L269.10,37.95 L270.94,37.95 L270.94,41.65 L272.77,41.65 L272.77,45.35 L274.52,45.35 L274.52,46.78 L276.27,46.78 L276.27,48.22 L278.03,48.22 L278.03,49.66 L281.21,49.66 L281.21,52.20 L283.34,52.20 L283.34,53.62 L285.46,53.62 L285.46,55.03 L287.58,55.03 L287.58,56.44 L289.46,56.44 L289.46,57.52 L291.33,57.52 L291.33,58.60 L293.20,58.60 L293.20,59.68 L295.07,59.68 L295.07,60.76 L296.92,60.76 L296.92,61.37 L298.77,61.37 L298.77,61.99 L300.61,61.99 L300.61,62.60 L302.46,62.60 L302.46,63.22 L304.31,63.22 L304.31,63.84 L306.22,63.84 L306.22,64.43 L308.13,64.43 L308.13,65.02 L310.04,65.02 L310.04,65.61 L312.12,65.61 L312.12,65.92 L314.19,65.92 L314.19,66.23 L315.78,66.23 L315.78,68.31 L317.60,68.31 L317.60,68.40 L319.41,68.40 L319.41,68.49 L321.23,68.49 L321.23,68.58 L323.04,68.58 L323.04,68.68 L324.86,68.68 L324.86,68.77 L328.05,68.77 L328.05,69.85 L329.73,69.85 L329.73,69.91 L331.42,69.91 L331.42,69.97 L333.11,69.97 L333.11,70.03 L334.80,70.03 L334.80,70.09 L336.49,70.09 L336.49,70.16 L339.67,70.16 L339.67,71.39 L341.38,71.39 L341.38,71.39 L343.08,71.39 L343.08,71.39 L344.78,71.39 L344.78,71.39 L346.49,71.39 L346.49,71.39 L348.19,71.39 L348.19,71.39 L349.89,71.39 L349.89,71.39 L351.60,71.39 L351.60,71.39 L353.30,71.39 L353.30,71.39 L355.00,71.39 L355.00,71.39 L356.71,71.39 L356.71,71.39 L358.41,71.39 L358.41,71.39 L360.11,71.39 L360.11,71.39 L361.82,71.39 L361.82,71.39" stroke="#d42424" stroke-width="1.3" fill="none"/>
<path d="M265.60,34.25 L267.83,34.25 L267.83,34.56 L270.06,34.56 L270.06,34.87 L271.89,34.87 L271.89,37.45 L273.72,37.45 L273.72,40.03 L276.91,40.03 L276.91,42.73 L278.54,42.73 L278.54,43.92 L280.18,43.92 L280.18,45.11 L281.81,45.11 L281.81,46.31 L283.44,46.31 L283.44,47.50 L285.51,47.50 L285.51,48.53 L287.58,48.53 L287.58,49.56 L289.65,49.56 L289.65,50.58 L291.49,50.58 L291.49,51.39 L293.32,51.39 L293.32,52.20 L295.15,52.20 L295.15,53.01 L296.98,53.01 L296.98,53.82 L298.81,53.82 L298.81,54.34 L300.65,54.34 L300.65,54.86 L302.48,54.86 L302.48,55.38 L304.31,55.38 L304.31,55.90 L306.22,55.90 L306.22,56.44 L308.13,56.44 L308.13,56.98 L310.04,56.98 L310.04,57.52 L311.80,57.52 L311.80,57.81 L313.55,57.81 L313.55,58.11 L315.30,58.11 L315.30,58.41 L317.05,58.41 L317.05,58.70 L318.81,58.70 L318.81,59.00 L320.56,59.00 L320.56,59.29 L322.34,59.29 L322.34,59.56 L324.12,59.56 L324.12,59.83 L325.90,59.83 L325.90,60.10 L327.67,60.10 L327.67,60.37 L329.45,60.37 L329.45,60.64 L331.23,60.64 L331.23,60.91 L332.98,60.91 L332.98,60.93 L334.74,60.93 L334.74,60.96 L336.49,60.96 L336.49,60.99 L338.24,60.99 L338.24,61.01 L339.99,61.01 L339.99,61.04 L341.75,61.04 L341.75,61.06 L343.50,61.06 L343.50,61.09 L345.25,61.09 L345.25,61.11 L347.00,61.11 L347.00,61.14 L348.83,61.14 L348.83,61.33 L350.67,61.33 L350.67,61.53 L352.50,61.53 L352.50,61.72 L354.33,61.72 L354.33,61.91 L355.45,61.91 L355.45,63.53 L357.57,63.53 L357.57,63.76 L359.69,63.76 L359.69,63.99 L361.82,63.99 L361.82,64.22" stroke="#1f4b9b" stroke-width="1.3" fill="none"/>
<path d="M413.00,111.30 L417.79,106.76 L421.97,102.82 L430.35,99.51 L438.72,95.79 L447.30,93.61 L459.86,92.16 L476.81,90.58 L489.37,89.74 L508.71,88.67 L508.71,95.87 L489.37,96.49 L476.81,97.04 L459.86,98.24 L447.30,99.40 L438.72,101.38 L430.35,104.91 L421.97,105.75 L417.79,108.29 L413.00,111.30Z" fill="#f3c6bd" fill-opacity="0.85"/>
<path d="M413.00,111.30 L421.97,107.43 L430.35,104.19 L443.11,101.36 L453.68,98.78 L468.43,97.55 L485.18,96.29 L508.71,96.05 L508.71,102.05 L485.18,101.80 L468.43,102.71 L453.68,103.63 L443.11,105.99 L430.35,108.55 L421.97,109.78 L413.00,111.30Z" fill="#c4cde6" fill-opacity="0.8"/>
<path d="M413.00,111.30 L415.39,111.30 L415.39,109.41 L417.79,109.41 L417.79,107.52 L419.88,107.52 L419.88,105.91 L421.97,105.91 L421.97,104.29 L424.07,104.29 L424.07,103.77 L426.16,103.77 L426.16,103.25 L428.25,103.25 L428.25,102.73 L430.35,102.73 L430.35,102.21 L432.44,102.21 L432.44,101.30 L434.54,101.30 L434.54,100.40 L436.63,100.40 L436.63,99.49 L438.72,99.49 L438.72,98.59 L440.87,98.59 L440.87,98.07 L443.01,98.07 L443.01,97.55 L445.15,97.55 L445.15,97.03 L447.30,97.03 L447.30,96.51 L449.39,96.51 L449.39,96.29 L451.48,96.29 L451.48,96.07 L453.58,96.07 L453.58,95.85 L455.67,95.85 L455.67,95.63 L457.77,95.63 L457.77,95.41 L459.86,95.41 L459.86,95.20 L461.98,95.20 L461.98,95.02 L464.10,95.02 L464.10,94.85 L466.21,94.85 L466.21,94.68 L468.33,94.68 L468.33,94.50 L470.45,94.50 L470.45,94.33 L472.57,94.33 L472.57,94.16 L474.69,94.16 L474.69,93.98 L476.81,93.98 L476.81,93.81 L478.90,93.81 L478.90,93.69 L481.00,93.69 L481.00,93.58 L483.09,93.58 L483.09,93.46 L485.18,93.46 L485.18,93.35 L487.28,93.35 L487.28,93.23 L489.37,93.23 L489.37,93.12 L491.52,93.12 L491.52,93.02 L493.67,93.02 L493.67,92.93 L495.82,92.93 L495.82,92.83 L497.97,92.83 L497.97,92.74 L500.12,92.74 L500.12,92.65 L502.26,92.65 L502.26,92.55 L504.41,92.55 L504.41,92.46 L506.56,92.46 L506.56,92.36 L508.71,92.36 L508.71,92.27" stroke="#d42424" stroke-width="1.3" fill="none"/>
<path d="M413.00,111.30 L415.24,111.30 L415.24,110.63 L417.49,110.63 L417.49,109.95 L419.73,109.95 L419.73,109.28 L421.97,109.28 L421.97,108.60 L424.07,108.60 L424.07,108.04 L426.16,108.04 L426.16,107.49 L428.25,107.49 L428.25,106.93 L430.35,106.93 L430.35,106.37 L432.47,106.37 L432.47,105.92 L434.60,105.92 L434.60,105.47 L436.73,105.47 L436.73,105.02 L438.86,105.02 L438.86,104.57 L440.98,104.57 L440.98,104.12 L443.11,104.12 L443.11,103.67 L445.22,103.67 L445.22,103.18 L447.34,103.18 L447.34,102.69 L449.45,102.69 L449.45,102.19 L451.56,102.19 L451.56,101.70 L453.68,101.70 L453.68,101.21 L455.79,101.21 L455.79,101.05 L457.89,101.05 L457.89,100.90 L460.00,100.90 L460.00,100.74 L462.11,100.74 L462.11,100.59 L464.22,100.59 L464.22,100.44 L466.33,100.44 L466.33,100.28 L468.43,100.28 L468.43,100.13 L470.53,100.13 L470.53,99.99 L472.62,99.99 L472.62,99.86 L474.71,99.86 L474.71,99.72 L476.81,99.72 L476.81,99.59 L478.90,99.59 L478.90,99.45 L481.00,99.45 L481.00,99.32 L483.09,99.32 L483.09,99.18 L485.18,99.18 L485.18,99.05 L487.32,99.05 L487.32,99.05 L489.46,99.05 L489.46,99.05 L491.60,99.05 L491.60,99.05 L493.74,99.05 L493.74,99.05 L495.88,99.05 L495.88,99.05 L498.02,99.05 L498.02,99.05 L500.16,99.05 L500.16,99.05 L502.29,99.05 L502.29,99.05 L504.43,99.05 L504.43,99.05 L506.57,99.05 L506.57,99.05 L508.71,99.05 L508.71,99.05" stroke="#1f4b9b" stroke-width="1.3" fill="none"/>
<text x="235.90" y="158.60" font-size="8.2" text-anchor="start" fill="#1a1a1a" textLength="22.4" lengthAdjust="spacingAndGlyphs" stroke="#1a1a1a" stroke-width="0.22">At–risk</text>
<text x="240.10" y="166.70" font-size="8.2" text-anchor="start" fill="#1a1a1a" textLength="15.4" lengthAdjust="spacingAndGlyphs" stroke="#1a1a1a" stroke-width="0.22">High</text>
<text x="240.90" y="174.70" font-size="8.2" text-anchor="start" fill="#1a1a1a" textLength="13.5" lengthAdjust="spacingAndGlyphs" stroke="#1a1a1a" stroke-width="0.22">Low</text>
<text x="269.30" y="166.70" font-size="8.0" text-anchor="middle" fill="#3868b0" textLength="12.299999999999999" lengthAdjust="spacingAndGlyphs" stroke="#3868b0" stroke-width="0.22">333</text>
<text x="269.30" y="174.70" font-size="8.0" text-anchor="middle" fill="#d83c3c" textLength="12.299999999999999" lengthAdjust="spacingAndGlyphs" stroke="#d83c3c" stroke-width="0.22">334</text>
<text x="286.20" y="166.70" font-size="8.0" text-anchor="middle" fill="#3868b0" textLength="12.299999999999999" lengthAdjust="spacingAndGlyphs" stroke="#3868b0" stroke-width="0.22">259</text>
<text x="286.20" y="174.70" font-size="8.0" text-anchor="middle" fill="#d83c3c" textLength="12.299999999999999" lengthAdjust="spacingAndGlyphs" stroke="#d83c3c" stroke-width="0.22">238</text>
<text x="306.10" y="166.70" font-size="8.0" text-anchor="middle" fill="#3868b0" textLength="12.299999999999999" lengthAdjust="spacingAndGlyphs" stroke="#3868b0" stroke-width="0.22">183</text>
<text x="306.10" y="174.70" font-size="8.0" text-anchor="middle" fill="#d83c3c" textLength="12.299999999999999" lengthAdjust="spacingAndGlyphs" stroke="#d83c3c" stroke-width="0.22">160</text>
<text x="323.70" y="166.70" font-size="8.0" text-anchor="middle" fill="#3868b0" textLength="12.299999999999999" lengthAdjust="spacingAndGlyphs" stroke="#3868b0" stroke-width="0.22">118</text>
<text x="323.70" y="174.70" font-size="8.0" text-anchor="middle" fill="#d83c3c" textLength="12.299999999999999" lengthAdjust="spacingAndGlyphs" stroke="#d83c3c" stroke-width="0.22">111</text>
<text x="341.80" y="166.70" font-size="8.0" text-anchor="middle" fill="#3868b0" textLength="8.2" lengthAdjust="spacingAndGlyphs" stroke="#3868b0" stroke-width="0.22">84</text>
<text x="341.80" y="174.70" font-size="8.0" text-anchor="middle" fill="#d83c3c" textLength="8.2" lengthAdjust="spacingAndGlyphs" stroke="#d83c3c" stroke-width="0.22">79</text>
<text x="360.80" y="166.70" font-size="8.0" text-anchor="middle" fill="#3868b0" textLength="8.2" lengthAdjust="spacingAndGlyphs" stroke="#3868b0" stroke-width="0.22">63</text>
<text x="360.80" y="174.70" font-size="8.0" text-anchor="middle" fill="#d83c3c" textLength="8.2" lengthAdjust="spacingAndGlyphs" stroke="#d83c3c" stroke-width="0.22">57</text>
<text x="383.40" y="158.60" font-size="8.2" text-anchor="start" fill="#1a1a1a" textLength="22.4" lengthAdjust="spacingAndGlyphs" stroke="#1a1a1a" stroke-width="0.22">At–risk</text>
<text x="387.60" y="166.70" font-size="8.2" text-anchor="start" fill="#1a1a1a" textLength="15.4" lengthAdjust="spacingAndGlyphs" stroke="#1a1a1a" stroke-width="0.22">High</text>
<text x="388.40" y="174.70" font-size="8.2" text-anchor="start" fill="#d83c3c" textLength="13.5" lengthAdjust="spacingAndGlyphs" stroke="#d83c3c" stroke-width="0.22">Low</text>
<text x="417.00" y="166.70" font-size="8.0" text-anchor="middle" fill="#3868b0" textLength="12.299999999999999" lengthAdjust="spacingAndGlyphs" stroke="#3868b0" stroke-width="0.22">333</text>
<text x="417.00" y="174.70" font-size="8.0" text-anchor="middle" fill="#d83c3c" textLength="12.299999999999999" lengthAdjust="spacingAndGlyphs" stroke="#d83c3c" stroke-width="0.22">334</text>
<text x="438.20" y="166.70" font-size="8.0" text-anchor="middle" fill="#3868b0" textLength="12.299999999999999" lengthAdjust="spacingAndGlyphs" stroke="#3868b0" stroke-width="0.22">259</text>
<text x="438.20" y="174.70" font-size="8.0" text-anchor="middle" fill="#d83c3c" textLength="12.299999999999999" lengthAdjust="spacingAndGlyphs" stroke="#d83c3c" stroke-width="0.22">238</text>
<text x="462.50" y="166.70" font-size="8.0" text-anchor="middle" fill="#3868b0" textLength="12.299999999999999" lengthAdjust="spacingAndGlyphs" stroke="#3868b0" stroke-width="0.22">183</text>
<text x="462.50" y="174.70" font-size="8.0" text-anchor="middle" fill="#d83c3c" textLength="12.299999999999999" lengthAdjust="spacingAndGlyphs" stroke="#d83c3c" stroke-width="0.22">160</text>
<text x="486.20" y="166.70" font-size="8.0" text-anchor="middle" fill="#3868b0" textLength="12.299999999999999" lengthAdjust="spacingAndGlyphs" stroke="#3868b0" stroke-width="0.22">118</text>
<text x="486.20" y="174.70" font-size="8.0" text-anchor="middle" fill="#d83c3c" textLength="12.299999999999999" lengthAdjust="spacingAndGlyphs" stroke="#d83c3c" stroke-width="0.22">111</text>
<text x="508.30" y="166.70" font-size="8.0" text-anchor="middle" fill="#3868b0" textLength="8.2" lengthAdjust="spacingAndGlyphs" stroke="#3868b0" stroke-width="0.22">84</text>
<text x="508.30" y="174.70" font-size="8.0" text-anchor="middle" fill="#d83c3c" textLength="8.2" lengthAdjust="spacingAndGlyphs" stroke="#d83c3c" stroke-width="0.22">79</text>
<line x1="32.60" y1="218.40" x2="83.40" y2="218.40" stroke="#a8a8a8" stroke-width="0.8" stroke-dasharray="1,2"/>
<line x1="87.00" y1="218.40" x2="137.70" y2="218.40" stroke="#a8a8a8" stroke-width="0.8" stroke-dasharray="1,2"/>
<line x1="32.60" y1="226.90" x2="83.40" y2="226.90" stroke="#a8a8a8" stroke-width="0.8" stroke-dasharray="1,2"/>
<line x1="87.00" y1="226.90" x2="137.70" y2="226.90" stroke="#a8a8a8" stroke-width="0.8" stroke-dasharray="1,2"/>
<line x1="32.60" y1="233.40" x2="83.40" y2="233.40" stroke="#d9d9d9" stroke-width="0.9"/>
<line x1="87.00" y1="233.40" x2="137.70" y2="233.40" stroke="#d9d9d9" stroke-width="0.9"/>
<line x1="32.60" y1="245.50" x2="83.40" y2="245.50" stroke="#d9d9d9" stroke-width="0.9"/>
<line x1="87.00" y1="245.50" x2="137.70" y2="245.50" stroke="#d9d9d9" stroke-width="0.9"/>
<path fill="none" stroke="#2f5fa8" stroke-width="0.4" stroke-opacity="0.36" d="M45.4 260.4h1v1h-1zM44.5 253.9h1v1h-1zM43.9 232.6h1v1h-1zM45.3 230.2h1v1h-1zM43.3 239.8h1v1h-1zM45.8 217.3h1v1h-1zM42.0 256.3h1v1h-1zM42.2 240.5h1v1h-1zM44.2 237.9h1v1h-1zM43.8 236.5h1v1h-1zM44.3 252.4h1v1h-1zM44.2 234.4h1v1h-1z"/>
<path fill="none" stroke="#2f5fa8" stroke-width="0.4" stroke-opacity="0.36" d="M45.2 218.0h1v1h-1zM45.1 237.9h1v1h-1zM44.6 221.5h1v1h-1zM46.1 248.8h1v1h-1zM44.2 240.9h1v1h-1zM42.2 237.5h1v1h-1zM46.9 261.8h1v1h-1zM48.4 235.7h1v1h-1zM43.3 241.2h1v1h-1zM41.3 254.1h1v1h-1zM42.6 251.2h1v1h-1zM48.2 232.6h1v1h-1z"/>
<path fill="none" stroke="#2f5fa8" stroke-width="0.4" stroke-opacity="0.36" d="M46.0 236.4h1v1h-1zM48.2 226.5h1v1h-1zM45.8 237.3h1v1h-1zM46.5 222.2h1v1h-1zM47.0 250.4h1v1h-1zM43.2 251.7h1v1h-1zM45.0 256.0h1v1h-1zM46.2 240.7h1v1h-1zM46.5 259.5h1v1h-1zM46.2 237.7h1v1h-1zM46.6 229.3h1v1h-1zM45.8 224.0h1v1h-1z"/>
<path fill="none" stroke="#2f5fa8" stroke-width="0.4" stroke-opacity="0.36" d="M44.9 236.2h1v1h-1zM44.8 240.9h1v1h-1zM45.6 242.0h1v1h-1zM47.1 236.2h1v1h-1zM44.4 231.0h1v1h-1zM43.3 254.4h1v1h-1zM47.5 228.5h1v1h-1zM46.5 258.6h1v1h-1zM44.3 249.4h1v1h-1zM46.2 243.3h1v1h-1zM42.5 235.3h1v1h-1zM46.2 237.7h1v1h-1z"/>
<path fill="none" stroke="#2f5fa8" stroke-width="0.4" stroke-opacity="0.36" d="M45.8 233.8h1v1h-1zM45.5 241.8h1v1h-1zM46.3 222.7h1v1h-1zM46.2 241.9h1v1h-1zM45.0 241.8h1v1h-1zM48.5 227.3h1v1h-1zM46.6 235.0h1v1h-1zM47.2 240.2h1v1h-1zM44.7 239.4h1v1h-1zM45.5 247.1h1v1h-1zM45.0 258.7h1v1h-1zM45.2 226.3h1v1h-1z"/>
<path fill="none" stroke="#2f5fa8" stroke-width="0.4" stroke-opacity="0.36" d="M42.6 239.8h1v1h-1zM43.8 255.1h1v1h-1zM47.4 231.8h1v1h-1zM46.5 235.9h1v1h-1zM42.0 238.6h1v1h-1zM44.3 235.0h1v1h-1zM43.7 261.4h1v1h-1zM47.8 262.0h1v1h-1zM45.3 235.2h1v1h-1zM42.1 235.4h1v1h-1zM45.3 254.0h1v1h-1zM46.4 234.3h1v1h-1z"/>
<path fill="none" stroke="#2f5fa8" stroke-width="0.4" stroke-opacity="0.36" d="M43.6 241.4h1v1h-1zM44.1 234.3h1v1h-1zM45.8 247.2h1v1h-1zM43.1 241.3h1v1h-1zM48.5 255.4h1v1h-1zM42.8 245.1h1v1h-1zM45.3 221.6h1v1h-1zM45.0 243.5h1v1h-1zM44.8 256.5h1v1h-1zM45.8 224.4h1v1h-1zM46.4 246.2h1v1h-1zM45.6 238.9h1v1h-1z"/>
<path fill="none" stroke="#2f5fa8" stroke-width="0.4" stroke-opacity="0.36" d="M44.9 238.6h1v1h-1zM42.9 221.2h1v1h-1zM44.5 228.9h1v1h-1zM46.6 249.5h1v1h-1zM45.4 217.5h1v1h-1zM43.0 225.7h1v1h-1zM47.5 247.4h1v1h-1zM47.1 221.6h1v1h-1zM45.6 217.6h1v1h-1zM42.6 245.8h1v1h-1zM47.1 224.2h1v1h-1zM44.8 226.3h1v1h-1z"/>
<path fill="none" stroke="#2f5fa8" stroke-width="0.4" stroke-opacity="0.36" d="M45.4 227.5h1v1h-1zM45.8 239.2h1v1h-1zM47.6 243.6h1v1h-1zM44.9 254.7h1v1h-1zM45.3 246.5h1v1h-1zM43.6 261.0h1v1h-1zM46.1 241.8h1v1h-1zM45.6 259.6h1v1h-1zM45.1 241.2h1v1h-1zM44.1 238.1h1v1h-1zM43.3 244.9h1v1h-1zM45.7 254.0h1v1h-1z"/>
<path fill="none" stroke="#2f5fa8" stroke-width="0.4" stroke-opacity="0.36" d="M45.5 259.0h1v1h-1zM43.9 257.5h1v1h-1zM46.1 258.9h1v1h-1zM46.2 232.8h1v1h-1zM45.8 258.4h1v1h-1zM45.6 242.3h1v1h-1zM43.8 232.1h1v1h-1zM44.5 238.2h1v1h-1zM44.8 252.4h1v1h-1zM44.0 258.2h1v1h-1zM46.0 230.6h1v1h-1zM44.4 258.6h1v1h-1z"/>
<path fill="none" stroke="#2f5fa8" stroke-width="0.4" stroke-opacity="0.36" d="M43.4 231.2h1v1h-1zM45.6 225.4h1v1h-1zM46.3 240.2h1v1h-1zM47.6 217.6h1v1h-1zM46.8 257.0h1v1h-1zM46.4 262.1h1v1h-1zM45.6 245.8h1v1h-1zM44.5 237.3h1v1h-1zM43.4 255.9h1v1h-1zM43.5 235.0h1v1h-1zM44.4 251.5h1v1h-1zM45.6 234.6h1v1h-1z"/>
<path fill="none" stroke="#2f5fa8" stroke-width="0.4" stroke-opacity="0.36" d="M43.5 231.0h1v1h-1zM45.0 252.6h1v1h-1zM46.4 249.1h1v1h-1zM46.3 243.7h1v1h-1zM44.9 242.3h1v1h-1zM45.6 248.7h1v1h-1zM43.3 261.6h1v1h-1zM41.3 223.4h1v1h-1zM43.9 257.7h1v1h-1zM46.5 244.9h1v1h-1zM45.1 234.3h1v1h-1zM44.2 231.5h1v1h-1z"/>
<path fill="none" stroke="#2f5fa8" stroke-width="0.4" stroke-opacity="0.36" d="M45.8 236.0h1v1h-1zM43.9 239.3h1v1h-1zM44.9 237.9h1v1h-1zM43.2 260.0h1v1h-1zM44.5 258.0h1v1h-1zM46.6 257.7h1v1h-1zM44.6 254.1h1v1h-1zM44.6 240.1h1v1h-1zM45.3 252.2h1v1h-1zM48.0 217.0h1v1h-1zM46.9 246.0h1v1h-1zM44.8 248.7h1v1h-1z"/>
<path fill="none" stroke="#2f5fa8" stroke-width="0.4" stroke-opacity="0.36" d="M42.5 224.7h1v1h-1zM46.0 232.8h1v1h-1zM41.7 229.9h1v1h-1zM47.0 227.6h1v1h-1zM44.1 233.3h1v1h-1zM43.9 231.1h1v1h-1zM45.3 232.6h1v1h-1zM44.7 226.2h1v1h-1zM44.9 235.1h1v1h-1zM44.6 234.5h1v1h-1zM47.5 238.7h1v1h-1zM46.3 240.7h1v1h-1z"/>
<path fill="none" stroke="#2f5fa8" stroke-width="0.4" stroke-opacity="0.36" d="M45.1 231.2h1v1h-1zM45.5 231.9h1v1h-1zM43.2 241.8h1v1h-1zM44.6 244.8h1v1h-1zM46.7 239.2h1v1h-1zM45.0 243.9h1v1h-1zM44.6 234.3h1v1h-1zM44.7 254.3h1v1h-1zM45.6 259.8h1v1h-1zM43.3 241.0h1v1h-1zM47.0 249.8h1v1h-1zM44.6 240.9h1v1h-1z"/>
<path fill="none" stroke="#2f5fa8" stroke-width="0.4" stroke-opacity="0.36" d="M45.3 233.3h1v1h-1zM44.6 224.2h1v1h-1zM46.4 248.1h1v1h-1zM45.9 235.8h1v1h-1zM44.5 231.2h1v1h-1zM44.7 235.3h1v1h-1zM45.2 241.2h1v1h-1zM44.7 226.3h1v1h-1zM46.0 240.3h1v1h-1zM44.4 234.7h1v1h-1zM46.7 264.5h1v1h-1zM46.3 267.0h1v1h-1z"/>
<line x1="42.80" y1="279.10" x2="45.10" y2="279.10" stroke="#2f5fa8" stroke-width="1.3" stroke-opacity="0.9"/>
<line x1="45.70" y1="279.10" x2="48.20" y2="279.10" stroke="#2f5fa8" stroke-width="1.3" stroke-opacity="0.9"/>
<line x1="45.40" y1="217.00" x2="45.40" y2="263.30" stroke="#2f5fa8" stroke-width="1.3"/>
<rect x="42.80" y="230.40" width="5.4" height="14.00" fill="#2f5fa8" fill-opacity="0.55" stroke="#2f5fa8" stroke-width="1.4" rx="0.5"/>
<path fill="#fff" fill-opacity="0.8" d="M43.8 241.6h1.2v1h-1.2zM45.5 242.2h1.2v1h-1.2zM46.1 232.9h1.2v1h-1.2zM45.4 231.4h1.2v1h-1.2zM43.9 237.3h1.2v1h-1.2zM44.1 233.6h1.2v1h-1.2zM44.4 236.4h1.2v1h-1.2z"/>
<line x1="42.80" y1="235.60" x2="48.20" y2="235.60" stroke="#2f5fa8" stroke-width="1.4"/>
<path fill="none" stroke="#d9413a" stroke-width="0.4" stroke-opacity="0.36" d="M68.7 259.4h1v1h-1zM67.9 263.8h1v1h-1zM70.4 241.7h1v1h-1zM69.7 265.2h1v1h-1zM71.3 245.5h1v1h-1zM65.9 230.0h1v1h-1zM65.9 242.1h1v1h-1zM69.7 218.2h1v1h-1zM69.2 245.4h1v1h-1zM67.5 242.0h1v1h-1zM68.2 241.4h1v1h-1zM70.0 221.0h1v1h-1z"/>
<path fill="none" stroke="#d9413a" stroke-width="0.4" stroke-opacity="0.36" d="M68.5 252.4h1v1h-1zM70.0 240.7h1v1h-1zM67.1 227.4h1v1h-1zM69.7 252.9h1v1h-1zM67.6 228.5h1v1h-1zM68.0 224.7h1v1h-1zM68.7 234.3h1v1h-1zM68.3 220.4h1v1h-1zM71.3 222.7h1v1h-1zM68.9 248.2h1v1h-1zM67.2 255.7h1v1h-1zM70.5 252.4h1v1h-1z"/>
<path fill="none" stroke="#d9413a" stroke-width="0.4" stroke-opacity="0.36" d="M69.0 237.7h1v1h-1zM69.6 221.4h1v1h-1zM68.5 244.6h1v1h-1zM68.5 266.7h1v1h-1zM70.1 261.9h1v1h-1zM69.1 232.5h1v1h-1zM68.9 256.0h1v1h-1zM67.8 234.1h1v1h-1zM66.5 247.2h1v1h-1zM69.1 256.0h1v1h-1zM66.2 219.6h1v1h-1zM70.5 229.2h1v1h-1z"/>
<path fill="none" stroke="#d9413a" stroke-width="0.4" stroke-opacity="0.36" d="M68.0 254.4h1v1h-1zM66.9 265.8h1v1h-1zM69.6 225.1h1v1h-1zM70.9 249.8h1v1h-1zM69.6 246.1h1v1h-1zM67.7 221.7h1v1h-1zM68.0 244.7h1v1h-1zM68.9 258.8h1v1h-1zM67.7 247.4h1v1h-1zM67.1 222.6h1v1h-1zM69.0 216.7h1v1h-1zM69.4 238.5h1v1h-1z"/>
<path fill="none" stroke="#d9413a" stroke-width="0.4" stroke-opacity="0.36" d="M69.2 240.2h1v1h-1zM69.9 237.2h1v1h-1zM68.9 240.8h1v1h-1zM68.4 240.0h1v1h-1zM71.1 256.1h1v1h-1zM68.5 250.5h1v1h-1zM66.4 246.1h1v1h-1zM70.9 248.7h1v1h-1zM67.3 229.3h1v1h-1zM68.5 246.0h1v1h-1zM69.1 237.4h1v1h-1zM69.0 232.9h1v1h-1z"/>
<path fill="none" stroke="#d9413a" stroke-width="0.4" stroke-opacity="0.36" d="M70.6 238.2h1v1h-1zM69.1 236.2h1v1h-1zM72.5 216.4h1v1h-1zM67.2 243.8h1v1h-1zM68.8 224.4h1v1h-1zM70.1 232.9h1v1h-1zM69.1 249.5h1v1h-1zM67.6 232.4h1v1h-1zM66.0 230.3h1v1h-1zM69.8 239.1h1v1h-1zM69.4 245.9h1v1h-1zM68.3 235.2h1v1h-1z"/>
<path fill="none" stroke="#d9413a" stroke-width="0.4" stroke-opacity="0.36" d="M70.0 234.4h1v1h-1zM69.5 248.1h1v1h-1zM68.2 255.5h1v1h-1zM70.3 232.5h1v1h-1zM70.6 248.5h1v1h-1zM69.5 245.6h1v1h-1zM68.6 241.1h1v1h-1zM67.2 247.8h1v1h-1zM70.2 248.5h1v1h-1zM66.1 225.9h1v1h-1zM66.8 242.5h1v1h-1zM70.9 242.0h1v1h-1z"/>
<path fill="none" stroke="#d9413a" stroke-width="0.4" stroke-opacity="0.36" d="M70.0 233.1h1v1h-1zM68.0 249.5h1v1h-1zM66.9 224.5h1v1h-1zM69.1 237.0h1v1h-1zM66.7 246.2h1v1h-1zM68.2 228.5h1v1h-1zM67.0 234.8h1v1h-1zM72.5 258.4h1v1h-1zM67.5 227.7h1v1h-1zM68.6 241.3h1v1h-1zM69.9 246.5h1v1h-1zM69.6 235.8h1v1h-1z"/>
<path fill="none" stroke="#d9413a" stroke-width="0.4" stroke-opacity="0.36" d="M66.8 239.9h1v1h-1zM68.5 219.4h1v1h-1zM66.1 238.0h1v1h-1zM69.7 246.4h1v1h-1zM71.4 245.2h1v1h-1zM65.3 220.3h1v1h-1zM71.9 244.0h1v1h-1zM68.3 234.4h1v1h-1zM67.0 225.2h1v1h-1zM68.8 248.2h1v1h-1zM69.6 238.5h1v1h-1zM70.0 243.4h1v1h-1z"/>
<path fill="none" stroke="#d9413a" stroke-width="0.4" stroke-opacity="0.36" d="M69.9 236.4h1v1h-1zM66.2 245.1h1v1h-1zM68.9 260.5h1v1h-1zM67.6 236.6h1v1h-1zM68.0 241.2h1v1h-1zM68.7 232.5h1v1h-1zM66.9 234.9h1v1h-1zM67.0 257.0h1v1h-1zM69.0 245.3h1v1h-1zM68.1 244.2h1v1h-1zM67.5 221.9h1v1h-1zM70.1 221.7h1v1h-1z"/>
<path fill="none" stroke="#d9413a" stroke-width="0.4" stroke-opacity="0.36" d="M70.1 224.6h1v1h-1zM71.3 223.1h1v1h-1zM68.8 243.4h1v1h-1zM70.5 241.0h1v1h-1zM68.4 238.3h1v1h-1zM70.9 215.6h1v1h-1zM68.2 235.0h1v1h-1zM68.4 231.7h1v1h-1zM67.7 236.7h1v1h-1zM70.8 236.4h1v1h-1zM69.3 251.0h1v1h-1zM68.3 241.8h1v1h-1z"/>
<path fill="none" stroke="#d9413a" stroke-width="0.4" stroke-opacity="0.36" d="M70.2 245.7h1v1h-1zM70.7 234.2h1v1h-1zM69.9 251.7h1v1h-1zM69.1 231.3h1v1h-1zM69.4 245.2h1v1h-1zM67.5 228.4h1v1h-1zM69.6 263.5h1v1h-1zM66.0 232.7h1v1h-1zM67.2 245.3h1v1h-1zM68.7 232.5h1v1h-1zM67.4 244.8h1v1h-1zM68.0 224.4h1v1h-1z"/>
<path fill="none" stroke="#d9413a" stroke-width="0.4" stroke-opacity="0.36" d="M67.9 229.2h1v1h-1zM67.9 241.2h1v1h-1zM70.0 232.1h1v1h-1zM66.7 256.8h1v1h-1zM66.7 219.8h1v1h-1zM69.3 233.1h1v1h-1zM68.8 216.2h1v1h-1zM67.2 259.7h1v1h-1zM68.5 241.8h1v1h-1zM67.8 249.6h1v1h-1zM69.5 259.1h1v1h-1zM69.2 249.2h1v1h-1z"/>
<path fill="none" stroke="#d9413a" stroke-width="0.4" stroke-opacity="0.36" d="M70.6 222.9h1v1h-1zM68.5 241.5h1v1h-1zM70.5 242.2h1v1h-1zM69.7 232.8h1v1h-1zM66.4 252.5h1v1h-1zM70.8 236.9h1v1h-1zM67.6 247.9h1v1h-1zM67.8 231.0h1v1h-1zM66.2 236.0h1v1h-1zM69.1 249.8h1v1h-1zM69.2 252.0h1v1h-1zM69.9 234.7h1v1h-1z"/>
<path fill="none" stroke="#d9413a" stroke-width="0.4" stroke-opacity="0.36" d="M66.7 257.8h1v1h-1zM68.3 261.9h1v1h-1zM68.6 233.1h1v1h-1zM69.8 253.0h1v1h-1zM67.0 238.1h1v1h-1zM69.9 232.6h1v1h-1zM66.3 230.5h1v1h-1zM68.9 262.8h1v1h-1zM67.2 240.0h1v1h-1zM67.3 223.6h1v1h-1zM69.4 220.8h1v1h-1zM69.1 233.6h1v1h-1z"/>
<path fill="none" stroke="#d9413a" stroke-width="0.4" stroke-opacity="0.36" d="M66.2 249.3h1v1h-1zM70.8 261.0h1v1h-1zM69.0 256.9h1v1h-1zM69.0 233.1h1v1h-1zM67.6 266.8h1v1h-1zM68.7 251.4h1v1h-1zM70.6 221.9h1v1h-1zM66.3 257.6h1v1h-1zM67.9 240.6h1v1h-1zM68.8 240.6h1v1h-1z"/>
<line x1="66.80" y1="279.10" x2="69.10" y2="279.10" stroke="#d9413a" stroke-width="1.3" stroke-opacity="0.9"/>
<line x1="69.70" y1="279.10" x2="72.20" y2="279.10" stroke="#d9413a" stroke-width="1.3" stroke-opacity="0.9"/>
<line x1="69.40" y1="216.00" x2="69.40" y2="267.50" stroke="#d9413a" stroke-width="1.3"/>
<rect x="66.80" y="232.60" width="5.4" height="17.70" fill="#d9413a" fill-opacity="0.35" stroke="#d9413a" stroke-width="1.4" rx="0.5"/>
<path fill="#fff" fill-opacity="0.8" d="M67.5 242.1h1.2v1h-1.2zM67.6 241.9h1.2v1h-1.2zM67.6 236.1h1.2v1h-1.2zM68.7 244.9h1.2v1h-1.2zM70.2 245.0h1.2v1h-1.2zM69.7 240.0h1.2v1h-1.2zM68.8 241.7h1.2v1h-1.2zM70.1 246.3h1.2v1h-1.2z"/>
<line x1="66.80" y1="239.20" x2="72.20" y2="239.20" stroke="#d9413a" stroke-width="1.4"/>
<path fill="none" stroke="#2f5fa8" stroke-width="0.4" stroke-opacity="0.36" d="M98.6 235.9h1v1h-1zM96.1 230.2h1v1h-1zM100.3 231.4h1v1h-1zM102.1 243.4h1v1h-1zM98.7 222.2h1v1h-1zM100.4 215.5h1v1h-1zM100.7 240.4h1v1h-1zM99.1 246.9h1v1h-1zM99.4 223.7h1v1h-1zM99.5 228.0h1v1h-1zM98.4 238.0h1v1h-1zM101.4 235.9h1v1h-1z"/>
<path fill="none" stroke="#2f5fa8" stroke-width="0.4" stroke-opacity="0.36" d="M98.8 231.3h1v1h-1zM102.8 228.5h1v1h-1zM98.4 220.7h1v1h-1zM98.5 232.1h1v1h-1zM99.5 234.8h1v1h-1zM100.5 231.7h1v1h-1zM99.5 228.7h1v1h-1zM99.4 234.1h1v1h-1zM99.2 233.0h1v1h-1zM97.0 237.7h1v1h-1zM97.6 234.7h1v1h-1zM101.1 241.3h1v1h-1z"/>
<path fill="none" stroke="#2f5fa8" stroke-width="0.4" stroke-opacity="0.36" d="M101.2 231.7h1v1h-1zM96.4 229.8h1v1h-1zM100.3 238.3h1v1h-1zM100.3 234.0h1v1h-1zM101.0 238.7h1v1h-1zM99.0 245.3h1v1h-1zM100.0 217.7h1v1h-1zM97.6 250.6h1v1h-1zM98.5 230.8h1v1h-1zM102.1 249.6h1v1h-1zM99.6 236.3h1v1h-1zM97.5 221.6h1v1h-1z"/>
<path fill="none" stroke="#2f5fa8" stroke-width="0.4" stroke-opacity="0.36" d="M99.9 234.7h1v1h-1zM98.3 232.8h1v1h-1zM99.1 238.2h1v1h-1zM98.6 220.4h1v1h-1zM97.8 235.0h1v1h-1zM100.9 234.2h1v1h-1zM101.6 235.4h1v1h-1zM100.2 217.7h1v1h-1zM98.7 223.4h1v1h-1zM100.5 220.6h1v1h-1zM98.8 229.2h1v1h-1zM99.6 235.8h1v1h-1z"/>
<path fill="none" stroke="#2f5fa8" stroke-width="0.4" stroke-opacity="0.36" d="M96.1 221.7h1v1h-1zM96.9 230.6h1v1h-1zM100.8 223.3h1v1h-1zM96.5 234.6h1v1h-1zM98.5 217.9h1v1h-1zM98.7 215.4h1v1h-1zM97.5 221.0h1v1h-1zM99.1 237.1h1v1h-1zM98.9 226.7h1v1h-1zM100.4 246.7h1v1h-1zM97.1 222.5h1v1h-1zM98.8 240.7h1v1h-1z"/>
<path fill="none" stroke="#2f5fa8" stroke-width="0.4" stroke-opacity="0.36" d="M98.4 241.1h1v1h-1zM100.0 242.6h1v1h-1zM95.6 231.1h1v1h-1zM101.7 220.1h1v1h-1zM99.6 237.7h1v1h-1zM99.0 233.0h1v1h-1zM99.9 235.6h1v1h-1zM97.9 238.2h1v1h-1zM100.2 235.8h1v1h-1zM100.4 216.9h1v1h-1zM99.7 237.5h1v1h-1zM100.8 220.5h1v1h-1z"/>
<path fill="none" stroke="#2f5fa8" stroke-width="0.4" stroke-opacity="0.36" d="M99.1 246.7h1v1h-1zM99.1 232.6h1v1h-1zM97.5 233.5h1v1h-1zM97.7 250.5h1v1h-1zM99.3 232.0h1v1h-1zM100.5 227.9h1v1h-1zM98.9 232.9h1v1h-1zM98.9 232.5h1v1h-1zM98.1 233.1h1v1h-1zM97.3 234.2h1v1h-1zM100.3 232.7h1v1h-1zM101.7 231.6h1v1h-1z"/>
<path fill="none" stroke="#2f5fa8" stroke-width="0.4" stroke-opacity="0.36" d="M98.3 238.0h1v1h-1zM99.3 232.1h1v1h-1zM99.1 218.7h1v1h-1zM98.6 245.3h1v1h-1zM101.2 251.2h1v1h-1zM98.8 250.4h1v1h-1zM96.7 235.5h1v1h-1zM100.7 222.8h1v1h-1zM99.5 242.9h1v1h-1zM100.9 231.7h1v1h-1zM99.4 223.8h1v1h-1zM95.6 229.7h1v1h-1z"/>
<path fill="none" stroke="#2f5fa8" stroke-width="0.4" stroke-opacity="0.36" d="M99.4 235.5h1v1h-1zM96.3 233.4h1v1h-1zM100.5 226.5h1v1h-1zM99.1 224.6h1v1h-1zM97.6 244.5h1v1h-1zM102.2 234.6h1v1h-1zM99.1 233.1h1v1h-1zM100.0 246.3h1v1h-1zM99.5 234.1h1v1h-1zM101.1 242.3h1v1h-1zM101.7 230.9h1v1h-1zM98.3 233.3h1v1h-1z"/>
<path fill="none" stroke="#2f5fa8" stroke-width="0.4" stroke-opacity="0.36" d="M97.5 247.1h1v1h-1zM100.3 230.8h1v1h-1zM98.3 246.7h1v1h-1zM97.9 234.8h1v1h-1zM97.6 242.4h1v1h-1zM99.6 252.4h1v1h-1zM99.5 240.5h1v1h-1zM99.3 239.4h1v1h-1zM99.2 248.5h1v1h-1zM100.5 222.8h1v1h-1zM100.4 243.4h1v1h-1zM99.2 215.9h1v1h-1z"/>
<path fill="none" stroke="#2f5fa8" stroke-width="0.4" stroke-opacity="0.36" d="M100.2 235.5h1v1h-1zM98.1 235.3h1v1h-1zM100.9 234.2h1v1h-1zM100.8 243.7h1v1h-1zM98.9 242.1h1v1h-1zM98.2 246.0h1v1h-1zM98.7 235.9h1v1h-1zM99.3 234.9h1v1h-1zM99.3 230.6h1v1h-1zM98.0 224.4h1v1h-1zM98.6 229.3h1v1h-1zM98.1 246.6h1v1h-1z"/>
<path fill="none" stroke="#2f5fa8" stroke-width="0.4" stroke-opacity="0.36" d="M100.7 230.7h1v1h-1zM96.4 235.2h1v1h-1zM96.6 221.0h1v1h-1zM99.1 249.9h1v1h-1zM98.7 231.3h1v1h-1zM100.4 230.3h1v1h-1zM97.8 248.7h1v1h-1zM97.0 231.7h1v1h-1zM101.4 230.2h1v1h-1zM98.7 244.9h1v1h-1zM98.6 224.8h1v1h-1zM99.5 234.7h1v1h-1z"/>
<path fill="none" stroke="#2f5fa8" stroke-width="0.4" stroke-opacity="0.36" d="M98.4 231.5h1v1h-1zM100.8 233.1h1v1h-1zM99.1 243.6h1v1h-1zM98.4 229.3h1v1h-1zM97.9 237.2h1v1h-1zM102.2 252.4h1v1h-1zM98.4 250.2h1v1h-1zM97.8 226.2h1v1h-1zM97.5 238.4h1v1h-1zM96.0 222.3h1v1h-1zM99.7 230.0h1v1h-1zM98.4 232.3h1v1h-1z"/>
<path fill="none" stroke="#2f5fa8" stroke-width="0.4" stroke-opacity="0.36" d="M98.1 219.6h1v1h-1zM98.5 236.9h1v1h-1zM102.8 235.9h1v1h-1zM100.0 234.5h1v1h-1zM99.5 232.3h1v1h-1zM97.4 219.7h1v1h-1zM100.2 243.4h1v1h-1zM98.6 222.6h1v1h-1zM100.3 243.4h1v1h-1zM99.8 221.6h1v1h-1zM97.8 227.5h1v1h-1zM100.2 220.7h1v1h-1z"/>
<path fill="none" stroke="#2f5fa8" stroke-width="0.4" stroke-opacity="0.36" d="M96.2 245.0h1v1h-1zM100.5 221.4h1v1h-1zM98.4 230.2h1v1h-1zM100.4 221.6h1v1h-1zM98.0 218.4h1v1h-1zM100.8 223.1h1v1h-1zM100.7 235.0h1v1h-1zM96.2 220.0h1v1h-1zM97.9 229.4h1v1h-1zM100.2 240.5h1v1h-1zM100.7 241.9h1v1h-1zM100.9 229.8h1v1h-1z"/>
<path fill="none" stroke="#2f5fa8" stroke-width="0.4" stroke-opacity="0.36" d="M97.2 224.5h1v1h-1zM100.2 235.1h1v1h-1zM99.6 237.5h1v1h-1zM97.8 224.0h1v1h-1zM99.5 238.5h1v1h-1zM99.4 247.5h1v1h-1zM99.1 233.4h1v1h-1zM98.6 240.6h1v1h-1zM96.6 226.3h1v1h-1zM98.1 241.7h1v1h-1zM101.7 257.5h1v1h-1zM98.3 261.5h1v1h-1z"/>
<line x1="97.10" y1="279.10" x2="99.40" y2="279.10" stroke="#2f5fa8" stroke-width="1.3" stroke-opacity="0.9"/>
<line x1="100.00" y1="279.10" x2="102.50" y2="279.10" stroke="#2f5fa8" stroke-width="1.3" stroke-opacity="0.9"/>
<line x1="99.70" y1="215.90" x2="99.70" y2="253.30" stroke="#2f5fa8" stroke-width="1.3"/>
<rect x="97.10" y="229.60" width="5.4" height="9.80" fill="#2f5fa8" fill-opacity="0.55" stroke="#2f5fa8" stroke-width="1.4" rx="0.5"/>
<path fill="#fff" fill-opacity="0.8" d="M99.5 236.5h1.2v1h-1.2zM98.2 230.7h1.2v1h-1.2zM99.9 235.7h1.2v1h-1.2zM98.2 232.5h1.2v1h-1.2z"/>
<line x1="97.10" y1="233.60" x2="102.50" y2="233.60" stroke="#2f5fa8" stroke-width="1.4"/>
<path fill="none" stroke="#d9413a" stroke-width="0.4" stroke-opacity="0.36" d="M122.0 255.0h1v1h-1zM123.1 221.0h1v1h-1zM123.6 233.5h1v1h-1zM123.6 219.8h1v1h-1zM124.3 227.3h1v1h-1zM123.2 237.0h1v1h-1zM120.3 239.5h1v1h-1zM124.2 237.7h1v1h-1zM123.9 234.6h1v1h-1zM122.4 242.3h1v1h-1zM124.2 237.7h1v1h-1zM124.7 229.5h1v1h-1z"/>
<path fill="none" stroke="#d9413a" stroke-width="0.4" stroke-opacity="0.36" d="M121.0 220.0h1v1h-1zM124.7 228.8h1v1h-1zM122.6 224.5h1v1h-1zM124.9 218.5h1v1h-1zM122.9 236.9h1v1h-1zM121.8 249.7h1v1h-1zM125.0 230.7h1v1h-1zM124.5 225.8h1v1h-1zM123.2 230.0h1v1h-1zM122.0 240.6h1v1h-1zM125.3 230.9h1v1h-1zM123.2 229.3h1v1h-1z"/>
<path fill="none" stroke="#d9413a" stroke-width="0.4" stroke-opacity="0.36" d="M123.1 233.5h1v1h-1zM125.2 243.5h1v1h-1zM122.5 218.6h1v1h-1zM122.2 242.2h1v1h-1zM122.3 236.3h1v1h-1zM123.6 220.1h1v1h-1zM121.4 234.4h1v1h-1zM122.0 249.4h1v1h-1zM121.7 221.8h1v1h-1zM123.3 237.1h1v1h-1zM125.2 239.9h1v1h-1zM122.8 232.4h1v1h-1z"/>
<path fill="none" stroke="#d9413a" stroke-width="0.4" stroke-opacity="0.36" d="M126.6 231.1h1v1h-1zM123.8 239.5h1v1h-1zM123.6 233.0h1v1h-1zM122.9 223.7h1v1h-1zM122.4 237.3h1v1h-1zM122.5 220.8h1v1h-1zM121.5 233.2h1v1h-1zM122.1 250.1h1v1h-1zM121.8 234.2h1v1h-1zM123.0 238.3h1v1h-1zM124.7 241.9h1v1h-1zM121.5 249.5h1v1h-1z"/>
<path fill="none" stroke="#d9413a" stroke-width="0.4" stroke-opacity="0.36" d="M123.3 238.3h1v1h-1zM121.4 242.5h1v1h-1zM121.2 243.8h1v1h-1zM124.1 218.6h1v1h-1zM122.7 250.6h1v1h-1zM121.7 231.9h1v1h-1zM123.8 240.0h1v1h-1zM121.2 254.3h1v1h-1zM125.5 233.1h1v1h-1zM126.5 239.0h1v1h-1zM123.3 240.2h1v1h-1zM121.5 256.6h1v1h-1z"/>
<path fill="none" stroke="#d9413a" stroke-width="0.4" stroke-opacity="0.36" d="M124.9 229.8h1v1h-1zM122.6 238.0h1v1h-1zM122.5 231.9h1v1h-1zM124.4 237.0h1v1h-1zM121.4 243.2h1v1h-1zM123.5 248.6h1v1h-1zM122.2 239.4h1v1h-1zM121.9 232.5h1v1h-1zM124.1 239.1h1v1h-1zM121.4 234.7h1v1h-1zM120.8 231.7h1v1h-1zM121.1 246.2h1v1h-1z"/>
<path fill="none" stroke="#d9413a" stroke-width="0.4" stroke-opacity="0.36" d="M123.0 222.0h1v1h-1zM122.7 223.6h1v1h-1zM124.6 232.9h1v1h-1zM122.6 238.3h1v1h-1zM124.3 251.1h1v1h-1zM120.2 237.3h1v1h-1zM124.1 232.4h1v1h-1zM122.7 218.9h1v1h-1zM123.1 235.6h1v1h-1zM126.4 241.4h1v1h-1zM123.9 249.3h1v1h-1zM123.1 232.0h1v1h-1z"/>
<path fill="none" stroke="#d9413a" stroke-width="0.4" stroke-opacity="0.36" d="M120.8 233.4h1v1h-1zM123.1 235.4h1v1h-1zM123.2 226.6h1v1h-1zM123.1 251.4h1v1h-1zM121.8 232.3h1v1h-1zM122.5 249.1h1v1h-1zM122.4 222.4h1v1h-1zM123.5 237.7h1v1h-1zM124.1 232.6h1v1h-1zM123.2 242.4h1v1h-1zM123.9 221.0h1v1h-1zM125.9 241.4h1v1h-1z"/>
<path fill="none" stroke="#d9413a" stroke-width="0.4" stroke-opacity="0.36" d="M124.8 224.8h1v1h-1zM124.5 242.1h1v1h-1zM126.1 238.1h1v1h-1zM122.3 248.0h1v1h-1zM124.9 247.1h1v1h-1zM122.2 223.4h1v1h-1zM122.4 236.6h1v1h-1zM124.8 234.9h1v1h-1zM122.1 236.7h1v1h-1zM123.7 235.9h1v1h-1zM123.5 229.2h1v1h-1zM123.5 240.2h1v1h-1z"/>
<path fill="none" stroke="#d9413a" stroke-width="0.4" stroke-opacity="0.36" d="M122.6 231.2h1v1h-1zM122.0 237.4h1v1h-1zM121.1 241.1h1v1h-1zM124.0 253.5h1v1h-1zM120.3 232.5h1v1h-1zM123.8 236.2h1v1h-1zM122.5 256.5h1v1h-1zM120.8 233.3h1v1h-1zM123.2 256.8h1v1h-1zM126.4 239.4h1v1h-1zM122.1 240.5h1v1h-1zM122.2 227.0h1v1h-1z"/>
<path fill="none" stroke="#d9413a" stroke-width="0.4" stroke-opacity="0.36" d="M125.0 255.2h1v1h-1zM125.3 256.7h1v1h-1zM124.7 249.7h1v1h-1zM122.4 222.8h1v1h-1zM122.4 230.6h1v1h-1zM122.9 242.1h1v1h-1zM122.9 234.5h1v1h-1zM122.6 243.5h1v1h-1zM122.0 234.3h1v1h-1zM121.5 231.3h1v1h-1zM121.3 223.4h1v1h-1zM123.9 249.2h1v1h-1z"/>
<path fill="none" stroke="#d9413a" stroke-width="0.4" stroke-opacity="0.36" d="M121.9 225.8h1v1h-1zM120.7 241.6h1v1h-1zM120.6 241.1h1v1h-1zM123.4 233.2h1v1h-1zM124.7 249.9h1v1h-1zM120.5 231.4h1v1h-1zM123.5 232.4h1v1h-1zM121.9 249.3h1v1h-1zM123.9 223.6h1v1h-1zM122.7 220.7h1v1h-1zM124.8 241.6h1v1h-1zM121.1 237.4h1v1h-1z"/>
<path fill="none" stroke="#d9413a" stroke-width="0.4" stroke-opacity="0.36" d="M122.8 231.6h1v1h-1zM120.2 237.5h1v1h-1zM125.2 234.6h1v1h-1zM124.2 221.3h1v1h-1zM122.4 226.1h1v1h-1zM123.0 247.6h1v1h-1zM124.1 219.5h1v1h-1zM124.9 234.8h1v1h-1zM122.4 228.3h1v1h-1zM122.5 231.9h1v1h-1zM124.1 235.9h1v1h-1zM126.6 225.5h1v1h-1z"/>
<path fill="none" stroke="#d9413a" stroke-width="0.4" stroke-opacity="0.36" d="M121.9 224.2h1v1h-1zM122.3 238.3h1v1h-1zM121.0 245.4h1v1h-1zM125.3 231.5h1v1h-1zM123.8 233.8h1v1h-1zM124.2 233.5h1v1h-1zM125.7 247.2h1v1h-1zM126.4 231.4h1v1h-1zM119.8 239.2h1v1h-1zM124.4 227.3h1v1h-1zM124.2 257.2h1v1h-1zM121.3 249.1h1v1h-1z"/>
<path fill="none" stroke="#d9413a" stroke-width="0.4" stroke-opacity="0.36" d="M123.6 233.9h1v1h-1zM123.1 231.5h1v1h-1zM122.8 235.9h1v1h-1zM126.6 237.2h1v1h-1zM125.7 227.8h1v1h-1zM122.2 234.8h1v1h-1zM122.5 241.5h1v1h-1zM121.7 243.8h1v1h-1zM123.5 221.5h1v1h-1zM123.0 228.8h1v1h-1zM124.9 230.1h1v1h-1zM126.1 243.7h1v1h-1z"/>
<path fill="none" stroke="#d9413a" stroke-width="0.4" stroke-opacity="0.36" d="M123.8 233.3h1v1h-1zM125.4 235.7h1v1h-1zM122.8 240.6h1v1h-1zM123.3 249.8h1v1h-1zM123.6 228.0h1v1h-1zM121.4 224.6h1v1h-1zM124.6 225.3h1v1h-1zM119.4 233.9h1v1h-1zM125.1 230.2h1v1h-1zM123.6 240.2h1v1h-1zM125.1 261.5h1v1h-1zM125.2 265.5h1v1h-1z"/>
<path fill="none" stroke="#d9413a" stroke-width="0.4" stroke-opacity="0.36" d="M125.4 270.1h1v1h-1z"/>
<line x1="120.90" y1="279.10" x2="123.20" y2="279.10" stroke="#d9413a" stroke-width="1.3" stroke-opacity="0.9"/>
<line x1="123.80" y1="279.10" x2="126.30" y2="279.10" stroke="#d9413a" stroke-width="1.3" stroke-opacity="0.9"/>
<line x1="123.50" y1="218.00" x2="123.50" y2="257.70" stroke="#d9413a" stroke-width="1.3"/>
<rect x="120.90" y="231.00" width="5.4" height="12.00" fill="#d9413a" fill-opacity="0.35" stroke="#d9413a" stroke-width="1.4" rx="0.5"/>
<path fill="#fff" fill-opacity="0.8" d="M124.0 231.9h1.2v1h-1.2zM121.8 236.3h1.2v1h-1.2zM123.4 239.9h1.2v1h-1.2zM123.8 238.9h1.2v1h-1.2zM122.8 233.6h1.2v1h-1.2zM122.1 238.9h1.2v1h-1.2z"/>
<line x1="120.90" y1="236.50" x2="126.30" y2="236.50" stroke="#d9413a" stroke-width="1.4"/>
<line x1="31.10" y1="206.40" x2="31.10" y2="283.30" stroke="#1a1a1a" stroke-width="1.5"/>
<rect x="29.90" y="270.20" width="2.4" height="2.8" fill="#fff"/>
<line x1="28.40" y1="271.70" x2="33.80" y2="268.90" stroke="#1a1a1a" stroke-width="0.95"/>
<line x1="28.40" y1="274.70" x2="33.80" y2="271.90" stroke="#1a1a1a" stroke-width="0.95"/>
<line x1="31.10" y1="282.60" x2="83.40" y2="282.60" stroke="#1a1a1a" stroke-width="1.4"/>
<line x1="85.50" y1="282.60" x2="137.70" y2="282.60" stroke="#1a1a1a" stroke-width="1.4"/>
<line x1="28.10" y1="279.10" x2="31.10" y2="279.10" stroke="#1a1a1a" stroke-width="1.2"/>
<text x="25.30" y="282.05" font-size="8.2" text-anchor="end" fill="#1a1a1a" textLength="4.5" lengthAdjust="spacingAndGlyphs" stroke="#1a1a1a" stroke-width="0.22">0</text>
<line x1="28.10" y1="259.50" x2="31.10" y2="259.50" stroke="#1a1a1a" stroke-width="1.2"/>
<text x="25.30" y="262.45" font-size="8.2" text-anchor="end" fill="#1a1a1a" textLength="4.5" lengthAdjust="spacingAndGlyphs" stroke="#1a1a1a" stroke-width="0.22">1</text>
<line x1="28.10" y1="239.60" x2="31.10" y2="239.60" stroke="#1a1a1a" stroke-width="1.2"/>
<text x="25.30" y="242.55" font-size="8.2" text-anchor="end" fill="#1a1a1a" textLength="4.5" lengthAdjust="spacingAndGlyphs" stroke="#1a1a1a" stroke-width="0.22">2</text>
<line x1="28.10" y1="219.50" x2="31.10" y2="219.50" stroke="#1a1a1a" stroke-width="1.2"/>
<text x="25.30" y="222.45" font-size="8.2" text-anchor="end" fill="#1a1a1a" textLength="4.5" lengthAdjust="spacingAndGlyphs" stroke="#1a1a1a" stroke-width="0.22">3</text>
<line x1="45.40" y1="282.60" x2="45.40" y2="285.60" stroke="#1a1a1a" stroke-width="1.2"/>
<text x="45.40" y="295.20" font-size="8.6" text-anchor="middle" fill="#1a1a1a" textLength="17.2" lengthAdjust="spacingAndGlyphs" stroke="#1a1a1a" stroke-width="0.22">High</text>
<line x1="69.40" y1="282.60" x2="69.40" y2="285.60" stroke="#1a1a1a" stroke-width="1.2"/>
<text x="69.40" y="295.20" font-size="8.6" text-anchor="middle" fill="#1a1a1a" textLength="14.2" lengthAdjust="spacingAndGlyphs" stroke="#1a1a1a" stroke-width="0.22">Low</text>
<line x1="99.70" y1="282.60" x2="99.70" y2="285.60" stroke="#1a1a1a" stroke-width="1.2"/>
<text x="99.70" y="295.20" font-size="8.6" text-anchor="middle" fill="#1a1a1a" textLength="17.2" lengthAdjust="spacingAndGlyphs" stroke="#1a1a1a" stroke-width="0.22">High</text>
<line x1="123.50" y1="282.60" x2="123.50" y2="285.60" stroke="#1a1a1a" stroke-width="1.2"/>
<text x="123.50" y="295.20" font-size="8.6" text-anchor="middle" fill="#1a1a1a" textLength="14.2" lengthAdjust="spacingAndGlyphs" stroke="#1a1a1a" stroke-width="0.22">Low</text>
<path d="M45.40,214.50 L45.40,211.30 L69.40,211.30 L69.40,214.50" stroke="#1a1a1a" stroke-width="1.3" fill="none"/>
<text x="57.40" y="211.80" font-size="8.4" text-anchor="middle" fill="#1a1a1a" textLength="9.600000000000001" lengthAdjust="spacingAndGlyphs" stroke="#1a1a1a" stroke-width="0.22">***</text>
<path d="M99.70,214.50 L99.70,211.30 L123.50,211.30 L123.50,214.50" stroke="#1a1a1a" stroke-width="1.3" fill="none"/>
<text x="111.60" y="211.80" font-size="8.4" text-anchor="middle" fill="#1a1a1a" textLength="6.4" lengthAdjust="spacingAndGlyphs" stroke="#1a1a1a" stroke-width="0.22">**</text>
<text x="84.40" y="188.70" font-size="10.2" text-anchor="middle" fill="#1a1a1a" textLength="18.3" lengthAdjust="spacingAndGlyphs" stroke="#1a1a1a" stroke-width="0.15">CD4</text>
<text x="57.30" y="200.80" font-size="9.3" text-anchor="middle" fill="#1a1a1a" textLength="35.3" lengthAdjust="spacingAndGlyphs" stroke="#1a1a1a" stroke-width="0.15">Day 100</text>
<text x="111.50" y="200.80" font-size="9.3" text-anchor="middle" fill="#1a1a1a" textLength="35.3" lengthAdjust="spacingAndGlyphs" stroke="#1a1a1a" stroke-width="0.15">Day 180</text>
<text x="83.80" y="306.80" font-size="9.2" text-anchor="middle" fill="#1a1a1a" textLength="95" lengthAdjust="spacingAndGlyphs" stroke="#1a1a1a" stroke-width="0.3">Peri-engraftment <tspan font-size="10.5">α</tspan>-diversity</text>
<text x="16.20" y="244.20" font-size="9.8" text-anchor="middle" fill="#1a1a1a" stroke="#1a1a1a" stroke-width="0.25" transform="rotate(-90 16.20 244.20)" textLength="66" lengthAdjust="spacingAndGlyphs">Log<tspan font-size="7" dy="2.4">10</tspan><tspan dy="-2.4"> (CD4 cells/µl)</tspan></text>
<line x1="32.90" y1="370.60" x2="82.90" y2="370.60" stroke="#a8a8a8" stroke-width="0.8" stroke-dasharray="1,2"/>
<line x1="86.70" y1="370.60" x2="137.70" y2="370.60" stroke="#a8a8a8" stroke-width="0.8" stroke-dasharray="1,2"/>
<line x1="32.90" y1="382.00" x2="82.90" y2="382.00" stroke="#a8a8a8" stroke-width="0.8" stroke-dasharray="1,2"/>
<line x1="86.70" y1="382.00" x2="137.70" y2="382.00" stroke="#a8a8a8" stroke-width="0.8" stroke-dasharray="1,2"/>
<path fill="none" stroke="#2f5fa8" stroke-width="0.4" stroke-opacity="0.36" d="M43.9 378.0h1v1h-1zM43.0 361.0h1v1h-1zM42.8 386.1h1v1h-1zM43.9 380.0h1v1h-1zM48.3 394.2h1v1h-1zM45.8 371.3h1v1h-1zM45.7 395.5h1v1h-1zM43.7 373.8h1v1h-1zM45.4 386.0h1v1h-1zM43.7 367.6h1v1h-1zM44.5 390.4h1v1h-1zM47.1 384.6h1v1h-1z"/>
<path fill="none" stroke="#2f5fa8" stroke-width="0.4" stroke-opacity="0.36" d="M44.0 362.3h1v1h-1zM43.1 371.6h1v1h-1zM48.0 388.1h1v1h-1zM45.3 386.5h1v1h-1zM45.7 381.7h1v1h-1zM45.5 364.6h1v1h-1zM45.8 373.6h1v1h-1zM45.7 377.8h1v1h-1zM44.7 387.4h1v1h-1zM44.9 381.5h1v1h-1zM42.1 387.0h1v1h-1zM45.9 404.6h1v1h-1z"/>
<path fill="none" stroke="#2f5fa8" stroke-width="0.4" stroke-opacity="0.36" d="M44.2 373.4h1v1h-1zM45.1 395.1h1v1h-1zM43.7 374.3h1v1h-1zM45.1 391.1h1v1h-1zM47.3 395.1h1v1h-1zM44.7 378.0h1v1h-1zM44.0 414.0h1v1h-1zM44.0 392.5h1v1h-1zM45.3 386.0h1v1h-1zM45.6 407.7h1v1h-1zM45.5 380.5h1v1h-1zM45.2 377.8h1v1h-1z"/>
<path fill="none" stroke="#2f5fa8" stroke-width="0.4" stroke-opacity="0.36" d="M43.6 379.4h1v1h-1zM42.7 365.8h1v1h-1zM43.4 413.6h1v1h-1zM42.5 371.6h1v1h-1zM43.4 408.2h1v1h-1zM45.2 364.6h1v1h-1zM44.7 404.3h1v1h-1zM44.4 363.7h1v1h-1zM45.3 370.7h1v1h-1zM48.4 371.1h1v1h-1zM44.5 400.7h1v1h-1zM46.6 395.2h1v1h-1z"/>
<path fill="none" stroke="#2f5fa8" stroke-width="0.4" stroke-opacity="0.36" d="M44.6 390.0h1v1h-1zM45.2 394.3h1v1h-1zM44.1 389.6h1v1h-1zM45.5 388.4h1v1h-1zM42.1 366.4h1v1h-1zM46.1 382.3h1v1h-1zM43.7 392.9h1v1h-1zM47.1 390.6h1v1h-1zM43.5 382.9h1v1h-1zM46.2 410.4h1v1h-1zM44.5 403.0h1v1h-1zM45.2 396.7h1v1h-1z"/>
<path fill="none" stroke="#2f5fa8" stroke-width="0.4" stroke-opacity="0.36" d="M44.7 404.4h1v1h-1zM48.3 361.8h1v1h-1zM44.1 384.2h1v1h-1zM43.6 380.7h1v1h-1zM43.8 392.6h1v1h-1zM44.6 379.7h1v1h-1zM46.9 386.9h1v1h-1zM42.9 410.5h1v1h-1zM47.3 377.3h1v1h-1zM42.8 380.5h1v1h-1zM44.7 391.5h1v1h-1zM45.6 365.5h1v1h-1z"/>
<path fill="none" stroke="#2f5fa8" stroke-width="0.4" stroke-opacity="0.36" d="M44.4 403.6h1v1h-1zM45.3 390.7h1v1h-1zM43.9 379.0h1v1h-1zM42.3 389.7h1v1h-1zM44.1 384.3h1v1h-1zM45.6 392.7h1v1h-1zM45.8 408.9h1v1h-1zM45.2 377.4h1v1h-1zM43.9 389.2h1v1h-1zM43.7 358.9h1v1h-1zM47.3 394.6h1v1h-1zM43.2 412.7h1v1h-1z"/>
<path fill="none" stroke="#2f5fa8" stroke-width="0.4" stroke-opacity="0.36" d="M42.0 385.1h1v1h-1zM46.5 411.3h1v1h-1zM44.5 360.6h1v1h-1zM44.7 394.3h1v1h-1zM45.7 386.1h1v1h-1zM44.5 409.7h1v1h-1zM44.9 410.0h1v1h-1zM48.4 384.8h1v1h-1zM44.3 408.2h1v1h-1zM45.6 392.6h1v1h-1zM44.9 402.6h1v1h-1zM43.1 369.7h1v1h-1z"/>
<path fill="none" stroke="#2f5fa8" stroke-width="0.4" stroke-opacity="0.36" d="M44.4 393.5h1v1h-1zM47.3 391.2h1v1h-1zM46.2 393.5h1v1h-1zM43.8 394.2h1v1h-1zM45.1 378.6h1v1h-1zM43.9 412.7h1v1h-1zM44.3 408.4h1v1h-1zM42.6 380.4h1v1h-1zM43.9 390.3h1v1h-1zM45.9 356.4h1v1h-1zM43.2 381.8h1v1h-1zM44.1 378.0h1v1h-1z"/>
<path fill="none" stroke="#2f5fa8" stroke-width="0.4" stroke-opacity="0.36" d="M44.9 407.6h1v1h-1zM44.3 380.3h1v1h-1zM45.4 406.9h1v1h-1zM44.9 382.6h1v1h-1zM45.1 393.8h1v1h-1zM44.4 408.1h1v1h-1zM45.2 378.9h1v1h-1zM43.7 379.1h1v1h-1zM44.4 378.5h1v1h-1zM44.6 403.9h1v1h-1zM46.9 388.3h1v1h-1zM44.2 388.3h1v1h-1z"/>
<path fill="none" stroke="#2f5fa8" stroke-width="0.4" stroke-opacity="0.36" d="M48.1 394.1h1v1h-1zM45.2 392.3h1v1h-1zM46.0 388.7h1v1h-1zM45.8 383.1h1v1h-1zM46.3 377.6h1v1h-1zM42.7 403.7h1v1h-1zM45.7 407.1h1v1h-1zM44.9 391.5h1v1h-1zM44.3 385.1h1v1h-1zM45.3 388.5h1v1h-1zM43.8 374.6h1v1h-1zM45.4 369.0h1v1h-1z"/>
<path fill="none" stroke="#2f5fa8" stroke-width="0.4" stroke-opacity="0.36" d="M41.6 370.6h1v1h-1zM45.1 377.1h1v1h-1zM45.8 358.2h1v1h-1zM47.4 389.5h1v1h-1zM43.8 405.6h1v1h-1zM46.6 394.6h1v1h-1zM43.1 393.4h1v1h-1zM47.0 395.3h1v1h-1zM43.6 390.6h1v1h-1zM47.1 414.8h1v1h-1zM47.2 378.1h1v1h-1zM44.2 372.7h1v1h-1z"/>
<path fill="none" stroke="#2f5fa8" stroke-width="0.4" stroke-opacity="0.36" d="M46.2 375.4h1v1h-1zM45.0 375.7h1v1h-1zM43.4 393.0h1v1h-1zM43.1 410.8h1v1h-1zM46.6 393.6h1v1h-1zM45.9 383.4h1v1h-1zM46.7 409.8h1v1h-1zM47.6 405.1h1v1h-1zM43.2 389.1h1v1h-1zM44.3 368.4h1v1h-1zM44.5 366.0h1v1h-1zM45.0 359.8h1v1h-1z"/>
<path fill="none" stroke="#2f5fa8" stroke-width="0.4" stroke-opacity="0.36" d="M44.6 356.4h1v1h-1zM42.6 359.5h1v1h-1zM44.2 386.8h1v1h-1zM43.4 383.0h1v1h-1zM41.2 388.0h1v1h-1zM44.6 399.3h1v1h-1zM45.0 385.4h1v1h-1zM45.0 377.1h1v1h-1zM45.7 407.8h1v1h-1zM47.0 383.9h1v1h-1zM44.3 389.3h1v1h-1zM44.2 393.8h1v1h-1z"/>
<path fill="none" stroke="#2f5fa8" stroke-width="0.4" stroke-opacity="0.36" d="M45.6 374.8h1v1h-1zM44.4 409.2h1v1h-1zM44.7 393.1h1v1h-1zM47.9 389.9h1v1h-1zM43.6 382.5h1v1h-1zM43.8 397.9h1v1h-1zM43.7 381.6h1v1h-1zM44.6 367.0h1v1h-1zM43.8 402.9h1v1h-1zM41.2 384.7h1v1h-1zM46.2 408.1h1v1h-1zM42.3 360.2h1v1h-1z"/>
<path fill="none" stroke="#2f5fa8" stroke-width="0.4" stroke-opacity="0.36" d="M46.2 377.1h1v1h-1zM45.3 394.3h1v1h-1zM43.5 375.6h1v1h-1zM44.0 398.9h1v1h-1zM44.6 378.5h1v1h-1zM47.9 412.1h1v1h-1zM45.8 413.5h1v1h-1zM44.6 380.8h1v1h-1zM46.5 372.2h1v1h-1zM45.3 389.5h1v1h-1z"/>
<line x1="42.70" y1="428.90" x2="45.00" y2="428.90" stroke="#2f5fa8" stroke-width="1.3" stroke-opacity="0.9"/>
<line x1="45.60" y1="428.90" x2="48.10" y2="428.90" stroke="#2f5fa8" stroke-width="1.3" stroke-opacity="0.9"/>
<line x1="45.30" y1="356.60" x2="45.30" y2="416.30" stroke="#2f5fa8" stroke-width="1.3"/>
<rect x="42.70" y="377.20" width="5.4" height="18.50" fill="#2f5fa8" fill-opacity="0.55" stroke="#2f5fa8" stroke-width="1.4" rx="0.5"/>
<path fill="#fff" fill-opacity="0.8" d="M44.7 386.3h1.2v1h-1.2zM43.5 378.9h1.2v1h-1.2zM43.7 382.5h1.2v1h-1.2zM44.1 382.9h1.2v1h-1.2zM44.8 393.7h1.2v1h-1.2zM44.8 386.3h1.2v1h-1.2zM44.6 390.1h1.2v1h-1.2zM45.3 391.2h1.2v1h-1.2zM44.4 390.8h1.2v1h-1.2z"/>
<line x1="42.70" y1="386.00" x2="48.10" y2="386.00" stroke="#2f5fa8" stroke-width="1.4"/>
<path fill="none" stroke="#d9413a" stroke-width="0.4" stroke-opacity="0.36" d="M67.7 384.0h1v1h-1zM67.7 398.1h1v1h-1zM67.9 372.7h1v1h-1zM67.5 371.0h1v1h-1zM69.0 420.6h1v1h-1zM67.6 400.1h1v1h-1zM67.0 379.8h1v1h-1zM69.9 384.2h1v1h-1zM69.8 423.2h1v1h-1zM70.2 378.8h1v1h-1zM69.3 425.7h1v1h-1zM67.1 377.8h1v1h-1z"/>
<path fill="none" stroke="#d9413a" stroke-width="0.4" stroke-opacity="0.36" d="M67.6 420.8h1v1h-1zM66.9 410.2h1v1h-1zM68.3 389.6h1v1h-1zM68.7 411.6h1v1h-1zM71.0 392.7h1v1h-1zM69.2 406.0h1v1h-1zM68.8 384.6h1v1h-1zM67.8 395.9h1v1h-1zM70.0 372.8h1v1h-1zM68.5 395.8h1v1h-1zM67.9 386.4h1v1h-1zM70.3 424.1h1v1h-1z"/>
<path fill="none" stroke="#d9413a" stroke-width="0.4" stroke-opacity="0.36" d="M68.1 364.9h1v1h-1zM68.9 390.0h1v1h-1zM65.1 377.1h1v1h-1zM69.9 372.6h1v1h-1zM66.7 379.3h1v1h-1zM69.9 401.5h1v1h-1zM70.7 365.6h1v1h-1zM68.1 388.3h1v1h-1zM67.6 384.1h1v1h-1zM68.2 396.4h1v1h-1zM68.0 407.8h1v1h-1zM67.0 367.1h1v1h-1z"/>
<path fill="none" stroke="#d9413a" stroke-width="0.4" stroke-opacity="0.36" d="M69.2 365.1h1v1h-1zM68.3 394.2h1v1h-1zM70.5 389.3h1v1h-1zM68.3 384.4h1v1h-1zM67.7 389.5h1v1h-1zM70.2 424.1h1v1h-1zM67.1 377.9h1v1h-1zM68.8 390.7h1v1h-1zM67.9 393.6h1v1h-1zM70.0 380.9h1v1h-1zM71.7 376.3h1v1h-1zM72.1 366.0h1v1h-1z"/>
<path fill="none" stroke="#d9413a" stroke-width="0.4" stroke-opacity="0.36" d="M68.7 386.5h1v1h-1zM70.1 399.3h1v1h-1zM68.3 428.1h1v1h-1zM70.5 380.7h1v1h-1zM71.3 362.6h1v1h-1zM65.8 402.8h1v1h-1zM69.0 416.9h1v1h-1zM66.2 409.8h1v1h-1zM70.4 380.9h1v1h-1zM68.9 419.0h1v1h-1zM69.2 423.2h1v1h-1zM69.1 368.4h1v1h-1z"/>
<path fill="none" stroke="#d9413a" stroke-width="0.4" stroke-opacity="0.36" d="M66.9 397.1h1v1h-1zM70.0 388.9h1v1h-1zM69.7 396.5h1v1h-1zM72.3 412.4h1v1h-1zM70.8 419.3h1v1h-1zM67.9 370.1h1v1h-1zM69.3 382.6h1v1h-1zM72.1 374.1h1v1h-1zM70.8 364.3h1v1h-1zM70.1 376.3h1v1h-1zM68.9 384.8h1v1h-1zM69.3 420.9h1v1h-1z"/>
<path fill="none" stroke="#d9413a" stroke-width="0.4" stroke-opacity="0.36" d="M66.4 400.5h1v1h-1zM67.3 368.3h1v1h-1zM66.4 419.6h1v1h-1zM71.5 404.6h1v1h-1zM68.7 360.0h1v1h-1zM67.8 383.4h1v1h-1zM68.8 411.4h1v1h-1zM72.2 357.1h1v1h-1zM65.1 370.1h1v1h-1zM68.4 400.8h1v1h-1zM65.4 360.6h1v1h-1zM66.5 419.1h1v1h-1z"/>
<path fill="none" stroke="#d9413a" stroke-width="0.4" stroke-opacity="0.36" d="M66.9 383.6h1v1h-1zM70.4 393.0h1v1h-1zM72.3 364.6h1v1h-1zM69.9 420.3h1v1h-1zM66.7 386.5h1v1h-1zM69.4 370.4h1v1h-1zM68.5 382.7h1v1h-1zM68.4 381.6h1v1h-1zM67.5 403.7h1v1h-1zM69.2 403.9h1v1h-1zM67.1 393.3h1v1h-1zM69.1 409.9h1v1h-1z"/>
<path fill="none" stroke="#d9413a" stroke-width="0.4" stroke-opacity="0.36" d="M71.3 402.1h1v1h-1zM67.4 359.7h1v1h-1zM69.3 426.8h1v1h-1zM70.6 386.6h1v1h-1zM70.5 396.5h1v1h-1zM71.4 387.8h1v1h-1zM68.5 391.5h1v1h-1zM69.5 406.3h1v1h-1zM67.4 413.9h1v1h-1zM69.9 388.0h1v1h-1zM67.8 384.6h1v1h-1zM71.3 397.8h1v1h-1z"/>
<path fill="none" stroke="#d9413a" stroke-width="0.4" stroke-opacity="0.36" d="M68.5 381.0h1v1h-1zM69.8 408.7h1v1h-1zM70.4 400.9h1v1h-1zM71.3 404.6h1v1h-1zM70.8 393.4h1v1h-1zM71.9 397.0h1v1h-1zM68.5 395.4h1v1h-1zM67.1 398.8h1v1h-1zM70.1 413.4h1v1h-1zM68.2 400.2h1v1h-1zM67.3 415.7h1v1h-1zM67.4 385.3h1v1h-1z"/>
<path fill="none" stroke="#d9413a" stroke-width="0.4" stroke-opacity="0.36" d="M71.6 388.6h1v1h-1zM68.4 378.3h1v1h-1zM70.1 398.2h1v1h-1zM69.0 374.6h1v1h-1zM69.2 405.8h1v1h-1zM69.6 410.5h1v1h-1zM67.5 404.3h1v1h-1zM69.8 380.5h1v1h-1zM69.2 392.1h1v1h-1zM68.3 393.1h1v1h-1zM70.4 401.6h1v1h-1zM66.6 418.9h1v1h-1z"/>
<path fill="none" stroke="#d9413a" stroke-width="0.4" stroke-opacity="0.36" d="M68.2 386.5h1v1h-1zM70.8 367.3h1v1h-1zM67.7 389.2h1v1h-1zM69.2 426.6h1v1h-1zM66.6 389.3h1v1h-1zM68.8 414.0h1v1h-1zM67.9 390.4h1v1h-1zM68.2 378.4h1v1h-1zM68.5 387.8h1v1h-1zM70.0 413.7h1v1h-1zM70.4 420.4h1v1h-1zM67.1 403.1h1v1h-1z"/>
<path fill="none" stroke="#d9413a" stroke-width="0.4" stroke-opacity="0.36" d="M70.0 369.5h1v1h-1zM68.3 411.0h1v1h-1zM65.1 420.9h1v1h-1zM70.9 387.2h1v1h-1zM68.1 394.0h1v1h-1zM67.3 379.4h1v1h-1zM69.3 364.6h1v1h-1zM67.3 381.6h1v1h-1zM68.9 388.5h1v1h-1zM68.6 380.4h1v1h-1zM69.5 385.5h1v1h-1zM67.1 387.0h1v1h-1z"/>
<path fill="none" stroke="#d9413a" stroke-width="0.4" stroke-opacity="0.36" d="M67.3 420.1h1v1h-1zM68.9 398.6h1v1h-1zM69.7 372.1h1v1h-1zM66.7 403.3h1v1h-1zM67.6 387.9h1v1h-1zM69.5 379.7h1v1h-1zM66.8 422.8h1v1h-1zM67.0 361.9h1v1h-1zM68.7 370.2h1v1h-1zM67.4 422.6h1v1h-1zM68.8 383.5h1v1h-1zM69.2 373.3h1v1h-1z"/>
<path fill="none" stroke="#d9413a" stroke-width="0.4" stroke-opacity="0.36" d="M67.1 362.4h1v1h-1zM68.7 362.2h1v1h-1zM70.2 377.1h1v1h-1zM67.7 410.9h1v1h-1zM67.9 395.0h1v1h-1zM66.0 423.6h1v1h-1zM66.9 414.9h1v1h-1zM68.9 402.6h1v1h-1zM69.0 386.6h1v1h-1zM68.9 397.3h1v1h-1zM68.8 424.3h1v1h-1zM69.2 370.1h1v1h-1z"/>
<path fill="none" stroke="#d9413a" stroke-width="0.4" stroke-opacity="0.36" d="M68.8 395.4h1v1h-1zM69.0 426.9h1v1h-1zM69.7 384.0h1v1h-1zM70.6 402.2h1v1h-1zM69.5 400.7h1v1h-1zM67.2 399.0h1v1h-1zM67.8 379.1h1v1h-1zM70.4 379.1h1v1h-1zM68.1 364.5h1v1h-1zM65.5 375.2h1v1h-1z"/>
<line x1="66.60" y1="428.90" x2="68.90" y2="428.90" stroke="#d9413a" stroke-width="1.3" stroke-opacity="0.9"/>
<line x1="69.50" y1="428.90" x2="72.00" y2="428.90" stroke="#d9413a" stroke-width="1.3" stroke-opacity="0.9"/>
<line x1="69.20" y1="357.20" x2="69.20" y2="429.00" stroke="#d9413a" stroke-width="1.3"/>
<rect x="66.60" y="377.60" width="5.4" height="27.60" fill="#d9413a" fill-opacity="0.35" stroke="#d9413a" stroke-width="1.4" rx="0.5"/>
<path fill="#fff" fill-opacity="0.8" d="M68.7 392.8h1.2v1h-1.2zM67.6 399.1h1.2v1h-1.2zM68.0 383.8h1.2v1h-1.2zM68.4 402.7h1.2v1h-1.2zM67.9 391.6h1.2v1h-1.2zM69.1 402.1h1.2v1h-1.2zM67.5 393.2h1.2v1h-1.2zM69.7 379.6h1.2v1h-1.2zM68.6 384.9h1.2v1h-1.2zM68.5 399.7h1.2v1h-1.2zM68.3 401.6h1.2v1h-1.2zM69.3 383.5h1.2v1h-1.2zM69.3 388.3h1.2v1h-1.2z"/>
<line x1="66.60" y1="388.20" x2="72.00" y2="388.20" stroke="#d9413a" stroke-width="1.4"/>
<path fill="none" stroke="#2f5fa8" stroke-width="0.4" stroke-opacity="0.36" d="M102.0 380.8h1v1h-1zM99.4 362.0h1v1h-1zM98.9 379.3h1v1h-1zM98.6 367.0h1v1h-1zM98.4 377.4h1v1h-1zM98.3 382.3h1v1h-1zM98.0 374.9h1v1h-1zM100.4 382.8h1v1h-1zM101.2 356.9h1v1h-1zM97.5 377.8h1v1h-1zM100.2 368.3h1v1h-1zM101.3 404.0h1v1h-1z"/>
<path fill="none" stroke="#2f5fa8" stroke-width="0.4" stroke-opacity="0.36" d="M96.6 383.1h1v1h-1zM98.9 395.4h1v1h-1zM98.9 379.3h1v1h-1zM100.7 365.2h1v1h-1zM100.9 357.9h1v1h-1zM97.7 375.6h1v1h-1zM98.3 359.9h1v1h-1zM99.4 359.4h1v1h-1zM100.3 388.3h1v1h-1zM101.3 365.0h1v1h-1zM98.0 361.4h1v1h-1zM98.6 402.5h1v1h-1z"/>
<path fill="none" stroke="#2f5fa8" stroke-width="0.4" stroke-opacity="0.36" d="M101.3 374.3h1v1h-1zM101.3 387.3h1v1h-1zM96.3 403.4h1v1h-1zM100.2 386.4h1v1h-1zM99.3 383.8h1v1h-1zM98.7 380.0h1v1h-1zM103.0 378.9h1v1h-1zM98.9 377.9h1v1h-1zM97.0 400.5h1v1h-1zM99.1 394.4h1v1h-1zM102.1 398.4h1v1h-1zM97.2 401.9h1v1h-1z"/>
<path fill="none" stroke="#2f5fa8" stroke-width="0.4" stroke-opacity="0.36" d="M96.7 375.9h1v1h-1zM100.3 380.8h1v1h-1zM98.3 387.0h1v1h-1zM98.9 361.0h1v1h-1zM99.0 376.9h1v1h-1zM99.7 383.7h1v1h-1zM99.0 368.1h1v1h-1zM101.1 377.3h1v1h-1zM99.7 390.2h1v1h-1zM98.5 376.4h1v1h-1zM101.7 361.9h1v1h-1zM100.3 410.1h1v1h-1z"/>
<path fill="none" stroke="#2f5fa8" stroke-width="0.4" stroke-opacity="0.36" d="M100.6 383.6h1v1h-1zM101.1 398.0h1v1h-1zM99.4 366.8h1v1h-1zM100.7 392.0h1v1h-1zM101.6 380.2h1v1h-1zM99.5 385.9h1v1h-1zM97.2 394.5h1v1h-1zM99.4 365.2h1v1h-1zM101.1 378.5h1v1h-1zM99.3 364.1h1v1h-1zM97.9 362.3h1v1h-1zM100.1 380.8h1v1h-1z"/>
<path fill="none" stroke="#2f5fa8" stroke-width="0.4" stroke-opacity="0.36" d="M101.1 365.9h1v1h-1zM99.6 378.4h1v1h-1zM100.3 402.5h1v1h-1zM99.8 382.1h1v1h-1zM98.6 409.2h1v1h-1zM100.2 361.5h1v1h-1zM98.3 406.0h1v1h-1zM101.1 384.6h1v1h-1zM100.8 370.5h1v1h-1zM100.9 377.4h1v1h-1zM101.5 368.1h1v1h-1zM97.2 381.8h1v1h-1z"/>
<path fill="none" stroke="#2f5fa8" stroke-width="0.4" stroke-opacity="0.36" d="M97.7 382.5h1v1h-1zM100.1 377.3h1v1h-1zM100.4 386.5h1v1h-1zM98.5 359.0h1v1h-1zM97.5 386.1h1v1h-1zM99.6 387.3h1v1h-1zM97.9 380.0h1v1h-1zM99.3 382.5h1v1h-1zM100.4 379.8h1v1h-1zM96.9 386.9h1v1h-1zM101.4 374.4h1v1h-1zM97.7 378.4h1v1h-1z"/>
<path fill="none" stroke="#2f5fa8" stroke-width="0.4" stroke-opacity="0.36" d="M99.1 387.8h1v1h-1zM100.1 377.7h1v1h-1zM99.6 391.2h1v1h-1zM99.2 404.0h1v1h-1zM97.0 379.7h1v1h-1zM98.1 362.7h1v1h-1zM99.0 389.7h1v1h-1zM98.8 363.0h1v1h-1zM102.9 374.4h1v1h-1zM100.7 396.7h1v1h-1zM100.2 392.2h1v1h-1zM98.8 388.0h1v1h-1z"/>
<path fill="none" stroke="#2f5fa8" stroke-width="0.4" stroke-opacity="0.36" d="M100.7 364.5h1v1h-1zM100.5 384.9h1v1h-1zM100.4 386.8h1v1h-1zM95.8 375.3h1v1h-1zM102.2 379.1h1v1h-1zM97.9 387.3h1v1h-1zM99.6 387.4h1v1h-1zM97.7 378.5h1v1h-1zM98.3 385.5h1v1h-1zM97.7 375.9h1v1h-1zM99.7 380.5h1v1h-1zM101.4 390.9h1v1h-1z"/>
<path fill="none" stroke="#2f5fa8" stroke-width="0.4" stroke-opacity="0.36" d="M95.8 386.9h1v1h-1zM99.8 390.7h1v1h-1zM100.1 384.3h1v1h-1zM101.7 374.5h1v1h-1zM98.9 380.0h1v1h-1zM100.0 386.1h1v1h-1zM96.2 386.2h1v1h-1zM100.0 393.1h1v1h-1zM99.7 382.9h1v1h-1zM99.6 382.1h1v1h-1zM97.8 375.1h1v1h-1zM97.3 403.5h1v1h-1z"/>
<path fill="none" stroke="#2f5fa8" stroke-width="0.4" stroke-opacity="0.36" d="M99.4 392.0h1v1h-1zM100.1 403.7h1v1h-1zM100.6 384.1h1v1h-1zM98.6 374.6h1v1h-1zM99.4 375.4h1v1h-1zM99.0 378.7h1v1h-1zM99.8 358.6h1v1h-1zM100.5 394.9h1v1h-1zM98.6 403.4h1v1h-1zM99.0 405.5h1v1h-1zM101.5 379.9h1v1h-1zM101.2 358.3h1v1h-1z"/>
<path fill="none" stroke="#2f5fa8" stroke-width="0.4" stroke-opacity="0.36" d="M99.5 384.3h1v1h-1zM99.5 408.2h1v1h-1zM100.3 383.3h1v1h-1zM99.7 401.0h1v1h-1zM100.1 380.1h1v1h-1zM99.9 393.1h1v1h-1zM98.4 369.4h1v1h-1zM99.9 386.9h1v1h-1zM99.8 391.7h1v1h-1zM97.0 387.4h1v1h-1zM98.1 407.0h1v1h-1zM98.6 378.6h1v1h-1z"/>
<path fill="none" stroke="#2f5fa8" stroke-width="0.4" stroke-opacity="0.36" d="M97.4 386.0h1v1h-1zM99.3 374.3h1v1h-1zM97.1 387.7h1v1h-1zM99.1 381.6h1v1h-1zM98.5 366.9h1v1h-1zM101.6 359.5h1v1h-1zM96.1 375.9h1v1h-1zM98.6 404.6h1v1h-1zM98.9 387.7h1v1h-1zM99.9 380.8h1v1h-1zM100.1 365.1h1v1h-1zM98.5 380.1h1v1h-1z"/>
<path fill="none" stroke="#2f5fa8" stroke-width="0.4" stroke-opacity="0.36" d="M98.7 396.4h1v1h-1zM97.2 388.6h1v1h-1zM98.0 374.7h1v1h-1zM99.1 362.3h1v1h-1zM101.4 376.2h1v1h-1zM97.7 368.1h1v1h-1zM99.2 377.5h1v1h-1zM101.2 378.8h1v1h-1zM100.2 396.6h1v1h-1zM100.1 373.9h1v1h-1zM100.6 384.3h1v1h-1zM99.0 404.6h1v1h-1z"/>
<path fill="none" stroke="#2f5fa8" stroke-width="0.4" stroke-opacity="0.36" d="M100.2 400.4h1v1h-1zM101.3 405.6h1v1h-1zM97.4 357.6h1v1h-1zM98.3 405.4h1v1h-1zM96.9 400.5h1v1h-1zM98.7 404.3h1v1h-1zM98.8 392.2h1v1h-1zM98.6 381.3h1v1h-1zM98.4 366.8h1v1h-1zM99.8 376.9h1v1h-1zM98.8 382.9h1v1h-1zM100.8 358.4h1v1h-1z"/>
<path fill="none" stroke="#2f5fa8" stroke-width="0.4" stroke-opacity="0.36" d="M100.3 386.4h1v1h-1zM99.9 380.6h1v1h-1zM98.5 363.6h1v1h-1zM102.3 395.8h1v1h-1zM98.5 370.3h1v1h-1zM99.3 358.0h1v1h-1zM99.3 381.0h1v1h-1zM99.9 374.3h1v1h-1zM100.3 371.9h1v1h-1zM98.5 387.0h1v1h-1z"/>
<line x1="97.30" y1="428.90" x2="99.60" y2="428.90" stroke="#2f5fa8" stroke-width="1.3" stroke-opacity="0.9"/>
<line x1="100.20" y1="428.90" x2="102.70" y2="428.90" stroke="#2f5fa8" stroke-width="1.3" stroke-opacity="0.9"/>
<line x1="99.90" y1="355.90" x2="99.90" y2="410.80" stroke="#2f5fa8" stroke-width="1.3"/>
<rect x="97.30" y="374.30" width="5.4" height="15.50" fill="#2f5fa8" fill-opacity="0.55" stroke="#2f5fa8" stroke-width="1.4" rx="0.5"/>
<path fill="#fff" fill-opacity="0.8" d="M98.0 380.0h1.2v1h-1.2zM98.1 381.7h1.2v1h-1.2zM99.1 381.6h1.2v1h-1.2zM100.1 385.7h1.2v1h-1.2zM99.0 379.5h1.2v1h-1.2zM99.3 387.2h1.2v1h-1.2zM98.6 379.9h1.2v1h-1.2z"/>
<line x1="97.30" y1="382.00" x2="102.70" y2="382.00" stroke="#2f5fa8" stroke-width="1.4"/>
<path fill="none" stroke="#d9413a" stroke-width="0.4" stroke-opacity="0.36" d="M121.0 375.8h1v1h-1zM123.0 408.8h1v1h-1zM125.0 403.2h1v1h-1zM125.1 383.1h1v1h-1zM122.7 389.2h1v1h-1zM126.1 363.5h1v1h-1zM126.7 392.4h1v1h-1zM124.3 375.0h1v1h-1zM124.9 385.7h1v1h-1zM123.0 395.9h1v1h-1zM119.8 402.7h1v1h-1zM123.1 372.2h1v1h-1z"/>
<path fill="none" stroke="#d9413a" stroke-width="0.4" stroke-opacity="0.36" d="M124.5 372.7h1v1h-1zM125.2 361.3h1v1h-1zM124.6 380.9h1v1h-1zM124.3 394.0h1v1h-1zM121.0 399.5h1v1h-1zM120.8 395.1h1v1h-1zM123.0 369.0h1v1h-1zM123.0 400.6h1v1h-1zM120.2 382.7h1v1h-1zM123.8 389.4h1v1h-1zM125.2 405.5h1v1h-1zM125.1 365.2h1v1h-1z"/>
<path fill="none" stroke="#d9413a" stroke-width="0.4" stroke-opacity="0.36" d="M121.7 377.6h1v1h-1zM124.2 384.2h1v1h-1zM123.7 386.2h1v1h-1zM122.4 373.5h1v1h-1zM123.7 381.4h1v1h-1zM124.6 379.4h1v1h-1zM122.6 379.8h1v1h-1zM124.7 373.6h1v1h-1zM124.1 383.5h1v1h-1zM124.1 370.8h1v1h-1zM122.2 394.4h1v1h-1zM122.8 373.1h1v1h-1z"/>
<path fill="none" stroke="#d9413a" stroke-width="0.4" stroke-opacity="0.36" d="M123.3 392.0h1v1h-1zM125.6 386.0h1v1h-1zM123.1 393.2h1v1h-1zM122.1 403.7h1v1h-1zM124.0 382.1h1v1h-1zM122.4 377.4h1v1h-1zM124.2 409.0h1v1h-1zM122.7 375.9h1v1h-1zM122.1 385.2h1v1h-1zM120.5 393.6h1v1h-1zM123.2 411.6h1v1h-1zM123.5 408.1h1v1h-1z"/>
<path fill="none" stroke="#d9413a" stroke-width="0.4" stroke-opacity="0.36" d="M122.7 381.1h1v1h-1zM126.7 377.0h1v1h-1zM123.7 363.5h1v1h-1zM122.7 375.9h1v1h-1zM123.3 389.0h1v1h-1zM123.5 392.3h1v1h-1zM125.2 366.7h1v1h-1zM123.0 366.7h1v1h-1zM123.7 393.1h1v1h-1zM123.4 389.7h1v1h-1zM123.7 368.9h1v1h-1zM122.4 390.7h1v1h-1z"/>
<path fill="none" stroke="#d9413a" stroke-width="0.4" stroke-opacity="0.36" d="M122.5 393.1h1v1h-1zM121.5 369.7h1v1h-1zM124.9 397.8h1v1h-1zM126.7 394.4h1v1h-1zM123.0 382.6h1v1h-1zM123.2 383.0h1v1h-1zM125.3 412.9h1v1h-1zM122.9 385.1h1v1h-1zM125.5 405.2h1v1h-1zM122.7 404.2h1v1h-1zM120.4 373.2h1v1h-1zM126.7 406.7h1v1h-1z"/>
<path fill="none" stroke="#d9413a" stroke-width="0.4" stroke-opacity="0.36" d="M123.9 403.3h1v1h-1zM126.7 379.1h1v1h-1zM124.6 400.6h1v1h-1zM122.6 372.2h1v1h-1zM123.0 378.1h1v1h-1zM122.4 376.1h1v1h-1zM123.0 402.1h1v1h-1zM121.0 375.3h1v1h-1zM123.1 377.3h1v1h-1zM122.5 376.8h1v1h-1zM121.7 388.4h1v1h-1zM121.4 398.9h1v1h-1z"/>
<path fill="none" stroke="#d9413a" stroke-width="0.4" stroke-opacity="0.36" d="M121.1 392.1h1v1h-1zM124.1 376.9h1v1h-1zM120.0 378.4h1v1h-1zM122.2 388.2h1v1h-1zM124.9 383.0h1v1h-1zM123.1 367.4h1v1h-1zM123.9 382.7h1v1h-1zM122.3 406.7h1v1h-1zM122.1 381.6h1v1h-1zM120.8 364.6h1v1h-1zM125.7 402.5h1v1h-1zM122.2 379.3h1v1h-1z"/>
<path fill="none" stroke="#d9413a" stroke-width="0.4" stroke-opacity="0.36" d="M121.7 392.6h1v1h-1zM123.0 389.9h1v1h-1zM123.9 377.3h1v1h-1zM124.1 374.1h1v1h-1zM121.2 371.5h1v1h-1zM126.7 381.8h1v1h-1zM121.5 383.8h1v1h-1zM123.0 402.9h1v1h-1zM124.5 379.4h1v1h-1zM124.0 387.3h1v1h-1zM124.1 377.3h1v1h-1zM124.5 392.8h1v1h-1z"/>
<path fill="none" stroke="#d9413a" stroke-width="0.4" stroke-opacity="0.36" d="M121.9 391.7h1v1h-1zM122.5 402.3h1v1h-1zM124.7 375.8h1v1h-1zM125.1 377.7h1v1h-1zM123.9 386.8h1v1h-1zM120.6 361.9h1v1h-1zM123.1 380.7h1v1h-1zM123.9 393.1h1v1h-1zM124.3 379.3h1v1h-1zM122.0 381.7h1v1h-1zM121.8 375.9h1v1h-1zM122.4 386.2h1v1h-1z"/>
<path fill="none" stroke="#d9413a" stroke-width="0.4" stroke-opacity="0.36" d="M122.1 375.0h1v1h-1zM121.2 412.2h1v1h-1zM122.6 411.3h1v1h-1zM124.9 397.1h1v1h-1zM125.7 399.6h1v1h-1zM121.8 406.0h1v1h-1zM123.0 365.5h1v1h-1zM122.8 392.6h1v1h-1zM122.9 371.4h1v1h-1zM123.3 379.4h1v1h-1zM125.0 393.5h1v1h-1zM125.3 377.5h1v1h-1z"/>
<path fill="none" stroke="#d9413a" stroke-width="0.4" stroke-opacity="0.36" d="M120.9 404.1h1v1h-1zM121.0 389.5h1v1h-1zM124.5 380.8h1v1h-1zM123.9 376.7h1v1h-1zM121.4 385.0h1v1h-1zM120.3 361.7h1v1h-1zM120.5 379.3h1v1h-1zM121.7 363.6h1v1h-1zM120.4 409.0h1v1h-1zM122.1 392.8h1v1h-1zM125.4 370.8h1v1h-1zM119.5 393.4h1v1h-1z"/>
<path fill="none" stroke="#d9413a" stroke-width="0.4" stroke-opacity="0.36" d="M122.9 388.1h1v1h-1zM124.8 390.2h1v1h-1zM124.6 394.6h1v1h-1zM123.6 413.4h1v1h-1zM123.1 371.6h1v1h-1zM121.3 412.1h1v1h-1zM122.5 397.1h1v1h-1zM126.5 399.1h1v1h-1zM122.2 385.6h1v1h-1zM123.0 378.4h1v1h-1zM125.0 367.4h1v1h-1zM125.4 389.1h1v1h-1z"/>
<path fill="none" stroke="#d9413a" stroke-width="0.4" stroke-opacity="0.36" d="M123.1 383.2h1v1h-1zM123.7 380.9h1v1h-1zM124.0 384.1h1v1h-1zM123.3 380.7h1v1h-1zM121.9 370.1h1v1h-1zM125.6 381.6h1v1h-1zM123.4 406.0h1v1h-1zM122.0 404.6h1v1h-1zM123.9 397.3h1v1h-1zM120.9 376.2h1v1h-1zM122.6 388.5h1v1h-1zM124.5 409.0h1v1h-1z"/>
<path fill="none" stroke="#d9413a" stroke-width="0.4" stroke-opacity="0.36" d="M121.7 404.2h1v1h-1zM123.4 375.9h1v1h-1zM125.7 407.3h1v1h-1zM122.8 413.0h1v1h-1zM120.9 383.3h1v1h-1zM119.7 398.8h1v1h-1zM123.8 378.8h1v1h-1zM122.1 399.1h1v1h-1zM126.0 390.9h1v1h-1zM120.2 391.9h1v1h-1zM123.2 373.5h1v1h-1zM122.8 388.7h1v1h-1z"/>
<path fill="none" stroke="#d9413a" stroke-width="0.4" stroke-opacity="0.36" d="M122.9 387.3h1v1h-1zM125.2 402.3h1v1h-1zM123.1 366.7h1v1h-1zM122.8 373.0h1v1h-1zM122.9 367.1h1v1h-1zM122.4 383.7h1v1h-1zM124.6 396.6h1v1h-1zM122.8 388.9h1v1h-1zM123.7 372.3h1v1h-1zM123.6 373.6h1v1h-1zM123.9 418.5h1v1h-1zM123.8 422.4h1v1h-1z"/>
<line x1="121.00" y1="428.90" x2="123.30" y2="428.90" stroke="#d9413a" stroke-width="1.3" stroke-opacity="0.9"/>
<line x1="123.90" y1="428.90" x2="126.40" y2="428.90" stroke="#d9413a" stroke-width="1.3" stroke-opacity="0.9"/>
<line x1="123.60" y1="361.00" x2="123.60" y2="415.20" stroke="#d9413a" stroke-width="1.3"/>
<rect x="121.00" y="375.40" width="5.4" height="18.80" fill="#d9413a" fill-opacity="0.35" stroke="#d9413a" stroke-width="1.4" rx="0.5"/>
<path fill="#fff" fill-opacity="0.8" d="M122.5 376.1h1.2v1h-1.2zM122.1 385.9h1.2v1h-1.2zM123.4 387.2h1.2v1h-1.2zM122.4 379.3h1.2v1h-1.2zM123.3 378.5h1.2v1h-1.2zM124.2 378.6h1.2v1h-1.2zM124.1 388.0h1.2v1h-1.2zM122.7 387.2h1.2v1h-1.2zM124.0 389.3h1.2v1h-1.2z"/>
<line x1="121.00" y1="384.20" x2="126.40" y2="384.20" stroke="#d9413a" stroke-width="1.4"/>
<line x1="31.40" y1="356.60" x2="31.40" y2="433.20" stroke="#1a1a1a" stroke-width="1.5"/>
<rect x="30.20" y="420.10" width="2.4" height="2.8" fill="#fff"/>
<line x1="28.70" y1="421.60" x2="34.10" y2="418.80" stroke="#1a1a1a" stroke-width="0.95"/>
<line x1="28.70" y1="424.60" x2="34.10" y2="421.80" stroke="#1a1a1a" stroke-width="0.95"/>
<line x1="31.40" y1="432.50" x2="82.90" y2="432.50" stroke="#1a1a1a" stroke-width="1.4"/>
<line x1="85.20" y1="432.50" x2="137.70" y2="432.50" stroke="#1a1a1a" stroke-width="1.4"/>
<line x1="28.40" y1="428.90" x2="31.40" y2="428.90" stroke="#1a1a1a" stroke-width="1.2"/>
<text x="25.60" y="431.85" font-size="8.2" text-anchor="end" fill="#1a1a1a" textLength="4.5" lengthAdjust="spacingAndGlyphs" stroke="#1a1a1a" stroke-width="0.22">0</text>
<line x1="28.40" y1="408.70" x2="31.40" y2="408.70" stroke="#1a1a1a" stroke-width="1.2"/>
<text x="25.60" y="411.65" font-size="8.2" text-anchor="end" fill="#1a1a1a" textLength="4.5" lengthAdjust="spacingAndGlyphs" stroke="#1a1a1a" stroke-width="0.22">1</text>
<line x1="28.40" y1="388.30" x2="31.40" y2="388.30" stroke="#1a1a1a" stroke-width="1.2"/>
<text x="25.60" y="391.25" font-size="8.2" text-anchor="end" fill="#1a1a1a" textLength="4.5" lengthAdjust="spacingAndGlyphs" stroke="#1a1a1a" stroke-width="0.22">2</text>
<line x1="28.40" y1="368.30" x2="31.40" y2="368.30" stroke="#1a1a1a" stroke-width="1.2"/>
<text x="25.60" y="371.25" font-size="8.2" text-anchor="end" fill="#1a1a1a" textLength="4.5" lengthAdjust="spacingAndGlyphs" stroke="#1a1a1a" stroke-width="0.22">3</text>
<line x1="45.30" y1="432.50" x2="45.30" y2="435.50" stroke="#1a1a1a" stroke-width="1.2"/>
<text x="45.30" y="445.30" font-size="8.6" text-anchor="middle" fill="#1a1a1a" textLength="17.2" lengthAdjust="spacingAndGlyphs" stroke="#1a1a1a" stroke-width="0.22">High</text>
<line x1="69.20" y1="432.50" x2="69.20" y2="435.50" stroke="#1a1a1a" stroke-width="1.2"/>
<text x="69.20" y="445.30" font-size="8.6" text-anchor="middle" fill="#1a1a1a" textLength="14.2" lengthAdjust="spacingAndGlyphs" stroke="#1a1a1a" stroke-width="0.22">Low</text>
<line x1="99.90" y1="432.50" x2="99.90" y2="435.50" stroke="#1a1a1a" stroke-width="1.2"/>
<text x="99.90" y="445.30" font-size="8.6" text-anchor="middle" fill="#1a1a1a" textLength="17.2" lengthAdjust="spacingAndGlyphs" stroke="#1a1a1a" stroke-width="0.22">High</text>
<line x1="123.60" y1="432.50" x2="123.60" y2="435.50" stroke="#1a1a1a" stroke-width="1.2"/>
<text x="123.60" y="445.30" font-size="8.6" text-anchor="middle" fill="#1a1a1a" textLength="14.2" lengthAdjust="spacingAndGlyphs" stroke="#1a1a1a" stroke-width="0.22">Low</text>
<path d="M45.30,355.40 L45.30,352.20 L69.20,352.20 L69.20,355.40" stroke="#1a1a1a" stroke-width="1.3" fill="none"/>
<text x="57.25" y="352.70" font-size="8.4" text-anchor="middle" fill="#1a1a1a" textLength="6.4" lengthAdjust="spacingAndGlyphs" stroke="#1a1a1a" stroke-width="0.22">**</text>
<path d="M99.90,355.40 L99.90,352.20 L123.60,352.20 L123.60,355.40" stroke="#1a1a1a" stroke-width="1.3" fill="none"/>
<text x="111.75" y="352.70" font-size="8.4" text-anchor="middle" fill="#1a1a1a" textLength="3.2" lengthAdjust="spacingAndGlyphs" stroke="#1a1a1a" stroke-width="0.22">*</text>
<text x="84.20" y="330.00" font-size="10.2" text-anchor="middle" fill="#1a1a1a" textLength="19.0" lengthAdjust="spacingAndGlyphs" stroke="#1a1a1a" stroke-width="0.15">CD8</text>
<text x="57.40" y="341.60" font-size="9.3" text-anchor="middle" fill="#1a1a1a" textLength="35.3" lengthAdjust="spacingAndGlyphs" stroke="#1a1a1a" stroke-width="0.15">Day 100</text>
<text x="111.50" y="341.60" font-size="9.3" text-anchor="middle" fill="#1a1a1a" textLength="35.3" lengthAdjust="spacingAndGlyphs" stroke="#1a1a1a" stroke-width="0.15">Day 180</text>
<text x="83.80" y="457.00" font-size="9.2" text-anchor="middle" fill="#1a1a1a" textLength="95" lengthAdjust="spacingAndGlyphs" stroke="#1a1a1a" stroke-width="0.3">Peri-engraftment <tspan font-size="10.5">α</tspan>-diversity</text>
<text x="16.20" y="394.50" font-size="9.8" text-anchor="middle" fill="#1a1a1a" stroke="#1a1a1a" stroke-width="0.25" transform="rotate(-90 16.20 394.50)" textLength="66.5" lengthAdjust="spacingAndGlyphs">Log<tspan font-size="7" dy="2.4">10</tspan><tspan dy="-2.4"> (CD8 cells/µl)</tspan></text>
<line x1="32.50" y1="518.30" x2="82.90" y2="518.30" stroke="#a8a8a8" stroke-width="0.8" stroke-dasharray="1,2"/>
<line x1="87.10" y1="518.30" x2="137.30" y2="518.30" stroke="#a8a8a8" stroke-width="0.8" stroke-dasharray="1,2"/>
<line x1="32.50" y1="537.70" x2="82.90" y2="537.70" stroke="#a8a8a8" stroke-width="0.8" stroke-dasharray="1,2"/>
<line x1="87.10" y1="537.70" x2="137.30" y2="537.70" stroke="#a8a8a8" stroke-width="0.8" stroke-dasharray="1,2"/>
<path fill="none" stroke="#2f5fa8" stroke-width="0.4" stroke-opacity="0.36" d="M41.7 554.1h1v1h-1zM43.2 513.0h1v1h-1zM46.9 536.4h1v1h-1zM40.9 524.7h1v1h-1zM45.0 552.8h1v1h-1zM43.2 528.8h1v1h-1zM45.6 512.1h1v1h-1zM43.1 536.8h1v1h-1zM43.9 529.0h1v1h-1zM43.6 530.7h1v1h-1zM42.6 535.0h1v1h-1zM43.9 544.5h1v1h-1z"/>
<path fill="none" stroke="#2f5fa8" stroke-width="0.4" stroke-opacity="0.36" d="M45.2 554.3h1v1h-1zM45.0 533.7h1v1h-1zM44.8 520.6h1v1h-1zM43.3 548.4h1v1h-1zM43.6 523.8h1v1h-1zM44.9 524.0h1v1h-1zM45.0 536.4h1v1h-1zM43.9 516.3h1v1h-1zM47.7 514.4h1v1h-1zM45.6 559.9h1v1h-1zM43.4 522.5h1v1h-1zM47.3 535.2h1v1h-1z"/>
<path fill="none" stroke="#2f5fa8" stroke-width="0.4" stroke-opacity="0.36" d="M42.2 517.0h1v1h-1zM44.5 540.9h1v1h-1zM44.0 536.3h1v1h-1zM47.7 512.8h1v1h-1zM46.3 550.4h1v1h-1zM43.0 526.1h1v1h-1zM43.8 528.0h1v1h-1zM44.1 514.1h1v1h-1zM43.5 535.8h1v1h-1zM44.2 544.9h1v1h-1zM44.6 516.9h1v1h-1zM42.3 555.5h1v1h-1z"/>
<path fill="none" stroke="#2f5fa8" stroke-width="0.4" stroke-opacity="0.36" d="M45.2 542.3h1v1h-1zM44.7 560.0h1v1h-1zM43.1 525.0h1v1h-1zM42.4 528.0h1v1h-1zM42.2 543.6h1v1h-1zM45.4 542.8h1v1h-1zM45.6 537.8h1v1h-1zM46.0 514.5h1v1h-1zM45.0 533.8h1v1h-1zM41.7 544.0h1v1h-1zM40.8 517.5h1v1h-1zM44.2 518.3h1v1h-1z"/>
<path fill="none" stroke="#2f5fa8" stroke-width="0.4" stroke-opacity="0.36" d="M43.1 536.7h1v1h-1zM42.5 529.8h1v1h-1zM46.2 534.2h1v1h-1zM43.6 512.1h1v1h-1zM44.1 558.4h1v1h-1zM41.4 537.4h1v1h-1zM44.8 522.6h1v1h-1zM43.2 537.3h1v1h-1zM45.9 534.7h1v1h-1zM42.7 557.7h1v1h-1zM44.1 533.4h1v1h-1zM43.9 544.4h1v1h-1z"/>
<path fill="none" stroke="#2f5fa8" stroke-width="0.4" stroke-opacity="0.36" d="M47.4 548.5h1v1h-1zM42.9 525.9h1v1h-1zM44.6 536.6h1v1h-1zM44.1 538.1h1v1h-1zM41.1 518.7h1v1h-1zM44.3 514.6h1v1h-1zM43.7 538.3h1v1h-1zM45.6 532.2h1v1h-1zM44.5 556.6h1v1h-1zM45.0 519.4h1v1h-1zM42.1 555.2h1v1h-1zM44.5 526.4h1v1h-1z"/>
<path fill="none" stroke="#2f5fa8" stroke-width="0.4" stroke-opacity="0.36" d="M44.1 546.8h1v1h-1zM43.7 551.1h1v1h-1zM46.2 549.9h1v1h-1zM44.9 534.7h1v1h-1zM45.4 530.0h1v1h-1zM45.6 536.5h1v1h-1zM45.8 523.6h1v1h-1zM41.3 552.3h1v1h-1zM43.9 538.6h1v1h-1zM45.4 525.3h1v1h-1zM44.5 554.3h1v1h-1zM44.5 543.5h1v1h-1z"/>
<path fill="none" stroke="#2f5fa8" stroke-width="0.4" stroke-opacity="0.36" d="M44.4 518.1h1v1h-1zM43.8 556.2h1v1h-1zM44.8 542.4h1v1h-1zM45.3 543.9h1v1h-1zM43.0 538.5h1v1h-1zM45.7 529.3h1v1h-1zM44.7 536.2h1v1h-1zM45.7 551.4h1v1h-1zM43.6 526.3h1v1h-1zM44.3 533.9h1v1h-1zM44.4 521.6h1v1h-1zM43.1 530.1h1v1h-1z"/>
<path fill="none" stroke="#2f5fa8" stroke-width="0.4" stroke-opacity="0.36" d="M43.6 526.3h1v1h-1zM44.2 523.2h1v1h-1zM45.9 514.6h1v1h-1zM44.1 530.0h1v1h-1zM46.8 553.5h1v1h-1zM45.5 538.3h1v1h-1zM44.7 521.2h1v1h-1zM45.4 541.1h1v1h-1zM41.1 551.6h1v1h-1zM43.3 546.7h1v1h-1zM43.8 521.1h1v1h-1zM40.7 535.4h1v1h-1z"/>
<path fill="none" stroke="#2f5fa8" stroke-width="0.4" stroke-opacity="0.36" d="M45.7 532.3h1v1h-1zM42.7 559.4h1v1h-1zM47.1 514.2h1v1h-1zM44.1 530.0h1v1h-1zM46.4 540.2h1v1h-1zM44.5 518.9h1v1h-1zM43.8 545.7h1v1h-1zM42.0 525.2h1v1h-1zM46.6 530.0h1v1h-1zM43.8 543.2h1v1h-1zM45.7 526.0h1v1h-1zM46.3 550.9h1v1h-1z"/>
<path fill="none" stroke="#2f5fa8" stroke-width="0.4" stroke-opacity="0.36" d="M45.4 537.7h1v1h-1zM44.1 517.4h1v1h-1zM44.9 554.1h1v1h-1zM43.9 517.7h1v1h-1zM45.8 522.3h1v1h-1zM45.4 514.0h1v1h-1zM43.7 555.7h1v1h-1zM43.6 524.2h1v1h-1zM44.2 531.1h1v1h-1zM45.5 527.4h1v1h-1zM43.1 531.2h1v1h-1zM45.9 514.6h1v1h-1z"/>
<path fill="none" stroke="#2f5fa8" stroke-width="0.4" stroke-opacity="0.36" d="M43.3 558.2h1v1h-1zM43.5 545.0h1v1h-1zM43.3 523.3h1v1h-1zM45.5 514.4h1v1h-1zM42.3 524.7h1v1h-1zM45.1 526.3h1v1h-1zM42.0 555.5h1v1h-1zM43.1 532.3h1v1h-1zM45.6 525.3h1v1h-1zM43.9 547.3h1v1h-1zM44.8 526.0h1v1h-1zM44.1 540.3h1v1h-1z"/>
<path fill="none" stroke="#2f5fa8" stroke-width="0.4" stroke-opacity="0.36" d="M43.1 520.2h1v1h-1zM43.7 542.4h1v1h-1zM44.7 540.1h1v1h-1zM44.1 528.0h1v1h-1zM45.0 524.3h1v1h-1zM44.0 531.4h1v1h-1zM43.8 540.5h1v1h-1zM45.1 513.4h1v1h-1zM42.9 538.3h1v1h-1zM44.8 517.9h1v1h-1zM44.3 527.0h1v1h-1zM44.2 544.7h1v1h-1z"/>
<path fill="none" stroke="#2f5fa8" stroke-width="0.4" stroke-opacity="0.36" d="M45.7 528.1h1v1h-1zM44.0 543.6h1v1h-1zM44.4 555.3h1v1h-1zM44.8 544.1h1v1h-1zM45.1 512.3h1v1h-1zM44.5 534.1h1v1h-1zM46.1 550.5h1v1h-1zM42.0 549.3h1v1h-1zM43.5 526.8h1v1h-1zM45.6 532.3h1v1h-1zM43.8 545.6h1v1h-1zM47.7 527.9h1v1h-1z"/>
<path fill="none" stroke="#2f5fa8" stroke-width="0.4" stroke-opacity="0.36" d="M44.8 541.1h1v1h-1zM45.1 530.0h1v1h-1zM44.3 533.7h1v1h-1zM42.8 535.5h1v1h-1zM43.9 527.4h1v1h-1zM41.9 534.3h1v1h-1zM43.3 559.7h1v1h-1zM45.5 529.9h1v1h-1zM45.3 544.3h1v1h-1zM46.5 526.5h1v1h-1zM42.0 537.5h1v1h-1zM45.8 545.0h1v1h-1z"/>
<path fill="none" stroke="#2f5fa8" stroke-width="0.4" stroke-opacity="0.36" d="M42.3 528.5h1v1h-1zM45.6 526.9h1v1h-1zM44.0 548.7h1v1h-1zM46.8 516.1h1v1h-1zM45.8 511.8h1v1h-1zM43.9 554.3h1v1h-1zM46.4 520.2h1v1h-1zM43.4 529.0h1v1h-1zM44.3 519.3h1v1h-1zM43.4 534.4h1v1h-1zM44.9 568.2h1v1h-1z"/>
<line x1="42.00" y1="582.90" x2="44.30" y2="582.90" stroke="#2f5fa8" stroke-width="1.3" stroke-opacity="0.9"/>
<line x1="44.90" y1="582.90" x2="47.40" y2="582.90" stroke="#2f5fa8" stroke-width="1.3" stroke-opacity="0.9"/>
<line x1="44.60" y1="512.10" x2="44.60" y2="560.60" stroke="#2f5fa8" stroke-width="1.3"/>
<rect x="42.00" y="521.50" width="5.4" height="16.20" fill="#2f5fa8" fill-opacity="0.55" stroke="#2f5fa8" stroke-width="1.4" rx="0.5"/>
<path fill="#fff" fill-opacity="0.8" d="M44.8 531.9h1.2v1h-1.2zM43.2 535.8h1.2v1h-1.2zM42.9 530.6h1.2v1h-1.2zM45.2 533.2h1.2v1h-1.2zM44.8 524.7h1.2v1h-1.2zM43.6 530.7h1.2v1h-1.2zM42.6 534.8h1.2v1h-1.2zM43.9 534.5h1.2v1h-1.2z"/>
<line x1="42.00" y1="529.10" x2="47.40" y2="529.10" stroke="#2f5fa8" stroke-width="1.4"/>
<path fill="none" stroke="#d9413a" stroke-width="0.4" stroke-opacity="0.36" d="M70.4 507.5h1v1h-1zM66.7 533.8h1v1h-1zM66.7 545.3h1v1h-1zM69.3 520.0h1v1h-1zM69.8 524.7h1v1h-1zM69.3 532.7h1v1h-1zM67.3 529.5h1v1h-1zM69.1 526.7h1v1h-1zM69.4 522.7h1v1h-1zM67.3 532.1h1v1h-1zM69.8 563.8h1v1h-1zM68.0 527.3h1v1h-1z"/>
<path fill="none" stroke="#d9413a" stroke-width="0.4" stroke-opacity="0.36" d="M69.5 526.9h1v1h-1zM68.9 554.3h1v1h-1zM66.7 530.2h1v1h-1zM67.6 540.8h1v1h-1zM68.5 540.8h1v1h-1zM69.1 554.5h1v1h-1zM68.3 532.4h1v1h-1zM69.4 546.7h1v1h-1zM69.5 519.4h1v1h-1zM65.8 548.2h1v1h-1zM68.8 553.7h1v1h-1zM72.5 524.3h1v1h-1z"/>
<path fill="none" stroke="#d9413a" stroke-width="0.4" stroke-opacity="0.36" d="M67.1 508.3h1v1h-1zM69.2 562.5h1v1h-1zM66.5 542.6h1v1h-1zM69.0 552.3h1v1h-1zM68.1 523.2h1v1h-1zM66.4 538.2h1v1h-1zM69.4 526.6h1v1h-1zM69.0 520.4h1v1h-1zM68.8 532.0h1v1h-1zM69.7 543.5h1v1h-1zM67.5 556.9h1v1h-1zM67.7 534.6h1v1h-1z"/>
<path fill="none" stroke="#d9413a" stroke-width="0.4" stroke-opacity="0.36" d="M69.0 555.6h1v1h-1zM67.0 531.5h1v1h-1zM66.7 548.0h1v1h-1zM70.4 554.6h1v1h-1zM72.0 525.0h1v1h-1zM67.9 522.3h1v1h-1zM69.9 522.3h1v1h-1zM68.2 504.6h1v1h-1zM70.1 535.2h1v1h-1zM71.7 561.9h1v1h-1zM71.2 563.8h1v1h-1zM71.0 525.5h1v1h-1z"/>
<path fill="none" stroke="#d9413a" stroke-width="0.4" stroke-opacity="0.36" d="M67.3 535.3h1v1h-1zM68.4 557.9h1v1h-1zM70.8 527.1h1v1h-1zM69.3 547.2h1v1h-1zM68.7 548.8h1v1h-1zM67.4 544.1h1v1h-1zM68.6 551.7h1v1h-1zM67.6 530.6h1v1h-1zM66.4 530.1h1v1h-1zM67.4 534.9h1v1h-1zM69.8 526.9h1v1h-1zM68.2 546.6h1v1h-1z"/>
<path fill="none" stroke="#d9413a" stroke-width="0.4" stroke-opacity="0.36" d="M66.6 533.7h1v1h-1zM70.5 508.7h1v1h-1zM68.4 529.6h1v1h-1zM66.5 531.3h1v1h-1zM69.4 554.6h1v1h-1zM67.3 533.3h1v1h-1zM69.5 524.6h1v1h-1zM68.9 523.9h1v1h-1zM68.6 530.9h1v1h-1zM68.1 530.6h1v1h-1zM65.3 545.2h1v1h-1zM68.3 530.3h1v1h-1z"/>
<path fill="none" stroke="#d9413a" stroke-width="0.4" stroke-opacity="0.36" d="M69.0 532.4h1v1h-1zM71.2 526.1h1v1h-1zM72.2 528.8h1v1h-1zM69.3 524.3h1v1h-1zM67.0 508.8h1v1h-1zM68.7 523.5h1v1h-1zM70.8 558.1h1v1h-1zM71.7 516.9h1v1h-1zM70.5 532.0h1v1h-1zM70.3 532.8h1v1h-1zM71.3 524.4h1v1h-1zM67.7 553.6h1v1h-1z"/>
<path fill="none" stroke="#d9413a" stroke-width="0.4" stroke-opacity="0.36" d="M65.8 524.3h1v1h-1zM69.1 535.2h1v1h-1zM67.0 519.7h1v1h-1zM69.6 522.9h1v1h-1zM65.8 545.3h1v1h-1zM67.2 533.3h1v1h-1zM67.5 531.5h1v1h-1zM68.0 558.3h1v1h-1zM69.2 528.6h1v1h-1zM68.3 530.0h1v1h-1zM67.9 559.1h1v1h-1zM68.5 553.9h1v1h-1z"/>
<path fill="none" stroke="#d9413a" stroke-width="0.4" stroke-opacity="0.36" d="M71.4 550.2h1v1h-1zM69.6 529.2h1v1h-1zM68.4 523.6h1v1h-1zM69.9 528.6h1v1h-1zM65.3 524.5h1v1h-1zM67.5 539.3h1v1h-1zM68.1 521.8h1v1h-1zM69.7 524.9h1v1h-1zM71.0 531.5h1v1h-1zM70.8 555.5h1v1h-1zM66.1 530.7h1v1h-1zM68.3 512.4h1v1h-1z"/>
<path fill="none" stroke="#d9413a" stroke-width="0.4" stroke-opacity="0.36" d="M71.4 544.1h1v1h-1zM66.7 555.8h1v1h-1zM70.0 552.7h1v1h-1zM68.0 520.1h1v1h-1zM68.7 532.6h1v1h-1zM68.7 547.6h1v1h-1zM69.5 554.2h1v1h-1zM69.8 527.0h1v1h-1zM68.8 504.5h1v1h-1zM65.3 533.6h1v1h-1zM68.4 532.6h1v1h-1zM69.6 534.9h1v1h-1z"/>
<path fill="none" stroke="#d9413a" stroke-width="0.4" stroke-opacity="0.36" d="M70.3 523.5h1v1h-1zM71.6 552.6h1v1h-1zM69.4 508.3h1v1h-1zM67.1 523.4h1v1h-1zM68.9 531.7h1v1h-1zM66.4 507.4h1v1h-1zM70.7 523.3h1v1h-1zM70.1 527.2h1v1h-1zM69.9 510.5h1v1h-1zM68.6 537.4h1v1h-1zM68.8 530.1h1v1h-1zM69.0 511.0h1v1h-1z"/>
<path fill="none" stroke="#d9413a" stroke-width="0.4" stroke-opacity="0.36" d="M69.2 532.9h1v1h-1zM69.6 534.8h1v1h-1zM69.3 562.0h1v1h-1zM69.9 557.5h1v1h-1zM67.7 507.1h1v1h-1zM67.6 558.4h1v1h-1zM68.1 528.4h1v1h-1zM70.9 521.8h1v1h-1zM71.5 525.5h1v1h-1zM69.1 523.7h1v1h-1zM68.5 562.1h1v1h-1zM67.2 528.1h1v1h-1z"/>
<path fill="none" stroke="#d9413a" stroke-width="0.4" stroke-opacity="0.36" d="M68.8 550.6h1v1h-1zM69.8 529.8h1v1h-1zM67.5 523.9h1v1h-1zM69.4 513.9h1v1h-1zM67.4 519.7h1v1h-1zM71.7 524.5h1v1h-1zM67.8 518.4h1v1h-1zM67.5 558.0h1v1h-1zM68.5 518.6h1v1h-1zM66.9 529.1h1v1h-1zM68.2 521.2h1v1h-1zM66.5 532.6h1v1h-1z"/>
<path fill="none" stroke="#d9413a" stroke-width="0.4" stroke-opacity="0.36" d="M68.0 559.5h1v1h-1zM67.1 529.2h1v1h-1zM67.8 559.7h1v1h-1zM67.9 557.9h1v1h-1zM69.3 521.7h1v1h-1zM72.0 525.3h1v1h-1zM69.0 560.7h1v1h-1zM68.7 540.7h1v1h-1zM65.5 530.3h1v1h-1zM67.6 525.2h1v1h-1zM65.3 561.3h1v1h-1zM69.4 552.3h1v1h-1z"/>
<path fill="none" stroke="#d9413a" stroke-width="0.4" stroke-opacity="0.36" d="M69.3 511.5h1v1h-1zM69.9 528.0h1v1h-1zM68.4 509.9h1v1h-1zM67.8 512.1h1v1h-1zM69.0 523.0h1v1h-1zM69.9 551.6h1v1h-1zM65.3 550.9h1v1h-1zM66.9 549.6h1v1h-1zM69.6 522.6h1v1h-1zM66.6 558.8h1v1h-1zM68.4 541.4h1v1h-1zM70.5 554.5h1v1h-1z"/>
<path fill="none" stroke="#d9413a" stroke-width="0.4" stroke-opacity="0.36" d="M69.1 554.2h1v1h-1zM71.8 559.6h1v1h-1zM70.1 558.7h1v1h-1zM66.2 552.0h1v1h-1zM69.7 510.5h1v1h-1zM67.2 522.7h1v1h-1zM68.9 516.0h1v1h-1zM69.8 520.9h1v1h-1zM67.5 535.0h1v1h-1zM72.1 545.9h1v1h-1zM68.7 569.5h1v1h-1zM68.2 573.5h1v1h-1z"/>
<line x1="66.80" y1="582.90" x2="69.10" y2="582.90" stroke="#d9413a" stroke-width="1.3" stroke-opacity="0.9"/>
<line x1="69.70" y1="582.90" x2="72.20" y2="582.90" stroke="#d9413a" stroke-width="1.3" stroke-opacity="0.9"/>
<line x1="69.40" y1="504.80" x2="69.40" y2="564.60" stroke="#d9413a" stroke-width="1.3"/>
<rect x="66.80" y="521.50" width="5.4" height="14.00" fill="#d9413a" fill-opacity="0.35" stroke="#d9413a" stroke-width="1.4" rx="0.5"/>
<path fill="#fff" fill-opacity="0.8" d="M68.8 523.2h1.2v1h-1.2zM68.5 528.2h1.2v1h-1.2zM69.9 532.2h1.2v1h-1.2zM67.7 523.5h1.2v1h-1.2zM68.0 532.0h1.2v1h-1.2zM69.7 528.7h1.2v1h-1.2zM68.8 525.6h1.2v1h-1.2z"/>
<line x1="66.80" y1="526.40" x2="72.20" y2="526.40" stroke="#d9413a" stroke-width="1.4"/>
<path fill="none" stroke="#2f5fa8" stroke-width="0.4" stroke-opacity="0.36" d="M99.6 516.2h1v1h-1zM100.2 525.2h1v1h-1zM101.7 513.9h1v1h-1zM100.8 534.4h1v1h-1zM99.9 529.4h1v1h-1zM99.4 527.0h1v1h-1zM100.0 531.4h1v1h-1zM102.0 537.7h1v1h-1zM98.4 531.9h1v1h-1zM101.5 534.8h1v1h-1zM103.3 523.1h1v1h-1zM96.8 534.7h1v1h-1z"/>
<path fill="none" stroke="#2f5fa8" stroke-width="0.4" stroke-opacity="0.36" d="M99.4 545.3h1v1h-1zM98.3 509.2h1v1h-1zM99.8 547.0h1v1h-1zM99.3 512.5h1v1h-1zM102.7 515.6h1v1h-1zM101.0 525.3h1v1h-1zM101.2 512.2h1v1h-1zM100.1 534.1h1v1h-1zM98.3 523.1h1v1h-1zM99.8 522.9h1v1h-1zM100.6 536.4h1v1h-1zM100.5 551.9h1v1h-1z"/>
<path fill="none" stroke="#2f5fa8" stroke-width="0.4" stroke-opacity="0.36" d="M98.2 543.1h1v1h-1zM98.0 524.0h1v1h-1zM98.7 526.1h1v1h-1zM99.6 519.9h1v1h-1zM100.0 512.3h1v1h-1zM99.5 544.3h1v1h-1zM99.0 549.8h1v1h-1zM99.9 532.8h1v1h-1zM99.5 540.1h1v1h-1zM101.2 529.6h1v1h-1zM101.0 511.1h1v1h-1zM99.9 515.6h1v1h-1z"/>
<path fill="none" stroke="#2f5fa8" stroke-width="0.4" stroke-opacity="0.36" d="M98.6 541.3h1v1h-1zM101.2 516.2h1v1h-1zM101.5 522.1h1v1h-1zM101.1 534.8h1v1h-1zM100.5 515.1h1v1h-1zM99.8 534.2h1v1h-1zM98.1 513.3h1v1h-1zM101.2 531.2h1v1h-1zM100.9 538.4h1v1h-1zM99.3 537.9h1v1h-1zM100.3 520.8h1v1h-1zM99.2 548.9h1v1h-1z"/>
<path fill="none" stroke="#2f5fa8" stroke-width="0.4" stroke-opacity="0.36" d="M100.8 520.8h1v1h-1zM100.2 527.7h1v1h-1zM96.3 527.2h1v1h-1zM99.1 521.1h1v1h-1zM100.8 540.4h1v1h-1zM100.0 533.4h1v1h-1zM100.6 533.6h1v1h-1zM99.2 549.5h1v1h-1zM98.4 520.5h1v1h-1zM100.4 520.8h1v1h-1zM99.2 528.6h1v1h-1zM98.3 546.5h1v1h-1z"/>
<path fill="none" stroke="#2f5fa8" stroke-width="0.4" stroke-opacity="0.36" d="M101.2 551.3h1v1h-1zM98.5 532.4h1v1h-1zM98.3 541.8h1v1h-1zM100.2 537.6h1v1h-1zM98.5 520.9h1v1h-1zM99.7 544.1h1v1h-1zM99.9 510.3h1v1h-1zM100.4 551.6h1v1h-1zM100.6 522.1h1v1h-1zM98.2 533.6h1v1h-1zM101.7 530.8h1v1h-1zM99.9 538.1h1v1h-1z"/>
<path fill="none" stroke="#2f5fa8" stroke-width="0.4" stroke-opacity="0.36" d="M102.0 548.6h1v1h-1zM99.6 538.3h1v1h-1zM99.9 513.6h1v1h-1zM99.9 521.6h1v1h-1zM99.6 540.0h1v1h-1zM99.9 548.2h1v1h-1zM97.2 525.0h1v1h-1zM99.0 521.7h1v1h-1zM98.8 535.2h1v1h-1zM99.5 523.3h1v1h-1zM101.7 515.8h1v1h-1zM96.1 528.7h1v1h-1z"/>
<path fill="none" stroke="#2f5fa8" stroke-width="0.4" stroke-opacity="0.36" d="M99.1 514.1h1v1h-1zM102.9 551.7h1v1h-1zM102.2 535.2h1v1h-1zM100.6 522.0h1v1h-1zM98.9 532.6h1v1h-1zM98.0 530.2h1v1h-1zM100.7 510.6h1v1h-1zM100.0 525.5h1v1h-1zM103.0 520.4h1v1h-1zM100.8 534.3h1v1h-1zM99.8 539.1h1v1h-1zM99.1 544.5h1v1h-1z"/>
<path fill="none" stroke="#2f5fa8" stroke-width="0.4" stroke-opacity="0.36" d="M101.8 532.7h1v1h-1zM98.1 529.8h1v1h-1zM101.1 511.8h1v1h-1zM100.6 525.2h1v1h-1zM99.2 534.4h1v1h-1zM101.4 530.7h1v1h-1zM100.0 511.9h1v1h-1zM99.1 521.2h1v1h-1zM100.7 544.5h1v1h-1zM102.0 537.0h1v1h-1zM97.9 524.2h1v1h-1zM100.8 546.9h1v1h-1z"/>
<path fill="none" stroke="#2f5fa8" stroke-width="0.4" stroke-opacity="0.36" d="M98.6 537.9h1v1h-1zM97.9 519.1h1v1h-1zM96.7 547.3h1v1h-1zM96.9 513.8h1v1h-1zM97.6 516.3h1v1h-1zM102.2 534.2h1v1h-1zM100.1 509.7h1v1h-1zM100.2 536.2h1v1h-1zM98.6 527.9h1v1h-1zM99.0 528.1h1v1h-1zM97.1 531.2h1v1h-1zM99.7 536.9h1v1h-1z"/>
<path fill="none" stroke="#2f5fa8" stroke-width="0.4" stroke-opacity="0.36" d="M100.1 515.1h1v1h-1zM100.6 532.8h1v1h-1zM99.8 536.3h1v1h-1zM96.8 530.1h1v1h-1zM99.0 550.2h1v1h-1zM100.8 519.6h1v1h-1zM101.6 529.2h1v1h-1zM100.7 523.2h1v1h-1zM102.4 509.2h1v1h-1zM102.8 551.4h1v1h-1zM98.8 531.7h1v1h-1zM97.9 526.4h1v1h-1z"/>
<path fill="none" stroke="#2f5fa8" stroke-width="0.4" stroke-opacity="0.36" d="M100.3 518.9h1v1h-1zM100.4 520.7h1v1h-1zM99.4 534.5h1v1h-1zM99.5 529.6h1v1h-1zM100.4 519.2h1v1h-1zM100.0 527.2h1v1h-1zM100.5 524.8h1v1h-1zM102.5 544.5h1v1h-1zM99.7 513.4h1v1h-1zM100.7 548.8h1v1h-1zM100.9 515.6h1v1h-1zM98.9 527.5h1v1h-1z"/>
<path fill="none" stroke="#2f5fa8" stroke-width="0.4" stroke-opacity="0.36" d="M98.0 540.9h1v1h-1zM100.5 533.6h1v1h-1zM99.7 540.2h1v1h-1zM99.0 533.6h1v1h-1zM99.7 521.7h1v1h-1zM96.2 546.2h1v1h-1zM98.6 528.4h1v1h-1zM100.1 530.4h1v1h-1zM102.7 512.8h1v1h-1zM98.0 532.7h1v1h-1zM99.5 542.6h1v1h-1zM96.9 529.7h1v1h-1z"/>
<path fill="none" stroke="#2f5fa8" stroke-width="0.4" stroke-opacity="0.36" d="M99.3 548.9h1v1h-1zM99.1 517.1h1v1h-1zM99.7 548.8h1v1h-1zM99.2 516.7h1v1h-1zM101.2 511.6h1v1h-1zM100.5 535.5h1v1h-1zM99.0 536.5h1v1h-1zM99.3 541.6h1v1h-1zM98.2 514.3h1v1h-1zM98.7 551.1h1v1h-1zM100.1 529.6h1v1h-1zM100.3 520.0h1v1h-1z"/>
<path fill="none" stroke="#2f5fa8" stroke-width="0.4" stroke-opacity="0.36" d="M98.2 528.4h1v1h-1zM101.3 535.3h1v1h-1zM98.4 531.1h1v1h-1zM100.6 531.7h1v1h-1zM99.6 546.5h1v1h-1zM99.4 533.3h1v1h-1zM96.6 516.1h1v1h-1zM100.6 522.2h1v1h-1zM99.1 526.7h1v1h-1zM102.1 525.6h1v1h-1zM100.4 547.6h1v1h-1zM99.2 526.3h1v1h-1z"/>
<path fill="none" stroke="#2f5fa8" stroke-width="0.4" stroke-opacity="0.36" d="M96.5 539.4h1v1h-1zM101.6 518.7h1v1h-1zM96.5 509.9h1v1h-1zM101.4 537.8h1v1h-1zM102.1 536.6h1v1h-1zM100.2 536.3h1v1h-1zM100.3 519.1h1v1h-1zM99.3 525.3h1v1h-1zM101.8 514.9h1v1h-1zM102.2 532.3h1v1h-1zM101.3 557.5h1v1h-1z"/>
<line x1="97.60" y1="582.90" x2="99.90" y2="582.90" stroke="#2f5fa8" stroke-width="1.3" stroke-opacity="0.9"/>
<line x1="100.50" y1="582.90" x2="103.00" y2="582.90" stroke="#2f5fa8" stroke-width="1.3" stroke-opacity="0.9"/>
<line x1="100.20" y1="509.40" x2="100.20" y2="552.50" stroke="#2f5fa8" stroke-width="1.3"/>
<rect x="97.60" y="522.10" width="5.4" height="15.10" fill="#2f5fa8" fill-opacity="0.55" stroke="#2f5fa8" stroke-width="1.4" rx="0.5"/>
<path fill="#fff" fill-opacity="0.8" d="M99.1 535.3h1.2v1h-1.2zM99.7 535.1h1.2v1h-1.2zM99.3 530.0h1.2v1h-1.2zM100.3 535.4h1.2v1h-1.2zM98.9 528.5h1.2v1h-1.2zM99.9 534.8h1.2v1h-1.2zM100.9 528.1h1.2v1h-1.2z"/>
<line x1="97.60" y1="529.60" x2="103.00" y2="529.60" stroke="#2f5fa8" stroke-width="1.4"/>
<path fill="none" stroke="#d9413a" stroke-width="0.4" stroke-opacity="0.36" d="M121.9 519.6h1v1h-1zM122.9 541.4h1v1h-1zM123.2 521.3h1v1h-1zM122.9 521.5h1v1h-1zM121.6 530.2h1v1h-1zM121.8 514.1h1v1h-1zM123.1 539.7h1v1h-1zM120.3 552.3h1v1h-1zM122.7 507.9h1v1h-1zM121.4 526.1h1v1h-1zM121.1 521.1h1v1h-1zM122.6 532.7h1v1h-1z"/>
<path fill="none" stroke="#d9413a" stroke-width="0.4" stroke-opacity="0.36" d="M125.1 526.2h1v1h-1zM123.5 519.1h1v1h-1zM124.0 513.2h1v1h-1zM121.8 539.3h1v1h-1zM124.9 539.9h1v1h-1zM124.3 562.0h1v1h-1zM120.8 538.8h1v1h-1zM121.0 530.0h1v1h-1zM122.5 537.2h1v1h-1zM124.9 526.9h1v1h-1zM122.7 533.8h1v1h-1zM124.7 532.8h1v1h-1z"/>
<path fill="none" stroke="#d9413a" stroke-width="0.4" stroke-opacity="0.36" d="M122.8 532.2h1v1h-1zM123.2 520.1h1v1h-1zM126.4 524.5h1v1h-1zM122.9 541.1h1v1h-1zM124.2 537.8h1v1h-1zM124.9 525.2h1v1h-1zM124.1 529.9h1v1h-1zM122.7 521.6h1v1h-1zM122.5 531.1h1v1h-1zM123.5 526.7h1v1h-1zM121.8 538.1h1v1h-1zM122.6 509.3h1v1h-1z"/>
<path fill="none" stroke="#d9413a" stroke-width="0.4" stroke-opacity="0.36" d="M122.5 508.4h1v1h-1zM123.2 515.2h1v1h-1zM123.8 531.0h1v1h-1zM124.1 519.5h1v1h-1zM119.2 516.7h1v1h-1zM123.9 528.1h1v1h-1zM123.2 511.7h1v1h-1zM123.2 551.0h1v1h-1zM123.4 508.8h1v1h-1zM122.4 524.1h1v1h-1zM123.3 509.3h1v1h-1zM123.1 559.7h1v1h-1z"/>
<path fill="none" stroke="#d9413a" stroke-width="0.4" stroke-opacity="0.36" d="M123.9 525.9h1v1h-1zM124.7 514.2h1v1h-1zM122.3 538.2h1v1h-1zM122.7 523.9h1v1h-1zM123.8 511.4h1v1h-1zM123.5 550.4h1v1h-1zM121.2 560.8h1v1h-1zM123.6 530.8h1v1h-1zM120.3 508.7h1v1h-1zM124.0 551.5h1v1h-1zM122.5 523.9h1v1h-1zM123.7 534.1h1v1h-1z"/>
<path fill="none" stroke="#d9413a" stroke-width="0.4" stroke-opacity="0.36" d="M124.0 524.1h1v1h-1zM124.3 509.3h1v1h-1zM122.1 538.4h1v1h-1zM124.1 526.6h1v1h-1zM121.6 542.9h1v1h-1zM122.9 530.7h1v1h-1zM122.4 522.5h1v1h-1zM123.6 513.3h1v1h-1zM121.7 531.6h1v1h-1zM121.8 563.1h1v1h-1zM123.9 528.8h1v1h-1zM125.6 512.7h1v1h-1z"/>
<path fill="none" stroke="#d9413a" stroke-width="0.4" stroke-opacity="0.36" d="M123.1 525.1h1v1h-1zM122.3 559.7h1v1h-1zM122.9 551.3h1v1h-1zM125.7 563.5h1v1h-1zM122.3 515.9h1v1h-1zM124.1 526.9h1v1h-1zM124.0 525.5h1v1h-1zM120.3 513.5h1v1h-1zM122.9 562.4h1v1h-1zM124.5 544.6h1v1h-1zM125.4 530.0h1v1h-1zM122.6 535.5h1v1h-1z"/>
<path fill="none" stroke="#d9413a" stroke-width="0.4" stroke-opacity="0.36" d="M123.8 512.8h1v1h-1zM123.7 551.1h1v1h-1zM123.6 526.0h1v1h-1zM123.1 514.0h1v1h-1zM123.0 519.7h1v1h-1zM121.7 536.2h1v1h-1zM122.9 523.2h1v1h-1zM124.1 524.1h1v1h-1zM123.4 533.0h1v1h-1zM123.7 530.3h1v1h-1zM122.9 561.1h1v1h-1zM120.0 523.7h1v1h-1z"/>
<path fill="none" stroke="#d9413a" stroke-width="0.4" stroke-opacity="0.36" d="M124.4 535.6h1v1h-1zM123.4 558.2h1v1h-1zM122.4 514.4h1v1h-1zM121.9 532.9h1v1h-1zM124.6 536.6h1v1h-1zM123.7 536.2h1v1h-1zM120.7 560.4h1v1h-1zM122.2 543.2h1v1h-1zM123.3 529.1h1v1h-1zM122.8 529.8h1v1h-1zM124.2 544.6h1v1h-1zM123.4 522.0h1v1h-1z"/>
<path fill="none" stroke="#d9413a" stroke-width="0.4" stroke-opacity="0.36" d="M123.3 529.6h1v1h-1zM124.8 542.3h1v1h-1zM123.1 521.5h1v1h-1zM121.2 524.6h1v1h-1zM122.5 535.0h1v1h-1zM122.9 565.3h1v1h-1zM124.7 529.2h1v1h-1zM125.7 521.1h1v1h-1zM122.2 555.7h1v1h-1zM120.6 530.2h1v1h-1zM124.2 516.6h1v1h-1zM119.2 520.9h1v1h-1z"/>
<path fill="none" stroke="#d9413a" stroke-width="0.4" stroke-opacity="0.36" d="M122.1 512.7h1v1h-1zM123.6 564.2h1v1h-1zM122.6 552.1h1v1h-1zM124.3 511.2h1v1h-1zM122.1 521.7h1v1h-1zM124.2 508.4h1v1h-1zM122.6 563.8h1v1h-1zM121.7 557.4h1v1h-1zM122.5 528.7h1v1h-1zM122.1 528.5h1v1h-1zM123.0 534.9h1v1h-1zM121.9 528.5h1v1h-1z"/>
<path fill="none" stroke="#d9413a" stroke-width="0.4" stroke-opacity="0.36" d="M122.3 549.5h1v1h-1zM122.3 529.5h1v1h-1zM123.6 516.3h1v1h-1zM122.6 530.9h1v1h-1zM121.6 523.6h1v1h-1zM124.5 523.3h1v1h-1zM122.1 538.1h1v1h-1zM120.8 523.5h1v1h-1zM125.9 544.0h1v1h-1zM122.4 525.1h1v1h-1zM121.4 516.4h1v1h-1zM120.8 520.4h1v1h-1z"/>
<path fill="none" stroke="#d9413a" stroke-width="0.4" stroke-opacity="0.36" d="M120.4 537.3h1v1h-1zM123.2 522.7h1v1h-1zM123.6 516.8h1v1h-1zM124.0 531.3h1v1h-1zM123.2 530.8h1v1h-1zM121.8 536.1h1v1h-1zM120.6 546.8h1v1h-1zM120.2 533.5h1v1h-1zM125.1 536.6h1v1h-1zM122.3 559.7h1v1h-1zM123.2 548.9h1v1h-1zM124.4 521.0h1v1h-1z"/>
<path fill="none" stroke="#d9413a" stroke-width="0.4" stroke-opacity="0.36" d="M122.8 524.9h1v1h-1zM123.8 547.8h1v1h-1zM121.1 510.6h1v1h-1zM122.5 565.2h1v1h-1zM124.6 538.8h1v1h-1zM124.4 510.2h1v1h-1zM122.1 527.1h1v1h-1zM122.5 556.7h1v1h-1zM123.2 532.9h1v1h-1zM125.5 524.1h1v1h-1zM123.6 526.1h1v1h-1zM123.9 531.4h1v1h-1z"/>
<path fill="none" stroke="#d9413a" stroke-width="0.4" stroke-opacity="0.36" d="M121.5 525.5h1v1h-1zM122.4 527.2h1v1h-1zM123.1 521.0h1v1h-1zM123.9 524.1h1v1h-1zM122.2 542.3h1v1h-1zM122.2 523.5h1v1h-1zM122.9 524.2h1v1h-1zM123.5 522.9h1v1h-1zM125.8 532.4h1v1h-1zM123.2 530.4h1v1h-1zM123.9 523.5h1v1h-1zM122.7 552.0h1v1h-1z"/>
<path fill="none" stroke="#d9413a" stroke-width="0.4" stroke-opacity="0.36" d="M121.8 534.2h1v1h-1zM122.7 515.4h1v1h-1zM123.7 557.2h1v1h-1zM124.1 519.7h1v1h-1zM123.1 525.1h1v1h-1zM123.0 526.5h1v1h-1zM124.1 558.5h1v1h-1zM122.8 526.2h1v1h-1zM122.8 521.9h1v1h-1zM123.1 533.3h1v1h-1zM123.3 569.5h1v1h-1zM122.7 574.5h1v1h-1z"/>
<line x1="120.70" y1="582.90" x2="123.00" y2="582.90" stroke="#d9413a" stroke-width="1.3" stroke-opacity="0.9"/>
<line x1="123.60" y1="582.90" x2="126.10" y2="582.90" stroke="#d9413a" stroke-width="1.3" stroke-opacity="0.9"/>
<line x1="123.30" y1="508.10" x2="123.30" y2="566.00" stroke="#d9413a" stroke-width="1.3"/>
<rect x="120.70" y="521.50" width="5.4" height="18.40" fill="#d9413a" fill-opacity="0.35" stroke="#d9413a" stroke-width="1.4" rx="0.5"/>
<path fill="#fff" fill-opacity="0.8" d="M123.2 533.0h1.2v1h-1.2zM122.0 525.2h1.2v1h-1.2zM123.6 530.2h1.2v1h-1.2zM123.4 527.9h1.2v1h-1.2zM122.5 531.8h1.2v1h-1.2zM121.8 534.2h1.2v1h-1.2zM123.4 524.6h1.2v1h-1.2zM123.9 528.0h1.2v1h-1.2zM122.9 527.6h1.2v1h-1.2z"/>
<line x1="120.70" y1="529.60" x2="126.10" y2="529.60" stroke="#d9413a" stroke-width="1.4"/>
<line x1="31.00" y1="496.80" x2="31.00" y2="588.20" stroke="#1a1a1a" stroke-width="1.5"/>
<rect x="29.80" y="574.10" width="2.4" height="2.8" fill="#fff"/>
<line x1="28.30" y1="575.60" x2="33.70" y2="572.80" stroke="#1a1a1a" stroke-width="0.95"/>
<line x1="28.30" y1="578.60" x2="33.70" y2="575.80" stroke="#1a1a1a" stroke-width="0.95"/>
<line x1="31.00" y1="587.50" x2="82.90" y2="587.50" stroke="#1a1a1a" stroke-width="1.4"/>
<line x1="85.60" y1="587.50" x2="137.30" y2="587.50" stroke="#1a1a1a" stroke-width="1.4"/>
<line x1="28.00" y1="582.90" x2="31.00" y2="582.90" stroke="#1a1a1a" stroke-width="1.2"/>
<text x="25.20" y="585.85" font-size="8.2" text-anchor="end" fill="#1a1a1a" textLength="4.5" lengthAdjust="spacingAndGlyphs" stroke="#1a1a1a" stroke-width="0.22">0</text>
<line x1="28.00" y1="559.20" x2="31.00" y2="559.20" stroke="#1a1a1a" stroke-width="1.2"/>
<text x="25.20" y="562.15" font-size="8.2" text-anchor="end" fill="#1a1a1a" textLength="4.5" lengthAdjust="spacingAndGlyphs" stroke="#1a1a1a" stroke-width="0.22">1</text>
<line x1="28.00" y1="535.80" x2="31.00" y2="535.80" stroke="#1a1a1a" stroke-width="1.2"/>
<text x="25.20" y="538.75" font-size="8.2" text-anchor="end" fill="#1a1a1a" textLength="4.5" lengthAdjust="spacingAndGlyphs" stroke="#1a1a1a" stroke-width="0.22">2</text>
<line x1="28.00" y1="512.10" x2="31.00" y2="512.10" stroke="#1a1a1a" stroke-width="1.2"/>
<text x="25.20" y="515.05" font-size="8.2" text-anchor="end" fill="#1a1a1a" textLength="4.5" lengthAdjust="spacingAndGlyphs" stroke="#1a1a1a" stroke-width="0.22">3</text>
<line x1="44.60" y1="587.50" x2="44.60" y2="590.50" stroke="#1a1a1a" stroke-width="1.2"/>
<text x="44.60" y="600.00" font-size="8.6" text-anchor="middle" fill="#1a1a1a" textLength="17.2" lengthAdjust="spacingAndGlyphs" stroke="#1a1a1a" stroke-width="0.22">High</text>
<line x1="69.40" y1="587.50" x2="69.40" y2="590.50" stroke="#1a1a1a" stroke-width="1.2"/>
<text x="69.40" y="600.00" font-size="8.6" text-anchor="middle" fill="#1a1a1a" textLength="14.2" lengthAdjust="spacingAndGlyphs" stroke="#1a1a1a" stroke-width="0.22">Low</text>
<line x1="100.20" y1="587.50" x2="100.20" y2="590.50" stroke="#1a1a1a" stroke-width="1.2"/>
<text x="100.20" y="600.00" font-size="8.6" text-anchor="middle" fill="#1a1a1a" textLength="17.2" lengthAdjust="spacingAndGlyphs" stroke="#1a1a1a" stroke-width="0.22">High</text>
<line x1="123.30" y1="587.50" x2="123.30" y2="590.50" stroke="#1a1a1a" stroke-width="1.2"/>
<text x="123.30" y="600.00" font-size="8.6" text-anchor="middle" fill="#1a1a1a" textLength="14.2" lengthAdjust="spacingAndGlyphs" stroke="#1a1a1a" stroke-width="0.22">Low</text>
<path d="M44.60,505.90 L44.60,502.70 L69.40,502.70 L69.40,505.90" stroke="#1a1a1a" stroke-width="1.3" fill="none"/>
<text x="57.00" y="499.00" font-size="7.6" text-anchor="middle" fill="#1a1a1a" textLength="8.8" lengthAdjust="spacingAndGlyphs" stroke="#1a1a1a" stroke-width="0.22">ns</text>
<path d="M100.20,508.60 L100.20,505.40 L123.30,505.40 L123.30,508.60" stroke="#1a1a1a" stroke-width="1.3" fill="none"/>
<text x="111.75" y="501.70" font-size="7.6" text-anchor="middle" fill="#1a1a1a" textLength="8.8" lengthAdjust="spacingAndGlyphs" stroke="#1a1a1a" stroke-width="0.22">ns</text>
<text x="87.00" y="476.40" font-size="10.2" text-anchor="middle" fill="#1a1a1a" textLength="24.0" lengthAdjust="spacingAndGlyphs" stroke="#1a1a1a" stroke-width="0.15">CD19</text>
<text x="57.30" y="489.90" font-size="9.3" text-anchor="middle" fill="#1a1a1a" textLength="35.3" lengthAdjust="spacingAndGlyphs" stroke="#1a1a1a" stroke-width="0.15">Day 100</text>
<text x="111.10" y="493.30" font-size="9.3" text-anchor="middle" fill="#1a1a1a" textLength="35.3" lengthAdjust="spacingAndGlyphs" stroke="#1a1a1a" stroke-width="0.15">Day 180</text>
<text x="86.20" y="610.00" font-size="9.2" text-anchor="middle" fill="#1a1a1a" textLength="95" lengthAdjust="spacingAndGlyphs" stroke="#1a1a1a" stroke-width="0.3">Peri-engraftment <tspan font-size="10.5">α</tspan>-diversity</text>
<text x="16.20" y="541.40" font-size="9.8" text-anchor="middle" fill="#1a1a1a" stroke="#1a1a1a" stroke-width="0.25" transform="rotate(-90 16.20 541.40)" textLength="70.4" lengthAdjust="spacingAndGlyphs">Log<tspan font-size="7" dy="2.4">10</tspan><tspan dy="-2.4"> (CD19 cells/µl)</tspan></text>
<line x1="169.60" y1="219.20" x2="293.50" y2="219.20" stroke="#9c9c9c" stroke-width="0.8" stroke-dasharray="1,1.9"/>
<line x1="169.60" y1="227.40" x2="293.50" y2="227.40" stroke="#9c9c9c" stroke-width="0.8" stroke-dasharray="1,1.9"/>
<line x1="169.60" y1="233.60" x2="293.50" y2="233.60" stroke="#dedede" stroke-width="1.4"/>
<line x1="169.60" y1="245.80" x2="293.50" y2="245.80" stroke="#dedede" stroke-width="1.4"/>
<path fill="#3f63a8" fill-opacity="0.3" d="M272.4 256.2h.9v.9h-.9zM274.0 244.6h.9v.9h-.9zM225.7 242.4h.9v.9h-.9zM224.4 258.2h.9v.9h-.9zM255.0 237.8h.9v.9h-.9zM231.0 253.8h.9v.9h-.9zM233.7 242.3h.9v.9h-.9zM226.6 243.6h.9v.9h-.9zM277.4 265.4h.9v.9h-.9zM227.9 231.3h.9v.9h-.9zM274.6 238.0h.9v.9h-.9zM272.9 248.3h.9v.9h-.9zM279.1 233.1h.9v.9h-.9zM282.8 249.0h.9v.9h-.9zM275.1 243.7h.9v.9h-.9z"/>
<path fill="#3f63a8" fill-opacity="0.3" d="M275.4 264.6h.9v.9h-.9zM196.7 232.5h.9v.9h-.9zM226.1 247.0h.9v.9h-.9zM233.1 228.4h.9v.9h-.9zM228.1 251.8h.9v.9h-.9zM226.6 253.5h.9v.9h-.9zM284.3 247.7h.9v.9h-.9zM263.7 261.9h.9v.9h-.9zM205.0 238.8h.9v.9h-.9zM230.1 255.5h.9v.9h-.9zM227.0 243.9h.9v.9h-.9zM275.2 244.3h.9v.9h-.9zM184.9 258.6h.9v.9h-.9zM227.1 250.2h.9v.9h-.9zM274.4 243.6h.9v.9h-.9z"/>
<path fill="#3f63a8" fill-opacity="0.3" d="M237.7 237.8h.9v.9h-.9zM279.7 248.1h.9v.9h-.9zM244.4 231.5h.9v.9h-.9zM185.5 243.4h.9v.9h-.9zM229.8 236.2h.9v.9h-.9zM231.1 250.4h.9v.9h-.9zM225.8 235.9h.9v.9h-.9zM275.3 234.3h.9v.9h-.9zM225.1 247.6h.9v.9h-.9zM271.3 235.3h.9v.9h-.9zM227.5 251.3h.9v.9h-.9zM215.2 226.9h.9v.9h-.9zM240.9 257.3h.9v.9h-.9zM227.9 222.2h.9v.9h-.9zM276.6 242.6h.9v.9h-.9z"/>
<path fill="#3f63a8" fill-opacity="0.3" d="M272.5 242.6h.9v.9h-.9zM281.3 230.5h.9v.9h-.9zM248.3 230.7h.9v.9h-.9zM233.8 229.9h.9v.9h-.9zM230.9 242.5h.9v.9h-.9zM279.1 233.7h.9v.9h-.9zM279.2 256.4h.9v.9h-.9zM236.2 243.5h.9v.9h-.9zM232.7 258.0h.9v.9h-.9zM228.0 253.3h.9v.9h-.9zM211.6 242.3h.9v.9h-.9zM286.1 251.6h.9v.9h-.9zM221.7 238.4h.9v.9h-.9zM234.2 254.8h.9v.9h-.9zM230.5 234.9h.9v.9h-.9z"/>
<path fill="#3f63a8" fill-opacity="0.3" d="M225.8 233.2h.9v.9h-.9zM230.6 255.4h.9v.9h-.9zM241.9 252.1h.9v.9h-.9zM218.1 232.0h.9v.9h-.9zM213.7 235.8h.9v.9h-.9zM274.0 231.4h.9v.9h-.9zM229.2 228.1h.9v.9h-.9zM260.8 243.4h.9v.9h-.9zM272.1 242.4h.9v.9h-.9zM227.0 257.8h.9v.9h-.9zM234.5 234.1h.9v.9h-.9zM278.7 231.2h.9v.9h-.9zM275.5 243.1h.9v.9h-.9zM230.2 246.4h.9v.9h-.9zM228.4 259.7h.9v.9h-.9z"/>
<path fill="#3f63a8" fill-opacity="0.3" d="M269.9 240.9h.9v.9h-.9zM222.9 252.9h.9v.9h-.9zM191.9 234.5h.9v.9h-.9zM227.4 249.9h.9v.9h-.9zM230.5 246.3h.9v.9h-.9zM277.3 243.7h.9v.9h-.9zM273.9 236.3h.9v.9h-.9zM246.0 228.0h.9v.9h-.9zM223.3 248.4h.9v.9h-.9zM234.1 245.0h.9v.9h-.9zM273.0 253.6h.9v.9h-.9zM228.2 245.2h.9v.9h-.9zM183.9 230.8h.9v.9h-.9zM272.4 238.6h.9v.9h-.9zM282.6 238.9h.9v.9h-.9z"/>
<path fill="#3f63a8" fill-opacity="0.3" d="M226.6 243.5h.9v.9h-.9zM272.5 258.5h.9v.9h-.9zM279.6 244.4h.9v.9h-.9zM193.2 225.9h.9v.9h-.9zM226.7 236.6h.9v.9h-.9zM229.1 255.0h.9v.9h-.9zM278.0 248.4h.9v.9h-.9zM274.1 255.3h.9v.9h-.9zM232.6 237.7h.9v.9h-.9zM230.4 251.1h.9v.9h-.9zM228.8 246.9h.9v.9h-.9zM242.4 242.8h.9v.9h-.9zM229.6 222.2h.9v.9h-.9zM229.2 246.1h.9v.9h-.9zM226.4 227.9h.9v.9h-.9z"/>
<path fill="#3f63a8" fill-opacity="0.3" d="M275.5 250.9h.9v.9h-.9zM183.5 258.8h.9v.9h-.9zM229.4 239.3h.9v.9h-.9zM229.8 232.9h.9v.9h-.9zM218.1 254.0h.9v.9h-.9zM186.1 247.5h.9v.9h-.9zM223.0 239.1h.9v.9h-.9zM276.3 257.2h.9v.9h-.9zM208.1 254.0h.9v.9h-.9zM228.6 251.3h.9v.9h-.9zM204.3 256.2h.9v.9h-.9zM273.0 240.6h.9v.9h-.9zM277.6 250.8h.9v.9h-.9zM233.5 261.7h.9v.9h-.9zM274.7 232.5h.9v.9h-.9z"/>
<path fill="#3f63a8" fill-opacity="0.3" d="M232.2 251.3h.9v.9h-.9zM239.3 247.2h.9v.9h-.9zM236.4 252.1h.9v.9h-.9zM272.0 257.0h.9v.9h-.9zM226.6 233.8h.9v.9h-.9zM227.6 251.0h.9v.9h-.9zM228.3 257.1h.9v.9h-.9zM207.4 247.9h.9v.9h-.9zM186.2 238.9h.9v.9h-.9zM231.0 246.2h.9v.9h-.9zM273.7 234.5h.9v.9h-.9zM228.9 278.7h.9v.9h-.9zM227.0 279.1h.9v.9h-.9zM275.0 279.0h.9v.9h-.9zM279.2 279.0h.9v.9h-.9z"/>
<path fill="#3f63a8" fill-opacity="0.3" d="M250.8 279.0h.9v.9h-.9zM271.3 278.7h.9v.9h-.9zM187.4 278.5h.9v.9h-.9zM256.5 278.6h.9v.9h-.9zM274.1 279.1h.9v.9h-.9zM194.0 278.6h.9v.9h-.9z"/>
<path fill="#d0463f" fill-opacity="0.3" d="M227.9 241.5h.9v.9h-.9zM192.2 251.0h.9v.9h-.9zM224.1 234.9h.9v.9h-.9zM245.1 249.4h.9v.9h-.9zM234.0 234.6h.9v.9h-.9zM224.0 251.3h.9v.9h-.9zM282.4 257.1h.9v.9h-.9zM277.9 244.2h.9v.9h-.9zM269.1 250.4h.9v.9h-.9zM269.6 244.0h.9v.9h-.9zM226.8 246.6h.9v.9h-.9zM228.5 236.2h.9v.9h-.9zM229.9 232.5h.9v.9h-.9zM274.5 238.7h.9v.9h-.9zM282.0 250.4h.9v.9h-.9z"/>
<path fill="#d0463f" fill-opacity="0.3" d="M248.0 254.7h.9v.9h-.9zM227.1 234.1h.9v.9h-.9zM246.4 233.4h.9v.9h-.9zM277.4 241.0h.9v.9h-.9zM224.3 238.8h.9v.9h-.9zM226.6 243.8h.9v.9h-.9zM228.8 219.4h.9v.9h-.9zM227.9 235.1h.9v.9h-.9zM227.2 232.6h.9v.9h-.9zM242.6 244.5h.9v.9h-.9zM232.9 235.3h.9v.9h-.9zM240.6 251.8h.9v.9h-.9zM226.4 228.7h.9v.9h-.9zM220.6 228.3h.9v.9h-.9zM273.7 247.3h.9v.9h-.9z"/>
<path fill="#d0463f" fill-opacity="0.3" d="M263.8 240.0h.9v.9h-.9zM272.9 241.4h.9v.9h-.9zM229.9 245.6h.9v.9h-.9zM230.1 246.6h.9v.9h-.9zM231.4 234.8h.9v.9h-.9zM201.0 248.8h.9v.9h-.9zM226.4 259.6h.9v.9h-.9zM225.6 247.0h.9v.9h-.9zM183.0 237.8h.9v.9h-.9zM234.5 247.1h.9v.9h-.9zM272.6 238.4h.9v.9h-.9zM285.4 245.1h.9v.9h-.9zM275.2 244.6h.9v.9h-.9zM268.7 240.8h.9v.9h-.9zM268.8 243.0h.9v.9h-.9z"/>
<path fill="#d0463f" fill-opacity="0.3" d="M190.1 241.6h.9v.9h-.9zM226.5 265.3h.9v.9h-.9zM184.5 233.7h.9v.9h-.9zM235.6 231.6h.9v.9h-.9zM191.7 234.8h.9v.9h-.9zM227.9 252.9h.9v.9h-.9zM276.3 225.2h.9v.9h-.9zM243.1 231.5h.9v.9h-.9zM273.0 248.3h.9v.9h-.9zM229.7 263.2h.9v.9h-.9zM228.4 249.4h.9v.9h-.9zM272.6 226.0h.9v.9h-.9zM223.5 240.0h.9v.9h-.9zM248.9 248.1h.9v.9h-.9zM227.4 248.8h.9v.9h-.9z"/>
<path fill="#d0463f" fill-opacity="0.3" d="M280.2 244.1h.9v.9h-.9zM232.4 248.6h.9v.9h-.9zM229.0 238.6h.9v.9h-.9zM185.6 261.2h.9v.9h-.9zM270.2 225.6h.9v.9h-.9zM237.5 250.5h.9v.9h-.9zM226.3 243.9h.9v.9h-.9zM227.1 259.0h.9v.9h-.9zM225.3 226.0h.9v.9h-.9zM228.8 243.7h.9v.9h-.9zM275.5 242.4h.9v.9h-.9zM275.9 230.7h.9v.9h-.9zM275.1 237.6h.9v.9h-.9zM235.9 248.2h.9v.9h-.9zM227.2 222.6h.9v.9h-.9z"/>
<path fill="#d0463f" fill-opacity="0.3" d="M226.4 227.0h.9v.9h-.9zM200.8 237.3h.9v.9h-.9zM272.8 264.8h.9v.9h-.9zM231.4 235.8h.9v.9h-.9zM281.3 241.5h.9v.9h-.9zM220.0 242.0h.9v.9h-.9zM274.6 244.7h.9v.9h-.9zM195.7 252.2h.9v.9h-.9zM268.9 243.7h.9v.9h-.9zM230.0 249.6h.9v.9h-.9zM277.0 237.9h.9v.9h-.9zM230.0 255.1h.9v.9h-.9zM181.7 234.6h.9v.9h-.9zM225.4 237.1h.9v.9h-.9zM266.2 241.9h.9v.9h-.9z"/>
<path fill="#d0463f" fill-opacity="0.3" d="M240.3 250.1h.9v.9h-.9zM230.0 256.5h.9v.9h-.9zM249.9 233.2h.9v.9h-.9zM231.5 236.1h.9v.9h-.9zM236.9 260.4h.9v.9h-.9zM238.8 248.4h.9v.9h-.9zM272.1 265.4h.9v.9h-.9zM258.1 239.3h.9v.9h-.9zM230.1 249.4h.9v.9h-.9zM230.6 261.0h.9v.9h-.9zM239.1 242.7h.9v.9h-.9zM231.5 244.3h.9v.9h-.9zM225.0 229.6h.9v.9h-.9zM229.1 257.9h.9v.9h-.9zM284.8 240.8h.9v.9h-.9z"/>
<path fill="#d0463f" fill-opacity="0.3" d="M227.2 240.4h.9v.9h-.9zM271.2 235.0h.9v.9h-.9zM223.6 253.8h.9v.9h-.9zM268.7 251.2h.9v.9h-.9zM223.2 248.0h.9v.9h-.9zM227.8 235.2h.9v.9h-.9zM227.6 252.2h.9v.9h-.9zM278.1 253.0h.9v.9h-.9zM272.2 236.1h.9v.9h-.9zM268.8 240.8h.9v.9h-.9zM273.8 263.1h.9v.9h-.9zM267.1 250.7h.9v.9h-.9zM228.9 264.5h.9v.9h-.9zM276.1 248.9h.9v.9h-.9zM223.4 230.5h.9v.9h-.9z"/>
<path fill="#d0463f" fill-opacity="0.3" d="M272.2 241.4h.9v.9h-.9zM230.6 246.7h.9v.9h-.9zM276.9 240.8h.9v.9h-.9zM276.7 248.5h.9v.9h-.9zM265.9 248.4h.9v.9h-.9zM229.1 235.4h.9v.9h-.9zM230.8 230.0h.9v.9h-.9zM216.5 257.0h.9v.9h-.9zM267.6 232.0h.9v.9h-.9zM237.2 248.6h.9v.9h-.9zM228.7 232.3h.9v.9h-.9zM274.5 255.0h.9v.9h-.9zM232.1 223.1h.9v.9h-.9zM224.2 234.0h.9v.9h-.9zM227.2 248.1h.9v.9h-.9z"/>
<path fill="#d0463f" fill-opacity="0.3" d="M234.7 251.8h.9v.9h-.9zM225.4 229.6h.9v.9h-.9zM230.9 234.3h.9v.9h-.9zM271.6 252.3h.9v.9h-.9zM227.8 236.4h.9v.9h-.9zM278.0 267.5h.9v.9h-.9zM225.8 240.8h.9v.9h-.9zM229.9 249.0h.9v.9h-.9zM243.0 246.2h.9v.9h-.9zM224.6 239.8h.9v.9h-.9zM274.0 226.5h.9v.9h-.9zM232.8 251.3h.9v.9h-.9zM224.4 258.3h.9v.9h-.9zM228.7 238.5h.9v.9h-.9zM279.6 228.0h.9v.9h-.9z"/>
<path fill="#d0463f" fill-opacity="0.3" d="M278.0 242.2h.9v.9h-.9zM268.9 255.2h.9v.9h-.9zM272.1 260.2h.9v.9h-.9zM279.9 224.3h.9v.9h-.9zM269.6 238.7h.9v.9h-.9zM225.0 240.6h.9v.9h-.9zM273.1 257.6h.9v.9h-.9zM241.9 254.0h.9v.9h-.9zM229.2 236.8h.9v.9h-.9zM228.5 249.4h.9v.9h-.9zM228.5 225.8h.9v.9h-.9zM194.5 255.5h.9v.9h-.9zM227.2 249.7h.9v.9h-.9zM188.6 237.5h.9v.9h-.9zM229.3 241.8h.9v.9h-.9z"/>
<path fill="#d0463f" fill-opacity="0.3" d="M272.3 252.6h.9v.9h-.9zM272.3 239.9h.9v.9h-.9zM230.0 250.6h.9v.9h-.9zM275.8 246.2h.9v.9h-.9zM243.2 279.1h.9v.9h-.9zM275.2 279.2h.9v.9h-.9zM265.1 278.6h.9v.9h-.9zM218.1 278.7h.9v.9h-.9zM232.5 278.9h.9v.9h-.9zM239.8 278.9h.9v.9h-.9zM230.6 279.1h.9v.9h-.9zM205.6 278.7h.9v.9h-.9zM221.0 278.5h.9v.9h-.9zM274.3 278.8h.9v.9h-.9zM270.6 278.9h.9v.9h-.9z"/>
<path fill="#d0463f" fill-opacity="0.3" d="M187.1 278.8h.9v.9h-.9z"/>
<path d="M188.00,256.30 C188.92,255.75 191.69,254.02 193.54,253.00 C195.39,251.99 197.24,251.06 199.08,250.20 C200.93,249.34 202.78,248.55 204.63,247.82 C206.47,247.09 208.32,246.43 210.17,245.80 C212.02,245.18 213.86,244.62 215.71,244.10 C217.56,243.57 219.41,243.10 221.25,242.65 C223.10,242.21 224.95,241.81 226.79,241.43 C228.64,241.06 230.49,240.72 232.34,240.41 C234.18,240.09 236.03,239.82 237.88,239.54 C239.73,239.27 241.57,239.02 243.42,238.77 C245.27,238.52 247.12,238.28 248.96,238.06 C250.81,237.84 252.66,237.64 254.51,237.45 C256.35,237.27 258.20,237.09 260.05,236.93 C261.89,236.77 263.74,236.63 265.59,236.49 C267.44,236.35 269.28,236.23 271.13,236.11 C272.98,235.99 274.83,235.88 276.67,235.78 C278.52,235.68 280.37,235.59 282.22,235.50 C284.06,235.41 285.91,235.33 287.76,235.26 C289.61,235.18 292.38,235.08 293.30,235.05 L293.30,238.25 C292.38,238.28 289.61,238.37 287.76,238.44 C285.91,238.50 284.06,238.58 282.22,238.66 C280.37,238.74 278.52,238.82 276.67,238.92 C274.83,239.01 272.98,239.11 271.13,239.22 C269.28,239.33 267.44,239.45 265.59,239.58 C263.74,239.71 261.89,239.85 260.05,240.01 C258.20,240.16 256.35,240.32 254.51,240.51 C252.66,240.69 250.81,240.88 248.96,241.09 C247.12,241.30 245.27,241.52 243.42,241.78 C241.57,242.04 239.73,242.32 237.88,242.64 C236.03,242.96 234.18,243.31 232.34,243.69 C230.49,244.07 228.64,244.47 226.79,244.91 C224.95,245.34 223.10,245.81 221.25,246.32 C219.41,246.82 217.56,247.36 215.71,247.95 C213.86,248.54 212.02,249.16 210.17,249.85 C208.32,250.53 206.47,251.26 204.63,252.05 C202.78,252.85 200.93,253.69 199.08,254.62 C197.24,255.55 195.39,256.53 193.54,257.61 C191.69,258.69 188.92,260.52 188.00,261.10 Z" fill="#8f8f8f" fill-opacity="0.42"/>
<path d="M186.40,265.40 C187.34,264.85 190.15,263.11 192.03,262.07 C193.90,261.03 195.78,260.06 197.65,259.15 C199.53,258.23 201.40,257.39 203.28,256.58 C205.15,255.78 207.03,255.04 208.91,254.34 C210.78,253.63 212.66,252.98 214.53,252.37 C216.41,251.75 218.28,251.18 220.16,250.64 C222.03,250.10 223.91,249.61 225.78,249.14 C227.66,248.66 229.54,248.23 231.41,247.82 C233.29,247.41 235.16,247.04 237.04,246.67 C238.91,246.30 240.79,245.95 242.66,245.62 C244.54,245.28 246.41,244.95 248.29,244.64 C250.16,244.33 252.04,244.05 253.92,243.78 C255.79,243.51 257.67,243.26 259.54,243.02 C261.42,242.78 263.29,242.56 265.17,242.35 C267.04,242.14 268.92,241.94 270.79,241.75 C272.67,241.57 274.55,241.40 276.42,241.23 C278.30,241.07 280.17,240.91 282.05,240.77 C283.92,240.62 285.80,240.49 287.67,240.36 C289.55,240.23 292.36,240.06 293.30,240.00 L293.30,243.20 C292.36,243.26 289.55,243.42 287.67,243.54 C285.80,243.66 283.92,243.79 282.05,243.93 C280.17,244.06 278.30,244.21 276.42,244.37 C274.55,244.53 272.67,244.69 270.79,244.87 C268.92,245.05 267.04,245.24 265.17,245.44 C263.29,245.65 261.42,245.86 259.54,246.09 C257.67,246.32 255.79,246.57 253.92,246.83 C252.04,247.09 250.16,247.37 248.29,247.67 C246.41,247.97 244.54,248.28 242.66,248.63 C240.79,248.98 238.91,249.35 237.04,249.76 C235.16,250.18 233.29,250.63 231.41,251.10 C229.54,251.58 227.66,252.08 225.78,252.61 C223.91,253.14 222.03,253.70 220.16,254.31 C218.28,254.91 216.41,255.54 214.53,256.22 C212.66,256.90 210.78,257.61 208.91,258.38 C207.03,259.14 205.15,259.95 203.28,260.82 C201.40,261.68 199.53,262.59 197.65,263.57 C195.78,264.55 193.90,265.58 192.03,266.68 C190.15,267.79 187.34,269.61 186.40,270.20 Z" fill="#8f8f8f" fill-opacity="0.42"/>
<path d="M188.00,258.70 C188.92,258.13 191.69,256.36 193.54,255.31 C195.39,254.26 197.24,253.31 199.08,252.41 C200.93,251.52 202.78,250.70 204.63,249.94 C206.47,249.17 208.32,248.48 210.17,247.83 C212.02,247.17 213.86,246.58 215.71,246.02 C217.56,245.47 219.41,244.96 221.25,244.48 C223.10,244.01 224.95,243.58 226.79,243.17 C228.64,242.76 230.49,242.39 232.34,242.05 C234.18,241.70 236.03,241.39 237.88,241.09 C239.73,240.79 241.57,240.53 243.42,240.27 C245.27,240.02 247.12,239.79 248.96,239.58 C250.81,239.36 252.66,239.16 254.51,238.98 C256.35,238.79 258.20,238.63 260.05,238.47 C261.89,238.31 263.74,238.17 265.59,238.04 C267.44,237.90 269.28,237.78 271.13,237.66 C272.98,237.55 274.83,237.45 276.67,237.35 C278.52,237.25 280.37,237.16 282.22,237.08 C284.06,236.99 285.91,236.92 287.76,236.85 C289.61,236.78 292.38,236.68 293.30,236.65" stroke="#4a6fa6" stroke-width="1.25" fill="none"/>
<path d="M186.40,267.80 C187.34,267.23 190.15,265.45 192.03,264.38 C193.90,263.30 195.78,262.30 197.65,261.36 C199.53,260.41 201.40,259.53 203.28,258.70 C205.15,257.87 207.03,257.09 208.91,256.36 C210.78,255.62 212.66,254.94 214.53,254.29 C216.41,253.65 218.28,253.04 220.16,252.47 C222.03,251.90 223.91,251.37 225.78,250.87 C227.66,250.37 229.54,249.90 231.41,249.46 C233.29,249.02 235.16,248.61 237.04,248.22 C238.91,247.83 240.79,247.46 242.66,247.12 C244.54,246.78 246.41,246.46 248.29,246.16 C250.16,245.85 252.04,245.57 253.92,245.30 C255.79,245.04 257.67,244.79 259.54,244.55 C261.42,244.32 263.29,244.10 265.17,243.89 C267.04,243.69 268.92,243.49 270.79,243.31 C272.67,243.13 274.55,242.96 276.42,242.80 C278.30,242.64 280.17,242.49 282.05,242.35 C283.92,242.21 285.80,242.07 287.67,241.95 C289.55,241.82 292.36,241.66 293.30,241.60" stroke="#c9524b" stroke-width="1.25" fill="none"/>
<line x1="168.40" y1="207.60" x2="168.40" y2="283.00" stroke="#1a1a1a" stroke-width="1.5"/>
<rect x="167.20" y="270.40" width="2.4" height="2.8" fill="#fff"/>
<line x1="165.70" y1="271.90" x2="171.10" y2="269.10" stroke="#1a1a1a" stroke-width="0.95"/>
<line x1="165.70" y1="274.90" x2="171.10" y2="272.10" stroke="#1a1a1a" stroke-width="0.95"/>
<line x1="165.40" y1="279.00" x2="168.40" y2="279.00" stroke="#1a1a1a" stroke-width="1.2"/>
<text x="162.80" y="281.95" font-size="8.2" text-anchor="end" fill="#1a1a1a" textLength="4.5" lengthAdjust="spacingAndGlyphs" stroke="#1a1a1a" stroke-width="0.22">0</text>
<line x1="165.40" y1="259.20" x2="168.40" y2="259.20" stroke="#1a1a1a" stroke-width="1.2"/>
<text x="162.80" y="262.15" font-size="8.2" text-anchor="end" fill="#1a1a1a" textLength="4.5" lengthAdjust="spacingAndGlyphs" stroke="#1a1a1a" stroke-width="0.22">1</text>
<line x1="165.40" y1="239.60" x2="168.40" y2="239.60" stroke="#1a1a1a" stroke-width="1.2"/>
<text x="162.80" y="242.55" font-size="8.2" text-anchor="end" fill="#1a1a1a" textLength="4.5" lengthAdjust="spacingAndGlyphs" stroke="#1a1a1a" stroke-width="0.22">2</text>
<line x1="165.40" y1="219.60" x2="168.40" y2="219.60" stroke="#1a1a1a" stroke-width="1.2"/>
<text x="162.80" y="222.55" font-size="8.2" text-anchor="end" fill="#1a1a1a" textLength="4.5" lengthAdjust="spacingAndGlyphs" stroke="#1a1a1a" stroke-width="0.22">3</text>
<line x1="168.40" y1="282.30" x2="293.50" y2="282.30" stroke="#1a1a1a" stroke-width="1.4"/>
<line x1="173.50" y1="282.30" x2="173.50" y2="285.30" stroke="#1a1a1a" stroke-width="1.2"/>
<text x="173.50" y="294.60" font-size="8.2" text-anchor="middle" fill="#1a1a1a" textLength="4.6" lengthAdjust="spacingAndGlyphs" stroke="#1a1a1a" stroke-width="0.22">0</text>
<line x1="201.70" y1="282.30" x2="201.70" y2="285.30" stroke="#1a1a1a" stroke-width="1.2"/>
<text x="201.70" y="294.60" font-size="8.2" text-anchor="middle" fill="#1a1a1a" textLength="9.2" lengthAdjust="spacingAndGlyphs" stroke="#1a1a1a" stroke-width="0.22">50</text>
<line x1="229.90" y1="282.30" x2="229.90" y2="285.30" stroke="#1a1a1a" stroke-width="1.2"/>
<text x="229.90" y="294.60" font-size="8.2" text-anchor="middle" fill="#1a1a1a" textLength="13.799999999999999" lengthAdjust="spacingAndGlyphs" stroke="#1a1a1a" stroke-width="0.22">100</text>
<line x1="258.10" y1="282.30" x2="258.10" y2="285.30" stroke="#1a1a1a" stroke-width="1.2"/>
<text x="258.10" y="294.60" font-size="8.2" text-anchor="middle" fill="#1a1a1a" textLength="13.799999999999999" lengthAdjust="spacingAndGlyphs" stroke="#1a1a1a" stroke-width="0.22">150</text>
<line x1="286.30" y1="282.30" x2="286.30" y2="285.30" stroke="#1a1a1a" stroke-width="1.2"/>
<text x="286.30" y="294.60" font-size="8.2" text-anchor="middle" fill="#1a1a1a" textLength="13.799999999999999" lengthAdjust="spacingAndGlyphs" stroke="#1a1a1a" stroke-width="0.22">200</text>
<text x="230.35" y="201.00" font-size="9.4" text-anchor="middle" fill="#1a1a1a" textLength="59.7" lengthAdjust="spacingAndGlyphs" stroke="#1a1a1a" stroke-width="0.15">All graft types</text>
<text x="230.70" y="307.40" font-size="9.0" text-anchor="middle" fill="#1a1a1a" textLength="65" lengthAdjust="spacingAndGlyphs" stroke="#1a1a1a" stroke-width="0.3">Day from transplant</text>
<line x1="169.60" y1="370.50" x2="293.50" y2="370.50" stroke="#9c9c9c" stroke-width="0.8" stroke-dasharray="1,1.9"/>
<line x1="169.60" y1="381.90" x2="293.50" y2="381.90" stroke="#9c9c9c" stroke-width="0.8" stroke-dasharray="1,1.9"/>
<path fill="#3f63a8" fill-opacity="0.3" d="M199.9 405.6h.9v.9h-.9zM278.2 393.7h.9v.9h-.9zM229.1 402.7h.9v.9h-.9zM196.1 396.6h.9v.9h-.9zM229.6 369.1h.9v.9h-.9zM273.4 385.7h.9v.9h-.9zM224.0 410.6h.9v.9h-.9zM229.4 359.4h.9v.9h-.9zM200.1 374.9h.9v.9h-.9zM275.7 404.8h.9v.9h-.9zM206.1 398.8h.9v.9h-.9zM227.0 384.2h.9v.9h-.9zM277.3 415.4h.9v.9h-.9zM231.0 386.0h.9v.9h-.9zM272.2 404.6h.9v.9h-.9z"/>
<path fill="#3f63a8" fill-opacity="0.3" d="M262.4 403.8h.9v.9h-.9zM272.3 395.0h.9v.9h-.9zM271.6 392.9h.9v.9h-.9zM232.1 402.4h.9v.9h-.9zM268.7 375.4h.9v.9h-.9zM275.5 377.7h.9v.9h-.9zM275.1 367.0h.9v.9h-.9zM276.5 386.2h.9v.9h-.9zM229.1 409.0h.9v.9h-.9zM188.2 394.3h.9v.9h-.9zM254.6 384.5h.9v.9h-.9zM225.5 399.9h.9v.9h-.9zM228.9 372.2h.9v.9h-.9zM229.0 403.3h.9v.9h-.9zM272.4 371.2h.9v.9h-.9z"/>
<path fill="#3f63a8" fill-opacity="0.3" d="M272.6 424.3h.9v.9h-.9zM226.4 399.4h.9v.9h-.9zM238.9 382.7h.9v.9h-.9zM229.0 387.7h.9v.9h-.9zM248.9 387.9h.9v.9h-.9zM281.5 406.8h.9v.9h-.9zM275.1 398.6h.9v.9h-.9zM229.8 406.2h.9v.9h-.9zM225.7 373.5h.9v.9h-.9zM226.5 395.8h.9v.9h-.9zM186.6 380.3h.9v.9h-.9zM226.7 375.6h.9v.9h-.9zM198.9 394.7h.9v.9h-.9zM226.7 393.4h.9v.9h-.9zM226.0 404.8h.9v.9h-.9z"/>
<path fill="#3f63a8" fill-opacity="0.3" d="M227.0 384.5h.9v.9h-.9zM215.6 414.9h.9v.9h-.9zM213.8 373.9h.9v.9h-.9zM206.2 403.0h.9v.9h-.9zM274.7 353.1h.9v.9h-.9zM238.3 399.7h.9v.9h-.9zM272.7 398.7h.9v.9h-.9zM231.3 382.3h.9v.9h-.9zM273.6 381.3h.9v.9h-.9zM217.1 404.6h.9v.9h-.9zM191.7 393.3h.9v.9h-.9zM216.0 418.8h.9v.9h-.9zM276.6 387.9h.9v.9h-.9zM226.4 375.8h.9v.9h-.9zM228.6 394.9h.9v.9h-.9z"/>
<path fill="#3f63a8" fill-opacity="0.3" d="M211.3 407.4h.9v.9h-.9zM271.5 408.6h.9v.9h-.9zM228.2 395.5h.9v.9h-.9zM227.6 385.5h.9v.9h-.9zM193.3 398.0h.9v.9h-.9zM229.3 385.1h.9v.9h-.9zM213.3 393.9h.9v.9h-.9zM273.3 378.2h.9v.9h-.9zM277.4 389.2h.9v.9h-.9zM227.1 390.9h.9v.9h-.9zM227.1 372.5h.9v.9h-.9zM278.9 366.0h.9v.9h-.9zM275.0 375.9h.9v.9h-.9zM282.0 379.4h.9v.9h-.9zM228.5 365.5h.9v.9h-.9z"/>
<path fill="#3f63a8" fill-opacity="0.3" d="M228.1 378.4h.9v.9h-.9zM244.8 398.0h.9v.9h-.9zM230.6 405.5h.9v.9h-.9zM227.6 392.5h.9v.9h-.9zM274.6 401.7h.9v.9h-.9zM276.3 390.1h.9v.9h-.9zM230.2 403.4h.9v.9h-.9zM228.6 393.2h.9v.9h-.9zM226.9 390.0h.9v.9h-.9zM274.9 369.0h.9v.9h-.9zM228.1 399.1h.9v.9h-.9zM251.3 377.6h.9v.9h-.9zM273.3 372.6h.9v.9h-.9zM272.4 388.6h.9v.9h-.9zM278.2 404.7h.9v.9h-.9z"/>
<path fill="#3f63a8" fill-opacity="0.3" d="M226.9 360.8h.9v.9h-.9zM212.7 368.2h.9v.9h-.9zM230.0 408.1h.9v.9h-.9zM284.9 392.8h.9v.9h-.9zM202.7 399.2h.9v.9h-.9zM252.3 366.7h.9v.9h-.9zM215.5 374.8h.9v.9h-.9zM229.1 376.6h.9v.9h-.9zM274.6 411.7h.9v.9h-.9zM227.0 387.9h.9v.9h-.9zM231.3 372.4h.9v.9h-.9zM189.1 407.4h.9v.9h-.9zM272.2 403.5h.9v.9h-.9zM230.2 405.3h.9v.9h-.9zM196.8 363.1h.9v.9h-.9z"/>
<path fill="#3f63a8" fill-opacity="0.3" d="M228.8 395.0h.9v.9h-.9zM227.7 411.7h.9v.9h-.9zM228.1 391.4h.9v.9h-.9zM226.5 391.8h.9v.9h-.9zM196.3 363.1h.9v.9h-.9zM227.9 385.0h.9v.9h-.9zM226.0 396.0h.9v.9h-.9zM266.3 417.0h.9v.9h-.9zM233.6 374.6h.9v.9h-.9zM228.9 406.5h.9v.9h-.9zM239.8 369.4h.9v.9h-.9zM276.7 425.1h.9v.9h-.9zM260.0 422.0h.9v.9h-.9zM226.8 378.1h.9v.9h-.9zM272.9 409.7h.9v.9h-.9z"/>
<path fill="#3f63a8" fill-opacity="0.3" d="M196.9 399.2h.9v.9h-.9zM270.4 398.4h.9v.9h-.9zM221.6 397.7h.9v.9h-.9zM230.4 373.7h.9v.9h-.9zM230.1 411.8h.9v.9h-.9zM237.0 406.5h.9v.9h-.9zM228.5 377.6h.9v.9h-.9zM275.6 410.8h.9v.9h-.9zM274.8 372.3h.9v.9h-.9zM271.4 406.2h.9v.9h-.9zM228.5 425.2h.9v.9h-.9zM226.9 384.0h.9v.9h-.9zM273.7 408.4h.9v.9h-.9zM204.5 379.3h.9v.9h-.9zM218.9 355.6h.9v.9h-.9z"/>
<path fill="#3f63a8" fill-opacity="0.3" d="M228.6 407.2h.9v.9h-.9zM225.2 362.6h.9v.9h-.9zM212.2 416.5h.9v.9h-.9zM216.9 357.8h.9v.9h-.9zM274.8 360.6h.9v.9h-.9zM260.2 359.1h.9v.9h-.9zM213.1 394.5h.9v.9h-.9zM229.0 373.5h.9v.9h-.9zM273.6 396.0h.9v.9h-.9zM266.3 387.6h.9v.9h-.9zM274.7 423.0h.9v.9h-.9zM226.3 393.9h.9v.9h-.9zM242.2 407.0h.9v.9h-.9zM227.3 393.5h.9v.9h-.9zM274.8 381.9h.9v.9h-.9z"/>
<path fill="#3f63a8" fill-opacity="0.3" d="M228.3 411.9h.9v.9h-.9zM225.3 397.2h.9v.9h-.9zM221.4 365.8h.9v.9h-.9zM228.1 401.9h.9v.9h-.9zM231.5 416.0h.9v.9h-.9zM274.8 395.5h.9v.9h-.9zM284.3 378.4h.9v.9h-.9zM269.8 388.4h.9v.9h-.9zM254.3 428.6h.9v.9h-.9zM260.7 429.0h.9v.9h-.9zM190.4 428.9h.9v.9h-.9zM228.6 428.7h.9v.9h-.9zM193.2 428.5h.9v.9h-.9zM192.0 429.2h.9v.9h-.9zM274.5 428.7h.9v.9h-.9z"/>
<path fill="#3f63a8" fill-opacity="0.3" d="M233.0 428.7h.9v.9h-.9zM186.9 428.7h.9v.9h-.9zM226.2 429.2h.9v.9h-.9zM193.3 428.5h.9v.9h-.9zM188.2 429.1h.9v.9h-.9zM229.3 428.6h.9v.9h-.9zM280.5 428.5h.9v.9h-.9zM255.0 428.5h.9v.9h-.9zM274.3 429.1h.9v.9h-.9zM229.8 429.1h.9v.9h-.9zM190.0 428.6h.9v.9h-.9zM230.0 429.1h.9v.9h-.9zM193.0 428.6h.9v.9h-.9zM252.4 429.0h.9v.9h-.9zM231.7 429.1h.9v.9h-.9z"/>
<path fill="#3f63a8" fill-opacity="0.3" d="M193.1 429.0h.9v.9h-.9zM257.4 428.5h.9v.9h-.9zM226.6 429.1h.9v.9h-.9zM275.8 428.5h.9v.9h-.9zM194.3 429.2h.9v.9h-.9zM230.9 428.7h.9v.9h-.9z"/>
<path fill="#d0463f" fill-opacity="0.3" d="M226.6 372.8h.9v.9h-.9zM235.9 404.3h.9v.9h-.9zM187.2 375.2h.9v.9h-.9zM221.1 383.0h.9v.9h-.9zM274.1 370.9h.9v.9h-.9zM228.3 378.8h.9v.9h-.9zM197.0 390.6h.9v.9h-.9zM208.3 403.9h.9v.9h-.9zM227.1 362.2h.9v.9h-.9zM276.0 405.9h.9v.9h-.9zM272.8 390.3h.9v.9h-.9zM225.0 401.4h.9v.9h-.9zM280.3 378.8h.9v.9h-.9zM229.4 398.6h.9v.9h-.9zM227.6 411.2h.9v.9h-.9z"/>
<path fill="#d0463f" fill-opacity="0.3" d="M229.9 397.0h.9v.9h-.9zM272.5 377.4h.9v.9h-.9zM276.7 379.4h.9v.9h-.9zM285.0 402.2h.9v.9h-.9zM227.4 393.0h.9v.9h-.9zM277.9 398.4h.9v.9h-.9zM275.2 404.1h.9v.9h-.9zM283.2 399.5h.9v.9h-.9zM273.6 371.7h.9v.9h-.9zM273.4 390.3h.9v.9h-.9zM278.2 404.7h.9v.9h-.9zM227.0 406.3h.9v.9h-.9zM278.8 413.6h.9v.9h-.9zM229.1 396.8h.9v.9h-.9zM273.1 400.8h.9v.9h-.9z"/>
<path fill="#d0463f" fill-opacity="0.3" d="M226.3 398.5h.9v.9h-.9zM225.9 375.6h.9v.9h-.9zM225.2 403.8h.9v.9h-.9zM271.9 396.9h.9v.9h-.9zM229.1 391.5h.9v.9h-.9zM193.5 416.6h.9v.9h-.9zM197.1 375.9h.9v.9h-.9zM275.4 416.7h.9v.9h-.9zM277.4 377.5h.9v.9h-.9zM273.0 396.6h.9v.9h-.9zM226.0 383.4h.9v.9h-.9zM196.4 393.4h.9v.9h-.9zM287.5 415.9h.9v.9h-.9zM275.6 386.3h.9v.9h-.9zM278.7 391.4h.9v.9h-.9z"/>
<path fill="#d0463f" fill-opacity="0.3" d="M229.1 396.6h.9v.9h-.9zM189.5 378.1h.9v.9h-.9zM276.5 426.7h.9v.9h-.9zM272.7 384.6h.9v.9h-.9zM272.7 382.6h.9v.9h-.9zM229.9 371.9h.9v.9h-.9zM230.2 391.6h.9v.9h-.9zM219.6 394.7h.9v.9h-.9zM196.9 405.1h.9v.9h-.9zM241.4 402.0h.9v.9h-.9zM274.1 399.8h.9v.9h-.9zM229.8 376.6h.9v.9h-.9zM271.3 383.8h.9v.9h-.9zM273.6 403.2h.9v.9h-.9zM213.1 382.6h.9v.9h-.9z"/>
<path fill="#d0463f" fill-opacity="0.3" d="M275.0 376.9h.9v.9h-.9zM266.3 406.6h.9v.9h-.9zM227.7 414.7h.9v.9h-.9zM229.0 389.0h.9v.9h-.9zM271.4 414.8h.9v.9h-.9zM245.8 389.2h.9v.9h-.9zM276.7 402.3h.9v.9h-.9zM199.7 400.9h.9v.9h-.9zM224.1 411.5h.9v.9h-.9zM230.0 399.4h.9v.9h-.9zM224.2 398.0h.9v.9h-.9zM213.1 374.4h.9v.9h-.9zM215.6 394.9h.9v.9h-.9zM221.1 400.1h.9v.9h-.9zM270.7 377.2h.9v.9h-.9z"/>
<path fill="#d0463f" fill-opacity="0.3" d="M229.2 409.7h.9v.9h-.9zM205.3 375.0h.9v.9h-.9zM275.1 385.7h.9v.9h-.9zM285.9 375.6h.9v.9h-.9zM229.1 391.9h.9v.9h-.9zM226.9 405.8h.9v.9h-.9zM277.3 394.5h.9v.9h-.9zM228.7 397.9h.9v.9h-.9zM236.8 385.0h.9v.9h-.9zM274.4 379.8h.9v.9h-.9zM227.5 406.9h.9v.9h-.9zM274.3 382.6h.9v.9h-.9zM272.4 421.1h.9v.9h-.9zM227.7 396.8h.9v.9h-.9zM232.0 393.1h.9v.9h-.9z"/>
<path fill="#d0463f" fill-opacity="0.3" d="M193.1 366.1h.9v.9h-.9zM229.7 392.6h.9v.9h-.9zM194.5 396.9h.9v.9h-.9zM231.3 375.7h.9v.9h-.9zM224.0 415.4h.9v.9h-.9zM192.5 367.7h.9v.9h-.9zM188.1 415.2h.9v.9h-.9zM284.3 374.8h.9v.9h-.9zM271.1 400.2h.9v.9h-.9zM229.1 395.1h.9v.9h-.9zM192.2 373.8h.9v.9h-.9zM184.4 396.7h.9v.9h-.9zM234.0 404.8h.9v.9h-.9zM276.6 404.1h.9v.9h-.9zM277.6 425.6h.9v.9h-.9z"/>
<path fill="#d0463f" fill-opacity="0.3" d="M272.2 392.2h.9v.9h-.9zM231.2 378.7h.9v.9h-.9zM271.3 392.2h.9v.9h-.9zM221.1 375.5h.9v.9h-.9zM197.9 357.6h.9v.9h-.9zM228.2 387.3h.9v.9h-.9zM273.3 393.6h.9v.9h-.9zM286.8 397.3h.9v.9h-.9zM227.8 424.5h.9v.9h-.9zM282.7 398.3h.9v.9h-.9zM227.4 387.8h.9v.9h-.9zM271.3 408.3h.9v.9h-.9zM211.5 378.2h.9v.9h-.9zM228.4 395.3h.9v.9h-.9zM228.8 381.3h.9v.9h-.9z"/>
<path fill="#d0463f" fill-opacity="0.3" d="M225.8 386.0h.9v.9h-.9zM203.8 391.7h.9v.9h-.9zM230.9 383.4h.9v.9h-.9zM274.6 401.4h.9v.9h-.9zM228.7 421.0h.9v.9h-.9zM225.2 394.0h.9v.9h-.9zM221.1 389.5h.9v.9h-.9zM216.1 371.3h.9v.9h-.9zM227.7 385.1h.9v.9h-.9zM230.2 354.2h.9v.9h-.9zM228.1 415.8h.9v.9h-.9zM232.7 398.4h.9v.9h-.9zM182.1 395.9h.9v.9h-.9zM265.6 386.6h.9v.9h-.9zM224.8 410.7h.9v.9h-.9z"/>
<path fill="#d0463f" fill-opacity="0.3" d="M227.8 404.9h.9v.9h-.9zM272.3 399.6h.9v.9h-.9zM271.9 386.8h.9v.9h-.9zM274.4 383.3h.9v.9h-.9zM230.3 390.5h.9v.9h-.9zM195.1 405.6h.9v.9h-.9zM212.5 387.1h.9v.9h-.9zM231.6 359.8h.9v.9h-.9zM231.6 392.1h.9v.9h-.9zM255.3 371.0h.9v.9h-.9zM231.6 368.3h.9v.9h-.9zM197.4 394.8h.9v.9h-.9zM227.4 398.0h.9v.9h-.9zM191.5 374.5h.9v.9h-.9zM274.7 399.6h.9v.9h-.9z"/>
<path fill="#d0463f" fill-opacity="0.3" d="M216.4 379.1h.9v.9h-.9zM228.3 399.1h.9v.9h-.9zM226.8 424.2h.9v.9h-.9zM228.4 388.1h.9v.9h-.9zM263.5 386.4h.9v.9h-.9zM276.4 371.3h.9v.9h-.9zM205.2 388.4h.9v.9h-.9zM228.0 395.5h.9v.9h-.9zM227.8 385.6h.9v.9h-.9zM192.5 362.7h.9v.9h-.9zM227.6 401.8h.9v.9h-.9zM235.3 389.3h.9v.9h-.9zM229.6 378.4h.9v.9h-.9zM227.6 397.7h.9v.9h-.9zM229.6 407.2h.9v.9h-.9z"/>
<path fill="#d0463f" fill-opacity="0.3" d="M226.9 386.6h.9v.9h-.9zM273.2 376.3h.9v.9h-.9zM212.6 411.2h.9v.9h-.9zM279.8 373.7h.9v.9h-.9zM269.4 402.7h.9v.9h-.9zM225.6 404.7h.9v.9h-.9zM244.7 407.3h.9v.9h-.9zM227.4 357.3h.9v.9h-.9zM272.8 395.3h.9v.9h-.9zM279.1 407.1h.9v.9h-.9zM185.6 408.9h.9v.9h-.9zM275.5 409.7h.9v.9h-.9zM228.2 397.1h.9v.9h-.9zM279.5 375.2h.9v.9h-.9zM224.6 398.2h.9v.9h-.9z"/>
<path fill="#d0463f" fill-opacity="0.3" d="M265.7 418.7h.9v.9h-.9zM275.3 386.5h.9v.9h-.9zM224.6 428.6h.9v.9h-.9zM231.2 383.1h.9v.9h-.9zM228.5 390.4h.9v.9h-.9zM275.6 390.3h.9v.9h-.9zM225.1 392.6h.9v.9h-.9zM269.7 395.1h.9v.9h-.9zM230.2 370.4h.9v.9h-.9zM229.3 376.1h.9v.9h-.9zM272.3 388.5h.9v.9h-.9zM277.0 413.2h.9v.9h-.9zM259.3 370.9h.9v.9h-.9zM246.6 380.0h.9v.9h-.9zM199.6 392.5h.9v.9h-.9z"/>
<path fill="#d0463f" fill-opacity="0.3" d="M243.7 406.1h.9v.9h-.9zM227.6 392.4h.9v.9h-.9zM228.7 378.7h.9v.9h-.9zM274.2 382.4h.9v.9h-.9zM228.1 363.2h.9v.9h-.9zM210.9 377.6h.9v.9h-.9zM227.8 412.0h.9v.9h-.9zM211.5 411.4h.9v.9h-.9zM228.5 397.3h.9v.9h-.9zM229.1 371.1h.9v.9h-.9zM272.8 380.9h.9v.9h-.9zM211.7 386.2h.9v.9h-.9zM210.2 397.9h.9v.9h-.9zM226.3 391.5h.9v.9h-.9zM228.0 394.8h.9v.9h-.9z"/>
<path fill="#d0463f" fill-opacity="0.3" d="M275.8 408.6h.9v.9h-.9zM228.6 371.2h.9v.9h-.9zM272.6 387.9h.9v.9h-.9zM228.1 396.6h.9v.9h-.9zM277.6 393.8h.9v.9h-.9zM229.8 389.2h.9v.9h-.9zM186.8 428.8h.9v.9h-.9zM240.8 429.1h.9v.9h-.9zM266.1 429.2h.9v.9h-.9zM269.8 428.5h.9v.9h-.9zM231.4 429.2h.9v.9h-.9zM275.4 428.6h.9v.9h-.9zM270.2 428.9h.9v.9h-.9zM269.2 428.5h.9v.9h-.9zM278.8 429.1h.9v.9h-.9z"/>
<path fill="#d0463f" fill-opacity="0.3" d="M196.4 428.8h.9v.9h-.9zM216.2 428.8h.9v.9h-.9zM190.9 429.0h.9v.9h-.9zM249.4 428.8h.9v.9h-.9zM268.2 428.7h.9v.9h-.9zM226.0 428.6h.9v.9h-.9zM184.6 428.6h.9v.9h-.9zM195.1 429.1h.9v.9h-.9zM229.0 428.9h.9v.9h-.9zM274.4 428.7h.9v.9h-.9zM185.0 429.2h.9v.9h-.9zM272.2 429.2h.9v.9h-.9zM190.8 429.2h.9v.9h-.9zM277.7 428.6h.9v.9h-.9zM185.5 429.0h.9v.9h-.9z"/>
<path fill="#d0463f" fill-opacity="0.3" d="M194.1 428.8h.9v.9h-.9zM186.6 428.7h.9v.9h-.9zM213.4 428.5h.9v.9h-.9zM225.8 428.7h.9v.9h-.9zM228.9 428.5h.9v.9h-.9zM269.4 429.1h.9v.9h-.9zM246.8 428.6h.9v.9h-.9zM188.8 429.2h.9v.9h-.9zM208.9 428.9h.9v.9h-.9zM193.4 428.6h.9v.9h-.9zM279.4 429.2h.9v.9h-.9zM232.5 428.7h.9v.9h-.9zM255.0 428.8h.9v.9h-.9zM272.0 428.9h.9v.9h-.9zM185.8 429.0h.9v.9h-.9z"/>
<path fill="#d0463f" fill-opacity="0.3" d="M189.1 428.5h.9v.9h-.9zM228.8 428.5h.9v.9h-.9zM221.3 429.1h.9v.9h-.9z"/>
<path d="M188.10,407.60 C190.60,406.32 198.62,402.18 203.10,399.94 C207.58,397.71 211.15,395.92 215.00,394.19 C218.85,392.45 222.87,390.78 226.20,389.53 C229.53,388.29 231.93,387.51 235.00,386.70 C238.07,385.89 241.10,385.23 244.60,384.70 C248.10,384.17 252.15,383.75 256.00,383.50 C259.85,383.25 263.70,383.25 267.70,383.20 C271.70,383.15 275.77,383.18 280.00,383.20 C284.23,383.22 290.92,383.28 293.10,383.30 L293.10,386.50 C290.92,386.48 284.23,386.42 280.00,386.40 C275.77,386.38 271.70,386.35 267.70,386.40 C263.70,386.45 259.85,386.45 256.00,386.70 C252.15,386.95 248.10,387.37 244.60,387.90 C241.10,388.43 238.07,389.01 235.00,389.90 C231.93,390.79 229.53,391.78 226.20,393.27 C222.87,394.75 218.85,396.78 215.00,398.81 C211.15,400.84 207.58,402.92 203.10,405.46 C198.62,407.99 190.60,412.58 188.10,414.00 Z" fill="#8f8f8f" fill-opacity="0.42"/>
<path d="M186.50,413.30 C189.27,412.04 198.35,407.91 203.10,405.74 C207.85,403.58 211.15,401.87 215.00,400.29 C218.85,398.70 222.53,397.46 226.20,396.23 C229.87,395.00 233.17,393.92 237.00,392.90 C240.83,391.88 245.37,390.82 249.20,390.10 C253.03,389.38 256.15,389.02 260.00,388.60 C263.85,388.18 268.63,387.87 272.30,387.60 C275.97,387.33 278.53,387.17 282.00,387.00 C285.47,386.83 291.25,386.67 293.10,386.60 L293.10,389.80 C291.25,389.87 285.47,390.03 282.00,390.20 C278.53,390.37 275.97,390.53 272.30,390.80 C268.63,391.07 263.85,391.38 260.00,391.80 C256.15,392.22 253.03,392.58 249.20,393.30 C245.37,394.02 240.83,394.99 237.00,396.10 C233.17,397.21 229.87,398.50 226.20,399.97 C222.53,401.44 218.85,403.03 215.00,404.91 C211.15,406.79 207.85,408.79 203.10,411.26 C198.35,413.72 189.27,418.29 186.50,419.70 Z" fill="#8f8f8f" fill-opacity="0.42"/>
<path d="M188.10,410.80 C190.60,409.45 198.62,405.08 203.10,402.70 C207.58,400.32 211.15,398.38 215.00,396.50 C218.85,394.62 222.87,392.77 226.20,391.40 C229.53,390.03 231.93,389.15 235.00,388.30 C238.07,387.45 241.10,386.83 244.60,386.30 C248.10,385.77 252.15,385.35 256.00,385.10 C259.85,384.85 263.70,384.85 267.70,384.80 C271.70,384.75 275.77,384.78 280.00,384.80 C284.23,384.82 290.92,384.88 293.10,384.90" stroke="#4a6fa6" stroke-width="1.25" fill="none"/>
<path d="M186.50,416.50 C189.27,415.17 198.35,410.82 203.10,408.50 C207.85,406.18 211.15,404.33 215.00,402.60 C218.85,400.87 222.53,399.45 226.20,398.10 C229.87,396.75 233.17,395.57 237.00,394.50 C240.83,393.43 245.37,392.42 249.20,391.70 C253.03,390.98 256.15,390.62 260.00,390.20 C263.85,389.78 268.63,389.47 272.30,389.20 C275.97,388.93 278.53,388.77 282.00,388.60 C285.47,388.43 291.25,388.27 293.10,388.20" stroke="#c9524b" stroke-width="1.25" fill="none"/>
<line x1="168.40" y1="357.40" x2="168.40" y2="433.30" stroke="#1a1a1a" stroke-width="1.5"/>
<rect x="167.20" y="420.40" width="2.4" height="2.8" fill="#fff"/>
<line x1="165.70" y1="421.90" x2="171.10" y2="419.10" stroke="#1a1a1a" stroke-width="0.95"/>
<line x1="165.70" y1="424.90" x2="171.10" y2="422.10" stroke="#1a1a1a" stroke-width="0.95"/>
<line x1="165.40" y1="429.20" x2="168.40" y2="429.20" stroke="#1a1a1a" stroke-width="1.2"/>
<text x="162.80" y="432.15" font-size="8.2" text-anchor="end" fill="#1a1a1a" textLength="4.5" lengthAdjust="spacingAndGlyphs" stroke="#1a1a1a" stroke-width="0.22">0</text>
<line x1="165.40" y1="408.70" x2="168.40" y2="408.70" stroke="#1a1a1a" stroke-width="1.2"/>
<text x="162.80" y="411.65" font-size="8.2" text-anchor="end" fill="#1a1a1a" textLength="4.5" lengthAdjust="spacingAndGlyphs" stroke="#1a1a1a" stroke-width="0.22">1</text>
<line x1="165.40" y1="388.50" x2="168.40" y2="388.50" stroke="#1a1a1a" stroke-width="1.2"/>
<text x="162.80" y="391.45" font-size="8.2" text-anchor="end" fill="#1a1a1a" textLength="4.5" lengthAdjust="spacingAndGlyphs" stroke="#1a1a1a" stroke-width="0.22">2</text>
<line x1="165.40" y1="368.20" x2="168.40" y2="368.20" stroke="#1a1a1a" stroke-width="1.2"/>
<text x="162.80" y="371.15" font-size="8.2" text-anchor="end" fill="#1a1a1a" textLength="4.5" lengthAdjust="spacingAndGlyphs" stroke="#1a1a1a" stroke-width="0.22">3</text>
<line x1="168.40" y1="432.60" x2="293.50" y2="432.60" stroke="#1a1a1a" stroke-width="1.4"/>
<line x1="173.50" y1="432.60" x2="173.50" y2="435.60" stroke="#1a1a1a" stroke-width="1.2"/>
<text x="173.50" y="444.90" font-size="8.2" text-anchor="middle" fill="#1a1a1a" textLength="4.6" lengthAdjust="spacingAndGlyphs" stroke="#1a1a1a" stroke-width="0.22">0</text>
<line x1="201.70" y1="432.60" x2="201.70" y2="435.60" stroke="#1a1a1a" stroke-width="1.2"/>
<text x="201.70" y="444.90" font-size="8.2" text-anchor="middle" fill="#1a1a1a" textLength="9.2" lengthAdjust="spacingAndGlyphs" stroke="#1a1a1a" stroke-width="0.22">50</text>
<line x1="229.90" y1="432.60" x2="229.90" y2="435.60" stroke="#1a1a1a" stroke-width="1.2"/>
<text x="229.90" y="444.90" font-size="8.2" text-anchor="middle" fill="#1a1a1a" textLength="13.799999999999999" lengthAdjust="spacingAndGlyphs" stroke="#1a1a1a" stroke-width="0.22">100</text>
<line x1="258.10" y1="432.60" x2="258.10" y2="435.60" stroke="#1a1a1a" stroke-width="1.2"/>
<text x="258.10" y="444.90" font-size="8.2" text-anchor="middle" fill="#1a1a1a" textLength="13.799999999999999" lengthAdjust="spacingAndGlyphs" stroke="#1a1a1a" stroke-width="0.22">150</text>
<line x1="286.30" y1="432.60" x2="286.30" y2="435.60" stroke="#1a1a1a" stroke-width="1.2"/>
<text x="286.30" y="444.90" font-size="8.2" text-anchor="middle" fill="#1a1a1a" textLength="13.799999999999999" lengthAdjust="spacingAndGlyphs" stroke="#1a1a1a" stroke-width="0.22">200</text>
<text x="230.35" y="342.00" font-size="9.4" text-anchor="middle" fill="#1a1a1a" textLength="59.7" lengthAdjust="spacingAndGlyphs" stroke="#1a1a1a" stroke-width="0.15">All graft types</text>
<text x="230.70" y="457.20" font-size="9.0" text-anchor="middle" fill="#1a1a1a" textLength="65" lengthAdjust="spacingAndGlyphs" stroke="#1a1a1a" stroke-width="0.3">Day from transplant</text>
<line x1="169.60" y1="520.80" x2="293.50" y2="520.80" stroke="#9c9c9c" stroke-width="0.8" stroke-dasharray="1,1.9"/>
<line x1="169.60" y1="537.60" x2="293.50" y2="537.60" stroke="#9c9c9c" stroke-width="0.8" stroke-dasharray="1,1.9"/>
<path fill="#3f63a8" fill-opacity="0.3" d="M234.7 531.9h.9v.9h-.9zM229.4 527.0h.9v.9h-.9zM183.6 556.6h.9v.9h-.9zM227.9 516.1h.9v.9h-.9zM270.2 540.1h.9v.9h-.9zM195.8 552.5h.9v.9h-.9zM225.6 513.7h.9v.9h-.9zM232.6 544.4h.9v.9h-.9zM228.5 530.0h.9v.9h-.9zM278.1 545.8h.9v.9h-.9zM205.3 535.8h.9v.9h-.9zM266.0 545.4h.9v.9h-.9zM276.8 534.5h.9v.9h-.9zM271.8 524.0h.9v.9h-.9zM228.4 548.8h.9v.9h-.9z"/>
<path fill="#3f63a8" fill-opacity="0.3" d="M273.3 555.3h.9v.9h-.9zM287.8 551.8h.9v.9h-.9zM270.6 538.4h.9v.9h-.9zM278.7 543.7h.9v.9h-.9zM225.9 548.5h.9v.9h-.9zM228.6 514.7h.9v.9h-.9zM273.7 540.2h.9v.9h-.9zM228.9 511.6h.9v.9h-.9zM227.1 527.0h.9v.9h-.9zM229.2 519.1h.9v.9h-.9zM193.6 525.9h.9v.9h-.9zM249.6 546.0h.9v.9h-.9zM229.5 511.8h.9v.9h-.9zM204.7 525.6h.9v.9h-.9zM228.8 551.3h.9v.9h-.9z"/>
<path fill="#3f63a8" fill-opacity="0.3" d="M226.9 528.5h.9v.9h-.9zM268.7 527.8h.9v.9h-.9zM272.6 543.7h.9v.9h-.9zM191.5 569.5h.9v.9h-.9zM271.9 515.4h.9v.9h-.9zM274.3 557.8h.9v.9h-.9zM276.0 541.2h.9v.9h-.9zM229.5 548.3h.9v.9h-.9zM230.3 524.7h.9v.9h-.9zM283.1 542.1h.9v.9h-.9zM226.7 559.0h.9v.9h-.9zM189.5 542.4h.9v.9h-.9zM195.0 540.8h.9v.9h-.9zM227.3 521.5h.9v.9h-.9zM226.3 525.4h.9v.9h-.9z"/>
<path fill="#3f63a8" fill-opacity="0.3" d="M232.3 524.1h.9v.9h-.9zM190.5 523.3h.9v.9h-.9zM275.7 544.0h.9v.9h-.9zM276.5 540.6h.9v.9h-.9zM226.8 531.0h.9v.9h-.9zM227.0 538.1h.9v.9h-.9zM275.7 554.5h.9v.9h-.9zM234.6 531.3h.9v.9h-.9zM227.1 529.1h.9v.9h-.9zM233.5 549.4h.9v.9h-.9zM271.5 524.4h.9v.9h-.9zM272.4 551.6h.9v.9h-.9zM273.4 531.1h.9v.9h-.9zM285.2 523.2h.9v.9h-.9zM269.1 552.5h.9v.9h-.9z"/>
<path fill="#3f63a8" fill-opacity="0.3" d="M229.5 541.4h.9v.9h-.9zM285.6 539.5h.9v.9h-.9zM207.7 537.8h.9v.9h-.9zM270.1 544.0h.9v.9h-.9zM271.1 550.0h.9v.9h-.9zM227.5 544.1h.9v.9h-.9zM227.6 551.4h.9v.9h-.9zM227.4 533.5h.9v.9h-.9zM276.7 553.1h.9v.9h-.9zM225.3 536.3h.9v.9h-.9zM228.5 564.1h.9v.9h-.9zM194.3 552.5h.9v.9h-.9zM229.4 528.5h.9v.9h-.9zM276.3 530.7h.9v.9h-.9zM272.1 523.5h.9v.9h-.9z"/>
<path fill="#3f63a8" fill-opacity="0.3" d="M278.0 520.8h.9v.9h-.9zM231.9 542.4h.9v.9h-.9zM227.2 539.2h.9v.9h-.9zM230.7 553.6h.9v.9h-.9zM279.2 507.4h.9v.9h-.9zM189.8 536.1h.9v.9h-.9zM227.7 545.2h.9v.9h-.9zM229.3 535.8h.9v.9h-.9zM272.9 548.4h.9v.9h-.9zM181.6 543.5h.9v.9h-.9zM227.8 534.7h.9v.9h-.9zM210.8 527.0h.9v.9h-.9zM202.0 514.9h.9v.9h-.9zM230.5 543.4h.9v.9h-.9zM229.8 533.6h.9v.9h-.9z"/>
<path fill="#3f63a8" fill-opacity="0.3" d="M244.0 520.5h.9v.9h-.9zM272.1 550.7h.9v.9h-.9zM277.5 537.5h.9v.9h-.9zM274.9 523.1h.9v.9h-.9zM229.0 524.4h.9v.9h-.9zM228.6 543.5h.9v.9h-.9zM246.9 538.1h.9v.9h-.9zM228.8 526.1h.9v.9h-.9zM274.1 541.2h.9v.9h-.9zM230.7 551.7h.9v.9h-.9zM194.4 526.1h.9v.9h-.9zM215.0 582.8h.9v.9h-.9z"/>
<path fill="#d0463f" fill-opacity="0.3" d="M228.8 520.5h.9v.9h-.9zM272.7 533.8h.9v.9h-.9zM276.5 553.1h.9v.9h-.9zM260.4 520.6h.9v.9h-.9zM230.7 537.6h.9v.9h-.9zM226.5 502.9h.9v.9h-.9zM274.3 539.4h.9v.9h-.9zM277.2 538.5h.9v.9h-.9zM230.1 534.3h.9v.9h-.9zM282.9 534.2h.9v.9h-.9zM272.8 540.0h.9v.9h-.9zM226.4 542.7h.9v.9h-.9zM271.6 543.5h.9v.9h-.9zM274.7 512.1h.9v.9h-.9zM198.9 536.7h.9v.9h-.9z"/>
<path fill="#d0463f" fill-opacity="0.3" d="M197.9 529.5h.9v.9h-.9zM271.0 526.3h.9v.9h-.9zM267.6 514.1h.9v.9h-.9zM192.5 521.9h.9v.9h-.9zM228.6 525.8h.9v.9h-.9zM224.1 549.5h.9v.9h-.9zM274.4 543.0h.9v.9h-.9zM232.1 533.8h.9v.9h-.9zM274.6 564.8h.9v.9h-.9zM214.6 535.3h.9v.9h-.9zM272.8 537.1h.9v.9h-.9zM226.1 524.8h.9v.9h-.9zM227.6 542.7h.9v.9h-.9zM276.2 560.2h.9v.9h-.9zM229.7 525.1h.9v.9h-.9z"/>
<path fill="#d0463f" fill-opacity="0.3" d="M226.8 545.0h.9v.9h-.9zM228.7 528.3h.9v.9h-.9zM229.7 541.9h.9v.9h-.9zM226.7 543.8h.9v.9h-.9zM226.8 539.1h.9v.9h-.9zM222.1 533.4h.9v.9h-.9zM228.6 526.1h.9v.9h-.9zM192.9 530.3h.9v.9h-.9zM272.7 545.9h.9v.9h-.9zM227.8 525.3h.9v.9h-.9zM230.2 533.6h.9v.9h-.9zM232.3 555.3h.9v.9h-.9zM229.8 529.9h.9v.9h-.9zM266.4 540.0h.9v.9h-.9zM221.7 536.2h.9v.9h-.9z"/>
<path fill="#d0463f" fill-opacity="0.3" d="M228.4 534.3h.9v.9h-.9zM197.2 540.2h.9v.9h-.9zM278.7 529.1h.9v.9h-.9zM223.4 534.5h.9v.9h-.9zM209.2 557.6h.9v.9h-.9zM191.8 536.8h.9v.9h-.9zM228.5 541.7h.9v.9h-.9zM273.1 533.1h.9v.9h-.9zM226.2 515.4h.9v.9h-.9zM207.7 552.2h.9v.9h-.9zM228.0 546.2h.9v.9h-.9zM274.9 519.0h.9v.9h-.9zM251.4 518.1h.9v.9h-.9zM288.4 542.8h.9v.9h-.9zM276.6 541.8h.9v.9h-.9z"/>
<path fill="#d0463f" fill-opacity="0.3" d="M200.3 547.0h.9v.9h-.9zM274.8 545.1h.9v.9h-.9zM230.2 549.1h.9v.9h-.9zM225.6 533.2h.9v.9h-.9zM276.2 534.2h.9v.9h-.9zM273.3 544.6h.9v.9h-.9zM227.7 529.3h.9v.9h-.9zM279.2 534.2h.9v.9h-.9zM227.2 532.3h.9v.9h-.9zM257.2 532.8h.9v.9h-.9zM274.8 511.1h.9v.9h-.9zM231.3 526.8h.9v.9h-.9zM229.7 560.4h.9v.9h-.9zM227.2 515.1h.9v.9h-.9zM227.7 542.8h.9v.9h-.9z"/>
<path fill="#d0463f" fill-opacity="0.3" d="M256.3 532.8h.9v.9h-.9zM182.5 542.4h.9v.9h-.9zM276.4 539.1h.9v.9h-.9zM287.4 553.3h.9v.9h-.9zM227.9 506.3h.9v.9h-.9zM229.0 542.8h.9v.9h-.9zM231.1 526.4h.9v.9h-.9zM240.2 519.2h.9v.9h-.9zM191.8 548.8h.9v.9h-.9zM228.3 527.9h.9v.9h-.9zM227.4 536.0h.9v.9h-.9zM252.1 537.9h.9v.9h-.9zM225.4 536.9h.9v.9h-.9zM225.9 551.3h.9v.9h-.9zM227.2 551.4h.9v.9h-.9z"/>
<path fill="#d0463f" fill-opacity="0.3" d="M277.0 534.7h.9v.9h-.9zM270.9 521.7h.9v.9h-.9zM227.4 542.8h.9v.9h-.9zM255.2 539.7h.9v.9h-.9zM189.2 536.0h.9v.9h-.9zM229.2 565.6h.9v.9h-.9zM271.2 536.2h.9v.9h-.9zM227.2 525.5h.9v.9h-.9zM273.2 566.5h.9v.9h-.9zM241.7 544.6h.9v.9h-.9zM258.4 533.4h.9v.9h-.9zM228.5 543.7h.9v.9h-.9zM223.9 523.3h.9v.9h-.9zM279.0 549.2h.9v.9h-.9zM194.1 537.0h.9v.9h-.9z"/>
<path fill="#d0463f" fill-opacity="0.3" d="M274.6 537.9h.9v.9h-.9zM283.9 526.9h.9v.9h-.9zM228.1 549.2h.9v.9h-.9zM274.7 517.0h.9v.9h-.9zM240.1 540.3h.9v.9h-.9zM276.4 547.9h.9v.9h-.9zM229.7 532.9h.9v.9h-.9zM274.7 524.6h.9v.9h-.9zM225.1 553.8h.9v.9h-.9zM222.3 513.9h.9v.9h-.9zM271.8 547.7h.9v.9h-.9zM276.0 537.5h.9v.9h-.9zM226.3 548.9h.9v.9h-.9zM276.1 559.0h.9v.9h-.9zM255.4 551.9h.9v.9h-.9z"/>
<path fill="#d0463f" fill-opacity="0.3" d="M254.5 551.5h.9v.9h-.9zM276.5 545.6h.9v.9h-.9zM240.1 512.6h.9v.9h-.9zM225.9 525.8h.9v.9h-.9zM226.8 542.6h.9v.9h-.9zM228.6 547.1h.9v.9h-.9zM278.1 550.3h.9v.9h-.9zM279.7 582.5h.9v.9h-.9zM271.3 583.1h.9v.9h-.9zM195.4 582.9h.9v.9h-.9zM226.8 582.5h.9v.9h-.9zM207.2 582.9h.9v.9h-.9z"/>
<path d="M187.50,557.70 C188.75,556.81 192.08,554.18 195.00,552.34 C197.92,550.50 201.33,548.55 205.00,546.68 C208.67,544.81 212.70,542.97 217.00,541.12 C221.30,539.27 226.30,537.04 230.80,535.57 C235.30,534.11 239.67,533.09 244.00,532.33 C248.33,531.56 253.13,531.21 256.80,530.98 C260.47,530.76 262.80,530.89 266.00,530.99 C269.20,531.09 271.53,531.25 276.00,531.60 C280.47,531.95 290.00,532.85 292.80,533.10 L292.80,539.10 C290.00,538.75 280.47,537.55 276.00,537.00 C271.53,536.45 269.20,536.07 266.00,535.81 C262.80,535.54 260.47,535.24 256.80,535.42 C253.13,535.59 248.33,536.07 244.00,536.87 C239.67,537.67 235.30,538.73 230.80,540.23 C226.30,541.73 221.30,543.83 217.00,545.88 C212.70,547.93 208.67,550.22 205.00,552.52 C201.33,554.81 197.92,557.33 195.00,559.66 C192.08,561.99 188.75,565.36 187.50,566.50 Z" fill="#8f8f8f" fill-opacity="0.42"/>
<path d="M186.10,564.99 C187.25,563.74 190.37,560.06 193.00,557.49 C195.63,554.92 198.23,552.14 201.90,549.59 C205.57,547.04 210.18,544.41 215.00,542.19 C219.82,539.97 225.97,537.86 230.80,536.29 C235.63,534.72 239.67,533.64 244.00,532.79 C248.33,531.94 253.63,531.39 256.80,531.19 C259.97,530.99 260.60,531.12 263.00,531.59 C265.40,532.06 268.37,533.42 271.20,533.99 C274.03,534.56 276.40,534.76 280.00,534.99 C283.60,535.22 290.67,535.32 292.80,535.39 L292.80,535.41 C290.67,535.34 283.60,535.24 280.00,535.01 C276.40,534.78 274.03,534.58 271.20,534.01 C268.37,533.44 265.40,532.08 263.00,531.61 C260.60,531.14 259.97,531.01 256.80,531.21 C253.63,531.41 248.33,531.96 244.00,532.81 C239.67,533.66 235.63,534.74 230.80,536.31 C225.97,537.88 219.82,539.99 215.00,542.21 C210.18,544.43 205.57,547.06 201.90,549.61 C198.23,552.16 195.63,554.94 193.00,557.51 C190.37,560.08 187.25,563.76 186.10,565.01 Z" fill="#8f8f8f" fill-opacity="0"/>
<path d="M187.50,562.10 C188.75,561.08 192.08,558.08 195.00,556.00 C197.92,553.92 201.33,551.68 205.00,549.60 C208.67,547.52 212.70,545.45 217.00,543.50 C221.30,541.55 226.30,539.38 230.80,537.90 C235.30,536.42 239.67,535.38 244.00,534.60 C248.33,533.82 253.13,533.40 256.80,533.20 C260.47,533.00 262.80,533.22 266.00,533.40 C269.20,533.58 271.53,533.85 276.00,534.30 C280.47,534.75 290.00,535.80 292.80,536.10" stroke="#4a6fa6" stroke-width="1.25" fill="none"/>
<path d="M186.10,565.00 C187.25,563.75 190.37,560.07 193.00,557.50 C195.63,554.93 198.23,552.15 201.90,549.60 C205.57,547.05 210.18,544.42 215.00,542.20 C219.82,539.98 225.97,537.87 230.80,536.30 C235.63,534.73 239.67,533.65 244.00,532.80 C248.33,531.95 253.63,531.40 256.80,531.20 C259.97,531.00 260.60,531.13 263.00,531.60 C265.40,532.07 268.37,533.43 271.20,534.00 C274.03,534.57 276.40,534.77 280.00,535.00 C283.60,535.23 290.67,535.33 292.80,535.40" stroke="#c9524b" stroke-width="1.25" fill="none"/>
<line x1="168.40" y1="495.30" x2="168.40" y2="588.70" stroke="#1a1a1a" stroke-width="1.5"/>
<rect x="167.20" y="574.40" width="2.4" height="2.8" fill="#fff"/>
<line x1="165.70" y1="575.90" x2="171.10" y2="573.10" stroke="#1a1a1a" stroke-width="0.95"/>
<line x1="165.70" y1="578.90" x2="171.10" y2="576.10" stroke="#1a1a1a" stroke-width="0.95"/>
<line x1="165.40" y1="583.20" x2="168.40" y2="583.20" stroke="#1a1a1a" stroke-width="1.2"/>
<text x="162.80" y="586.15" font-size="8.2" text-anchor="end" fill="#1a1a1a" textLength="4.5" lengthAdjust="spacingAndGlyphs" stroke="#1a1a1a" stroke-width="0.22">0</text>
<line x1="165.40" y1="559.70" x2="168.40" y2="559.70" stroke="#1a1a1a" stroke-width="1.2"/>
<text x="162.80" y="562.65" font-size="8.2" text-anchor="end" fill="#1a1a1a" textLength="4.5" lengthAdjust="spacingAndGlyphs" stroke="#1a1a1a" stroke-width="0.22">1</text>
<line x1="165.40" y1="536.20" x2="168.40" y2="536.20" stroke="#1a1a1a" stroke-width="1.2"/>
<text x="162.80" y="539.15" font-size="8.2" text-anchor="end" fill="#1a1a1a" textLength="4.5" lengthAdjust="spacingAndGlyphs" stroke="#1a1a1a" stroke-width="0.22">2</text>
<line x1="165.40" y1="512.30" x2="168.40" y2="512.30" stroke="#1a1a1a" stroke-width="1.2"/>
<text x="162.80" y="515.25" font-size="8.2" text-anchor="end" fill="#1a1a1a" textLength="4.5" lengthAdjust="spacingAndGlyphs" stroke="#1a1a1a" stroke-width="0.22">3</text>
<line x1="168.40" y1="588.00" x2="293.50" y2="588.00" stroke="#1a1a1a" stroke-width="1.4"/>
<line x1="173.50" y1="588.00" x2="173.50" y2="591.00" stroke="#1a1a1a" stroke-width="1.2"/>
<text x="173.50" y="600.30" font-size="8.2" text-anchor="middle" fill="#1a1a1a" textLength="4.6" lengthAdjust="spacingAndGlyphs" stroke="#1a1a1a" stroke-width="0.22">0</text>
<line x1="201.70" y1="588.00" x2="201.70" y2="591.00" stroke="#1a1a1a" stroke-width="1.2"/>
<text x="201.70" y="600.30" font-size="8.2" text-anchor="middle" fill="#1a1a1a" textLength="9.2" lengthAdjust="spacingAndGlyphs" stroke="#1a1a1a" stroke-width="0.22">50</text>
<line x1="229.90" y1="588.00" x2="229.90" y2="591.00" stroke="#1a1a1a" stroke-width="1.2"/>
<text x="229.90" y="600.30" font-size="8.2" text-anchor="middle" fill="#1a1a1a" textLength="13.799999999999999" lengthAdjust="spacingAndGlyphs" stroke="#1a1a1a" stroke-width="0.22">100</text>
<line x1="258.10" y1="588.00" x2="258.10" y2="591.00" stroke="#1a1a1a" stroke-width="1.2"/>
<text x="258.10" y="600.30" font-size="8.2" text-anchor="middle" fill="#1a1a1a" textLength="13.799999999999999" lengthAdjust="spacingAndGlyphs" stroke="#1a1a1a" stroke-width="0.22">150</text>
<line x1="286.30" y1="588.00" x2="286.30" y2="591.00" stroke="#1a1a1a" stroke-width="1.2"/>
<text x="286.30" y="600.30" font-size="8.2" text-anchor="middle" fill="#1a1a1a" textLength="13.799999999999999" lengthAdjust="spacingAndGlyphs" stroke="#1a1a1a" stroke-width="0.22">200</text>
<text x="230.35" y="493.60" font-size="9.4" text-anchor="middle" fill="#1a1a1a" textLength="59.7" lengthAdjust="spacingAndGlyphs" stroke="#1a1a1a" stroke-width="0.15">All graft types</text>
<text x="230.70" y="611.20" font-size="9.0" text-anchor="middle" fill="#1a1a1a" textLength="65" lengthAdjust="spacingAndGlyphs" stroke="#1a1a1a" stroke-width="0.3">Day from transplant</text>
<line x1="321.50" y1="218.50" x2="381.50" y2="218.50" stroke="#9c9c9c" stroke-width="0.8" stroke-dasharray="1,1.9"/>
<line x1="384.80" y1="218.50" x2="446.00" y2="218.50" stroke="#9c9c9c" stroke-width="0.8" stroke-dasharray="1,1.9"/>
<line x1="449.90" y1="218.50" x2="511.00" y2="218.50" stroke="#9c9c9c" stroke-width="0.8" stroke-dasharray="1,1.9"/>
<line x1="321.50" y1="226.60" x2="381.50" y2="226.60" stroke="#9c9c9c" stroke-width="0.8" stroke-dasharray="1,1.9"/>
<line x1="384.80" y1="226.60" x2="446.00" y2="226.60" stroke="#9c9c9c" stroke-width="0.8" stroke-dasharray="1,1.9"/>
<line x1="449.90" y1="226.60" x2="511.00" y2="226.60" stroke="#9c9c9c" stroke-width="0.8" stroke-dasharray="1,1.9"/>
<line x1="321.50" y1="233.60" x2="381.50" y2="233.60" stroke="#dedede" stroke-width="1.4"/>
<line x1="384.80" y1="233.60" x2="446.00" y2="233.60" stroke="#dedede" stroke-width="1.4"/>
<line x1="449.90" y1="233.60" x2="511.00" y2="233.60" stroke="#dedede" stroke-width="1.4"/>
<line x1="321.50" y1="245.90" x2="381.50" y2="245.90" stroke="#dedede" stroke-width="1.4"/>
<line x1="384.80" y1="245.90" x2="446.00" y2="245.90" stroke="#dedede" stroke-width="1.4"/>
<line x1="449.90" y1="245.90" x2="511.00" y2="245.90" stroke="#dedede" stroke-width="1.4"/>
<path fill="#3f63a8" fill-opacity="0.3" d="M351.0 242.6h.9v.9h-.9zM338.7 228.0h.9v.9h-.9zM372.1 238.0h.9v.9h-.9zM365.8 243.8h.9v.9h-.9zM351.8 260.3h.9v.9h-.9zM349.7 265.6h.9v.9h-.9zM351.2 238.6h.9v.9h-.9zM349.0 252.4h.9v.9h-.9zM354.1 235.2h.9v.9h-.9zM351.1 243.8h.9v.9h-.9zM350.5 252.3h.9v.9h-.9zM368.0 234.7h.9v.9h-.9zM351.3 240.7h.9v.9h-.9zM349.6 243.1h.9v.9h-.9z"/>
<path fill="#d0463f" fill-opacity="0.3" d="M343.4 224.4h.9v.9h-.9zM375.6 219.5h.9v.9h-.9zM373.8 233.4h.9v.9h-.9zM356.9 244.7h.9v.9h-.9zM373.3 254.9h.9v.9h-.9zM357.8 255.8h.9v.9h-.9zM375.3 261.0h.9v.9h-.9zM349.5 234.7h.9v.9h-.9zM349.1 253.5h.9v.9h-.9zM372.1 228.8h.9v.9h-.9zM337.0 249.9h.9v.9h-.9zM351.6 245.8h.9v.9h-.9zM350.0 224.8h.9v.9h-.9zM374.7 237.0h.9v.9h-.9zM347.6 258.3h.9v.9h-.9z"/>
<path fill="#d0463f" fill-opacity="0.3" d="M369.1 243.8h.9v.9h-.9zM379.9 239.7h.9v.9h-.9zM346.7 245.7h.9v.9h-.9zM374.5 235.7h.9v.9h-.9zM350.8 233.5h.9v.9h-.9zM351.3 245.9h.9v.9h-.9z"/>
<path d="M330.60,249.60 C331.96,248.76 335.73,246.20 338.75,244.58 C341.77,242.96 345.00,241.32 348.75,239.86 C352.50,238.40 357.54,236.80 361.25,235.82 C364.96,234.84 367.67,234.50 371.00,233.96 C374.33,233.42 379.54,232.83 381.25,232.60 L381.25,235.40 C379.54,235.57 374.33,236.01 371.00,236.44 C367.67,236.87 364.96,236.93 361.25,237.98 C357.54,239.03 352.50,240.87 348.75,242.74 C345.00,244.61 341.77,247.01 338.75,249.22 C335.73,251.43 331.96,254.87 330.60,256.00 Z" fill="#8f8f8f" fill-opacity="0.42"/>
<path d="M334.40,240.70 C336.79,240.57 343.65,240.43 348.75,239.92 C353.85,239.41 359.58,238.46 365.00,237.63 C370.42,236.81 378.54,235.40 381.25,234.95 L381.25,237.55 C378.54,237.89 370.42,238.73 365.00,239.57 C359.58,240.41 353.85,241.59 348.75,242.58 C343.65,243.57 336.79,245.01 334.40,245.50 Z" fill="#8f8f8f" fill-opacity="0.42"/>
<path d="M330.60,252.80 C331.96,251.82 335.73,248.82 338.75,246.90 C341.77,244.98 345.00,242.97 348.75,241.30 C352.50,239.63 357.54,237.92 361.25,236.90 C364.96,235.88 367.67,235.68 371.00,235.20 C374.33,234.72 379.54,234.20 381.25,234.00" stroke="#4a6fa6" stroke-width="1.25" fill="none"/>
<path d="M334.40,243.10 C336.79,242.79 343.65,242.00 348.75,241.25 C353.85,240.50 359.58,239.43 365.00,238.60 C370.42,237.77 378.54,236.64 381.25,236.25" stroke="#c9524b" stroke-width="1.25" fill="none"/>
<path fill="#3f63a8" fill-opacity="0.3" d="M424.2 235.1h.9v.9h-.9zM414.8 249.6h.9v.9h-.9zM413.9 234.2h.9v.9h-.9zM424.1 237.1h.9v.9h-.9zM414.4 225.9h.9v.9h-.9zM437.8 233.6h.9v.9h-.9zM437.3 257.8h.9v.9h-.9zM412.7 236.1h.9v.9h-.9zM391.4 235.1h.9v.9h-.9zM407.9 248.8h.9v.9h-.9zM439.7 238.2h.9v.9h-.9zM396.7 256.2h.9v.9h-.9zM440.1 268.5h.9v.9h-.9zM442.6 241.6h.9v.9h-.9zM412.9 233.6h.9v.9h-.9z"/>
<path fill="#3f63a8" fill-opacity="0.3" d="M438.7 240.8h.9v.9h-.9zM415.1 248.8h.9v.9h-.9zM440.3 244.8h.9v.9h-.9zM415.3 220.4h.9v.9h-.9zM413.7 256.9h.9v.9h-.9zM436.5 234.5h.9v.9h-.9zM415.5 257.2h.9v.9h-.9zM398.6 266.4h.9v.9h-.9zM437.2 239.5h.9v.9h-.9zM427.8 256.9h.9v.9h-.9zM414.7 230.5h.9v.9h-.9zM415.5 266.2h.9v.9h-.9zM410.6 259.7h.9v.9h-.9zM437.1 225.4h.9v.9h-.9zM437.7 232.6h.9v.9h-.9z"/>
<path fill="#3f63a8" fill-opacity="0.3" d="M430.4 236.0h.9v.9h-.9zM437.4 233.9h.9v.9h-.9zM414.0 222.5h.9v.9h-.9zM413.9 239.3h.9v.9h-.9zM413.9 217.1h.9v.9h-.9zM413.9 239.8h.9v.9h-.9zM436.5 250.3h.9v.9h-.9zM412.2 241.2h.9v.9h-.9zM438.6 241.3h.9v.9h-.9zM438.2 230.1h.9v.9h-.9zM413.5 238.5h.9v.9h-.9zM444.5 250.0h.9v.9h-.9zM408.2 234.6h.9v.9h-.9zM435.9 235.8h.9v.9h-.9zM437.2 240.8h.9v.9h-.9z"/>
<path fill="#3f63a8" fill-opacity="0.3" d="M402.2 243.8h.9v.9h-.9zM437.4 251.6h.9v.9h-.9zM413.2 245.7h.9v.9h-.9z"/>
<path fill="#d0463f" fill-opacity="0.3" d="M415.2 261.2h.9v.9h-.9zM414.9 258.2h.9v.9h-.9zM419.0 246.1h.9v.9h-.9zM412.6 243.8h.9v.9h-.9zM427.0 240.3h.9v.9h-.9zM424.7 222.5h.9v.9h-.9zM427.5 238.9h.9v.9h-.9zM413.6 228.0h.9v.9h-.9zM401.8 238.4h.9v.9h-.9zM419.9 230.8h.9v.9h-.9zM415.1 248.0h.9v.9h-.9zM438.2 236.0h.9v.9h-.9zM434.9 256.1h.9v.9h-.9zM434.9 261.3h.9v.9h-.9zM407.2 231.3h.9v.9h-.9z"/>
<path fill="#d0463f" fill-opacity="0.3" d="M415.2 259.6h.9v.9h-.9zM440.7 234.5h.9v.9h-.9zM436.7 233.2h.9v.9h-.9zM414.4 227.1h.9v.9h-.9zM438.7 231.0h.9v.9h-.9zM437.4 250.4h.9v.9h-.9zM436.2 223.5h.9v.9h-.9zM414.2 227.4h.9v.9h-.9zM435.9 240.9h.9v.9h-.9zM415.0 222.1h.9v.9h-.9zM436.3 248.6h.9v.9h-.9zM412.6 220.3h.9v.9h-.9zM399.7 248.6h.9v.9h-.9zM415.4 230.5h.9v.9h-.9zM424.4 258.3h.9v.9h-.9z"/>
<path fill="#d0463f" fill-opacity="0.3" d="M438.2 249.0h.9v.9h-.9zM415.3 236.5h.9v.9h-.9zM434.9 224.4h.9v.9h-.9zM437.9 234.2h.9v.9h-.9zM407.0 230.6h.9v.9h-.9zM425.3 255.8h.9v.9h-.9zM438.6 258.2h.9v.9h-.9zM436.1 244.0h.9v.9h-.9zM435.0 244.1h.9v.9h-.9zM439.6 228.8h.9v.9h-.9zM436.9 244.9h.9v.9h-.9zM412.2 232.3h.9v.9h-.9zM417.6 242.6h.9v.9h-.9zM413.5 257.1h.9v.9h-.9zM435.2 246.4h.9v.9h-.9z"/>
<path fill="#d0463f" fill-opacity="0.3" d="M437.7 251.4h.9v.9h-.9zM435.7 241.3h.9v.9h-.9zM437.9 258.7h.9v.9h-.9zM425.7 228.6h.9v.9h-.9zM426.4 238.3h.9v.9h-.9zM437.9 234.5h.9v.9h-.9zM437.3 248.0h.9v.9h-.9zM442.5 245.7h.9v.9h-.9zM421.7 231.0h.9v.9h-.9zM436.1 238.6h.9v.9h-.9zM400.2 247.9h.9v.9h-.9zM397.2 234.8h.9v.9h-.9zM414.6 250.4h.9v.9h-.9zM438.5 245.5h.9v.9h-.9z"/>
<path d="M394.10,234.00 C396.23,233.81 402.52,233.15 406.90,232.85 C411.28,232.55 415.92,232.47 420.40,232.20 C424.88,231.93 429.53,231.50 433.80,231.25 C438.07,231.00 443.97,230.79 446.00,230.70 L446.00,232.70 C443.97,232.77 438.07,232.93 433.80,233.15 C429.53,233.37 424.88,233.50 420.40,234.00 C415.92,234.50 411.28,235.35 406.90,236.15 C402.52,236.95 396.23,238.36 394.10,238.80 Z" fill="#8f8f8f" fill-opacity="0.42"/>
<path d="M393.50,242.70 C394.62,242.20 397.97,240.58 400.20,239.70 C402.43,238.82 404.68,238.05 406.90,237.40 C409.12,236.75 411.25,236.41 413.50,235.80 C415.75,235.19 417.02,234.44 420.40,233.77 C423.78,233.09 429.53,232.18 433.80,231.73 C438.07,231.29 443.97,231.21 446.00,231.10 L446.00,233.10 C443.97,233.23 438.07,233.38 433.80,233.87 C429.53,234.36 423.78,235.31 420.40,236.03 C417.02,236.76 415.75,237.24 413.50,238.20 C411.25,239.16 409.12,240.48 406.90,241.80 C404.68,243.12 402.43,244.55 400.20,246.10 C397.97,247.65 394.62,250.27 393.50,251.10 Z" fill="#8f8f8f" fill-opacity="0.42"/>
<path d="M394.10,236.40 C396.23,236.08 402.52,235.05 406.90,234.50 C411.28,233.95 415.92,233.48 420.40,233.10 C424.88,232.72 429.53,232.43 433.80,232.20 C438.07,231.97 443.97,231.78 446.00,231.70" stroke="#4a6fa6" stroke-width="1.25" fill="none"/>
<path d="M393.50,246.90 C394.62,246.23 397.97,244.12 400.20,242.90 C402.43,241.68 404.68,240.58 406.90,239.60 C409.12,238.62 411.25,237.78 413.50,237.00 C415.75,236.22 417.02,235.60 420.40,234.90 C423.78,234.20 429.53,233.27 433.80,232.80 C438.07,232.33 443.97,232.22 446.00,232.10" stroke="#c9524b" stroke-width="1.25" fill="none"/>
<path fill="#3f63a8" fill-opacity="0.3" d="M481.7 261.1h.9v.9h-.9zM481.4 257.0h.9v.9h-.9zM477.0 243.4h.9v.9h-.9zM504.0 229.2h.9v.9h-.9zM507.8 249.9h.9v.9h-.9zM490.2 261.9h.9v.9h-.9zM504.4 249.5h.9v.9h-.9zM486.5 236.3h.9v.9h-.9zM480.8 251.2h.9v.9h-.9zM503.3 264.5h.9v.9h-.9zM490.8 270.1h.9v.9h-.9zM479.4 258.0h.9v.9h-.9zM500.7 261.3h.9v.9h-.9zM506.5 258.3h.9v.9h-.9zM490.4 228.6h.9v.9h-.9z"/>
<path fill="#3f63a8" fill-opacity="0.3" d="M485.8 261.5h.9v.9h-.9zM485.9 266.7h.9v.9h-.9zM503.4 251.3h.9v.9h-.9zM494.7 239.8h.9v.9h-.9zM499.2 244.1h.9v.9h-.9zM480.4 271.8h.9v.9h-.9zM479.3 255.5h.9v.9h-.9zM501.7 236.1h.9v.9h-.9zM479.4 242.3h.9v.9h-.9zM461.1 229.4h.9v.9h-.9zM476.9 243.9h.9v.9h-.9zM505.6 275.1h.9v.9h-.9zM479.1 215.3h.9v.9h-.9zM463.5 237.3h.9v.9h-.9zM482.3 252.8h.9v.9h-.9z"/>
<path fill="#3f63a8" fill-opacity="0.3" d="M484.1 246.6h.9v.9h-.9zM480.8 220.3h.9v.9h-.9zM502.7 251.5h.9v.9h-.9zM477.4 252.3h.9v.9h-.9zM473.8 237.4h.9v.9h-.9zM481.0 244.4h.9v.9h-.9zM481.9 257.4h.9v.9h-.9zM491.7 232.1h.9v.9h-.9zM459.4 271.5h.9v.9h-.9zM505.7 255.6h.9v.9h-.9zM489.6 258.6h.9v.9h-.9zM474.4 262.3h.9v.9h-.9zM493.6 235.4h.9v.9h-.9zM460.3 241.1h.9v.9h-.9zM477.2 224.4h.9v.9h-.9z"/>
<path fill="#3f63a8" fill-opacity="0.3" d="M501.3 253.8h.9v.9h-.9zM482.0 234.5h.9v.9h-.9zM487.5 245.2h.9v.9h-.9zM478.5 256.4h.9v.9h-.9zM504.0 242.1h.9v.9h-.9zM466.7 205.9h.9v.9h-.9zM459.7 216.8h.9v.9h-.9zM482.4 262.7h.9v.9h-.9zM503.1 262.9h.9v.9h-.9zM476.9 222.6h.9v.9h-.9zM502.1 216.5h.9v.9h-.9zM502.0 218.7h.9v.9h-.9zM501.4 258.5h.9v.9h-.9zM458.7 273.3h.9v.9h-.9zM491.4 212.0h.9v.9h-.9z"/>
<path fill="#3f63a8" fill-opacity="0.3" d="M501.4 254.4h.9v.9h-.9zM495.4 232.4h.9v.9h-.9zM500.5 272.2h.9v.9h-.9zM465.5 230.5h.9v.9h-.9zM499.4 227.5h.9v.9h-.9zM481.6 247.3h.9v.9h-.9zM488.9 253.7h.9v.9h-.9zM500.2 243.7h.9v.9h-.9zM509.1 252.8h.9v.9h-.9zM507.7 251.4h.9v.9h-.9zM503.4 247.4h.9v.9h-.9zM477.5 261.6h.9v.9h-.9zM465.9 251.1h.9v.9h-.9zM480.4 245.4h.9v.9h-.9zM469.3 231.8h.9v.9h-.9z"/>
<path fill="#3f63a8" fill-opacity="0.3" d="M492.4 232.2h.9v.9h-.9zM487.5 265.0h.9v.9h-.9zM496.2 256.7h.9v.9h-.9zM501.6 243.2h.9v.9h-.9zM485.0 241.5h.9v.9h-.9zM479.7 249.4h.9v.9h-.9zM476.6 279.7h.9v.9h-.9zM499.3 279.9h.9v.9h-.9zM461.6 279.5h.9v.9h-.9zM486.4 279.8h.9v.9h-.9zM481.5 279.6h.9v.9h-.9zM479.1 279.9h.9v.9h-.9zM502.5 279.5h.9v.9h-.9zM480.3 280.1h.9v.9h-.9zM505.0 279.6h.9v.9h-.9z"/>
<path fill="#3f63a8" fill-opacity="0.3" d="M478.6 279.5h.9v.9h-.9zM478.9 279.6h.9v.9h-.9zM479.6 279.5h.9v.9h-.9z"/>
<path fill="#d0463f" fill-opacity="0.3" d="M455.8 237.7h.9v.9h-.9zM475.2 238.0h.9v.9h-.9zM491.8 246.1h.9v.9h-.9zM500.1 220.3h.9v.9h-.9zM463.3 283.7h.9v.9h-.9zM466.8 243.2h.9v.9h-.9zM489.6 234.8h.9v.9h-.9zM492.5 243.2h.9v.9h-.9zM481.6 215.6h.9v.9h-.9zM462.6 251.2h.9v.9h-.9zM508.4 244.0h.9v.9h-.9zM478.3 252.9h.9v.9h-.9zM478.2 236.8h.9v.9h-.9zM478.5 225.0h.9v.9h-.9zM458.1 248.5h.9v.9h-.9z"/>
<path fill="#d0463f" fill-opacity="0.3" d="M478.6 235.8h.9v.9h-.9zM479.2 247.4h.9v.9h-.9zM502.3 269.7h.9v.9h-.9zM502.3 283.3h.9v.9h-.9zM466.4 239.5h.9v.9h-.9zM476.3 264.6h.9v.9h-.9zM479.6 245.3h.9v.9h-.9zM479.6 243.2h.9v.9h-.9zM506.0 280.1h.9v.9h-.9zM461.7 227.2h.9v.9h-.9zM503.8 220.4h.9v.9h-.9zM503.9 279.0h.9v.9h-.9zM485.5 248.4h.9v.9h-.9zM498.1 256.1h.9v.9h-.9zM500.5 229.4h.9v.9h-.9z"/>
<path fill="#d0463f" fill-opacity="0.3" d="M504.6 239.2h.9v.9h-.9zM505.4 234.8h.9v.9h-.9zM473.0 228.3h.9v.9h-.9zM481.3 240.8h.9v.9h-.9zM505.7 236.0h.9v.9h-.9zM465.3 253.0h.9v.9h-.9zM487.4 249.2h.9v.9h-.9zM481.1 267.5h.9v.9h-.9zM503.8 224.5h.9v.9h-.9zM479.2 230.9h.9v.9h-.9zM500.2 241.0h.9v.9h-.9zM477.1 258.4h.9v.9h-.9zM481.8 243.9h.9v.9h-.9zM497.5 253.1h.9v.9h-.9zM504.5 255.5h.9v.9h-.9z"/>
<path fill="#d0463f" fill-opacity="0.3" d="M471.9 243.5h.9v.9h-.9zM460.3 248.6h.9v.9h-.9zM504.0 249.8h.9v.9h-.9zM475.2 280.6h.9v.9h-.9zM483.2 262.9h.9v.9h-.9zM501.9 249.9h.9v.9h-.9zM481.6 251.7h.9v.9h-.9zM498.8 232.4h.9v.9h-.9zM483.3 228.4h.9v.9h-.9zM484.3 243.9h.9v.9h-.9zM502.7 238.1h.9v.9h-.9zM479.6 241.8h.9v.9h-.9zM474.8 229.7h.9v.9h-.9zM457.1 225.9h.9v.9h-.9zM481.7 256.5h.9v.9h-.9z"/>
<path fill="#d0463f" fill-opacity="0.3" d="M462.6 251.9h.9v.9h-.9zM500.2 252.2h.9v.9h-.9zM481.4 229.3h.9v.9h-.9zM479.8 248.4h.9v.9h-.9zM490.2 246.4h.9v.9h-.9zM482.3 211.9h.9v.9h-.9zM496.6 253.5h.9v.9h-.9zM478.0 245.4h.9v.9h-.9zM470.7 241.8h.9v.9h-.9zM463.2 242.7h.9v.9h-.9zM468.6 250.4h.9v.9h-.9zM502.8 248.6h.9v.9h-.9zM461.1 263.2h.9v.9h-.9zM507.6 240.3h.9v.9h-.9zM495.4 256.2h.9v.9h-.9z"/>
<path fill="#d0463f" fill-opacity="0.3" d="M464.2 225.4h.9v.9h-.9zM507.6 266.1h.9v.9h-.9zM469.9 227.7h.9v.9h-.9zM497.0 247.3h.9v.9h-.9zM499.7 254.6h.9v.9h-.9zM459.7 255.1h.9v.9h-.9zM504.0 268.7h.9v.9h-.9zM475.8 234.7h.9v.9h-.9zM481.0 218.7h.9v.9h-.9zM478.5 243.4h.9v.9h-.9zM491.5 249.5h.9v.9h-.9zM455.6 252.5h.9v.9h-.9zM492.9 255.4h.9v.9h-.9zM504.0 267.8h.9v.9h-.9zM472.9 240.4h.9v.9h-.9z"/>
<path fill="#d0463f" fill-opacity="0.3" d="M479.5 243.5h.9v.9h-.9zM487.0 235.2h.9v.9h-.9zM472.9 223.9h.9v.9h-.9zM471.5 229.2h.9v.9h-.9zM500.9 233.8h.9v.9h-.9zM480.4 234.2h.9v.9h-.9zM492.2 260.6h.9v.9h-.9zM501.9 233.2h.9v.9h-.9zM504.8 240.8h.9v.9h-.9zM507.5 261.9h.9v.9h-.9zM478.6 252.7h.9v.9h-.9zM503.9 252.8h.9v.9h-.9zM498.0 235.1h.9v.9h-.9zM469.5 262.1h.9v.9h-.9zM484.6 250.9h.9v.9h-.9z"/>
<path fill="#d0463f" fill-opacity="0.3" d="M502.5 251.3h.9v.9h-.9zM478.3 245.1h.9v.9h-.9zM507.9 257.7h.9v.9h-.9zM480.1 276.8h.9v.9h-.9zM480.8 251.0h.9v.9h-.9zM456.2 237.8h.9v.9h-.9zM489.5 276.8h.9v.9h-.9zM465.4 263.9h.9v.9h-.9zM479.2 250.1h.9v.9h-.9zM475.4 226.9h.9v.9h-.9zM503.3 280.1h.9v.9h-.9zM497.1 280.0h.9v.9h-.9zM464.2 280.0h.9v.9h-.9zM460.3 280.0h.9v.9h-.9zM496.5 279.9h.9v.9h-.9z"/>
<path fill="#d0463f" fill-opacity="0.3" d="M500.9 280.0h.9v.9h-.9zM457.1 279.7h.9v.9h-.9zM502.7 279.5h.9v.9h-.9zM459.6 280.1h.9v.9h-.9zM462.2 280.1h.9v.9h-.9zM501.3 279.8h.9v.9h-.9zM461.8 280.1h.9v.9h-.9zM507.5 279.5h.9v.9h-.9zM460.7 279.5h.9v.9h-.9zM472.8 279.5h.9v.9h-.9zM504.7 279.5h.9v.9h-.9zM502.9 279.6h.9v.9h-.9zM462.3 280.1h.9v.9h-.9z"/>
<path d="M458.50,265.30 C459.62,264.11 462.97,260.33 465.20,258.17 C467.43,256.01 469.22,254.26 471.90,252.33 C474.58,250.41 477.93,248.23 481.30,246.60 C484.67,244.97 488.73,243.56 492.10,242.53 C495.47,241.51 498.47,240.87 501.50,240.47 C504.53,240.06 508.83,240.16 510.30,240.10 L510.30,242.50 C508.83,242.54 504.53,242.37 501.50,242.73 C498.47,243.09 495.47,243.69 492.10,244.67 C488.73,245.64 484.67,246.90 481.30,248.60 C477.93,250.30 474.58,252.76 471.90,254.87 C469.22,256.97 467.43,258.89 465.20,261.23 C462.97,263.57 459.62,267.62 458.50,268.90 Z" fill="#8f8f8f" fill-opacity="0.42"/>
<path d="M458.50,270.00 C459.62,268.81 462.97,264.91 465.20,262.87 C467.43,260.82 469.22,259.54 471.90,257.73 C474.58,255.92 477.93,253.75 481.30,252.00 C484.67,250.25 488.73,248.46 492.10,247.23 C495.47,246.01 498.47,245.32 501.50,244.67 C504.53,244.01 508.83,243.53 510.30,243.30 L510.30,245.70 C508.83,245.91 504.53,246.32 501.50,246.93 C498.47,247.54 495.47,248.19 492.10,249.37 C488.73,250.54 484.67,252.18 481.30,254.00 C477.93,255.82 474.58,258.28 471.90,260.27 C469.22,262.26 467.43,263.71 465.20,265.93 C462.97,268.16 459.62,272.32 458.50,273.60 Z" fill="#8f8f8f" fill-opacity="0.42"/>
<path d="M458.50,267.10 C459.62,265.87 462.97,261.95 465.20,259.70 C467.43,257.45 469.22,255.62 471.90,253.60 C474.58,251.58 477.93,249.27 481.30,247.60 C484.67,245.93 488.73,244.60 492.10,243.60 C495.47,242.60 498.47,241.98 501.50,241.60 C504.53,241.22 508.83,241.35 510.30,241.30" stroke="#4a6fa6" stroke-width="1.25" fill="none"/>
<path d="M458.50,271.80 C459.62,270.57 462.97,266.53 465.20,264.40 C467.43,262.27 469.22,260.90 471.90,259.00 C474.58,257.10 477.93,254.78 481.30,253.00 C484.67,251.22 488.73,249.50 492.10,248.30 C495.47,247.10 498.47,246.43 501.50,245.80 C504.53,245.17 508.83,244.72 510.30,244.50" stroke="#c9524b" stroke-width="1.25" fill="none"/>
<line x1="320.30" y1="206.90" x2="320.30" y2="283.30" stroke="#1a1a1a" stroke-width="1.5"/>
<rect x="319.10" y="271.00" width="2.4" height="2.8" fill="#fff"/>
<line x1="317.60" y1="272.50" x2="323.00" y2="269.70" stroke="#1a1a1a" stroke-width="0.95"/>
<line x1="317.60" y1="275.50" x2="323.00" y2="272.70" stroke="#1a1a1a" stroke-width="0.95"/>
<line x1="317.30" y1="280.10" x2="320.30" y2="280.10" stroke="#1a1a1a" stroke-width="1.2"/>
<text x="314.70" y="283.05" font-size="8.2" text-anchor="end" fill="#1a1a1a" textLength="4.5" lengthAdjust="spacingAndGlyphs" stroke="#1a1a1a" stroke-width="0.22">0</text>
<line x1="317.30" y1="260.00" x2="320.30" y2="260.00" stroke="#1a1a1a" stroke-width="1.2"/>
<text x="314.70" y="262.95" font-size="8.2" text-anchor="end" fill="#1a1a1a" textLength="4.5" lengthAdjust="spacingAndGlyphs" stroke="#1a1a1a" stroke-width="0.22">1</text>
<line x1="317.30" y1="239.90" x2="320.30" y2="239.90" stroke="#1a1a1a" stroke-width="1.2"/>
<text x="314.70" y="242.85" font-size="8.2" text-anchor="end" fill="#1a1a1a" textLength="4.5" lengthAdjust="spacingAndGlyphs" stroke="#1a1a1a" stroke-width="0.22">2</text>
<line x1="317.30" y1="219.20" x2="320.30" y2="219.20" stroke="#1a1a1a" stroke-width="1.2"/>
<text x="314.70" y="222.15" font-size="8.2" text-anchor="end" fill="#1a1a1a" textLength="4.5" lengthAdjust="spacingAndGlyphs" stroke="#1a1a1a" stroke-width="0.22">3</text>
<line x1="320.30" y1="282.60" x2="381.50" y2="282.60" stroke="#1a1a1a" stroke-width="1.4"/>
<line x1="322.30" y1="282.60" x2="322.30" y2="285.60" stroke="#1a1a1a" stroke-width="1.2"/>
<text x="322.90" y="289.00" font-size="7.9" text-anchor="end" fill="#1a1a1a" stroke="#1a1a1a" stroke-width="0.2" transform="rotate(-45 322.90 289.00)" dy="5.4" textLength="4.3" lengthAdjust="spacingAndGlyphs">0</text>
<line x1="336.68" y1="282.60" x2="336.68" y2="285.60" stroke="#1a1a1a" stroke-width="1.2"/>
<text x="337.28" y="289.00" font-size="7.9" text-anchor="end" fill="#1a1a1a" stroke="#1a1a1a" stroke-width="0.2" transform="rotate(-45 337.28 289.00)" dy="5.4" textLength="8.6" lengthAdjust="spacingAndGlyphs">50</text>
<line x1="351.05" y1="282.60" x2="351.05" y2="285.60" stroke="#1a1a1a" stroke-width="1.2"/>
<text x="351.65" y="289.00" font-size="7.9" text-anchor="end" fill="#1a1a1a" stroke="#1a1a1a" stroke-width="0.2" transform="rotate(-45 351.65 289.00)" dy="5.4" textLength="12.9" lengthAdjust="spacingAndGlyphs">100</text>
<line x1="365.43" y1="282.60" x2="365.43" y2="285.60" stroke="#1a1a1a" stroke-width="1.2"/>
<text x="366.03" y="289.00" font-size="7.9" text-anchor="end" fill="#1a1a1a" stroke="#1a1a1a" stroke-width="0.2" transform="rotate(-45 366.03 289.00)" dy="5.4" textLength="12.9" lengthAdjust="spacingAndGlyphs">150</text>
<line x1="379.80" y1="282.60" x2="379.80" y2="285.60" stroke="#1a1a1a" stroke-width="1.2"/>
<text x="380.40" y="289.00" font-size="7.9" text-anchor="end" fill="#1a1a1a" stroke="#1a1a1a" stroke-width="0.2" transform="rotate(-45 380.40 289.00)" dy="5.4" textLength="12.9" lengthAdjust="spacingAndGlyphs">200</text>
<text x="351.40" y="200.30" font-size="9.4" text-anchor="middle" fill="#1a1a1a" textLength="14.0" lengthAdjust="spacingAndGlyphs" stroke="#1a1a1a" stroke-width="0.15">BM</text>
<line x1="383.60" y1="282.60" x2="446.00" y2="282.60" stroke="#1a1a1a" stroke-width="1.4"/>
<line x1="386.60" y1="282.60" x2="386.60" y2="285.60" stroke="#1a1a1a" stroke-width="1.2"/>
<text x="387.20" y="289.00" font-size="7.9" text-anchor="end" fill="#1a1a1a" stroke="#1a1a1a" stroke-width="0.2" transform="rotate(-45 387.20 289.00)" dy="5.4" textLength="4.3" lengthAdjust="spacingAndGlyphs">0</text>
<line x1="400.98" y1="282.60" x2="400.98" y2="285.60" stroke="#1a1a1a" stroke-width="1.2"/>
<text x="401.58" y="289.00" font-size="7.9" text-anchor="end" fill="#1a1a1a" stroke="#1a1a1a" stroke-width="0.2" transform="rotate(-45 401.58 289.00)" dy="5.4" textLength="8.6" lengthAdjust="spacingAndGlyphs">50</text>
<line x1="415.35" y1="282.60" x2="415.35" y2="285.60" stroke="#1a1a1a" stroke-width="1.2"/>
<text x="415.95" y="289.00" font-size="7.9" text-anchor="end" fill="#1a1a1a" stroke="#1a1a1a" stroke-width="0.2" transform="rotate(-45 415.95 289.00)" dy="5.4" textLength="12.9" lengthAdjust="spacingAndGlyphs">100</text>
<line x1="429.73" y1="282.60" x2="429.73" y2="285.60" stroke="#1a1a1a" stroke-width="1.2"/>
<text x="430.33" y="289.00" font-size="7.9" text-anchor="end" fill="#1a1a1a" stroke="#1a1a1a" stroke-width="0.2" transform="rotate(-45 430.33 289.00)" dy="5.4" textLength="12.9" lengthAdjust="spacingAndGlyphs">150</text>
<line x1="444.10" y1="282.60" x2="444.10" y2="285.60" stroke="#1a1a1a" stroke-width="1.2"/>
<text x="444.70" y="289.00" font-size="7.9" text-anchor="end" fill="#1a1a1a" stroke="#1a1a1a" stroke-width="0.2" transform="rotate(-45 444.70 289.00)" dy="5.4" textLength="12.9" lengthAdjust="spacingAndGlyphs">200</text>
<text x="415.20" y="200.30" font-size="9.4" text-anchor="middle" fill="#1a1a1a" textLength="23.3" lengthAdjust="spacingAndGlyphs" stroke="#1a1a1a" stroke-width="0.15">PBSC</text>
<line x1="448.70" y1="282.60" x2="511.00" y2="282.60" stroke="#1a1a1a" stroke-width="1.4"/>
<line x1="451.60" y1="282.60" x2="451.60" y2="285.60" stroke="#1a1a1a" stroke-width="1.2"/>
<text x="452.20" y="289.00" font-size="7.9" text-anchor="end" fill="#1a1a1a" stroke="#1a1a1a" stroke-width="0.2" transform="rotate(-45 452.20 289.00)" dy="5.4" textLength="4.3" lengthAdjust="spacingAndGlyphs">0</text>
<line x1="465.75" y1="282.60" x2="465.75" y2="285.60" stroke="#1a1a1a" stroke-width="1.2"/>
<text x="466.35" y="289.00" font-size="7.9" text-anchor="end" fill="#1a1a1a" stroke="#1a1a1a" stroke-width="0.2" transform="rotate(-45 466.35 289.00)" dy="5.4" textLength="8.6" lengthAdjust="spacingAndGlyphs">50</text>
<line x1="479.90" y1="282.60" x2="479.90" y2="285.60" stroke="#1a1a1a" stroke-width="1.2"/>
<text x="480.50" y="289.00" font-size="7.9" text-anchor="end" fill="#1a1a1a" stroke="#1a1a1a" stroke-width="0.2" transform="rotate(-45 480.50 289.00)" dy="5.4" textLength="12.9" lengthAdjust="spacingAndGlyphs">100</text>
<line x1="494.05" y1="282.60" x2="494.05" y2="285.60" stroke="#1a1a1a" stroke-width="1.2"/>
<text x="494.65" y="289.00" font-size="7.9" text-anchor="end" fill="#1a1a1a" stroke="#1a1a1a" stroke-width="0.2" transform="rotate(-45 494.65 289.00)" dy="5.4" textLength="12.9" lengthAdjust="spacingAndGlyphs">150</text>
<line x1="508.20" y1="282.60" x2="508.20" y2="285.60" stroke="#1a1a1a" stroke-width="1.2"/>
<text x="508.80" y="289.00" font-size="7.9" text-anchor="end" fill="#1a1a1a" stroke="#1a1a1a" stroke-width="0.2" transform="rotate(-45 508.80 289.00)" dy="5.4" textLength="12.9" lengthAdjust="spacingAndGlyphs">200</text>
<text x="479.60" y="200.30" font-size="9.4" text-anchor="middle" fill="#1a1a1a" textLength="57" lengthAdjust="spacingAndGlyphs" stroke="#1a1a1a" stroke-width="0.15">PBSC CD34+</text>
<text x="416.00" y="312.40" font-size="9.0" text-anchor="middle" fill="#1a1a1a" textLength="65" lengthAdjust="spacingAndGlyphs" stroke="#1a1a1a" stroke-width="0.3">Day from transplant</text>
<text x="449.10" y="217.50" font-size="6.3" fill="#1a1a1a" stroke="#1a1a1a" stroke-width="0.05" textLength="12.5" lengthAdjust="spacingAndGlyphs">ULN</text>
<text x="449.10" y="225.50" font-size="6.3" fill="#1a1a1a" stroke="#1a1a1a" stroke-width="0.05" textLength="11.1" lengthAdjust="spacingAndGlyphs">LLN</text>
<text x="449.10" y="232.90" font-size="6.3" fill="#1a1a1a" stroke="#1a1a1a" stroke-width="0.05" textLength="32.1" lengthAdjust="spacingAndGlyphs">200 cells/µl</text>
<text x="450.60" y="244.90" font-size="6.3" fill="#1a1a1a" stroke="#1a1a1a" stroke-width="0.05" textLength="28.8" lengthAdjust="spacingAndGlyphs">50 cells/µl</text>
<line x1="321.40" y1="370.90" x2="380.20" y2="370.90" stroke="#c2c2c2" stroke-width="0.9" stroke-dasharray="1,1.9"/>
<line x1="383.90" y1="370.90" x2="443.60" y2="370.90" stroke="#c2c2c2" stroke-width="0.9" stroke-dasharray="1,1.9"/>
<line x1="446.80" y1="370.90" x2="506.20" y2="370.90" stroke="#c2c2c2" stroke-width="0.9" stroke-dasharray="1,1.9"/>
<line x1="321.40" y1="382.50" x2="380.20" y2="382.50" stroke="#9c9c9c" stroke-width="0.8" stroke-dasharray="1,1.9"/>
<line x1="383.90" y1="382.50" x2="443.60" y2="382.50" stroke="#9c9c9c" stroke-width="0.8" stroke-dasharray="1,1.9"/>
<line x1="446.80" y1="382.50" x2="506.20" y2="382.50" stroke="#9c9c9c" stroke-width="0.8" stroke-dasharray="1,1.9"/>
<path fill="#3f63a8" fill-opacity="0.3" d="M330.8 385.6h.9v.9h-.9zM351.1 385.9h.9v.9h-.9zM374.1 404.7h.9v.9h-.9zM328.2 397.5h.9v.9h-.9zM349.3 406.4h.9v.9h-.9zM372.5 389.2h.9v.9h-.9zM371.5 368.9h.9v.9h-.9zM374.3 386.7h.9v.9h-.9zM332.7 367.8h.9v.9h-.9zM349.4 382.8h.9v.9h-.9zM351.0 376.8h.9v.9h-.9zM371.3 384.6h.9v.9h-.9zM351.6 387.4h.9v.9h-.9zM348.0 406.0h.9v.9h-.9zM358.0 397.4h.9v.9h-.9z"/>
<path fill="#3f63a8" fill-opacity="0.3" d="M371.3 399.0h.9v.9h-.9zM376.2 416.7h.9v.9h-.9zM372.0 391.4h.9v.9h-.9z"/>
<path fill="#d0463f" fill-opacity="0.3" d="M373.6 404.4h.9v.9h-.9zM340.5 378.0h.9v.9h-.9zM373.1 407.5h.9v.9h-.9zM371.7 395.6h.9v.9h-.9zM351.1 392.6h.9v.9h-.9zM349.8 372.6h.9v.9h-.9zM337.0 401.5h.9v.9h-.9zM349.8 389.4h.9v.9h-.9zM350.7 375.3h.9v.9h-.9zM373.8 394.8h.9v.9h-.9zM348.9 384.9h.9v.9h-.9zM351.0 398.3h.9v.9h-.9zM374.2 366.0h.9v.9h-.9zM372.6 383.0h.9v.9h-.9zM348.8 376.3h.9v.9h-.9z"/>
<path fill="#d0463f" fill-opacity="0.3" d="M349.4 383.6h.9v.9h-.9zM352.4 389.2h.9v.9h-.9zM351.5 387.5h.9v.9h-.9zM348.6 381.0h.9v.9h-.9zM375.6 404.9h.9v.9h-.9zM372.1 405.9h.9v.9h-.9zM365.7 357.4h.9v.9h-.9zM368.4 391.6h.9v.9h-.9zM371.7 400.1h.9v.9h-.9zM372.8 403.2h.9v.9h-.9zM350.4 415.5h.9v.9h-.9zM349.3 386.7h.9v.9h-.9z"/>
<path d="M331.25,391.00 C333.54,390.43 340.62,388.52 345.00,387.60 C349.38,386.68 353.50,386.32 357.50,385.50 C361.50,384.68 365.15,383.61 369.00,382.70 C372.85,381.79 378.67,380.49 380.60,380.05 L380.60,384.45 C378.67,384.76 372.85,385.66 369.00,386.30 C365.15,386.94 361.50,387.08 357.50,388.30 C353.50,389.52 349.38,391.62 345.00,393.60 C340.62,395.58 333.54,399.10 331.25,400.20 Z" fill="#8f8f8f" fill-opacity="0.42"/>
<path d="M334.40,388.70 C336.17,388.77 341.15,389.22 345.00,389.10 C348.85,388.98 351.57,388.70 357.50,388.00 C363.43,387.30 376.75,385.42 380.60,384.90 L380.60,388.90 C376.75,389.28 363.43,390.37 357.50,391.20 C351.57,392.03 348.85,392.85 345.00,393.90 C341.15,394.95 336.17,396.90 334.40,397.50 Z" fill="#8f8f8f" fill-opacity="0.42"/>
<path d="M331.25,395.60 C333.54,394.77 340.62,392.05 345.00,390.60 C349.38,389.15 353.50,387.92 357.50,386.90 C361.50,385.88 365.15,385.27 369.00,384.50 C372.85,383.73 378.67,382.62 380.60,382.25" stroke="#4a6fa6" stroke-width="1.25" fill="none"/>
<path d="M334.40,393.10 C336.17,392.83 341.15,392.08 345.00,391.50 C348.85,390.92 351.57,390.37 357.50,389.60 C363.43,388.83 376.75,387.35 380.60,386.90" stroke="#c9524b" stroke-width="1.25" fill="none"/>
<path fill="#3f63a8" fill-opacity="0.3" d="M435.5 382.1h.9v.9h-.9zM413.2 392.6h.9v.9h-.9zM412.7 403.4h.9v.9h-.9zM411.1 362.8h.9v.9h-.9zM435.0 363.2h.9v.9h-.9zM434.6 396.0h.9v.9h-.9zM391.7 385.3h.9v.9h-.9zM410.6 404.7h.9v.9h-.9zM436.0 389.5h.9v.9h-.9zM407.5 382.5h.9v.9h-.9zM435.9 366.0h.9v.9h-.9zM392.5 397.3h.9v.9h-.9zM395.0 387.9h.9v.9h-.9zM411.9 390.5h.9v.9h-.9zM410.7 379.3h.9v.9h-.9z"/>
<path fill="#3f63a8" fill-opacity="0.3" d="M419.5 370.6h.9v.9h-.9zM397.8 365.2h.9v.9h-.9zM427.3 376.9h.9v.9h-.9zM434.6 383.2h.9v.9h-.9zM413.0 381.7h.9v.9h-.9zM411.1 393.9h.9v.9h-.9zM434.2 396.7h.9v.9h-.9zM439.3 374.3h.9v.9h-.9zM436.4 399.9h.9v.9h-.9zM415.8 365.1h.9v.9h-.9zM401.4 375.7h.9v.9h-.9zM415.0 390.0h.9v.9h-.9zM434.2 423.9h.9v.9h-.9zM402.9 364.9h.9v.9h-.9zM396.5 380.1h.9v.9h-.9z"/>
<path fill="#3f63a8" fill-opacity="0.3" d="M435.9 396.3h.9v.9h-.9zM395.3 380.2h.9v.9h-.9zM413.3 373.5h.9v.9h-.9zM434.0 367.2h.9v.9h-.9zM435.4 384.8h.9v.9h-.9zM395.5 364.9h.9v.9h-.9zM434.6 388.8h.9v.9h-.9zM434.6 382.4h.9v.9h-.9zM396.1 392.5h.9v.9h-.9zM442.5 387.1h.9v.9h-.9zM437.7 407.8h.9v.9h-.9zM435.6 389.8h.9v.9h-.9zM412.0 394.4h.9v.9h-.9zM436.5 367.9h.9v.9h-.9zM436.7 368.1h.9v.9h-.9z"/>
<path fill="#3f63a8" fill-opacity="0.3" d="M411.7 393.0h.9v.9h-.9zM412.6 400.4h.9v.9h-.9zM438.2 424.3h.9v.9h-.9zM436.3 395.0h.9v.9h-.9zM436.9 379.0h.9v.9h-.9zM400.1 393.7h.9v.9h-.9zM412.0 398.4h.9v.9h-.9zM407.2 393.9h.9v.9h-.9zM412.2 413.9h.9v.9h-.9zM441.2 370.1h.9v.9h-.9zM434.0 386.6h.9v.9h-.9zM420.5 388.7h.9v.9h-.9zM414.8 388.5h.9v.9h-.9zM412.1 378.1h.9v.9h-.9zM423.2 391.1h.9v.9h-.9z"/>
<path fill="#3f63a8" fill-opacity="0.3" d="M412.8 403.3h.9v.9h-.9zM411.6 390.8h.9v.9h-.9zM432.7 375.9h.9v.9h-.9zM436.7 403.7h.9v.9h-.9zM413.8 391.9h.9v.9h-.9zM412.3 408.1h.9v.9h-.9zM438.8 387.6h.9v.9h-.9zM433.5 398.2h.9v.9h-.9zM415.5 428.7h.9v.9h-.9zM436.3 429.2h.9v.9h-.9zM413.7 429.2h.9v.9h-.9zM414.1 428.7h.9v.9h-.9zM412.7 429.1h.9v.9h-.9zM394.0 429.2h.9v.9h-.9zM429.4 429.1h.9v.9h-.9z"/>
<path fill="#3f63a8" fill-opacity="0.3" d="M413.2 429.1h.9v.9h-.9z"/>
<path fill="#d0463f" fill-opacity="0.3" d="M389.2 370.9h.9v.9h-.9zM411.9 400.0h.9v.9h-.9zM410.8 401.9h.9v.9h-.9zM414.8 385.6h.9v.9h-.9zM441.3 387.6h.9v.9h-.9zM428.1 393.3h.9v.9h-.9zM437.6 396.4h.9v.9h-.9zM413.2 406.0h.9v.9h-.9zM435.8 393.9h.9v.9h-.9zM412.8 390.1h.9v.9h-.9zM410.6 417.5h.9v.9h-.9zM434.3 390.9h.9v.9h-.9zM414.2 391.6h.9v.9h-.9zM411.9 388.2h.9v.9h-.9zM412.4 380.5h.9v.9h-.9z"/>
<path fill="#d0463f" fill-opacity="0.3" d="M433.8 377.4h.9v.9h-.9zM442.2 380.3h.9v.9h-.9zM412.8 394.6h.9v.9h-.9zM417.2 393.5h.9v.9h-.9zM402.2 394.7h.9v.9h-.9zM400.8 377.8h.9v.9h-.9zM411.6 388.7h.9v.9h-.9zM436.5 397.6h.9v.9h-.9zM397.4 381.8h.9v.9h-.9zM433.7 378.0h.9v.9h-.9zM435.4 420.0h.9v.9h-.9zM413.3 382.8h.9v.9h-.9zM436.2 387.9h.9v.9h-.9zM436.2 375.0h.9v.9h-.9zM434.2 394.7h.9v.9h-.9z"/>
<path fill="#d0463f" fill-opacity="0.3" d="M411.0 379.3h.9v.9h-.9zM411.8 377.4h.9v.9h-.9zM420.4 372.0h.9v.9h-.9zM394.7 384.5h.9v.9h-.9zM434.4 396.3h.9v.9h-.9zM412.1 385.7h.9v.9h-.9zM432.9 407.0h.9v.9h-.9zM411.9 399.0h.9v.9h-.9zM435.3 393.9h.9v.9h-.9zM435.0 382.5h.9v.9h-.9zM436.7 376.9h.9v.9h-.9zM412.3 380.1h.9v.9h-.9zM410.4 393.7h.9v.9h-.9zM412.8 366.3h.9v.9h-.9zM412.6 365.8h.9v.9h-.9z"/>
<path fill="#d0463f" fill-opacity="0.3" d="M404.3 400.9h.9v.9h-.9zM434.2 379.1h.9v.9h-.9zM437.6 395.6h.9v.9h-.9zM412.6 394.7h.9v.9h-.9zM436.1 396.8h.9v.9h-.9zM433.8 387.9h.9v.9h-.9zM435.5 375.6h.9v.9h-.9zM404.1 392.7h.9v.9h-.9zM417.8 392.3h.9v.9h-.9zM435.8 416.5h.9v.9h-.9zM436.7 372.7h.9v.9h-.9zM412.4 416.9h.9v.9h-.9zM421.5 406.7h.9v.9h-.9zM424.9 389.1h.9v.9h-.9zM398.8 383.7h.9v.9h-.9z"/>
<path fill="#d0463f" fill-opacity="0.3" d="M434.5 404.7h.9v.9h-.9zM424.3 406.5h.9v.9h-.9zM436.5 408.3h.9v.9h-.9zM441.1 396.9h.9v.9h-.9zM405.3 413.3h.9v.9h-.9zM435.2 386.0h.9v.9h-.9zM424.3 385.0h.9v.9h-.9zM438.3 415.8h.9v.9h-.9zM434.6 362.6h.9v.9h-.9zM411.3 411.6h.9v.9h-.9zM411.4 370.8h.9v.9h-.9zM435.7 378.9h.9v.9h-.9zM434.2 391.7h.9v.9h-.9zM433.6 401.9h.9v.9h-.9zM437.5 392.6h.9v.9h-.9z"/>
<path fill="#d0463f" fill-opacity="0.3" d="M436.6 381.4h.9v.9h-.9zM434.2 375.8h.9v.9h-.9zM423.8 420.7h.9v.9h-.9zM390.6 429.1h.9v.9h-.9zM394.3 428.8h.9v.9h-.9zM403.5 429.4h.9v.9h-.9zM393.2 428.9h.9v.9h-.9zM396.4 429.0h.9v.9h-.9zM413.2 429.0h.9v.9h-.9zM412.0 429.3h.9v.9h-.9zM414.2 429.3h.9v.9h-.9zM423.7 429.2h.9v.9h-.9zM429.7 429.1h.9v.9h-.9zM412.2 429.3h.9v.9h-.9zM393.3 428.9h.9v.9h-.9z"/>
<path d="M391.80,382.00 C396.00,381.95 408.42,381.82 417.00,381.70 C425.58,381.58 438.92,381.37 443.30,381.30 L443.30,383.30 C438.92,383.37 425.58,383.58 417.00,383.70 C408.42,383.82 396.00,383.95 391.80,384.00 Z" fill="#8f8f8f" fill-opacity="0.42"/>
<path d="M391.80,383.20 C396.00,383.15 408.42,383.02 417.00,382.90 C425.58,382.78 438.92,382.57 443.30,382.50 L443.30,384.90 C438.92,384.97 425.58,385.18 417.00,385.30 C408.42,385.42 396.00,385.55 391.80,385.60 Z" fill="#8f8f8f" fill-opacity="0.42"/>
<path d="M391.80,383.00 C396.00,382.95 408.42,382.82 417.00,382.70 C425.58,382.58 438.92,382.37 443.30,382.30" stroke="#4a6fa6" stroke-width="1.25" fill="none"/>
<path d="M391.80,384.40 C396.00,384.35 408.42,384.22 417.00,384.10 C425.58,383.98 438.92,383.77 443.30,383.70" stroke="#c9524b" stroke-width="1.25" fill="none"/>
<path fill="#3f63a8" fill-opacity="0.3" d="M497.5 411.2h.9v.9h-.9zM468.2 401.6h.9v.9h-.9zM496.7 403.8h.9v.9h-.9zM497.7 384.0h.9v.9h-.9zM498.1 386.9h.9v.9h-.9zM498.5 400.4h.9v.9h-.9zM451.2 393.5h.9v.9h-.9zM470.7 382.2h.9v.9h-.9zM476.5 375.6h.9v.9h-.9zM455.0 386.5h.9v.9h-.9zM500.8 404.1h.9v.9h-.9zM498.8 401.0h.9v.9h-.9zM467.0 396.1h.9v.9h-.9zM497.8 391.5h.9v.9h-.9zM489.5 385.5h.9v.9h-.9z"/>
<path fill="#3f63a8" fill-opacity="0.3" d="M474.4 402.0h.9v.9h-.9zM474.2 372.3h.9v.9h-.9zM460.0 403.9h.9v.9h-.9zM497.7 403.6h.9v.9h-.9zM499.6 371.0h.9v.9h-.9zM486.7 375.6h.9v.9h-.9zM462.0 396.4h.9v.9h-.9zM474.0 384.1h.9v.9h-.9zM497.1 400.9h.9v.9h-.9zM453.1 375.2h.9v.9h-.9zM464.9 411.8h.9v.9h-.9zM483.4 384.4h.9v.9h-.9zM497.5 382.1h.9v.9h-.9zM501.4 400.5h.9v.9h-.9zM498.2 361.8h.9v.9h-.9z"/>
<path fill="#3f63a8" fill-opacity="0.3" d="M490.9 381.6h.9v.9h-.9zM496.1 411.9h.9v.9h-.9zM498.8 403.9h.9v.9h-.9zM473.6 385.7h.9v.9h-.9zM473.5 385.6h.9v.9h-.9zM497.3 403.3h.9v.9h-.9zM496.9 362.5h.9v.9h-.9zM496.5 388.9h.9v.9h-.9zM476.2 404.3h.9v.9h-.9zM497.6 411.9h.9v.9h-.9zM499.1 357.3h.9v.9h-.9zM473.7 374.0h.9v.9h-.9zM500.7 398.3h.9v.9h-.9zM473.8 402.0h.9v.9h-.9zM461.4 398.9h.9v.9h-.9z"/>
<path fill="#3f63a8" fill-opacity="0.3" d="M464.9 371.0h.9v.9h-.9zM481.1 384.4h.9v.9h-.9zM464.1 412.1h.9v.9h-.9zM470.6 415.2h.9v.9h-.9zM495.3 385.5h.9v.9h-.9zM497.7 391.6h.9v.9h-.9zM498.8 415.7h.9v.9h-.9zM482.4 389.7h.9v.9h-.9zM475.6 393.5h.9v.9h-.9zM476.0 362.8h.9v.9h-.9zM469.1 387.2h.9v.9h-.9zM453.4 409.3h.9v.9h-.9zM474.9 418.3h.9v.9h-.9zM497.5 418.9h.9v.9h-.9zM487.2 349.8h.9v.9h-.9z"/>
<path fill="#3f63a8" fill-opacity="0.3" d="M472.0 388.7h.9v.9h-.9zM498.9 392.4h.9v.9h-.9zM476.0 381.2h.9v.9h-.9zM498.4 379.8h.9v.9h-.9zM457.4 394.0h.9v.9h-.9zM495.5 399.3h.9v.9h-.9zM498.1 406.3h.9v.9h-.9zM455.6 381.3h.9v.9h-.9zM474.5 381.0h.9v.9h-.9zM491.1 397.8h.9v.9h-.9zM452.5 391.2h.9v.9h-.9zM474.9 399.5h.9v.9h-.9zM497.6 381.2h.9v.9h-.9zM504.2 417.4h.9v.9h-.9zM452.9 379.5h.9v.9h-.9z"/>
<path fill="#3f63a8" fill-opacity="0.3" d="M474.4 380.7h.9v.9h-.9zM486.0 395.7h.9v.9h-.9zM476.0 391.3h.9v.9h-.9zM475.5 399.7h.9v.9h-.9zM484.1 386.2h.9v.9h-.9zM475.2 384.4h.9v.9h-.9zM496.8 388.2h.9v.9h-.9zM504.9 367.5h.9v.9h-.9zM464.8 360.1h.9v.9h-.9zM497.7 407.3h.9v.9h-.9zM474.2 376.6h.9v.9h-.9zM497.5 395.1h.9v.9h-.9zM500.7 406.2h.9v.9h-.9zM495.7 402.0h.9v.9h-.9zM473.6 406.2h.9v.9h-.9z"/>
<path fill="#3f63a8" fill-opacity="0.3" d="M499.4 358.1h.9v.9h-.9zM473.3 390.0h.9v.9h-.9zM476.0 429.8h.9v.9h-.9zM457.4 429.6h.9v.9h-.9zM481.7 429.7h.9v.9h-.9zM473.4 429.5h.9v.9h-.9zM476.1 430.0h.9v.9h-.9zM475.6 429.5h.9v.9h-.9zM475.8 429.8h.9v.9h-.9zM500.5 429.8h.9v.9h-.9zM497.9 429.5h.9v.9h-.9zM500.2 429.7h.9v.9h-.9zM463.4 429.4h.9v.9h-.9zM457.8 429.4h.9v.9h-.9zM453.9 429.5h.9v.9h-.9z"/>
<path fill="#3f63a8" fill-opacity="0.3" d="M453.1 430.1h.9v.9h-.9zM477.5 429.4h.9v.9h-.9zM453.0 429.5h.9v.9h-.9zM497.1 429.9h.9v.9h-.9zM474.8 430.0h.9v.9h-.9zM454.6 430.0h.9v.9h-.9zM455.1 430.1h.9v.9h-.9zM454.6 429.7h.9v.9h-.9zM454.1 429.5h.9v.9h-.9zM475.6 429.7h.9v.9h-.9zM469.0 430.1h.9v.9h-.9z"/>
<path fill="#d0463f" fill-opacity="0.3" d="M497.9 374.6h.9v.9h-.9zM475.4 393.6h.9v.9h-.9zM497.9 397.9h.9v.9h-.9zM482.8 406.5h.9v.9h-.9zM476.0 394.3h.9v.9h-.9zM451.5 405.5h.9v.9h-.9zM464.6 388.0h.9v.9h-.9zM499.9 379.0h.9v.9h-.9zM496.9 381.5h.9v.9h-.9zM504.7 411.7h.9v.9h-.9zM455.8 380.0h.9v.9h-.9zM496.2 386.5h.9v.9h-.9zM497.8 401.7h.9v.9h-.9zM472.9 384.3h.9v.9h-.9zM500.8 398.8h.9v.9h-.9z"/>
<path fill="#d0463f" fill-opacity="0.3" d="M472.0 389.0h.9v.9h-.9zM497.6 392.2h.9v.9h-.9zM475.8 392.3h.9v.9h-.9zM498.6 390.9h.9v.9h-.9zM495.0 385.8h.9v.9h-.9zM496.0 387.0h.9v.9h-.9zM497.5 370.7h.9v.9h-.9zM485.3 349.9h.9v.9h-.9zM475.3 360.8h.9v.9h-.9zM481.4 386.2h.9v.9h-.9zM498.9 409.0h.9v.9h-.9zM504.7 389.2h.9v.9h-.9zM462.8 414.2h.9v.9h-.9zM474.5 390.0h.9v.9h-.9zM485.8 396.5h.9v.9h-.9z"/>
<path fill="#d0463f" fill-opacity="0.3" d="M470.6 411.9h.9v.9h-.9zM473.4 416.8h.9v.9h-.9zM472.6 391.3h.9v.9h-.9zM451.5 383.9h.9v.9h-.9zM475.0 372.3h.9v.9h-.9zM464.4 411.3h.9v.9h-.9zM498.0 402.4h.9v.9h-.9zM496.0 387.4h.9v.9h-.9zM476.8 398.4h.9v.9h-.9zM496.4 409.5h.9v.9h-.9zM461.1 404.1h.9v.9h-.9zM474.2 388.3h.9v.9h-.9zM474.5 394.7h.9v.9h-.9zM498.9 372.9h.9v.9h-.9zM463.2 430.3h.9v.9h-.9z"/>
<path fill="#d0463f" fill-opacity="0.3" d="M496.3 387.9h.9v.9h-.9zM458.1 375.3h.9v.9h-.9zM496.7 389.4h.9v.9h-.9zM465.1 389.2h.9v.9h-.9zM474.2 389.1h.9v.9h-.9zM464.3 389.6h.9v.9h-.9zM501.2 412.9h.9v.9h-.9zM501.4 361.2h.9v.9h-.9zM496.6 386.9h.9v.9h-.9zM474.4 413.2h.9v.9h-.9zM475.6 387.8h.9v.9h-.9zM465.4 409.4h.9v.9h-.9zM497.8 399.1h.9v.9h-.9zM496.4 384.9h.9v.9h-.9zM496.2 381.2h.9v.9h-.9z"/>
<path fill="#d0463f" fill-opacity="0.3" d="M475.4 386.3h.9v.9h-.9zM503.6 380.6h.9v.9h-.9zM498.6 416.6h.9v.9h-.9zM475.4 391.6h.9v.9h-.9zM457.0 385.0h.9v.9h-.9zM495.5 389.8h.9v.9h-.9zM498.9 428.8h.9v.9h-.9zM463.4 397.7h.9v.9h-.9zM465.3 400.6h.9v.9h-.9zM474.2 396.9h.9v.9h-.9zM498.2 420.5h.9v.9h-.9zM475.5 393.6h.9v.9h-.9zM493.9 391.5h.9v.9h-.9zM461.3 391.4h.9v.9h-.9zM463.9 354.5h.9v.9h-.9z"/>
<path fill="#d0463f" fill-opacity="0.3" d="M497.7 390.0h.9v.9h-.9zM496.9 382.2h.9v.9h-.9zM481.1 368.1h.9v.9h-.9zM496.6 404.6h.9v.9h-.9zM474.3 415.0h.9v.9h-.9zM497.2 396.7h.9v.9h-.9zM497.1 404.7h.9v.9h-.9zM473.1 426.4h.9v.9h-.9zM503.7 431.4h.9v.9h-.9zM455.4 363.1h.9v.9h-.9zM457.7 390.4h.9v.9h-.9zM496.8 413.0h.9v.9h-.9zM474.6 372.6h.9v.9h-.9zM472.9 419.5h.9v.9h-.9zM471.9 396.1h.9v.9h-.9z"/>
<path fill="#d0463f" fill-opacity="0.3" d="M490.3 378.4h.9v.9h-.9zM498.7 385.2h.9v.9h-.9zM494.8 392.6h.9v.9h-.9zM471.9 355.4h.9v.9h-.9zM473.7 401.7h.9v.9h-.9zM475.3 412.2h.9v.9h-.9zM451.2 412.4h.9v.9h-.9zM454.4 378.1h.9v.9h-.9zM493.2 382.1h.9v.9h-.9zM474.1 410.5h.9v.9h-.9zM494.4 389.6h.9v.9h-.9zM485.4 392.2h.9v.9h-.9zM473.7 383.7h.9v.9h-.9zM468.4 390.2h.9v.9h-.9zM453.3 386.5h.9v.9h-.9z"/>
<path fill="#d0463f" fill-opacity="0.3" d="M474.9 366.7h.9v.9h-.9zM503.6 383.5h.9v.9h-.9zM474.8 373.9h.9v.9h-.9zM496.7 396.2h.9v.9h-.9zM477.4 376.1h.9v.9h-.9zM498.2 374.0h.9v.9h-.9zM496.8 384.9h.9v.9h-.9zM475.3 396.4h.9v.9h-.9zM474.6 408.4h.9v.9h-.9zM496.6 371.1h.9v.9h-.9zM498.7 392.8h.9v.9h-.9zM494.5 408.0h.9v.9h-.9zM498.3 403.1h.9v.9h-.9zM474.5 380.5h.9v.9h-.9zM473.1 371.4h.9v.9h-.9z"/>
<path fill="#d0463f" fill-opacity="0.3" d="M474.2 383.7h.9v.9h-.9zM481.5 375.3h.9v.9h-.9zM475.4 361.6h.9v.9h-.9zM486.7 404.3h.9v.9h-.9zM498.3 408.5h.9v.9h-.9zM485.6 389.9h.9v.9h-.9zM475.9 417.6h.9v.9h-.9zM496.8 383.6h.9v.9h-.9zM497.7 389.0h.9v.9h-.9zM457.6 378.7h.9v.9h-.9zM476.0 403.9h.9v.9h-.9zM474.4 405.1h.9v.9h-.9zM464.5 368.1h.9v.9h-.9zM475.7 397.0h.9v.9h-.9zM498.6 430.1h.9v.9h-.9z"/>
<path fill="#d0463f" fill-opacity="0.3" d="M454.0 429.6h.9v.9h-.9zM475.4 429.9h.9v.9h-.9zM471.4 429.5h.9v.9h-.9zM474.2 429.6h.9v.9h-.9zM481.6 429.8h.9v.9h-.9zM457.5 429.4h.9v.9h-.9zM459.6 429.5h.9v.9h-.9zM454.2 429.7h.9v.9h-.9zM495.3 429.7h.9v.9h-.9zM468.0 430.1h.9v.9h-.9zM458.4 429.6h.9v.9h-.9zM475.7 429.5h.9v.9h-.9zM454.2 429.7h.9v.9h-.9zM456.6 429.6h.9v.9h-.9zM461.0 430.1h.9v.9h-.9z"/>
<path fill="#d0463f" fill-opacity="0.3" d="M457.1 430.0h.9v.9h-.9zM473.3 430.0h.9v.9h-.9zM461.0 429.8h.9v.9h-.9zM477.1 429.6h.9v.9h-.9zM497.4 429.4h.9v.9h-.9zM456.2 430.1h.9v.9h-.9zM474.1 429.5h.9v.9h-.9zM476.7 429.8h.9v.9h-.9zM454.9 429.5h.9v.9h-.9zM457.4 429.4h.9v.9h-.9zM501.7 429.5h.9v.9h-.9zM456.0 429.5h.9v.9h-.9zM477.0 429.4h.9v.9h-.9zM453.6 429.9h.9v.9h-.9zM469.9 430.0h.9v.9h-.9z"/>
<path fill="#d0463f" fill-opacity="0.3" d="M474.0 429.5h.9v.9h-.9zM457.2 429.4h.9v.9h-.9zM475.1 429.7h.9v.9h-.9zM476.0 429.4h.9v.9h-.9zM486.1 430.1h.9v.9h-.9z"/>
<path d="M455.20,413.00 C456.25,411.50 459.48,406.59 461.50,403.99 C463.52,401.38 465.37,399.19 467.30,397.37 C469.23,395.55 470.98,394.34 473.10,393.06 C475.22,391.77 477.50,390.53 480.00,389.67 C482.50,388.81 485.43,388.35 488.10,387.91 C490.77,387.48 493.12,387.26 496.00,387.06 C498.88,386.85 503.83,386.76 505.40,386.70 L505.40,390.70 C503.83,390.74 498.88,390.78 496.00,390.94 C493.12,391.11 490.77,391.29 488.10,391.69 C485.43,392.08 482.50,392.45 480.00,393.33 C477.50,394.20 475.22,395.53 473.10,396.94 C470.98,398.36 469.23,399.82 467.30,401.83 C465.37,403.84 463.52,406.22 461.50,409.01 C459.48,411.81 456.25,417.00 455.20,418.60 Z" fill="#8f8f8f" fill-opacity="0.42"/>
<path d="M455.20,415.50 C456.25,414.49 459.48,411.26 461.50,409.44 C463.52,407.62 465.37,406.00 467.30,404.59 C469.23,403.17 470.98,402.19 473.10,400.93 C475.22,399.67 477.50,398.29 480.00,397.04 C482.50,395.79 485.43,394.45 488.10,393.43 C490.77,392.41 493.12,391.69 496.00,390.91 C498.88,390.14 503.83,389.15 505.40,388.80 L505.40,392.40 C503.83,392.71 498.88,393.59 496.00,394.29 C493.12,394.98 490.77,395.63 488.10,396.57 C485.43,397.52 482.50,398.71 480.00,399.96 C477.50,401.21 475.22,402.66 473.10,404.07 C470.98,405.48 469.23,406.77 467.30,408.41 C465.37,410.06 463.52,411.91 461.50,413.96 C459.48,416.00 456.25,419.58 455.20,420.70 Z" fill="#8f8f8f" fill-opacity="0.42"/>
<path d="M455.20,415.80 C456.25,414.25 459.48,409.20 461.50,406.50 C463.52,403.80 465.37,401.52 467.30,399.60 C469.23,397.68 470.98,396.35 473.10,395.00 C475.22,393.65 477.50,392.37 480.00,391.50 C482.50,390.63 485.43,390.22 488.10,389.80 C490.77,389.38 493.12,389.18 496.00,389.00 C498.88,388.82 503.83,388.75 505.40,388.70" stroke="#4a6fa6" stroke-width="1.25" fill="none"/>
<path d="M455.20,418.10 C456.25,417.03 459.48,413.63 461.50,411.70 C463.52,409.77 465.37,408.03 467.30,406.50 C469.23,404.97 470.98,403.83 473.10,402.50 C475.22,401.17 477.50,399.75 480.00,398.50 C482.50,397.25 485.43,395.98 488.10,395.00 C490.77,394.02 493.12,393.33 496.00,392.60 C498.88,391.87 503.83,390.93 505.40,390.60" stroke="#c9524b" stroke-width="1.25" fill="none"/>
<line x1="320.20" y1="356.60" x2="320.20" y2="433.50" stroke="#1a1a1a" stroke-width="1.5"/>
<rect x="319.00" y="420.00" width="2.4" height="2.8" fill="#fff"/>
<line x1="317.50" y1="421.50" x2="322.90" y2="418.70" stroke="#1a1a1a" stroke-width="0.95"/>
<line x1="317.50" y1="424.50" x2="322.90" y2="421.70" stroke="#1a1a1a" stroke-width="0.95"/>
<line x1="317.20" y1="428.90" x2="320.20" y2="428.90" stroke="#1a1a1a" stroke-width="1.2"/>
<text x="314.60" y="431.85" font-size="8.2" text-anchor="end" fill="#1a1a1a" textLength="4.5" lengthAdjust="spacingAndGlyphs" stroke="#1a1a1a" stroke-width="0.22">0</text>
<line x1="317.20" y1="408.80" x2="320.20" y2="408.80" stroke="#1a1a1a" stroke-width="1.2"/>
<text x="314.60" y="411.75" font-size="8.2" text-anchor="end" fill="#1a1a1a" textLength="4.5" lengthAdjust="spacingAndGlyphs" stroke="#1a1a1a" stroke-width="0.22">1</text>
<line x1="317.20" y1="388.50" x2="320.20" y2="388.50" stroke="#1a1a1a" stroke-width="1.2"/>
<text x="314.60" y="391.45" font-size="8.2" text-anchor="end" fill="#1a1a1a" textLength="4.5" lengthAdjust="spacingAndGlyphs" stroke="#1a1a1a" stroke-width="0.22">2</text>
<line x1="317.20" y1="368.20" x2="320.20" y2="368.20" stroke="#1a1a1a" stroke-width="1.2"/>
<text x="314.60" y="371.15" font-size="8.2" text-anchor="end" fill="#1a1a1a" textLength="4.5" lengthAdjust="spacingAndGlyphs" stroke="#1a1a1a" stroke-width="0.22">3</text>
<line x1="320.20" y1="432.80" x2="380.20" y2="432.80" stroke="#1a1a1a" stroke-width="1.4"/>
<line x1="322.30" y1="432.80" x2="322.30" y2="435.80" stroke="#1a1a1a" stroke-width="1.2"/>
<text x="322.90" y="439.20" font-size="7.9" text-anchor="end" fill="#1a1a1a" stroke="#1a1a1a" stroke-width="0.2" transform="rotate(-45 322.90 439.20)" dy="5.4" textLength="4.3" lengthAdjust="spacingAndGlyphs">0</text>
<line x1="336.43" y1="432.80" x2="336.43" y2="435.80" stroke="#1a1a1a" stroke-width="1.2"/>
<text x="337.03" y="439.20" font-size="7.9" text-anchor="end" fill="#1a1a1a" stroke="#1a1a1a" stroke-width="0.2" transform="rotate(-45 337.03 439.20)" dy="5.4" textLength="8.6" lengthAdjust="spacingAndGlyphs">50</text>
<line x1="350.55" y1="432.80" x2="350.55" y2="435.80" stroke="#1a1a1a" stroke-width="1.2"/>
<text x="351.15" y="439.20" font-size="7.9" text-anchor="end" fill="#1a1a1a" stroke="#1a1a1a" stroke-width="0.2" transform="rotate(-45 351.15 439.20)" dy="5.4" textLength="12.9" lengthAdjust="spacingAndGlyphs">100</text>
<line x1="364.68" y1="432.80" x2="364.68" y2="435.80" stroke="#1a1a1a" stroke-width="1.2"/>
<text x="365.28" y="439.20" font-size="7.9" text-anchor="end" fill="#1a1a1a" stroke="#1a1a1a" stroke-width="0.2" transform="rotate(-45 365.28 439.20)" dy="5.4" textLength="12.9" lengthAdjust="spacingAndGlyphs">150</text>
<line x1="378.80" y1="432.80" x2="378.80" y2="435.80" stroke="#1a1a1a" stroke-width="1.2"/>
<text x="379.40" y="439.20" font-size="7.9" text-anchor="end" fill="#1a1a1a" stroke="#1a1a1a" stroke-width="0.2" transform="rotate(-45 379.40 439.20)" dy="5.4" textLength="12.9" lengthAdjust="spacingAndGlyphs">200</text>
<text x="351.00" y="342.00" font-size="9.4" text-anchor="middle" fill="#1a1a1a" textLength="14.0" lengthAdjust="spacingAndGlyphs" stroke="#1a1a1a" stroke-width="0.15">BM</text>
<line x1="382.70" y1="432.80" x2="443.60" y2="432.80" stroke="#1a1a1a" stroke-width="1.4"/>
<line x1="385.10" y1="432.80" x2="385.10" y2="435.80" stroke="#1a1a1a" stroke-width="1.2"/>
<text x="385.70" y="439.20" font-size="7.9" text-anchor="end" fill="#1a1a1a" stroke="#1a1a1a" stroke-width="0.2" transform="rotate(-45 385.70 439.20)" dy="5.4" textLength="4.3" lengthAdjust="spacingAndGlyphs">0</text>
<line x1="399.23" y1="432.80" x2="399.23" y2="435.80" stroke="#1a1a1a" stroke-width="1.2"/>
<text x="399.83" y="439.20" font-size="7.9" text-anchor="end" fill="#1a1a1a" stroke="#1a1a1a" stroke-width="0.2" transform="rotate(-45 399.83 439.20)" dy="5.4" textLength="8.6" lengthAdjust="spacingAndGlyphs">50</text>
<line x1="413.35" y1="432.80" x2="413.35" y2="435.80" stroke="#1a1a1a" stroke-width="1.2"/>
<text x="413.95" y="439.20" font-size="7.9" text-anchor="end" fill="#1a1a1a" stroke="#1a1a1a" stroke-width="0.2" transform="rotate(-45 413.95 439.20)" dy="5.4" textLength="12.9" lengthAdjust="spacingAndGlyphs">100</text>
<line x1="427.48" y1="432.80" x2="427.48" y2="435.80" stroke="#1a1a1a" stroke-width="1.2"/>
<text x="428.08" y="439.20" font-size="7.9" text-anchor="end" fill="#1a1a1a" stroke="#1a1a1a" stroke-width="0.2" transform="rotate(-45 428.08 439.20)" dy="5.4" textLength="12.9" lengthAdjust="spacingAndGlyphs">150</text>
<line x1="441.60" y1="432.80" x2="441.60" y2="435.80" stroke="#1a1a1a" stroke-width="1.2"/>
<text x="442.20" y="439.20" font-size="7.9" text-anchor="end" fill="#1a1a1a" stroke="#1a1a1a" stroke-width="0.2" transform="rotate(-45 442.20 439.20)" dy="5.4" textLength="12.9" lengthAdjust="spacingAndGlyphs">200</text>
<text x="415.40" y="342.00" font-size="9.4" text-anchor="middle" fill="#1a1a1a" textLength="23.3" lengthAdjust="spacingAndGlyphs" stroke="#1a1a1a" stroke-width="0.15">PBSC</text>
<line x1="445.60" y1="432.80" x2="506.20" y2="432.80" stroke="#1a1a1a" stroke-width="1.4"/>
<line x1="447.30" y1="432.80" x2="447.30" y2="435.80" stroke="#1a1a1a" stroke-width="1.2"/>
<text x="447.90" y="439.20" font-size="7.9" text-anchor="end" fill="#1a1a1a" stroke="#1a1a1a" stroke-width="0.2" transform="rotate(-45 447.90 439.20)" dy="5.4" textLength="4.3" lengthAdjust="spacingAndGlyphs">0</text>
<line x1="461.45" y1="432.80" x2="461.45" y2="435.80" stroke="#1a1a1a" stroke-width="1.2"/>
<text x="462.05" y="439.20" font-size="7.9" text-anchor="end" fill="#1a1a1a" stroke="#1a1a1a" stroke-width="0.2" transform="rotate(-45 462.05 439.20)" dy="5.4" textLength="8.6" lengthAdjust="spacingAndGlyphs">50</text>
<line x1="475.60" y1="432.80" x2="475.60" y2="435.80" stroke="#1a1a1a" stroke-width="1.2"/>
<text x="476.20" y="439.20" font-size="7.9" text-anchor="end" fill="#1a1a1a" stroke="#1a1a1a" stroke-width="0.2" transform="rotate(-45 476.20 439.20)" dy="5.4" textLength="12.9" lengthAdjust="spacingAndGlyphs">100</text>
<line x1="489.75" y1="432.80" x2="489.75" y2="435.80" stroke="#1a1a1a" stroke-width="1.2"/>
<text x="490.35" y="439.20" font-size="7.9" text-anchor="end" fill="#1a1a1a" stroke="#1a1a1a" stroke-width="0.2" transform="rotate(-45 490.35 439.20)" dy="5.4" textLength="12.9" lengthAdjust="spacingAndGlyphs">150</text>
<line x1="503.90" y1="432.80" x2="503.90" y2="435.80" stroke="#1a1a1a" stroke-width="1.2"/>
<text x="504.50" y="439.20" font-size="7.9" text-anchor="end" fill="#1a1a1a" stroke="#1a1a1a" stroke-width="0.2" transform="rotate(-45 504.50 439.20)" dy="5.4" textLength="12.9" lengthAdjust="spacingAndGlyphs">200</text>
<text x="479.60" y="342.00" font-size="9.4" text-anchor="middle" fill="#1a1a1a" textLength="57" lengthAdjust="spacingAndGlyphs" stroke="#1a1a1a" stroke-width="0.15">PBSC CD34+</text>
<text x="413.30" y="467.00" font-size="9.0" text-anchor="middle" fill="#1a1a1a" textLength="65" lengthAdjust="spacingAndGlyphs" stroke="#1a1a1a" stroke-width="0.3">Day from transplant</text>
<text x="449.40" y="369.80" font-size="6.3" fill="#1a1a1a" stroke="#1a1a1a" stroke-width="0.05" textLength="12.2" lengthAdjust="spacingAndGlyphs">ULN</text>
<text x="449.40" y="381.60" font-size="6.3" fill="#1a1a1a" stroke="#1a1a1a" stroke-width="0.05" textLength="11.1" lengthAdjust="spacingAndGlyphs">LLN</text>
<line x1="321.70" y1="522.30" x2="379.40" y2="522.30" stroke="#9c9c9c" stroke-width="0.8" stroke-dasharray="1,1.9"/>
<line x1="382.70" y1="522.30" x2="440.70" y2="522.30" stroke="#9c9c9c" stroke-width="0.8" stroke-dasharray="1,1.9"/>
<line x1="444.00" y1="522.30" x2="502.70" y2="522.30" stroke="#9c9c9c" stroke-width="0.8" stroke-dasharray="1,1.9"/>
<line x1="321.70" y1="539.00" x2="379.40" y2="539.00" stroke="#9c9c9c" stroke-width="0.8" stroke-dasharray="1,1.9"/>
<line x1="382.70" y1="539.00" x2="440.70" y2="539.00" stroke="#9c9c9c" stroke-width="0.8" stroke-dasharray="1,1.9"/>
<line x1="444.00" y1="539.00" x2="502.70" y2="539.00" stroke="#9c9c9c" stroke-width="0.8" stroke-dasharray="1,1.9"/>
<path fill="#3f63a8" fill-opacity="0.3" d="M371.9 523.3h.9v.9h-.9zM328.2 515.5h.9v.9h-.9zM337.1 545.6h.9v.9h-.9zM349.8 551.5h.9v.9h-.9zM373.5 561.2h.9v.9h-.9zM349.5 547.3h.9v.9h-.9zM371.3 533.9h.9v.9h-.9zM348.4 545.8h.9v.9h-.9zM370.1 520.4h.9v.9h-.9zM349.8 538.2h.9v.9h-.9zM347.6 562.3h.9v.9h-.9z"/>
<path fill="#d0463f" fill-opacity="0.3" d="M336.4 530.5h.9v.9h-.9zM349.1 523.9h.9v.9h-.9zM369.9 556.6h.9v.9h-.9zM373.0 544.2h.9v.9h-.9zM338.9 554.7h.9v.9h-.9zM347.0 540.7h.9v.9h-.9zM342.3 537.8h.9v.9h-.9zM366.3 552.7h.9v.9h-.9zM329.8 554.5h.9v.9h-.9zM372.7 560.4h.9v.9h-.9zM370.3 558.6h.9v.9h-.9zM347.2 549.8h.9v.9h-.9zM370.2 556.3h.9v.9h-.9zM357.8 550.0h.9v.9h-.9z"/>
<path d="M330.00,534.40 C331.04,534.82 333.75,536.37 336.25,536.90 C338.75,537.43 341.46,537.58 345.00,537.60 C348.54,537.62 353.33,537.85 357.50,537.00 C361.67,536.15 366.46,533.57 370.00,532.50 C373.54,531.43 377.29,530.92 378.75,530.60 L378.75,558.10 C377.29,557.67 373.54,556.02 370.00,555.50 C366.46,554.98 361.67,554.25 357.50,555.00 C353.33,555.75 348.54,557.92 345.00,560.00 C341.46,562.08 338.75,565.00 336.25,567.50 C333.75,570.00 331.04,573.75 330.00,575.00 Z" fill="#8f8f8f" fill-opacity="0.36"/>
<path d="M333.10,555.00 C335.08,553.92 340.93,550.75 345.00,548.50 C349.07,546.25 353.33,543.75 357.50,541.50 C361.67,539.25 366.46,536.60 370.00,535.00 C373.54,533.40 377.29,532.42 378.75,531.90 L378.75,553.10 C376.96,554.00 371.54,556.10 368.00,558.50 C364.46,560.90 360.50,564.50 357.50,567.50 C354.50,570.50 352.50,573.79 350.00,576.50 C347.50,579.21 345.32,582.12 342.50,583.75 C339.68,585.38 334.67,585.88 333.10,586.30 Z" fill="#8f8f8f" fill-opacity="0.36"/>
<path d="M330.00,555.00 C332.50,554.23 340.42,551.77 345.00,550.40 C349.58,549.03 353.33,547.93 357.50,546.80 C361.67,545.67 366.46,544.47 370.00,543.60 C373.54,542.73 377.29,541.93 378.75,541.60" stroke="#4a6fa6" stroke-width="1.25" fill="none"/>
<path d="M333.10,579.40 C334.08,578.17 337.02,574.40 339.00,572.00 C340.98,569.60 343.00,567.25 345.00,565.00 C347.00,562.75 348.92,560.58 351.00,558.50 C353.08,556.42 355.33,554.12 357.50,552.50 C359.67,550.88 361.92,549.83 364.00,548.80 C366.08,547.77 367.54,546.93 370.00,546.30 C372.46,545.67 377.29,545.22 378.75,545.00" stroke="#c9524b" stroke-width="1.25" fill="none"/>
<path fill="#3f63a8" fill-opacity="0.3" d="M400.3 516.8h.9v.9h-.9zM434.3 530.4h.9v.9h-.9zM410.8 561.1h.9v.9h-.9zM431.6 547.8h.9v.9h-.9zM434.4 560.6h.9v.9h-.9zM434.2 548.1h.9v.9h-.9zM411.4 555.8h.9v.9h-.9zM432.6 528.0h.9v.9h-.9zM408.4 557.1h.9v.9h-.9zM424.1 566.2h.9v.9h-.9zM426.2 515.9h.9v.9h-.9zM433.6 532.5h.9v.9h-.9zM408.5 528.1h.9v.9h-.9zM433.2 557.1h.9v.9h-.9z"/>
<path fill="#d0463f" fill-opacity="0.3" d="M410.1 577.5h.9v.9h-.9zM410.1 546.9h.9v.9h-.9zM432.8 539.6h.9v.9h-.9zM411.1 526.6h.9v.9h-.9zM409.7 538.0h.9v.9h-.9zM426.9 559.6h.9v.9h-.9zM434.3 536.6h.9v.9h-.9zM410.3 540.4h.9v.9h-.9zM434.4 518.4h.9v.9h-.9zM411.0 557.5h.9v.9h-.9zM426.1 548.8h.9v.9h-.9z"/>
<path d="M391.00,541.90 C392.29,541.90 395.38,542.22 398.75,541.90 C402.12,541.58 407.08,540.82 411.25,540.00 C415.42,539.18 418.86,538.04 423.75,537.00 C428.64,535.96 437.79,534.29 440.60,533.75 L440.60,548.10 C437.79,548.33 428.64,548.85 423.75,549.50 C418.86,550.15 415.42,550.50 411.25,552.00 C407.08,553.50 402.12,556.75 398.75,558.50 C395.38,560.25 392.29,561.83 391.00,562.50 Z" fill="#8f8f8f" fill-opacity="0.36"/>
<path d="M390.00,552.50 C391.46,551.83 395.83,549.55 398.75,548.50 C401.67,547.45 404.38,546.88 407.50,546.20 C410.62,545.52 413.75,544.78 417.50,544.40 C421.25,544.02 426.15,544.01 430.00,543.90 C433.85,543.79 438.83,543.77 440.60,543.75 L440.60,557.50 C437.79,557.29 428.64,555.83 423.75,556.25 C418.86,556.67 415.42,557.71 411.25,560.00 C407.08,562.29 402.29,567.08 398.75,570.00 C395.21,572.92 391.46,576.25 390.00,577.50 Z" fill="#8f8f8f" fill-opacity="0.36"/>
<path d="M391.00,555.25 C392.29,554.58 395.38,552.86 398.75,551.25 C402.12,549.64 407.08,547.06 411.25,545.60 C415.42,544.14 418.86,543.27 423.75,542.50 C428.64,541.73 437.79,541.25 440.60,541.00" stroke="#4a6fa6" stroke-width="1.25" fill="none"/>
<path d="M390.00,565.60 C391.46,564.35 395.83,560.28 398.75,558.10 C401.67,555.92 404.38,554.02 407.50,552.50 C410.62,550.98 413.75,549.42 417.50,549.00 C421.25,548.58 426.15,549.46 430.00,550.00 C433.85,550.54 438.83,551.88 440.60,552.25" stroke="#c9524b" stroke-width="1.25" fill="none"/>
<path fill="#3f63a8" fill-opacity="0.3" d="M465.6 533.2h.9v.9h-.9zM494.4 532.2h.9v.9h-.9zM471.0 548.3h.9v.9h-.9zM494.5 558.0h.9v.9h-.9zM452.1 538.6h.9v.9h-.9zM470.3 555.9h.9v.9h-.9zM448.8 552.5h.9v.9h-.9zM494.7 532.1h.9v.9h-.9zM493.0 519.5h.9v.9h-.9zM472.8 559.3h.9v.9h-.9zM494.3 568.8h.9v.9h-.9zM471.9 538.1h.9v.9h-.9zM471.2 577.6h.9v.9h-.9zM500.8 518.5h.9v.9h-.9zM498.9 574.8h.9v.9h-.9z"/>
<path fill="#3f63a8" fill-opacity="0.3" d="M495.3 544.1h.9v.9h-.9zM470.0 536.8h.9v.9h-.9zM493.3 554.0h.9v.9h-.9zM472.0 547.0h.9v.9h-.9zM470.8 515.2h.9v.9h-.9zM493.5 548.1h.9v.9h-.9zM494.1 532.9h.9v.9h-.9zM493.8 526.8h.9v.9h-.9zM471.7 544.0h.9v.9h-.9zM499.8 512.5h.9v.9h-.9zM472.2 562.7h.9v.9h-.9zM474.9 542.0h.9v.9h-.9zM471.3 551.8h.9v.9h-.9zM495.6 545.0h.9v.9h-.9zM471.8 537.6h.9v.9h-.9z"/>
<path fill="#3f63a8" fill-opacity="0.3" d="M499.0 520.3h.9v.9h-.9zM494.4 543.2h.9v.9h-.9zM454.7 557.2h.9v.9h-.9zM473.8 564.3h.9v.9h-.9zM486.4 545.9h.9v.9h-.9zM495.4 537.0h.9v.9h-.9zM482.1 572.9h.9v.9h-.9zM492.8 548.9h.9v.9h-.9zM480.9 549.9h.9v.9h-.9zM497.0 509.1h.9v.9h-.9zM464.1 506.7h.9v.9h-.9zM481.8 562.1h.9v.9h-.9zM493.3 549.4h.9v.9h-.9zM494.4 503.3h.9v.9h-.9zM493.1 558.0h.9v.9h-.9z"/>
<path fill="#3f63a8" fill-opacity="0.3" d="M472.8 526.5h.9v.9h-.9zM472.1 500.9h.9v.9h-.9zM495.0 553.8h.9v.9h-.9zM493.3 532.9h.9v.9h-.9zM472.3 547.9h.9v.9h-.9zM472.4 535.9h.9v.9h-.9zM499.2 533.4h.9v.9h-.9zM494.0 503.2h.9v.9h-.9zM495.6 547.5h.9v.9h-.9zM450.7 555.5h.9v.9h-.9zM471.7 550.4h.9v.9h-.9zM495.0 530.5h.9v.9h-.9zM494.3 525.2h.9v.9h-.9zM473.5 502.2h.9v.9h-.9zM473.2 517.4h.9v.9h-.9z"/>
<path fill="#3f63a8" fill-opacity="0.3" d="M471.6 546.7h.9v.9h-.9zM471.9 531.2h.9v.9h-.9zM476.6 511.6h.9v.9h-.9zM496.4 547.8h.9v.9h-.9zM495.8 526.5h.9v.9h-.9zM471.7 533.9h.9v.9h-.9zM493.1 526.9h.9v.9h-.9zM470.5 523.2h.9v.9h-.9zM478.7 552.7h.9v.9h-.9zM472.5 547.1h.9v.9h-.9zM493.6 519.3h.9v.9h-.9zM462.0 523.2h.9v.9h-.9zM492.7 525.6h.9v.9h-.9zM493.7 551.1h.9v.9h-.9zM493.5 511.5h.9v.9h-.9z"/>
<path fill="#3f63a8" fill-opacity="0.3" d="M472.5 553.4h.9v.9h-.9zM471.3 562.0h.9v.9h-.9zM493.9 539.0h.9v.9h-.9zM493.1 563.2h.9v.9h-.9zM472.5 544.8h.9v.9h-.9zM471.7 536.9h.9v.9h-.9zM471.7 546.6h.9v.9h-.9zM491.5 540.8h.9v.9h-.9zM495.0 526.2h.9v.9h-.9zM494.5 564.3h.9v.9h-.9zM463.9 550.4h.9v.9h-.9zM492.2 526.3h.9v.9h-.9zM493.3 549.5h.9v.9h-.9zM472.7 582.7h.9v.9h-.9zM467.2 582.6h.9v.9h-.9z"/>
<path fill="#3f63a8" fill-opacity="0.3" d="M452.9 582.4h.9v.9h-.9zM500.0 582.5h.9v.9h-.9zM471.1 582.0h.9v.9h-.9zM453.6 582.1h.9v.9h-.9zM496.3 582.3h.9v.9h-.9zM472.7 582.1h.9v.9h-.9zM473.8 582.7h.9v.9h-.9zM464.6 582.1h.9v.9h-.9zM491.0 582.6h.9v.9h-.9zM471.3 582.2h.9v.9h-.9zM453.0 582.3h.9v.9h-.9zM469.9 582.1h.9v.9h-.9zM473.5 582.2h.9v.9h-.9zM487.7 582.2h.9v.9h-.9zM451.0 582.7h.9v.9h-.9z"/>
<path fill="#3f63a8" fill-opacity="0.3" d="M496.8 582.1h.9v.9h-.9z"/>
<path fill="#d0463f" fill-opacity="0.3" d="M492.5 549.6h.9v.9h-.9zM476.7 550.8h.9v.9h-.9zM478.5 547.8h.9v.9h-.9zM490.8 525.2h.9v.9h-.9zM471.6 545.3h.9v.9h-.9zM493.4 527.3h.9v.9h-.9zM452.4 552.9h.9v.9h-.9zM494.7 534.1h.9v.9h-.9zM472.3 517.0h.9v.9h-.9zM472.6 525.5h.9v.9h-.9zM489.1 562.9h.9v.9h-.9zM493.2 569.3h.9v.9h-.9zM495.2 538.6h.9v.9h-.9zM493.3 514.6h.9v.9h-.9zM472.8 521.3h.9v.9h-.9z"/>
<path fill="#d0463f" fill-opacity="0.3" d="M492.2 560.9h.9v.9h-.9zM467.5 566.3h.9v.9h-.9zM470.4 536.1h.9v.9h-.9zM471.4 510.5h.9v.9h-.9zM474.5 560.3h.9v.9h-.9zM496.5 565.8h.9v.9h-.9zM488.2 552.7h.9v.9h-.9zM468.5 566.2h.9v.9h-.9zM481.3 543.9h.9v.9h-.9zM501.0 579.9h.9v.9h-.9zM470.8 542.5h.9v.9h-.9zM500.2 560.9h.9v.9h-.9zM485.7 556.4h.9v.9h-.9zM464.1 568.3h.9v.9h-.9zM471.3 535.4h.9v.9h-.9z"/>
<path fill="#d0463f" fill-opacity="0.3" d="M451.9 544.7h.9v.9h-.9zM472.0 560.1h.9v.9h-.9zM472.8 503.7h.9v.9h-.9zM471.5 520.2h.9v.9h-.9zM471.8 569.7h.9v.9h-.9zM464.4 561.0h.9v.9h-.9zM488.0 551.9h.9v.9h-.9zM471.2 560.9h.9v.9h-.9zM472.7 545.6h.9v.9h-.9zM470.4 517.3h.9v.9h-.9zM472.9 532.5h.9v.9h-.9zM472.2 531.2h.9v.9h-.9zM471.6 526.5h.9v.9h-.9zM471.8 549.5h.9v.9h-.9zM472.5 514.1h.9v.9h-.9z"/>
<path fill="#d0463f" fill-opacity="0.3" d="M470.3 513.5h.9v.9h-.9zM495.9 526.4h.9v.9h-.9zM473.1 544.5h.9v.9h-.9zM473.6 545.9h.9v.9h-.9zM462.5 531.6h.9v.9h-.9zM493.7 543.1h.9v.9h-.9zM491.8 556.6h.9v.9h-.9zM471.2 558.0h.9v.9h-.9zM481.3 567.9h.9v.9h-.9zM493.1 550.2h.9v.9h-.9zM464.1 552.3h.9v.9h-.9zM448.7 538.5h.9v.9h-.9zM494.6 543.9h.9v.9h-.9zM494.5 547.6h.9v.9h-.9zM477.3 543.9h.9v.9h-.9z"/>
<path fill="#d0463f" fill-opacity="0.3" d="M473.6 564.2h.9v.9h-.9zM493.4 534.6h.9v.9h-.9zM472.0 535.6h.9v.9h-.9zM495.8 528.3h.9v.9h-.9zM492.2 518.3h.9v.9h-.9zM473.5 547.2h.9v.9h-.9zM472.0 529.8h.9v.9h-.9zM472.8 550.0h.9v.9h-.9zM494.4 525.9h.9v.9h-.9zM454.0 547.0h.9v.9h-.9zM471.4 527.0h.9v.9h-.9zM469.8 532.4h.9v.9h-.9zM493.2 543.8h.9v.9h-.9zM499.8 537.8h.9v.9h-.9zM472.8 534.9h.9v.9h-.9z"/>
<path fill="#d0463f" fill-opacity="0.3" d="M488.0 556.9h.9v.9h-.9zM494.1 542.8h.9v.9h-.9zM471.9 544.8h.9v.9h-.9zM473.9 523.2h.9v.9h-.9zM471.9 535.5h.9v.9h-.9zM484.1 527.9h.9v.9h-.9zM490.0 569.0h.9v.9h-.9zM494.2 524.3h.9v.9h-.9zM494.6 570.3h.9v.9h-.9zM453.4 546.1h.9v.9h-.9zM473.7 564.9h.9v.9h-.9zM453.2 531.9h.9v.9h-.9zM493.8 559.0h.9v.9h-.9zM453.7 526.1h.9v.9h-.9zM472.7 539.9h.9v.9h-.9z"/>
<path fill="#d0463f" fill-opacity="0.3" d="M494.6 566.3h.9v.9h-.9zM473.0 535.5h.9v.9h-.9zM455.4 543.7h.9v.9h-.9zM470.7 534.3h.9v.9h-.9zM495.1 518.6h.9v.9h-.9zM495.5 526.4h.9v.9h-.9zM471.0 559.0h.9v.9h-.9zM497.6 507.0h.9v.9h-.9zM472.6 552.4h.9v.9h-.9zM488.3 517.3h.9v.9h-.9zM492.4 543.0h.9v.9h-.9zM472.3 569.3h.9v.9h-.9zM471.2 527.2h.9v.9h-.9zM495.4 542.9h.9v.9h-.9zM496.9 528.1h.9v.9h-.9z"/>
<path fill="#d0463f" fill-opacity="0.3" d="M470.0 539.3h.9v.9h-.9zM493.1 522.4h.9v.9h-.9zM472.7 530.9h.9v.9h-.9zM470.1 555.0h.9v.9h-.9zM496.5 549.3h.9v.9h-.9zM455.0 546.3h.9v.9h-.9zM495.1 516.9h.9v.9h-.9zM480.1 541.2h.9v.9h-.9zM472.5 538.8h.9v.9h-.9zM455.4 536.2h.9v.9h-.9zM470.2 549.7h.9v.9h-.9zM495.9 529.9h.9v.9h-.9zM482.7 545.0h.9v.9h-.9zM494.3 528.3h.9v.9h-.9zM450.4 532.4h.9v.9h-.9z"/>
<path fill="#d0463f" fill-opacity="0.3" d="M492.3 523.5h.9v.9h-.9zM470.5 536.3h.9v.9h-.9zM493.4 548.5h.9v.9h-.9zM494.6 500.7h.9v.9h-.9zM479.4 530.5h.9v.9h-.9zM485.9 559.8h.9v.9h-.9zM471.9 563.0h.9v.9h-.9zM492.6 528.2h.9v.9h-.9zM473.3 539.4h.9v.9h-.9zM471.7 549.7h.9v.9h-.9zM494.3 548.9h.9v.9h-.9zM492.5 525.0h.9v.9h-.9zM455.7 538.8h.9v.9h-.9zM473.2 555.3h.9v.9h-.9zM472.8 530.9h.9v.9h-.9z"/>
<path fill="#d0463f" fill-opacity="0.3" d="M471.7 570.5h.9v.9h-.9zM458.5 523.0h.9v.9h-.9zM453.4 582.6h.9v.9h-.9zM470.8 582.5h.9v.9h-.9zM454.1 582.1h.9v.9h-.9zM463.4 582.2h.9v.9h-.9zM453.3 582.5h.9v.9h-.9zM496.5 582.6h.9v.9h-.9zM471.3 582.0h.9v.9h-.9zM462.4 582.6h.9v.9h-.9zM476.2 582.4h.9v.9h-.9zM478.1 582.7h.9v.9h-.9zM499.1 582.5h.9v.9h-.9zM493.9 582.7h.9v.9h-.9zM471.4 582.3h.9v.9h-.9z"/>
<path fill="#d0463f" fill-opacity="0.3" d="M496.0 582.6h.9v.9h-.9zM494.8 582.5h.9v.9h-.9zM482.3 582.5h.9v.9h-.9zM492.9 582.5h.9v.9h-.9zM489.7 582.2h.9v.9h-.9zM452.8 582.7h.9v.9h-.9zM450.9 582.6h.9v.9h-.9zM492.4 582.6h.9v.9h-.9zM473.9 582.0h.9v.9h-.9z"/>
<path d="M452.10,561.00 C453.08,559.46 455.98,554.64 458.00,551.76 C460.02,548.88 461.82,546.43 464.20,543.71 C466.58,541.00 469.38,537.84 472.30,535.47 C475.22,533.10 479.00,530.59 481.70,529.49 C484.40,528.38 486.03,528.70 488.50,528.86 C490.97,529.01 494.27,529.75 496.50,530.43 C498.73,531.10 501.00,532.49 501.90,532.90 L501.90,537.70 C501.00,537.21 498.73,535.60 496.50,534.77 C494.27,533.95 490.97,533.05 488.50,532.74 C486.03,532.43 484.40,531.85 481.70,532.91 C479.00,533.98 475.22,536.57 472.30,539.13 C469.38,541.69 466.58,545.27 464.20,548.29 C461.82,551.30 460.02,554.06 458.00,557.24 C455.98,560.43 453.08,565.71 452.10,567.40 Z" fill="#8f8f8f" fill-opacity="0.42"/>
<path d="M452.10,563.49 C453.00,561.82 455.48,556.74 457.50,553.49 C459.52,550.24 461.73,547.02 464.20,543.99 C466.67,540.96 469.38,537.76 472.30,535.29 C475.22,532.82 479.45,530.24 481.70,529.19 C483.95,528.14 484.23,528.66 485.80,528.99 C487.37,529.32 489.32,530.71 491.10,531.19 C492.88,531.67 494.70,531.54 496.50,531.89 C498.30,532.24 501.00,533.06 501.90,533.29 L501.90,533.31 C501.00,533.08 498.30,532.26 496.50,531.91 C494.70,531.56 492.88,531.69 491.10,531.21 C489.32,530.73 487.37,529.34 485.80,529.01 C484.23,528.68 483.95,528.16 481.70,529.21 C479.45,530.26 475.22,532.84 472.30,535.31 C469.38,537.78 466.67,540.98 464.20,544.01 C461.73,547.04 459.52,550.26 457.50,553.51 C455.48,556.76 453.00,561.84 452.10,563.51 Z" fill="#8f8f8f" fill-opacity="0"/>
<path d="M452.10,564.20 C453.08,562.58 455.98,557.53 458.00,554.50 C460.02,551.47 461.82,548.87 464.20,546.00 C466.58,543.13 469.38,539.77 472.30,537.30 C475.22,534.83 479.00,532.28 481.70,531.20 C484.40,530.12 486.03,530.57 488.50,530.80 C490.97,531.03 494.27,531.85 496.50,532.60 C498.73,533.35 501.00,534.85 501.90,535.30" stroke="#4a6fa6" stroke-width="1.25" fill="none"/>
<path d="M452.10,563.50 C453.00,561.83 455.48,556.75 457.50,553.50 C459.52,550.25 461.73,547.03 464.20,544.00 C466.67,540.97 469.38,537.77 472.30,535.30 C475.22,532.83 479.45,530.25 481.70,529.20 C483.95,528.15 484.23,528.67 485.80,529.00 C487.37,529.33 489.32,530.72 491.10,531.20 C492.88,531.68 494.70,531.55 496.50,531.90 C498.30,532.25 501.00,533.07 501.90,533.30" stroke="#c9524b" stroke-width="1.25" fill="none"/>
<line x1="320.50" y1="495.80" x2="320.50" y2="587.60" stroke="#1a1a1a" stroke-width="1.5"/>
<rect x="319.30" y="574.00" width="2.4" height="2.8" fill="#fff"/>
<line x1="317.80" y1="575.50" x2="323.20" y2="572.70" stroke="#1a1a1a" stroke-width="0.95"/>
<line x1="317.80" y1="578.50" x2="323.20" y2="575.70" stroke="#1a1a1a" stroke-width="0.95"/>
<line x1="317.50" y1="582.80" x2="320.50" y2="582.80" stroke="#1a1a1a" stroke-width="1.2"/>
<text x="314.90" y="585.75" font-size="8.2" text-anchor="end" fill="#1a1a1a" textLength="4.5" lengthAdjust="spacingAndGlyphs" stroke="#1a1a1a" stroke-width="0.22">0</text>
<line x1="317.50" y1="560.10" x2="320.50" y2="560.10" stroke="#1a1a1a" stroke-width="1.2"/>
<text x="314.90" y="563.05" font-size="8.2" text-anchor="end" fill="#1a1a1a" textLength="4.5" lengthAdjust="spacingAndGlyphs" stroke="#1a1a1a" stroke-width="0.22">1</text>
<line x1="317.50" y1="536.90" x2="320.50" y2="536.90" stroke="#1a1a1a" stroke-width="1.2"/>
<text x="314.90" y="539.85" font-size="8.2" text-anchor="end" fill="#1a1a1a" textLength="4.5" lengthAdjust="spacingAndGlyphs" stroke="#1a1a1a" stroke-width="0.22">2</text>
<line x1="317.50" y1="513.70" x2="320.50" y2="513.70" stroke="#1a1a1a" stroke-width="1.2"/>
<text x="314.90" y="516.65" font-size="8.2" text-anchor="end" fill="#1a1a1a" textLength="4.5" lengthAdjust="spacingAndGlyphs" stroke="#1a1a1a" stroke-width="0.22">3</text>
<line x1="320.50" y1="586.90" x2="379.40" y2="586.90" stroke="#1a1a1a" stroke-width="1.4"/>
<line x1="322.30" y1="586.90" x2="322.30" y2="589.90" stroke="#1a1a1a" stroke-width="1.2"/>
<text x="322.90" y="593.30" font-size="7.9" text-anchor="end" fill="#1a1a1a" stroke="#1a1a1a" stroke-width="0.2" transform="rotate(-45 322.90 593.30)" dy="5.4" textLength="4.3" lengthAdjust="spacingAndGlyphs">0</text>
<line x1="336.05" y1="586.90" x2="336.05" y2="589.90" stroke="#1a1a1a" stroke-width="1.2"/>
<text x="336.65" y="593.30" font-size="7.9" text-anchor="end" fill="#1a1a1a" stroke="#1a1a1a" stroke-width="0.2" transform="rotate(-45 336.65 593.30)" dy="5.4" textLength="8.6" lengthAdjust="spacingAndGlyphs">50</text>
<line x1="349.80" y1="586.90" x2="349.80" y2="589.90" stroke="#1a1a1a" stroke-width="1.2"/>
<text x="350.40" y="593.30" font-size="7.9" text-anchor="end" fill="#1a1a1a" stroke="#1a1a1a" stroke-width="0.2" transform="rotate(-45 350.40 593.30)" dy="5.4" textLength="12.9" lengthAdjust="spacingAndGlyphs">100</text>
<line x1="363.55" y1="586.90" x2="363.55" y2="589.90" stroke="#1a1a1a" stroke-width="1.2"/>
<text x="364.15" y="593.30" font-size="7.9" text-anchor="end" fill="#1a1a1a" stroke="#1a1a1a" stroke-width="0.2" transform="rotate(-45 364.15 593.30)" dy="5.4" textLength="12.9" lengthAdjust="spacingAndGlyphs">150</text>
<line x1="377.30" y1="586.90" x2="377.30" y2="589.90" stroke="#1a1a1a" stroke-width="1.2"/>
<text x="377.90" y="593.30" font-size="7.9" text-anchor="end" fill="#1a1a1a" stroke="#1a1a1a" stroke-width="0.2" transform="rotate(-45 377.90 593.30)" dy="5.4" textLength="12.9" lengthAdjust="spacingAndGlyphs">200</text>
<text x="351.00" y="492.60" font-size="9.4" text-anchor="middle" fill="#1a1a1a" textLength="14.0" lengthAdjust="spacingAndGlyphs" stroke="#1a1a1a" stroke-width="0.15">BM</text>
<line x1="381.50" y1="586.90" x2="440.70" y2="586.90" stroke="#1a1a1a" stroke-width="1.4"/>
<line x1="383.00" y1="586.90" x2="383.00" y2="589.90" stroke="#1a1a1a" stroke-width="1.2"/>
<text x="383.60" y="593.30" font-size="7.9" text-anchor="end" fill="#1a1a1a" stroke="#1a1a1a" stroke-width="0.2" transform="rotate(-45 383.60 593.30)" dy="5.4" textLength="4.3" lengthAdjust="spacingAndGlyphs">0</text>
<line x1="397.05" y1="586.90" x2="397.05" y2="589.90" stroke="#1a1a1a" stroke-width="1.2"/>
<text x="397.65" y="593.30" font-size="7.9" text-anchor="end" fill="#1a1a1a" stroke="#1a1a1a" stroke-width="0.2" transform="rotate(-45 397.65 593.30)" dy="5.4" textLength="8.6" lengthAdjust="spacingAndGlyphs">50</text>
<line x1="411.10" y1="586.90" x2="411.10" y2="589.90" stroke="#1a1a1a" stroke-width="1.2"/>
<text x="411.70" y="593.30" font-size="7.9" text-anchor="end" fill="#1a1a1a" stroke="#1a1a1a" stroke-width="0.2" transform="rotate(-45 411.70 593.30)" dy="5.4" textLength="12.9" lengthAdjust="spacingAndGlyphs">100</text>
<line x1="425.15" y1="586.90" x2="425.15" y2="589.90" stroke="#1a1a1a" stroke-width="1.2"/>
<text x="425.75" y="593.30" font-size="7.9" text-anchor="end" fill="#1a1a1a" stroke="#1a1a1a" stroke-width="0.2" transform="rotate(-45 425.75 593.30)" dy="5.4" textLength="12.9" lengthAdjust="spacingAndGlyphs">150</text>
<line x1="439.20" y1="586.90" x2="439.20" y2="589.90" stroke="#1a1a1a" stroke-width="1.2"/>
<text x="439.80" y="593.30" font-size="7.9" text-anchor="end" fill="#1a1a1a" stroke="#1a1a1a" stroke-width="0.2" transform="rotate(-45 439.80 593.30)" dy="5.4" textLength="12.9" lengthAdjust="spacingAndGlyphs">200</text>
<text x="415.20" y="492.60" font-size="9.4" text-anchor="middle" fill="#1a1a1a" textLength="23.3" lengthAdjust="spacingAndGlyphs" stroke="#1a1a1a" stroke-width="0.15">PBSC</text>
<line x1="442.80" y1="586.90" x2="502.70" y2="586.90" stroke="#1a1a1a" stroke-width="1.4"/>
<line x1="444.90" y1="586.90" x2="444.90" y2="589.90" stroke="#1a1a1a" stroke-width="1.2"/>
<text x="445.50" y="593.30" font-size="7.9" text-anchor="end" fill="#1a1a1a" stroke="#1a1a1a" stroke-width="0.2" transform="rotate(-45 445.50 593.30)" dy="5.4" textLength="4.3" lengthAdjust="spacingAndGlyphs">0</text>
<line x1="458.80" y1="586.90" x2="458.80" y2="589.90" stroke="#1a1a1a" stroke-width="1.2"/>
<text x="459.40" y="593.30" font-size="7.9" text-anchor="end" fill="#1a1a1a" stroke="#1a1a1a" stroke-width="0.2" transform="rotate(-45 459.40 593.30)" dy="5.4" textLength="8.6" lengthAdjust="spacingAndGlyphs">50</text>
<line x1="472.70" y1="586.90" x2="472.70" y2="589.90" stroke="#1a1a1a" stroke-width="1.2"/>
<text x="473.30" y="593.30" font-size="7.9" text-anchor="end" fill="#1a1a1a" stroke="#1a1a1a" stroke-width="0.2" transform="rotate(-45 473.30 593.30)" dy="5.4" textLength="12.9" lengthAdjust="spacingAndGlyphs">100</text>
<line x1="486.60" y1="586.90" x2="486.60" y2="589.90" stroke="#1a1a1a" stroke-width="1.2"/>
<text x="487.20" y="593.30" font-size="7.9" text-anchor="end" fill="#1a1a1a" stroke="#1a1a1a" stroke-width="0.2" transform="rotate(-45 487.20 593.30)" dy="5.4" textLength="12.9" lengthAdjust="spacingAndGlyphs">150</text>
<line x1="500.50" y1="586.90" x2="500.50" y2="589.90" stroke="#1a1a1a" stroke-width="1.2"/>
<text x="501.10" y="593.30" font-size="7.9" text-anchor="end" fill="#1a1a1a" stroke="#1a1a1a" stroke-width="0.2" transform="rotate(-45 501.10 593.30)" dy="5.4" textLength="12.9" lengthAdjust="spacingAndGlyphs">200</text>
<text x="479.00" y="492.60" font-size="9.4" text-anchor="middle" fill="#1a1a1a" textLength="57" lengthAdjust="spacingAndGlyphs" stroke="#1a1a1a" stroke-width="0.15">PBSC CD34+</text>
<text x="411.30" y="617.40" font-size="9.0" text-anchor="middle" fill="#1a1a1a" textLength="65" lengthAdjust="spacingAndGlyphs" stroke="#1a1a1a" stroke-width="0.3">Day from transplant</text>
<text x="450.10" y="520.90" font-size="6.3" fill="#1a1a1a" stroke="#1a1a1a" stroke-width="0.05" textLength="12.1" lengthAdjust="spacingAndGlyphs">ULN</text>
<text x="450.80" y="537.30" font-size="6.3" fill="#1a1a1a" stroke="#1a1a1a" stroke-width="0.05" textLength="10.7" lengthAdjust="spacingAndGlyphs">LLN</text>
</svg></body></html>
